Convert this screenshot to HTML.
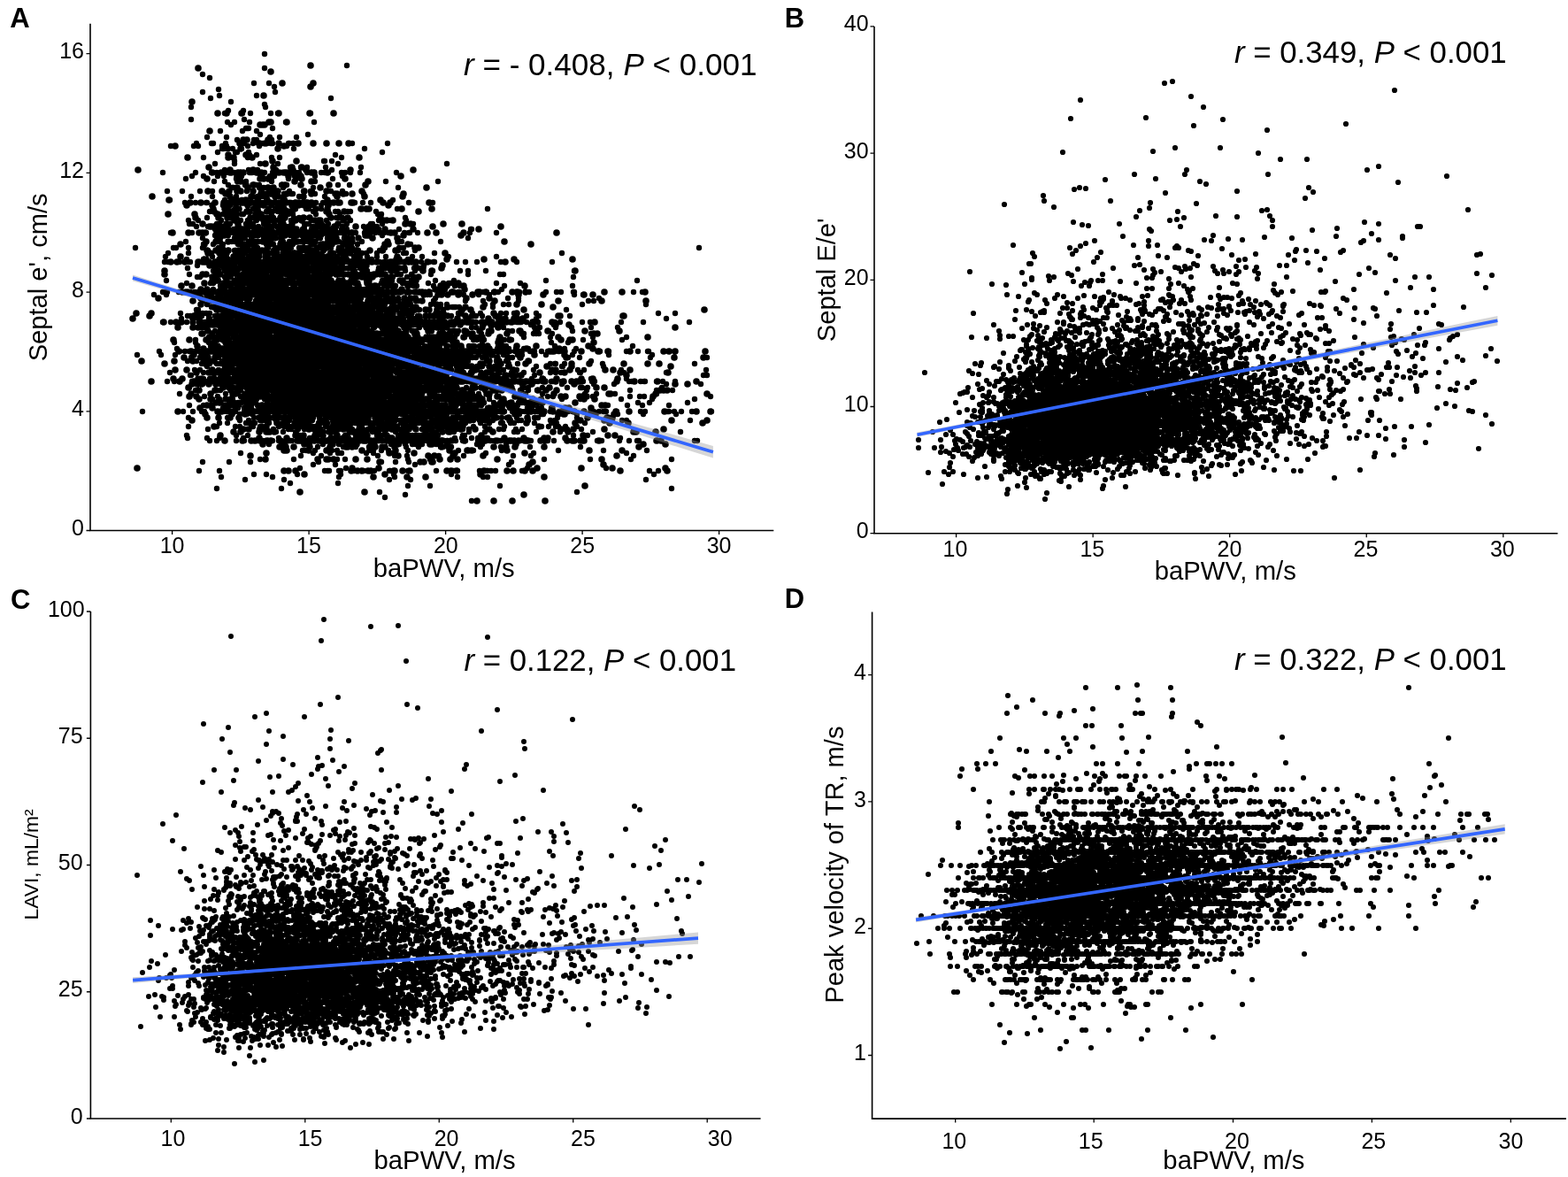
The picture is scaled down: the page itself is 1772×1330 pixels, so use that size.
<!DOCTYPE html>
<html><head><meta charset="utf-8"><title>Scatter plots: baPWV vs echocardiographic indices</title>
<style>html,body{margin:0;padding:0;background:#fff;}svg{display:block;}</style></head>
<body>
<svg width="1772" height="1330" viewBox="0 0 1772 1330" font-family="'Liberation Sans', Arial, Helvetica, sans-serif"><rect width="1772" height="1330" fill="#fff"/><path d="M229 84h0m8 4h0m50 6h0m12-33h0m0 16h0m5 17h0m6 4h0m82-24h0m-176 61h0m0-14h0m13-17h0m9 7h0m9-10h0m1 7h0m6 20h0m3 10h0m1-13h0m3-10h0m4 23h0m9-10h0m1-3h0m1 10h0m6 3h0m1-10h0m7-20h0m9 10h0m1 3h0m6 17h0m0-10h0m5-24h0m3 24h0m9 10h0m28-10h0m4 10h0m19-27h0m-181 54h0m26 0h0m3-3h0m2 3h0m6 13h0m4-23h0m5 7h0m2 0h0m5 10h0m3-24h0m2 20h0m0-3h0m1 3h0m1 0h0m2-6h0m1 3h0m0 3h0m0-13h0m2 13h0m3-27h0m2 27h0m3 4h0m1 0h0m1-14h0m0 14h0m3-10h0m2 6h0m1-20h0m0 14h0m2 0h0m2-17h0m2 0h0m0 20h0m0 13h0m1-6h0m0-27h0m1 30h0m4-13h0m1-4h0m3 0h0m0-10h0m0 27h0m2-13h0m1 0h0m0 3h0m1-13h0m0 10h0m2 0h0m2 0h0m4 0h0m3-7h0m1 7h0m1 0h0m0-4h0m0 20h0m1-16h0m0-17h0m8 33h0m0-23h0m8 10h0m2-3h0m1 0h0m4 0h0m1 0h0m0 6h0m3-13h0m1 7h0m12-10h0m31 23h0m7 3h0m12-16h0m14 6h0m20 4h0m6-10h0m-254 33h0m5 21h0m17 0h0m4-14h0m7-3h0m4-4h0m5 21h0m4-17h0m5 17h0m4-21h0m1 21h0m2-11h0m1-20h0m2 10h0m1 4h0m7 0h0m1 6h0m0-13h0m1 3h0m3 14h0m4 3h0m0-17h0m1 0h0m0 17h0m1 0h0m1-27h0m0-3h0m0 13h0m2 7h0m1 3h0m1-3h0m1-7h0m2 4h0m0-4h0m1 4h0m4 10h0m1-4h0m1 11h0m2-24h0m1 3h0m1 0h0m2 0h0m2-3h0m3 3h0m0 14h0m1-17h0m1 3h0m1 17h0m0-17h0m0 14h0m1-24h0m1 31h0m1-17h0m0 17h0m1-21h0m1 17h0m1-17h0m0-10h0m2 34h0m2-17h0m0 10h0m2-13h0m2 3h0m0 3h0m1 11h0m0-21h0m1-3h0m1 3h0m0 4h0m2-7h0m1 3h0m1-10h0m3 10h0m1 0h0m0 14h0m1-14h0m1 17h0m1 7h0m1-24h0m2 0h0m0 14h0m2-7h0m1 14h0m1-27h0m1 6h0m0 24h0m2 0h0m2-20h0m1-4h0m1 4h0m0 3h0m3-7h0m2-6h0m3 27h0m4-21h0m0-6h0m4 27h0m2 0h0m0-21h0m1 17h0m1-17h0m1 10h0m0-6h0m0 20h0m7-24h0m3-13h0m1 0h0m0 13h0m1-6h0m3 6h0m3 21h0m1-24h0m0-10h0m1 20h0m6-17h0m0 24h0m4-14h0m1 4h0m0 17h0m3-21h0m1 24h0m4-10h0m1-14h0m11 0h0m1-6h0m3 30h0m25-14h0m12-10h0m2 17h0m45-7h0m10-20h0m-313 41h0m17 3h0m4 20h0m1 4h0m2-31h0m2 31h0m3-24h0m1 27h0m2-7h0m5 4h0m4-24h0m1 17h0m0-17h0m1 27h0m2-17h0m1 17h0m2-34h0m2 34h0m1 3h0m2-6h0m2 3h0m1-3h0m2-4h0m1 10h0m1-17h0m0-10h0m1 10h0m1-16h0m1 33h0m2-6h0m0-21h0m0-3h0m0 27h0m1-3h0m0-17h0m2-4h0m0 21h0m0-24h0m4 0h0m0 30h0m0-20h0m1-10h0m2 30h0m0-30h0m0-7h0m1 4h0m1 30h0m0 3h0m1-3h0m2-7h0m1-7h0m0-16h0m0 3h0m1 13h0m0-16h0m1 16h0m1-16h0m0 3h0m1 0h0m1 24h0m1-24h0m0 27h0m1 3h0m0-10h0m1-20h0m0 24h0m1 3h0m0-7h0m1-20h0m0 27h0m2-27h0m1 7h0m0 17h0m0 3h0m0-34h0m1 24h0m0 13h0m1 0h0m1-23h0m0-4h0m0 17h0m1 0h0m0-3h0m1 0h0m0-24h0m0 4h0m1 0h0m0 30h0m0-17h0m0-17h0m1 37h0m0-27h0m1 10h0m0-20h0m0 7h0m1 17h0m1-24h0m1 7h0m0 17h0m1-14h0m0 21h0m1-24h0m0 20h0m0 4h0m0-31h0m1 7h0m1-3h0m0 13h0m0 17h0m1-10h0m0 13h0m1 0h0m0-23h0m0-7h0m1 17h0m0-7h0m0 17h0m0-20h0m1 13h0m0 7h0m1-27h0m1 30h0m0-30h0m0 13h0m0-10h0m1 14h0m0-7h0m0 10h0m0 7h0m1-10h0m1 7h0m0-4h0m1-13h0m1 0h0m1 20h0m1-17h0m1-17h0m0 14h0m1-4h0m1-3h0m0 24h0m1-11h0m0-6h0m0 23h0m1-23h0m1 13h0m1-27h0m0 24h0m0-17h0m0 17h0m1-20h0m0 3h0m2 0h0m0 27h0m1-27h0m0 10h0m1 20h0m0-17h0m0-13h0m1 0h0m1 27h0m0-27h0m1 0h0m0 20h0m2-13h0m0 6h0m1 4h0m1-17h0m0 20h0m1-20h0m0 7h0m2-7h0m2 0h0m0-7h0m0 24h0m1-14h0m2 17h0m1-27h0m0 37h0m2-13h0m0 10h0m0-3h0m0 6h0m2-23h0m0-7h0m0 24h0m1-17h0m1-7h0m0 3h0m1 21h0m0-17h0m0-7h0m3 30h0m0-10h0m1 7h0m1-24h0m0 24h0m0-17h0m1 20h0m2-17h0m0-13h0m1 27h0m1-3h0m1 0h0m3-21h0m0 4h0m2-7h0m2-7h0m1 34h0m1-7h0m1-17h0m1 7h0m0 14h0m3-24h0m5 30h0m0-20h0m1 17h0m0-10h0m2 7h0m0-7h0m0-7h0m0 7h0m1 0h0m1-4h0m2 17h0m1-3h0m0-10h0m5 13h0m0-6h0m1-14h0m3 10h0m0-10h0m2-10h0m3 0h0m9 7h0m0-7h0m1 27h0m2 3h0m1-23h0m2 23h0m3-30h0m0 24h0m2 0h0m4-14h0m1 17h0m1-14h0m1 7h0m0 10h0m3-17h0m1 11h0m9-4h0m3-23h0m5 10h0m2 23h0m7-13h0m1 7h0m0-4h0m3-20h0m5 24h0m22-24h0m43 30h0m1 0h0m18-23h0m-398 44h0m33 16h0m1-6h0m3-4h0m0 10h0m3-33h0m3 17h0m3 0h0m4 16h0m7-23h0m1 20h0m2 3h0m0-16h0m0 6h0m2 10h0m2-33h0m6 37h0m2-4h0m1 0h0m1-33h0m2 17h0m0-11h0m1 24h0m0-17h0m3-13h0m1 33h0m1-13h0m1 13h0m3-10h0m1 4h0m1-14h0m2 20h0m0-30h0m1 30h0m1-27h0m0-6h0m1 3h0m0 30h0m0-13h0m1-3h0m0 16h0m1-16h0m0 16h0m0-33h0m1 10h0m0 27h0m0-31h0m0 17h0m0-20h0m0 7h0m1 20h0m0 3h0m1-20h0m0 20h0m1-13h0m0 13h0m0-20h0m0 14h0m1 0h0m1-27h0m1 3h0m0 24h0m1-27h0m0 37h0m0-10h0m1 10h0m1-4h0m0-30h0m0 30h0m0-13h0m0-20h0m1 33h0m0-33h0m1 33h0m0-33h0m1 37h0m1-4h0m0-23h0m1 23h0m1 0h0m1-13h0m0-14h0m0 31h0m0-27h0m1 13h0m0-23h0m0 6h0m0 14h0m0 13h0m1-33h0m0 33h0m0-10h0m0-3h0m0 3h0m1 10h0m1 0h0m0-20h0m0 20h0m1-10h0m0-13h0m0 13h0m0-23h0m0 10h0m0 13h0m0-20h0m1 17h0m0-20h0m1 13h0m0 20h0m0-23h0m1 23h0m0-33h0m0 33h0m1-3h0m0-10h0m0-3h0m1-4h0m0-13h0m1 20h0m0-3h0m0-4h0m1-7h0m0 27h0m0-13h0m0-7h0m0 20h0m0-10h0m0-6h0m0 16h0m0-33h0m0 33h0m1-33h0m0 3h0m0-3h0m1 0h0m0 33h0m1 0h0m0-13h0m0-3h0m0-17h0m1 10h0m0 17h0m1 6h0m0-33h0m0 20h0m0 13h0m0-3h0m0 3h0m0-3h0m0-30h0m0 20h0m1 13h0m1-30h0m0 30h0m0-27h0m0 27h0m0-33h0m0 23h0m1 4h0m0 6h0m0-3h0m0-30h0m0 33h0m0-10h0m1-23h0m0 20h0m0 13h0m0-30h0m0 24h0m0 3h0m0 3h0m1-13h0m0 13h0m0-30h0m0 24h0m0-24h0m0-3h0m0 17h0m0-7h0m1 7h0m0 16h0m0-3h0m0-27h0m0-3h0m0 3h0m0 7h0m0 23h0m0-10h0m1-23h0m0 20h0m1 13h0m0-13h0m0 17h0m0-10h0m0 10h0m1-27h0m0 7h0m0 16h0m0-13h0m0-20h0m1 33h0m0-30h0m0 27h0m0 3h0m0-3h0m1-3h0m0 6h0m0-33h0m1 0h0m0 37h0m1 0h0m1-4h0m1 0h0m1-27h0m0 4h0m0 23h0m1-33h0m0 20h0m0 13h0m1 4h0m0-10h0m0-4h0m0-3h0m0-20h0m0 30h0m1-17h0m1-3h0m0 27h0m0-4h0m0-30h0m0 30h0m0-33h0m0 13h0m0 4h0m0 10h0m1 6h0m0-16h0m1-17h0m0 33h0m1-3h0m0 7h0m0-4h0m1 4h0m0-37h0m0 30h0m1-30h0m1 33h0m0-3h0m0 3h0m0-10h0m0-10h0m1 20h0m0-13h0m0 13h0m0-20h0m1 24h0m0-4h0m0-33h0m1 20h0m0-3h0m0 13h0m0-30h0m1 33h0m0-27h0m0 27h0m0-10h0m1 10h0m0-13h0m0 13h0m0-10h0m0 10h0m1 0h0m1-16h0m0 16h0m0-33h0m1 27h0m0 3h0m0 3h0m0-16h0m1 16h0m0-33h0m0 33h0m1-20h0m0-7h0m0 7h0m0 20h0m1-6h0m1-14h0m0-10h0m0-3h0m0 33h0m0-20h0m0 17h0m0-10h0m0-10h0m0-10h0m1 37h0m0-4h0m0-33h0m0 37h0m0-7h0m0 3h0m0-33h0m1 30h0m0-27h0m1 27h0m0-30h0m0 33h0m1-3h0m0-17h0m1 17h0m0 3h0m0-20h0m0 20h0m1-33h0m0 33h0m0 4h0m1-10h0m0-10h0m0 6h0m0 4h0m0 10h0m0-27h0m0 27h0m1-4h0m0-3h0m0 3h0m0-30h0m0-3h0m1 17h0m0-17h0m0 37h0m0-4h0m0 4h0m0-34h0m0 34h0m1-24h0m0-13h0m1 30h0m0-3h0m0-14h0m0 20h0m0-23h0m1 23h0m0-27h0m0-6h0m0 33h0m1 0h0m0 4h0m0-27h0m0-7h0m0-3h0m0 3h0m1 30h0m0-33h0m0 10h0m0 23h0m1-33h0m0 33h0m0-6h0m1-24h0m0 24h0m0-27h0m0 10h0m0-10h0m1 23h0m0 14h0m1-37h0m0 17h0m0 20h0m1-4h0m0-23h0m0 23h0m0-6h0m0 6h0m1-16h0m0 16h0m0-23h0m0 23h0m0 4h0m1-4h0m0-30h0m0 34h0m0-4h0m1-33h0m1 20h0m0-14h0m2 27h0m0-33h0m0 27h0m1 10h0m0-37h0m0 27h0m1 6h0m0-10h0m0 10h0m0 4h0m0-20h0m0-11h0m1 27h0m0-6h0m0-17h0m1 23h0m0-27h0m0 17h0m0-6h0m1 16h0m0-6h0m1-4h0m0-23h0m0 30h0m0 3h0m1-33h0m0 3h0m0 17h0m0-20h0m1 33h0m0-20h0m0-10h0m0 17h0m0 3h0m1-13h0m0 13h0m0 7h0m0-3h0m0-27h0m0 37h0m0-4h0m1-23h0m0 23h0m0-10h0m0 10h0m0-33h0m1 37h0m0-34h0m0 30h0m1-33h0m0 33h0m1-33h0m0 33h0m0-13h0m0 13h0m0-16h0m0 6h0m1 10h0m0-10h0m0 7h0m0 3h0m0-10h0m1-17h0m0-6h0m0 30h0m0-13h0m0 20h0m1-10h0m1 0h0m0 10h0m0-34h0m0 3h0m0 27h0m1-33h0m0 33h0m0-16h0m0 16h0m0-30h0m0 30h0m1-10h0m0-23h0m0 37h0m1-20h0m0 20h0m0-37h0m0 13h0m0 20h0m1-33h0m0 20h0m1-7h0m0 20h0m1-3h0m0 3h0m0-33h0m0 37h0m1-37h0m1 0h0m0 6h0m0 27h0m0-23h0m1 23h0m0-33h0m0 3h0m0 24h0m1-17h0m0-10h0m1 37h0m0-31h0m0 17h0m0-10h0m1-7h0m0 21h0m0 6h0m0-33h0m0 17h0m0 16h0m1 0h0m0-6h0m1-27h0m1 33h0m0-10h0m0-23h0m1 30h0m0-30h0m1 0h0m1 33h0m0-33h0m1 30h0m1 3h0m0-33h0m0 10h0m0 23h0m1-23h0m0 7h0m1 13h0m0-7h0m0-3h0m0-20h0m1 30h0m0 3h0m1 4h0m2-24h0m0 14h0m1 6h0m0-27h0m0 4h0m1 17h0m0-27h0m2 13h0m0-7h0m0 14h0m0 10h0m1-13h0m0-11h0m0 27h0m2 0h0m0-33h0m0 10h0m1 23h0m1-20h0m0 20h0m0-20h0m1 4h0m0-17h0m0 6h0m2 21h0m0 6h0m2-33h0m0 27h0m0 6h0m0 4h0m1-14h0m0 7h0m1 0h0m0 3h0m0-20h0m1 7h0m0 13h0m1 0h0m0 4h0m1 0h0m0-10h0m1 10h0m1-27h0m0 13h0m1 10h0m2-33h0m2 23h0m1 4h0m1 6h0m1-33h0m3 30h0m1 3h0m1 0h0m1 0h0m1-33h0m2 27h0m0-4h0m1 10h0m1 0h0m1-13h0m0-20h0m0 33h0m1-33h0m2 3h0m0 34h0m1-20h0m0 3h0m1-20h0m0 33h0m1-16h0m0 16h0m1-6h0m2-17h0m1-10h0m0 33h0m1 0h0m0-33h0m1 33h0m0-33h0m2 33h0m1 0h0m2 0h0m2 0h0m1-3h0m1-10h0m0-10h0m1 23h0m0-16h0m1 16h0m0-16h0m2 16h0m0-23h0m2 13h0m0-6h0m0 16h0m1-33h0m2 23h0m2 7h0m1 3h0m0-33h0m1 0h0m1 13h0m1 20h0m1-6h0m3-7h0m1 17h0m2-37h0m4 33h0m1-6h0m2 10h0m6-4h0m5 0h0m1 0h0m0-10h0m0 10h0m7-23h0m9 17h0m9 6h0m10 0h0m3-27h0m2-6h0m8 33h0m22-33h0m0 27h0m5 6h0m18 0h0m40 0h0m11-10h0m155-6h0m-616 53h0m10-3h0m2 0h0m2-13h0m0 16h0m1-3h0m13 0h0m9-10h0m1-17h0m2 7h0m1 20h0m3 3h0m2-3h0m3-17h0m1 17h0m2-17h0m4 17h0m3 0h0m1 0h0m1 0h0m2 3h0m1-13h0m3 0h0m0 7h0m0-21h0m1 11h0m1-7h0m0 20h0m2-13h0m0-4h0m0 4h0m1 20h0m1-7h0m0-13h0m2 6h0m0 4h0m1-4h0m1 0h0m0 4h0m1-4h0m1-20h0m0 17h0m1 7h0m0-21h0m0 7h0m1 17h0m0 3h0m1-3h0m0-7h0m0-13h0m1-4h0m0 24h0m0-17h0m1 17h0m1 0h0m0-7h0m0 7h0m1 0h0m0-20h0m1 3h0m0 17h0m0 3h0m0-3h0m1-20h0m0 20h0m1-24h0m0 31h0m0-7h0m1-10h0m1-3h0m0-14h0m1 14h0m0 3h0m1 0h0m0 10h0m1 7h0m0-24h0m0 17h0m0-7h0m1-6h0m1 13h0m0-17h0m0 17h0m1-7h0m0 7h0m0-17h0m0 17h0m1-3h0m0-10h0m1 13h0m1-20h0m0 20h0m0 7h0m1-20h0m0-7h0m0 23h0m0-3h0m0-10h0m1 0h0m0 10h0m1 7h0m0-4h0m0-3h0m0-27h0m0 30h0m1-23h0m0 3h0m0 7h0m0 10h0m0 7h0m0-27h0m0 20h0m1 0h0m0-24h0m1 27h0m0-3h0m0-3h0m0-7h0m1-17h0m0 27h0m0-3h0m1-21h0m0 14h0m1 7h0m0 3h0m0-27h0m1 30h0m0-3h0m1-13h0m0-4h0m0 14h0m0-17h0m1 13h0m0-6h0m0 13h0m1 0h0m0-27h0m1 7h0m0 20h0m1 3h0m0-20h0m0-10h0m0 27h0m1-3h0m0-14h0m0 14h0m0 3h0m1-27h0m0 24h0m0-24h0m0 27h0m1-13h0m0 6h0m0 7h0m1 0h0m0-3h0m0 3h0m1-27h0m0 27h0m0-20h0m0-4h0m1 4h0m0-4h0m0 24h0m1-24h0m0 17h0m0-10h0m0 14h0m0-21h0m1 24h0m0-17h0m0-10h0m0 7h0m0 27h0m1-7h0m0-7h0m0 7h0m0-10h0m1 7h0m0 3h0m0-20h0m0 3h0m0 10h0m0 4h0m0-14h0m1 17h0m0-3h0m0 3h0m1-3h0m0 3h0m0-20h0m0 7h0m0 6h0m1 7h0m1-10h0m0 7h0m0 10h0m0-31h0m0 24h0m0 3h0m1 4h0m0-20h0m0 6h0m0-17h0m0 31h0m0-7h0m1-3h0m0-24h0m0 14h0m1 13h0m0-13h0m0-14h0m1 30h0m0-27h0m0 11h0m0 13h0m1 3h0m0 4h0m0-27h0m0-7h0m0 10h0m0 14h0m1-14h0m0 10h0m0-6h0m0-7h0m1 20h0m0-20h0m1 20h0m1-17h0m0 17h0m0-7h0m0 4h0m0 3h0m1 0h0m1 3h0m0-6h0m0-17h0m1 20h0m0-7h0m0 7h0m1-7h0m0 7h0m0-3h0m0 3h0m0 3h0m0-3h0m0-10h0m0 10h0m1 0h0m0-24h0m0 24h0m1-20h0m0 17h0m1-24h0m0 20h0m0-20h0m0 24h0m0 3h0m0-27h0m0 20h0m1 7h0m1 0h0m0-7h0m0 14h0m0-20h0m0 10h0m1-24h0m0 27h0m0-10h0m0-14h0m0 17h0m1-3h0m0-3h0m0 10h0m0 6h0m0-23h0m1 20h0m0-24h0m1 27h0m0-13h0m0 7h0m1-7h0m0 10h0m1 0h0m0 3h0m0 4h0m0-7h0m1-13h0m0-14h0m0 7h0m0 7h0m0-14h0m1 27h0m0-10h0m0 10h0m0-3h0m0-7h0m1-7h0m0 20h0m0-13h0m1-3h0m0 3h0m0 3h0m0 7h0m1 3h0m0-3h0m0-20h0m1-4h0m0 24h0m0-3h0m1 10h0m0-17h0m0-7h0m0 20h0m0 4h0m1-31h0m0 7h0m0 17h0m0-20h0m0 27h0m0-7h0m1 0h0m0-10h0m1-7h0m0 17h0m0 7h0m0-7h0m0-20h0m1 7h0m0 20h0m0-7h0m0-27h0m0 7h0m0-4h0m0 4h0m1 10h0m0-7h0m0 17h0m0-27h0m1 27h0m0-24h0m0 27h0m0-3h0m0-7h0m1 7h0m1-3h0m0 3h0m0 7h0m0-27h0m1 13h0m0-13h0m1 20h0m0-13h0m0-14h0m0 27h0m1-7h0m0 7h0m0 7h0m0-7h0m0 3h0m0-3h0m2-3h0m0-4h0m0-17h0m0-3h0m0 27h0m1-24h0m0 31h0m0-7h0m0-7h0m0 7h0m1-24h0m0 21h0m0 3h0m0-3h0m0-24h0m0 20h0m1 10h0m0-6h0m0-14h0m0 17h0m0 3h0m0-3h0m1 0h0m0-27h0m1 24h0m0-21h0m0-3h0m1 10h0m0 17h0m1-24h0m0 24h0m0-17h0m0 17h0m2-7h0m0-20h0m0 17h0m0-7h0m0 17h0m0-27h0m1 24h0m0 3h0m0-13h0m0 13h0m1 0h0m0-13h0m0 13h0m0-7h0m0 14h0m0-31h0m1 24h0m0-7h0m0 7h0m1 0h0m0 3h0m0-16h0m0 13h0m1 3h0m0-3h0m1 0h0m0-17h0m0 4h0m0 20h0m0-7h0m1-10h0m0 17h0m1 0h0m1-34h0m0 17h0m0 10h0m0-13h0m0-4h0m0 17h0m1 3h0m0-6h0m1-7h0m0-14h0m0 4h0m0-7h0m0 24h0m1 0h0m0 3h0m0 3h0m1-3h0m1-10h0m0 3h0m0 7h0m1-10h0m0-3h0m0 16h0m0-6h0m0-21h0m0 24h0m1 0h0m0-20h0m0 20h0m1 7h0m0-7h0m1 0h0m1-7h0m0 10h0m2 0h0m0-3h0m0-3h0m0-24h0m0 27h0m1 0h0m0-7h0m0 7h0m0 3h0m0-13h0m0 13h0m1-3h0m0 7h0m0-4h0m1-6h0m0 10h0m0-17h0m0-14h0m0 24h0m1 0h0m0-7h0m0 7h0m1 0h0m0-3h0m0-17h0m0 20h0m1 0h0m0-7h0m0-13h0m1 20h0m0-24h0m0 11h0m1 13h0m0-27h0m0 20h0m0 7h0m1 0h0m0-20h0m0-4h0m1 11h0m0 16h0m0-10h0m0 10h0m0-3h0m1-27h0m0 30h0m0-10h0m0 7h0m1 0h0m1-10h0m0 13h0m0-3h0m0-7h0m1 10h0m1 0h0m0-3h0m0-27h0m0 27h0m1 0h0m1 0h0m0-27h0m0 27h0m1-10h0m0 7h0m0-4h0m1-3h0m0 10h0m0 7h0m1 0h0m0-20h0m1-14h0m0 27h0m1 3h0m0-16h0m0 20h0m0-31h0m1 24h0m0-27h0m1 17h0m0-7h0m0-7h0m0 11h0m1 3h0m0 10h0m0-10h0m0 10h0m0-17h0m1 20h0m0-23h0m1 20h0m0-7h0m0 7h0m0-17h0m0 17h0m1 0h0m0 7h0m0-7h0m2 0h0m0-27h0m0 27h0m1 0h0m0 7h0m0-27h0m1 20h0m0-20h0m1 20h0m1 0h0m0-24h0m1 21h0m0 3h0m0-17h0m2 0h0m0 17h0m0-13h0m1 16h0m0-27h0m1 24h0m0-7h0m1-13h0m0 20h0m1 3h0m0 4h0m0-10h0m0 6h0m1 0h0m0 4h0m1-7h0m1-3h0m0 3h0m0-20h0m0 17h0m1-4h0m1 14h0m0-7h0m0-7h0m1 7h0m0 7h0m0-27h0m1 27h0m0-14h0m0 14h0m1 0h0m0-7h0m1 7h0m0-14h0m1-20h0m0 24h0m0-21h0m1 24h0m0-24h0m0 31h0m1-7h0m1 0h0m0-3h0m0 3h0m0-10h0m0 7h0m1-10h0m1-14h0m0 27h0m1 0h0m0-7h0m0 10h0m0-16h0m1-14h0m1 27h0m1-10h0m0-7h0m0 20h0m1 4h0m1-7h0m0-10h0m0-17h0m0 14h0m0 20h0m2-14h0m0 7h0m1-17h0m0 17h0m0-13h0m1 0h0m0-11h0m0 7h0m1 0h0m1 14h0m0-24h0m0 27h0m2 0h0m0-7h0m2-13h0m1 27h0m0-7h0m0 7h0m1-7h0m1-27h0m0 27h0m1-20h0m1 20h0m1-10h0m2-17h0m1 3h0m0 14h0m2-7h0m0 17h0m2 0h0m0-10h0m0 10h0m1 0h0m2-20h0m0 7h0m2 6h0m1 7h0m0 7h0m0-7h0m0-27h0m1 3h0m1 31h0m1-14h0m3-20h0m6 27h0m1 0h0m2 3h0m1-13h0m0 10h0m1 0h0m1 3h0m1-23h0m2-4h0m1 17h0m2-6h0m0 20h0m8-7h0m1-10h0m2 7h0m4-7h0m2 0h0m1 10h0m3 0h0m0-13h0m1 6h0m4 7h0m1 0h0m1-7h0m0-17h0m4 27h0m5-23h0m0-4h0m5 27h0m7 0h0m0-3h0m5 0h0m3-24h0m1 24h0m3 3h0m5-3h0m3-10h0m2 10h0m2-20h0m2 17h0m2-17h0m1 13h0m4 14h0m12 0h0m1-7h0m1-10h0m6 10h0m4 0h0m19 0h0m0-13h0m12 13h0m5 0h0m13-7h0m1-10h0m0 17h0m1-24h0m0 24h0m0 3h0m10 0h0m18 4h0m39-7h0m4-13h0m6 13h0m-542 34h0m9 0h0m11-10h0m1 6h0m6 4h0m1-7h0m3 0h0m7-7h0m2 0h0m1 14h0m1 3h0m2 3h0m0-3h0m0-10h0m1 7h0m0-10h0m0-14h0m2 30h0m1-6h0m1 0h0m0 6h0m0-16h0m1 10h0m0-20h0m2 13h0m0 7h0m0-4h0m0-3h0m1 3h0m0-6h0m2-7h0m2 0h0m2 27h0m0-17h0m1 3h0m0-3h0m1 7h0m1-20h0m0-4h0m1 37h0m0-13h0m1 13h0m0-27h0m1-6h0m0 33h0m1-33h0m0 26h0m0-30h0m0 17h0m1 10h0m0-20h0m1 0h0m0 17h0m1 10h0m1-10h0m0 6h0m0-6h0m1 3h0m0-13h0m0-7h0m0-7h0m0 24h0m0 13h0m1-3h0m0-30h0m0 23h0m0-3h0m0-14h0m1 0h0m0 14h0m0 6h0m1-30h0m0 30h0m0-6h0m1 3h0m0-3h0m0-20h0m0 16h0m0-10h0m1 14h0m0-7h0m0-17h0m0 24h0m0-7h0m1-3h0m0 16h0m0-26h0m1 0h0m0 30h0m1-27h0m0 10h0m0-17h0m0 34h0m0-10h0m0 10h0m0-24h0m1 14h0m0-14h0m0-3h0m0 20h0m0-13h0m0-10h0m1 10h0m0 13h0m0-17h0m0-6h0m1 20h0m0 3h0m0-3h0m0-14h0m0 7h0m0-13h0m1 3h0m0-3h0m0 10h0m0 10h0m1-7h0m0-10h0m0 17h0m0 10h0m0-20h0m0 3h0m0 3h0m0-3h0m1 10h0m0-20h0m0-7h0m1 24h0m0-24h0m0 20h0m0 10h0m0-16h0m0 10h0m1-4h0m0-20h0m0 20h0m0 4h0m0-4h0m0 10h0m0-30h0m1 0h0m0 7h0m0 27h0m1 0h0m0 3h0m0-7h0m1-3h0m0-23h0m0 20h0m1 0h0m0-14h0m0 10h0m0-16h0m0 20h0m1 10h0m0-10h0m0 13h0m0-7h0m0-26h0m0 23h0m1-20h0m0 17h0m0-20h0m0 23h0m1 0h0m0 7h0m0-20h0m0 3h0m0 13h0m0-6h0m1-24h0m0 24h0m1 0h0m0-4h0m0-10h0m0 14h0m1 3h0m0-3h0m0-17h0m0 23h0m0-6h0m0 3h0m0 3h0m0 7h0m1-27h0m0 20h0m0-6h0m0-20h0m0 23h0m0-3h0m0-4h0m0 14h0m0-7h0m0 10h0m1-17h0m0 17h0m0-13h0m0-4h0m0 4h0m0-14h0m0 4h0m0-7h0m0 13h0m0 7h0m1-3h0m0-10h0m0-7h0m0 17h0m0-4h0m0 14h0m0-10h0m0-4h0m1 7h0m0-3h0m0 13h0m0-17h0m0 4h0m1 13h0m0-7h0m0-16h0m0 20h0m1-10h0m0-10h0m0 10h0m0-17h0m0 17h0m0-14h0m0 14h0m0-4h0m0 10h0m1-26h0m0 6h0m0 10h0m0 4h0m0-17h0m0 17h0m1 10h0m0-7h0m0 10h0m0-13h0m0-7h0m0 20h0m0-33h0m0-4h0m0 10h0m0 20h0m1 4h0m0-34h0m0 24h0m0-10h0m0 23h0m0-3h0m0-10h0m0 6h0m0-23h0m1 17h0m0 3h0m0-17h0m0 14h0m0 10h0m0-10h0m1 6h0m0-6h0m0-20h0m0 20h0m0-4h0m0 17h0m1-7h0m0-30h0m0 10h0m1 24h0m0 3h0m0-3h0m0-30h0m0 6h0m0-3h0m0 27h0m0-24h0m1-3h0m0 17h0m0 6h0m0-30h0m1 24h0m0-4h0m0-13h0m0 17h0m1-17h0m0 17h0m0-20h0m0 23h0m0-27h0m1 14h0m0 10h0m0 10h0m0-10h0m0-4h0m0-20h0m0 10h0m1 7h0m0-7h0m0 24h0m0-34h0m1 20h0m0 4h0m0-14h0m0 20h0m1-6h0m0-20h0m0 6h0m0-10h0m0 24h0m0-17h0m0 27h0m0-30h0m1 13h0m0-10h0m0 17h0m0 13h0m0-7h0m0-30h0m0 24h0m0-7h0m0 20h0m0-13h0m0-4h0m1 0h0m0 10h0m0-6h0m1-10h0m0 13h0m0-3h0m0 6h0m0 7h0m0-13h0m0 10h0m1-10h0m0 13h0m0-33h0m0 23h0m0-3h0m0-10h0m0 16h0m1-6h0m1 0h0m0-4h0m0-3h0m0 3h0m0 7h0m1-20h0m0 27h0m0-14h0m1 10h0m0-16h0m1 10h0m0-4h0m0-10h0m0 24h0m0-17h0m0-7h0m1-6h0m0 20h0m0-14h0m0 7h0m0 7h0m0-10h0m0 10h0m0-7h0m0-13h0m1 13h0m0 10h0m0-17h0m0 7h0m0 20h0m0-17h0m0-10h0m0 24h0m1-17h0m0 7h0m0-14h0m0-10h0m0 10h0m0 14h0m0-17h0m0 13h0m0-13h0m1 13h0m0 10h0m0-16h0m0 6h0m0 4h0m0-14h0m0 14h0m1-4h0m0 4h0m0-14h0m0 24h0m1-30h0m0 3h0m0-3h0m0 20h0m0-20h0m1 20h0m0-24h0m0 20h0m0 4h0m0 10h0m0-24h0m1-3h0m0 17h0m0 6h0m0-10h0m1-10h0m0 4h0m1-7h0m0 23h0m0 7h0m0-20h0m0-13h0m0 23h0m0-20h0m1 17h0m0-4h0m0 4h0m0-10h0m0 3h0m0 7h0m0-10h0m0 23h0m1-13h0m0-24h0m0 4h0m0 20h0m0 13h0m0-13h0m0-14h0m0-3h0m1 20h0m0 7h0m0-14h0m0-20h0m1 4h0m0 33h0m0-20h0m0-13h0m0 30h0m0-17h0m0-3h0m1 10h0m0-14h0m0 14h0m0-20h0m0 20h0m0 6h0m0-20h0m1 17h0m0-3h0m0 13h0m0-10h0m0 7h0m1-27h0m0-3h0m0 10h0m0-10h0m0 23h0m0-3h0m0 6h0m0-6h0m0-24h0m1 27h0m0-7h0m0 17h0m0-10h0m0 7h0m1-7h0m0-27h0m0 4h0m0 20h0m0 10h0m1-14h0m0 17h0m0-37h0m0 27h0m0-7h0m0-16h0m0 20h0m1-24h0m0 27h0m0-3h0m0-24h0m0 17h0m0 17h0m0-30h0m0 20h0m0-7h0m1 10h0m0-17h0m0 10h0m0 7h0m0-13h0m0 13h0m1-10h0m0 17h0m0-27h0m0 7h0m0 10h0m0-14h0m1 14h0m0-24h0m0 24h0m1 0h0m0 10h0m0-30h0m0 3h0m0 10h0m0 7h0m0-7h0m0-17h0m1 34h0m0-30h0m1 20h0m0-14h0m0 24h0m0-27h0m1 17h0m0-10h0m0-10h0m0 20h0m0-4h0m1 17h0m0-33h0m0 13h0m0 13h0m0-23h0m0 30h0m1-27h0m0 4h0m0 10h0m0-17h0m0 27h0m0-7h0m0-13h0m1-7h0m0 3h0m0 14h0m0-24h0m1 10h0m0 14h0m0 13h0m0-17h0m0 17h0m0-13h0m1-4h0m0 17h0m0-13h0m0 6h0m0-6h0m0-17h0m0 20h0m1-17h0m0 14h0m0 6h0m0-16h0m0 10h0m0 13h0m0-3h0m1-30h0m0 16h0m0 4h0m0-14h0m0 4h0m0 10h0m0-17h0m0 17h0m0 13h0m0-3h0m0-17h0m1 17h0m0-30h0m0 26h0m0-6h0m0 3h0m0 7h0m0-7h0m0-23h0m0 20h0m1 10h0m0-10h0m0-7h0m0-13h0m0 26h0m0-3h0m1 0h0m0-10h0m0 7h0m0-4h0m0 4h0m1-10h0m0 10h0m0 3h0m0-7h0m1 10h0m0 7h0m0-13h0m1-14h0m0 17h0m0-27h0m0 24h0m0 6h0m0-6h0m1 0h0m0 6h0m0-20h0m0 20h0m1-6h0m0 6h0m0-6h0m0-7h0m0 7h0m0 13h0m1-23h0m0-7h0m0 3h0m0 14h0m0-14h0m1 14h0m0-4h0m0 4h0m0 13h0m0-13h0m1-14h0m0 27h0m0-13h0m0-7h0m0 7h0m0 10h0m0-10h0m0-4h0m0-3h0m1 13h0m0 4h0m0-20h0m1 13h0m0-3h0m0-17h0m0 23h0m1-30h0m0 34h0m0-10h0m0 10h0m0-27h0m0-3h0m0 20h0m0-10h0m0 20h0m0-7h0m0-3h0m1 0h0m0 13h0m0-37h0m0 17h0m0 7h0m0-14h0m0 10h0m0 4h0m0 13h0m0-3h0m0-14h0m1 17h0m0-13h0m0-17h0m0 17h0m0 3h0m0-20h0m0 23h0m0-30h0m1 34h0m0-10h0m0 10h0m0-10h0m1-4h0m0-16h0m0 33h0m0-13h0m0-14h0m0 7h0m0 7h0m0-7h0m0-13h0m0 30h0m0-34h0m1 24h0m0-4h0m0-3h0m0 7h0m0 3h0m0-10h0m1 7h0m0 3h0m0-17h0m0 27h0m0-27h0m0 14h0m1-7h0m0 7h0m0 13h0m1-13h0m0-24h0m0 14h0m1 0h0m0 13h0m0-3h0m1 3h0m0-27h0m0 37h0m1-20h0m0-7h0m0 14h0m0 13h0m0-7h0m1-3h0m0-27h0m0 34h0m0-24h0m1 4h0m0 10h0m0 3h0m0-10h0m0 17h0m0 3h0m1-13h0m0 10h0m0-17h0m0-17h0m1 24h0m0-17h0m0 17h0m0 10h0m0-14h0m1 17h0m0-13h0m0-10h0m1-14h0m0 24h0m0-4h0m0-13h0m0 7h0m0-7h0m0 17h0m0-14h0m0 24h0m0-10h0m1 0h0m0-10h0m0-14h0m0 7h0m0 7h0m0 13h0m0-3h0m2 0h0m0 10h0m1-14h0m0 14h0m0-34h0m0 24h0m1-10h0m0 10h0m0 13h0m0-13h0m0-17h0m0 23h0m0-6h0m0-4h0m0-13h0m1 17h0m0 3h0m0-3h0m0-24h0m0 37h0m0-13h0m1 0h0m0-20h0m0 23h0m0-27h0m0 34h0m1-10h0m0-10h0m0 10h0m0 3h0m0 3h0m1-16h0m0 13h0m0-17h0m0-10h0m0 4h0m0 26h0m0-13h0m0-7h0m0 14h0m0-7h0m0 7h0m1-7h0m0-3h0m1 10h0m0 13h0m0-10h0m1-10h0m0 7h0m0-7h0m0 3h0m1 4h0m0 13h0m0-27h0m0 14h0m0 13h0m1-13h0m0-4h0m0-13h0m0 30h0m1-33h0m0 20h0m0-24h0m0 34h0m1-10h0m0-4h0m0-16h0m0 23h0m1 7h0m0-10h0m1-24h0m0 27h0m0-10h0m0 7h0m0-14h0m0 14h0m0 3h0m1-17h0m0 14h0m0-17h0m0 23h0m1 0h0m0-3h0m1-3h0m0 10h0m0-10h0m0-24h0m1 27h0m0 7h0m0-7h0m0 7h0m0-7h0m0-17h0m1 20h0m0-6h0m0-10h0m0 10h0m1 13h0m0-7h0m0-20h0m0 17h0m0-20h0m0 17h0m0 13h0m0-10h0m1-10h0m0-13h0m1 13h0m0-7h0m0-6h0m0 33h0m0-30h0m0 17h0m0 10h0m1-34h0m0 4h0m0-4h0m0 24h0m0-14h0m0 14h0m1-24h0m0 24h0m1 0h0m0-20h0m0 30h0m0-34h0m0 17h0m0-13h0m0 16h0m0 17h0m1-27h0m0 17h0m0-10h0m0 7h0m0-10h0m1-14h0m0 24h0m0 13h0m0-30h0m0 30h0m0-27h0m0 24h0m1-10h0m0-17h0m1 20h0m0-10h0m0-13h0m0 20h0m0-17h0m0 17h0m1 0h0m0-7h0m0 3h0m1 4h0m0-17h0m0 17h0m0 6h0m1-10h0m1 4h0m1 3h0m0 7h0m0-7h0m1 0h0m0-13h0m0 23h0m0-3h0m0-10h0m0 6h0m1-20h0m1 17h0m0-13h0m0 10h0m0-14h0m0 7h0m0 7h0m1-14h0m0 27h0m0-13h0m1 10h0m0-7h0m1 10h0m0-3h0m1-30h0m0 6h0m0-3h0m0 30h0m0-37h0m0 4h0m0 20h0m0 13h0m1-7h0m0-13h0m0-17h0m0 4h0m1 20h0m0-10h0m0 16h0m0-6h0m1 0h0m0-20h0m1 33h0m0-37h0m1 27h0m0-10h0m1 7h0m0-10h0m0 10h0m0 3h0m0-3h0m1-14h0m0 4h0m0-10h0m1 33h0m0-27h0m0 4h0m0 3h0m1 3h0m0 4h0m0-10h0m0 10h0m1 0h0m0-24h0m1 24h0m0-14h0m0 20h0m1-23h0m0 17h0m0-7h0m0 7h0m1 0h0m0 6h0m1 0h0m0-26h0m0 20h0m0 3h0m1 7h0m0-7h0m0-3h0m1-7h0m0 13h0m0-30h0m1 20h0m0 14h0m0-17h0m0 10h0m0-3h0m1-24h0m0 24h0m1 13h0m1-37h0m0 17h0m0 3h0m1-10h0m0 10h0m0 4h0m1 0h0m0 13h0m0-3h0m0-14h0m1 4h0m1-4h0m0 4h0m0-17h0m0 27h0m1-27h0m0 3h0m1 14h0m0 13h0m1-10h0m0-3h0m0-24h0m0 10h0m0 24h0m1-10h0m0-17h0m0 17h0m2 0h0m0-4h0m0-13h0m1 0h0m0 13h0m1 4h0m0 13h0m1 0h0m0-20h0m0 10h0m0-3h0m1-10h0m0 23h0m0-27h0m1 4h0m0 6h0m1-20h0m1 7h0m0 17h0m1 0h0m0-14h0m0 27h0m0-13h0m0-17h0m1 17h0m0 6h0m0-20h0m2 17h0m0-3h0m0-20h0m1 16h0m0-3h0m0 3h0m1-16h0m0 10h0m0 10h0m1 0h0m0-14h0m0 14h0m1-14h0m0 24h0m0-10h0m1-14h0m0 24h0m0-7h0m1 10h0m0-30h0m0 3h0m0 17h0m0-3h0m1 0h0m0-4h0m0-13h0m1 27h0m0-10h0m0-14h0m0-10h0m0 20h0m1 4h0m1-4h0m0 4h0m0-7h0m0 3h0m1-10h0m0-10h0m0 20h0m0-3h0m1 13h0m0-20h0m0 7h0m1 7h0m1 0h0m3 0h0m1 0h0m2 6h0m1-6h0m1 0h0m2 10h0m1-10h0m0-20h0m1 30h0m0-17h0m0 17h0m2-34h0m0 24h0m1 0h0m1 0h0m1 0h0m1 0h0m0-7h0m1 0h0m1 13h0m0-6h0m1-10h0m1-10h0m0 3h0m1 17h0m1 10h0m0-14h0m0 10h0m1-6h0m0-14h0m1 27h0m0-13h0m1 0h0m2-17h0m0-3h0m4 33h0m0-13h0m1-7h0m0 10h0m0 7h0m1-10h0m0-17h0m0 20h0m0-20h0m2 20h0m0-20h0m1 17h0m1 0h0m0-17h0m3 7h0m0 10h0m0 10h0m1-27h0m1 17h0m1-14h0m2 0h0m2 14h0m1-24h0m1 34h0m0-10h0m1-4h0m1 4h0m2 13h0m0-13h0m2-7h0m0 13h0m1-6h0m0-10h0m3 3h0m1 13h0m0-6h0m0-7h0m5-3h0m1 23h0m0-13h0m1-7h0m1 7h0m0-24h0m1 24h0m1-20h0m3 20h0m1 10h0m3-4h0m1-6h0m1-17h0m0-3h0m3 23h0m3-3h0m0-4h0m1 4h0m0-7h0m0 10h0m1-3h0m1-10h0m1 10h0m2-20h0m0 26h0m3-16h0m2 20h0m1-30h0m0 20h0m1 0h0m3 0h0m0 10h0m1-10h0m1-10h0m3 10h0m1 0h0m0-4h0m1-20h0m1 24h0m1 0h0m1 0h0m1-4h0m2 17h0m3-20h0m0 7h0m5 3h0m2-3h0m1 13h0m1-7h0m1 4h0m1-20h0m0 23h0m0-17h0m2 4h0m1 13h0m0-7h0m0-13h0m1 13h0m10 4h0m4 3h0m2-10h0m1-3h0m1 6h0m5-6h0m7-14h0m4 7h0m2 13h0m1 4h0m11-10h0m0-20h0m7-4h0m2 24h0m1 13h0m0-7h0m3-30h0m27 30h0m4-6h0m25 0h0m3-20h0m14 10h0m9 6h0m10-6h0m16 10h0m-624 37h0m25-4h0m2 4h0m15-14h0m1 14h0m2-7h0m3 3h0m6 0h0m3 11h0m2-11h0m1 0h0m1 7h0m1-7h0m3 21h0m1-34h0m0 3h0m0 10h0m1 11h0m3-11h0m1 7h0m0 14h0m2-7h0m2-3h0m2-7h0m1 7h0m1 6h0m0-17h0m1 0h0m1-16h0m0 27h0m0-21h0m1 24h0m1-30h0m0 10h0m0 6h0m1 11h0m0 10h0m0-27h0m2 6h0m1 0h0m1-3h0m0 3h0m1-16h0m1 30h0m0-17h0m1-10h0m0 17h0m0-7h0m1 7h0m0 17h0m0-14h0m2-10h0m0 17h0m1-14h0m0 14h0m1-3h0m1 0h0m0-7h0m0-7h0m1-13h0m0 37h0m0-21h0m0 4h0m0-4h0m1 4h0m0 3h0m0 10h0m1-27h0m0 10h0m0 21h0m0-17h0m2-20h0m1 23h0m1 4h0m0-24h0m0 13h0m1 14h0m0-14h0m0 17h0m0-20h0m0 24h0m1-27h0m1 6h0m0-3h0m0 24h0m0-21h0m0 14h0m0 3h0m1-17h0m0-3h0m1 3h0m0-10h0m0-6h0m0 16h0m0 11h0m1-21h0m0 31h0m0-31h0m1 17h0m0-13h0m0-10h0m0 16h0m0 4h0m1 17h0m0-24h0m0 10h0m0-13h0m0 17h0m0-4h0m1-7h0m0-13h0m0 34h0m0-21h0m0 11h0m0-11h0m0 4h0m0-7h0m0 3h0m1-3h0m0 10h0m1 4h0m0-7h0m0-4h0m0 17h0m0-17h0m1 11h0m0-27h0m0 16h0m0 14h0m1-3h0m0-7h0m0 10h0m0-24h0m0 10h0m0-13h0m1 3h0m0 31h0m0-21h0m0 21h0m0-21h0m0 14h0m0-3h0m0-11h0m1 4h0m0-7h0m0 14h0m1-27h0m0 20h0m0-4h0m0-13h0m0 3h0m0 24h0m1 3h0m0-33h0m0 20h0m0 17h0m0-21h0m1-13h0m0 13h0m0-3h0m1 0h0m0-3h0m0 6h0m0 11h0m0-7h0m0-10h0m0 6h0m1-13h0m0 13h0m0-10h0m0 4h0m0 6h0m0 14h0m1-14h0m0 17h0m0 4h0m0-4h0m0 4h0m1-14h0m0-23h0m0 6h0m0 31h0m0-37h0m0 16h0m1 11h0m0 3h0m0-24h0m1 14h0m0-4h0m0-16h0m0 16h0m0 11h0m0-21h0m0 21h0m1-7h0m0-10h0m0-7h0m0 34h0m0-4h0m1-23h0m0-7h0m0 13h0m1 0h0m0 21h0m0-34h0m1 20h0m0 10h0m0-6h0m0 3h0m0-14h0m0 11h0m0-27h0m0 6h0m1-6h0m0 6h0m0 31h0m0-21h0m0-6h0m1 6h0m0 17h0m0-27h0m0 10h0m0-13h0m0 13h0m0 17h0m0-6h0m0-11h0m1 14h0m0 3h0m0-27h0m0 14h0m0-7h0m1 14h0m0-24h0m0 24h0m0-14h0m0 7h0m0 13h0m0-20h0m0-7h0m0-6h0m0 37h0m1-7h0m0-14h0m0-16h0m1 10h0m0-4h0m0 7h0m0 20h0m0-17h0m0 11h0m1-11h0m0-16h0m0 6h0m0 10h0m0 4h0m0 3h0m0-7h0m1 7h0m0-23h0m0 33h0m0-27h0m0 21h0m0-27h0m0 16h0m0-6h0m0 10h0m0 7h0m0 3h0m0-27h0m1 0h0m0 30h0m0-6h0m0 10h0m0-21h0m1-16h0m0 16h0m0 11h0m0-7h0m1 3h0m0-7h0m0-3h0m0-13h0m0 37h0m0-21h0m0 21h0m0-14h0m0-7h0m1-3h0m0 14h0m0-27h0m1 23h0m0-20h0m0 3h0m0 10h0m0 11h0m0-21h0m0 14h0m0-4h0m1-16h0m0 6h0m0-3h0m0 34h0m1-34h0m0 7h0m0 6h0m0 11h0m0-21h0m0 4h0m0 6h0m0-16h0m0 33h0m1-17h0m0 17h0m0-27h0m0 7h0m1 17h0m0-10h0m0 10h0m0-14h0m0 17h0m0-30h0m0 30h0m1-10h0m0-7h0m0 21h0m0-10h0m0-24h0m0 17h0m0 7h0m0-4h0m0-17h0m1 7h0m0 10h0m0-10h0m0 3h0m0 17h0m0-6h0m0-17h0m0 6h0m1 21h0m0-17h0m0-14h0m0 17h0m0-7h0m0-6h0m0 23h0m1-3h0m0-24h0m0 10h0m0-16h0m0 16h0m0-10h0m0 24h0m0-14h0m0 7h0m1 0h0m0-23h0m0 3h0m0 17h0m0-7h0m0 24h0m0-4h0m0-17h0m0-10h0m0 7h0m1 14h0m0-4h0m0-10h0m0-13h0m0 16h0m0 4h0m0 10h0m1-14h0m0-10h0m0 7h0m0 20h0m0-27h0m1 10h0m0-6h0m0 6h0m0 7h0m0-7h0m0 21h0m0-27h0m0 13h0m0-3h0m1-14h0m0 14h0m0 13h0m0-33h0m0 37h0m0-7h0m0-27h0m0 17h0m1 0h0m0 13h0m0-17h0m0-10h0m0 4h0m0 13h0m0 10h0m0-23h0m0 6h0m0 17h0m0-27h0m0 21h0m1-7h0m0-4h0m0 4h0m0-4h0m0-13h0m0-3h0m0 23h0m1 4h0m0-27h0m0 23h0m0-13h0m1 17h0m0-27h0m0 16h0m0 21h0m1-17h0m0 13h0m0-13h0m0-10h0m0 20h0m0-14h0m0 21h0m0-37h0m0 13h0m1 0h0m0-7h0m0 31h0m0-14h0m0 10h0m0-17h0m1 7h0m0-20h0m1 13h0m0 21h0m0-21h0m0-10h0m0 10h0m0 21h0m0-7h0m0-30h0m0 27h0m1-11h0m0 4h0m0-4h0m0 17h0m0-17h0m0 21h0m0-31h0m0-3h0m1 0h0m0 24h0m0-4h0m0 10h0m1-30h0m0 3h0m0 31h0m0-27h0m0 13h0m0-17h0m1 27h0m0-13h0m0-7h0m0-10h0m0 13h0m0 11h0m0-17h0m1 6h0m0-6h0m0 6h0m0 11h0m1-11h0m0 7h0m0 14h0m0-37h0m0 23h0m0 7h0m0-14h0m0-10h0m0 10h0m1 17h0m0-17h0m0 17h0m0-20h0m0-13h0m0 20h0m0-7h0m0-10h0m1 20h0m0-7h0m0 14h0m0-3h0m0-11h0m1 11h0m0-11h0m0 4h0m0-14h0m0 7h0m1 7h0m0-17h0m0 13h0m0 4h0m0 10h0m0-27h0m0-3h0m1 23h0m0-7h0m0-16h0m0 3h0m0 13h0m0-6h0m0 6h0m1 17h0m0-17h0m0-16h0m0 30h0m0-14h0m1 11h0m0-14h0m0 24h0m0-34h0m0 34h0m0-24h0m1 7h0m0 13h0m0-17h0m0 21h0m1-37h0m0 33h0m0-27h0m0 7h0m0 3h0m1 4h0m0-17h0m0 13h0m0 4h0m0-4h0m1 0h0m0-16h0m0 20h0m0-4h0m0 21h0m1-7h0m0-27h0m0-3h0m0 6h0m0 10h0m0 14h0m0-27h0m0 3h0m0 24h0m0-14h0m0-6h0m0 6h0m1 0h0m0-13h0m0 27h0m0-27h0m1 3h0m0 21h0m0 3h0m0-27h0m0 13h0m0 14h0m0 7h0m0-10h0m0 3h0m0-10h0m0-10h0m1 6h0m0 21h0m0-34h0m0 13h0m0-3h0m0 3h0m0 7h0m0-13h0m0 13h0m0-13h0m0 10h0m0-4h0m1-6h0m0 3h0m0-10h0m0 34h0m0-37h0m1 6h0m0 10h0m0-10h0m0 4h0m0 27h0m0-4h0m1-20h0m0-3h0m0 6h0m0 7h0m0-20h0m0 13h0m0 7h0m0-10h0m1 10h0m0-7h0m0-6h0m0-7h0m0 10h0m0-13h0m0 6h0m1 4h0m0 27h0m0-21h0m0 14h0m0-14h0m0-10h0m0 10h0m1 0h0m0-10h0m0 10h0m0 7h0m0-17h0m1 10h0m0 21h0m0-27h0m0 27h0m0-21h0m1 4h0m0-4h0m0 14h0m0-10h0m0-14h0m0 10h0m0-6h0m0 10h0m0-14h0m0 17h0m0-23h0m0 3h0m1 20h0m0-7h0m0 14h0m0-7h0m0-13h0m0 13h0m1 10h0m0-17h0m0 7h0m0 4h0m0-17h0m0-7h0m0 20h0m0-7h0m1-16h0m0 23h0m0-3h0m0 13h0m0-17h0m0 11h0m0 6h0m0-23h0m0 27h0m0-21h0m0-10h0m1 14h0m0-10h0m0 3h0m0 10h0m0-7h0m0 21h0m0-24h0m1 3h0m0-13h0m0-3h0m0 6h0m0 14h0m0 3h0m0-7h0m0-6h0m1 17h0m0-14h0m0 3h0m0-6h0m0-4h0m0 24h0m0-17h0m0 10h0m0 4h0m0-11h0m1-3h0m0 3h0m0 7h0m0-7h0m0-3h0m0-13h0m1 30h0m0-20h0m0 23h0m0-33h0m0 27h0m1 0h0m0-27h0m0 16h0m1-16h0m0 27h0m0-24h0m0 13h0m0-13h0m0 17h0m1 13h0m0-20h0m0 3h0m0 17h0m0-23h0m0 23h0m0-3h0m1-3h0m0 6h0m0-33h0m0 30h0m0 3h0m0-13h0m1 13h0m0-17h0m0 4h0m0 10h0m0-3h0m0 3h0m1 3h0m0-27h0m0 21h0m0 3h0m0-24h0m0 7h0m0 14h0m0-17h0m0-10h0m0 10h0m0 6h0m0-10h0m0 21h0m0-11h0m1-13h0m0-3h0m0 27h0m0-11h0m0-10h0m0 10h0m1 0h0m0 11h0m0-11h0m0 11h0m0-14h0m0-3h0m0 3h0m0 7h0m0-10h0m0 10h0m0 7h0m1-11h0m0-10h0m0 10h0m0-16h0m0 23h0m0 4h0m0-14h0m0 3h0m0 14h0m0-10h0m1-10h0m0 27h0m0-21h0m1 17h0m0-13h0m0 17h0m0-21h0m0-6h0m0 6h0m0-3h0m0 17h0m0-27h0m0 34h0m0-37h0m0 13h0m1 17h0m0-14h0m0 4h0m0-4h0m0 7h0m0-17h0m0 4h0m1-4h0m0-6h0m0 13h0m0 3h0m0 17h0m0-10h0m0 10h0m0-17h0m0 14h0m0 3h0m1-23h0m0 6h0m0 11h0m0 10h0m0-21h0m1 0h0m0-13h0m0 3h0m0 10h0m1 0h0m0-6h0m0 6h0m1 11h0m0-21h0m0 31h0m0-24h0m0-13h0m0 20h0m1-17h0m0 10h0m0 3h0m0 17h0m0-27h0m0 4h0m0-7h0m1 0h0m0 30h0m0-27h0m0 27h0m0-27h0m0 10h0m0 11h0m0-11h0m1 0h0m0 4h0m0-20h0m0 20h0m0-4h0m0-10h0m0 10h0m0-6h0m0 27h0m0-21h0m0-10h0m0 21h0m1 3h0m0 7h0m0-34h0m0 17h0m0-10h0m0-10h0m0 33h0m0-13h0m0 7h0m0-11h0m0 21h0m1-21h0m0 11h0m0-17h0m0 17h0m0 6h0m0 4h0m0-21h0m1 0h0m0 17h0m0-13h0m0-4h0m1 0h0m0-16h0m0 6h0m0 10h0m0 4h0m0 3h0m0-20h0m0 13h0m1 4h0m0-4h0m0-6h0m0-7h0m0 34h0m0-4h0m1-17h0m0 21h0m0-7h0m0-7h0m0 4h0m0-27h0m1 33h0m0-23h0m0 27h0m0-27h0m0 20h0m0-14h0m0-6h0m0 27h0m0-10h0m0-11h0m1-6h0m0 23h0m0-13h0m0-4h0m0 4h0m0-4h0m0 7h0m0-20h0m0 13h0m1 17h0m0-23h0m0 23h0m0-20h0m0-13h0m0 16h0m0 14h0m0-17h0m0 10h0m1-7h0m0 21h0m0-7h0m0-30h0m0 30h0m0-14h0m1 7h0m0 4h0m0-24h0m0 27h0m1-14h0m0 11h0m0-4h0m0-7h0m0-13h0m0 13h0m1 14h0m0-14h0m0-16h0m0 6h0m0 10h0m0 17h0m1-13h0m0-14h0m0 27h0m0-20h0m0 3h0m0 4h0m0-17h0m0 3h0m0 4h0m0 17h0m0-11h0m0-16h0m0 20h0m1-4h0m0-6h0m0 10h0m0-4h0m0-16h0m0 33h0m0-17h0m0 7h0m1-20h0m0 20h0m1-23h0m0 16h0m0 14h0m0-3h0m0-11h0m0 21h0m0-27h0m0 6h0m0-6h0m0 6h0m0 4h0m0 13h0m0-23h0m0 10h0m1-14h0m0 10h0m0 4h0m0-4h0m0 14h0m0-17h0m0 3h0m0 7h0m0 7h0m1 7h0m0-21h0m0 17h0m0-30h0m0 13h0m0-16h0m0 6h0m0 24h0m0-14h0m0 4h0m0-14h0m1 10h0m0-10h0m0 14h0m0-7h0m1 3h0m0 11h0m0-7h0m0-7h0m1-10h0m0 13h0m0-16h0m0 23h0m0-7h0m0-10h0m0 17h0m0-3h0m1 3h0m0-17h0m0 14h0m1-4h0m0 21h0m0-21h0m0-6h0m0 23h0m1-17h0m0 11h0m0-11h0m0-6h0m0-7h0m1 34h0m0-21h0m0-13h0m0-3h0m0 20h0m0 3h0m0 10h0m0-20h0m0 17h0m0-14h0m1 0h0m0-13h0m0 7h0m0 17h0m0 10h0m1-34h0m0 13h0m0-10h0m0 10h0m0 21h0m0-21h0m1 0h0m0 14h0m0 3h0m1-27h0m0-6h0m0 16h0m0-13h0m0 7h0m1-10h0m0 10h0m0-4h0m0 24h0m0-14h0m0 4h0m0 17h0m0-24h0m1 3h0m0-13h0m0 24h0m1-17h0m0 27h0m0-21h0m0-16h0m0 16h0m0 4h0m0-4h0m1-3h0m0-10h0m0 20h0m0-7h0m1 11h0m0-21h0m0 17h0m1 7h0m0-14h0m0-16h0m0 33h0m1-3h0m0-14h0m0-10h0m0 17h0m0-10h0m0 14h0m0 6h0m0-13h0m1-4h0m0 11h0m0-11h0m0 4h0m0 17h0m0-37h0m0 16h0m0 14h0m1 0h0m0-14h0m0 14h0m0-10h0m0 13h0m1-17h0m0 11h0m0-11h0m0-13h0m1 20h0m0 10h0m0-27h0m0 10h0m0 21h0m0-24h0m1 3h0m0 17h0m0-17h0m0 7h0m1-17h0m0 7h0m0 3h0m0-3h0m0 3h0m0 7h0m1-20h0m0 34h0m0-14h0m0-7h0m1 0h0m0-16h0m0 16h0m0 21h0m0-37h0m0 16h0m1 17h0m0-3h0m0 7h0m0-24h0m1 24h0m0-21h0m0 17h0m0-17h0m0 4h0m0-4h0m0-10h0m1-6h0m0 23h0m0 10h0m0-33h0m0 10h0m1 6h0m0 11h0m0-24h0m0 27h0m0-3h0m0-4h0m1-13h0m0 3h0m1 3h0m0 7h0m0 14h0m0-21h0m0 11h0m1-21h0m0 10h0m0-10h0m0 31h0m0-34h0m0 17h0m0 13h0m0-23h0m1 17h0m0-11h0m0 14h0m0-17h0m0 3h0m0-3h0m0-10h0m0 13h0m1-3h0m0 17h0m1-27h0m0 7h0m0 23h0m0-13h0m0-4h0m1 0h0m1 0h0m0-6h0m0 10h0m1 17h0m0-14h0m0-7h0m0 17h0m0-17h0m0 4h0m1-20h0m0 20h0m0 13h0m1 0h0m0-17h0m0 14h0m0 7h0m0-24h0m0-7h0m0 10h0m0-10h0m0 21h0m1-14h0m0 24h0m1-14h0m0-7h0m0-3h0m0 14h0m0-4h0m0 4h0m1-24h0m0-3h0m0 3h0m0-3h0m0 16h0m1 21h0m0-17h0m0 17h0m0-14h0m0-17h0m0 27h0m0-3h0m1-10h0m0 13h0m0-23h0m0 23h0m0-3h0m1-27h0m0 27h0m1-14h0m0-3h0m0 3h0m0 21h0m0-21h0m1 0h0m0-6h0m0 3h0m0 3h0m1 14h0m0-14h0m0-10h0m0 21h0m0-7h0m0-4h0m1-16h0m0 16h0m0-10h0m0 10h0m1 21h0m0-37h0m1 3h0m0 13h0m0-3h0m0-7h0m1 31h0m0-7h0m0-24h0m0-3h0m0 30h0m0-23h0m0 13h0m1-7h0m0-3h0m0 3h0m0-10h0m1 14h0m0-4h0m1 0h0m1-16h0m0 16h0m0 11h0m0-17h0m1 23h0m1-20h0m0 3h0m0-10h0m1 21h0m0 6h0m0-27h0m0-6h0m0 16h0m0-10h0m0 27h0m1-3h0m0-24h0m0-6h0m0 13h0m1 20h0m0-17h0m0 7h0m0-7h0m1 21h0m0-24h0m0 3h0m0 4h0m0-4h0m1 11h0m0-24h0m1 30h0m0-27h0m0 4h0m0 13h0m1-10h0m0 3h0m0 17h0m0-17h0m0 7h0m0-10h0m1-7h0m0 17h0m1 7h0m0-14h0m1 0h0m0-13h0m0 20h0m0-13h0m1 20h0m0-3h0m0-7h0m0-4h0m1 17h0m0-6h0m0-11h0m0-13h0m0 34h0m0-10h0m1-7h0m0-4h0m1 21h0m0-21h0m1 7h0m0-7h0m0 21h0m0-10h0m0-11h0m1 0h0m0 7h0m0-7h0m0-6h0m1 13h0m0-3h0m0 17h0m0-21h0m1 14h0m0-10h0m1-4h0m0 21h0m0-21h0m1-10h0m0-3h0m0 10h0m1 7h0m0 7h0m1-14h0m0 3h0m0 4h0m1 13h0m0-17h0m0-6h0m1 6h0m1 0h0m0 21h0m0-34h0m1 24h0m0-11h0m1 7h0m0 10h0m0-17h0m1 4h0m0-4h0m0-6h0m1 13h0m0-17h0m1 27h0m0-17h0m1-3h0m0 20h0m0-13h0m0-4h0m1 11h0m0-11h0m0-10h0m1 21h0m1-17h0m0 3h0m0-13h0m0 6h0m1 31h0m1-7h0m0-20h0m0 6h0m0 21h0m1-21h0m0-3h0m0 24h0m0-27h0m0 27h0m1-4h0m0-13h0m0-4h0m1 0h0m0-13h0m1 7h0m0 13h0m0-3h0m0-7h0m1-10h0m0 13h0m1 11h0m0 10h0m0-17h0m1 10h0m0-7h0m1-7h0m1-10h0m0 10h0m2 4h0m0 13h0m0-3h0m0 7h0m1-21h0m0 11h0m0-11h0m0 7h0m0-20h0m2 13h0m0 4h0m0 17h0m0-4h0m1-17h0m1-13h0m0 13h0m0 17h0m0-33h0m1 37h0m1-27h0m0 13h0m0-20h0m0 17h0m1-4h0m1 0h0m1-16h0m1 20h0m0 10h0m0-14h0m1 14h0m0-20h0m0 6h0m0 14h0m0 3h0m1-3h0m1 3h0m1-17h0m1 7h0m0-7h0m1 0h0m0 17h0m1-17h0m0-3h0m0 3h0m1 0h0m0 11h0m0 6h0m2-3h0m0-30h0m0 30h0m2 3h0m0-17h0m1 4h0m1 7h0m0 6h0m1-17h0m0-6h0m1 6h0m0 4h0m1-4h0m0 17h0m1-17h0m0-16h0m0 16h0m1 7h0m0-13h0m0 6h0m1-13h0m1 7h0m1 6h0m1 7h0m0 14h0m1-34h0m0 34h0m0-37h0m0 33h0m2-17h0m0 4h0m0-4h0m1-6h0m0 6h0m3 17h0m0-27h0m0 27h0m0-10h0m1-13h0m1-7h0m1 17h0m1-4h0m1 7h0m0-7h0m0 11h0m0-7h0m3-4h0m0 17h0m1-17h0m2 21h0m1-21h0m2 17h0m0-17h0m2 11h0m1 10h0m0-24h0m0 10h0m1-13h0m0 6h0m1-6h0m0 23h0m0-17h0m0 17h0m0-3h0m1-30h0m1 6h0m0 10h0m1 0h0m2 4h0m0 17h0m0-21h0m0-6h0m1-7h0m2 7h0m0 17h0m1-11h0m0-3h0m0 3h0m1 11h0m0 6h0m1-20h0m0 17h0m1-14h0m0 17h0m0-17h0m2-13h0m1 20h0m2 14h0m1-21h0m1 0h0m0-3h0m1 3h0m0 21h0m1-7h0m0-10h0m3 3h0m0-7h0m2 4h0m0-4h0m2-3h0m0-13h0m5 13h0m1 14h0m1-11h0m2 0h0m2 21h0m0-21h0m1 0h0m2 17h0m6-17h0m5 4h0m2-4h0m0 17h0m3-3h0m0-30h0m1 6h0m2 10h0m2 14h0m0-20h0m1 20h0m3-14h0m1 0h0m3 17h0m1 0h0m2-3h0m0-17h0m4-7h0m0 17h0m5-3h0m2-4h0m2-3h0m2 24h0m2-14h0m4-20h0m1 34h0m8-10h0m2-27h0m8 16h0m3 14h0m1 3h0m6-13h0m0-4h0m14 21h0m1-34h0m5-3h0m0 16h0m7-6h0m6 6h0m11 0h0m1 0h0m2 7h0m2-3h0m20-4h0m28 14h0m13 7h0m1-14h0m-610 27h0m3-10h0m5 10h0m6 14h0m0-14h0m11 27h0m0-20h0m1-14h0m1 0h0m1 7h0m2 0h0m2 10h0m2-10h0m5 0h0m1 3h0m1-6h0m0 30h0m0-37h0m1 27h0m1-17h0m5-3h0m2 3h0m1 20h0m0-23h0m2-7h0m2 10h0m1 10h0m1 7h0m0-14h0m1 17h0m0-20h0m1-3h0m0 23h0m0 4h0m1-21h0m0-3h0m0 24h0m0-21h0m0 7h0m0-20h0m1 10h0m0-10h0m0 10h0m1 0h0m1 7h0m1-7h0m0-7h0m1 4h0m0 30h0m0-27h0m0 3h0m1 11h0m1-21h0m1 7h0m0 3h0m1 24h0m1-3h0m0-27h0m1 3h0m0-10h0m0 7h0m0 30h0m0-27h0m1 3h0m1 17h0m0-30h0m0 10h0m0-10h0m1 10h0m0 20h0m0-20h0m0 27h0m0-13h0m0-14h0m1 14h0m0-14h0m0 7h0m0-17h0m0 37h0m1-3h0m0-31h0m1 21h0m0 13h0m2-17h0m0-13h0m1 3h0m0 24h0m0-27h0m0-7h0m0 10h0m0 14h0m0-24h0m1 37h0m0-27h0m0-10h0m0 10h0m1-10h0m0 7h0m1 3h0m0 10h0m0 7h0m1-20h0m0 6h0m1 0h0m0-3h0m0 3h0m0-3h0m1 0h0m1 20h0m0-27h0m1 0h0m0 7h0m1 0h0m0 3h0m0 21h0m0-31h0m0 31h0m0-24h0m0-3h0m1 17h0m0-14h0m1-10h0m0 10h0m0 3h0m0 24h0m0-27h0m0 7h0m1 7h0m0-24h0m0 30h0m0-17h0m0-3h0m1-3h0m0 3h0m0-3h0m0 23h0m0-20h0m1 20h0m0-17h0m0-3h0m1 27h0m0-24h0m0-3h0m0 3h0m0 21h0m0-24h0m0-10h0m1 7h0m2 10h0m0-4h0m0 4h0m0-17h0m0 7h0m0 23h0m0-13h0m1-17h0m0 10h0m1 3h0m0 21h0m0-21h0m0-3h0m0 3h0m0-3h0m1-3h0m0 17h0m0-7h0m0-10h0m0 3h0m0 20h0m1-13h0m0-17h0m0 37h0m1-24h0m0 14h0m1-7h0m0-10h0m0 10h0m0-10h0m0-7h0m0 4h0m0 30h0m0-27h0m0-3h0m1 3h0m0 7h0m1 10h0m0-3h0m0-4h0m0-7h0m0-3h0m1 10h0m0 17h0m0-10h0m0-17h0m0 14h0m1 13h0m0-30h0m0 20h0m0-24h0m1 17h0m0 17h0m0-27h0m0 27h0m1-7h0m0-17h0m0 17h0m0-20h0m0 10h0m0-10h0m1 14h0m0 3h0m0-24h0m1 7h0m0 27h0m0-27h0m0 10h0m0-10h0m1-7h0m0 17h0m0 17h0m0-37h0m0 34h0m0-24h0m0-10h0m0 37h0m1-30h0m0 3h0m0 17h0m0-17h0m0-10h0m0 20h0m1-10h0m0-10h0m0 3h0m0 24h0m0-17h0m0-3h0m0 3h0m1 0h0m0 27h0m0-20h0m1 10h0m0-14h0m0-10h0m0 7h0m1 17h0m0-17h0m0 10h0m0-10h0m1 7h0m0-14h0m0 27h0m0-20h0m0 27h0m0-24h0m1-6h0m0-4h0m0 7h0m0 14h0m0-21h0m0 7h0m0 17h0m0-14h0m1 11h0m0-17h0m0 3h0m0-3h0m0 3h0m1-10h0m0 3h0m0 31h0m0-31h0m0-3h0m1 0h0m0 10h0m0 3h0m0 21h0m1-7h0m0-10h0m0-7h0m0 27h0m0-17h0m0-13h0m0 3h0m0 14h0m0-14h0m0-7h0m1-3h0m0 27h0m0-14h0m0 4h0m0-7h0m1 17h0m0-24h0m0 17h0m1-13h0m0 6h0m0 24h0m0-27h0m0 3h0m1-6h0m0 3h0m0-10h0m0 3h0m0 7h0m0-10h0m1 10h0m0 27h0m0-27h0m0-3h0m1-4h0m0 31h0m0-24h0m0 7h0m0 7h0m0 6h0m1-13h0m0 10h0m0-10h0m0 7h0m0-4h0m1-10h0m0 20h0m0-20h0m1 14h0m0-24h0m0 10h0m0-7h0m0 7h0m0-3h0m0 30h0m1-34h0m0 27h0m0-30h0m0 10h0m0 14h0m0-24h0m0 10h0m1 0h0m0-7h0m0 4h0m1 3h0m0 20h0m0-13h0m0 7h0m0 10h0m1-7h0m0-24h0m0-3h0m0 3h0m0-3h0m0 10h0m0-10h0m1 20h0m0-17h0m0 14h0m0-14h0m0 17h0m0-10h0m0 10h0m0-3h0m0-7h0m1 24h0m0-24h0m0 10h0m0-20h0m0 24h0m0-14h0m0-3h0m1 0h0m0 3h0m1 14h0m0-24h0m0 10h0m0 20h0m0-13h0m0-7h0m0 7h0m0 3h0m0-10h0m1 17h0m0-14h0m0 21h0m0-31h0m0 17h0m0-7h0m1 21h0m0-7h0m1-14h0m0-13h0m0 17h0m0-10h0m0 6h0m1 24h0m0-30h0m0 10h0m0-14h0m1 7h0m0-3h0m0 23h0m0-10h0m0 10h0m0 4h0m0-4h0m1-20h0m0-3h0m0 20h0m0-7h0m0-3h0m1 3h0m0-3h0m0 20h0m0-27h0m0 7h0m0-7h0m0 7h0m0-10h0m0 3h0m0 10h0m0-10h0m0 17h0m0-10h0m1-7h0m0-3h0m0 3h0m0 24h0m0-14h0m1-20h0m0 7h0m0 3h0m0-10h0m0 7h0m1 0h0m0 3h0m0 10h0m0-20h0m0 17h0m1-7h0m0-10h0m0 24h0m0-24h0m0 7h0m0 3h0m1-3h0m1 0h0m0 20h0m0-27h0m0 27h0m0-17h0m1 3h0m0-3h0m0-10h0m0 24h0m1-7h0m0 13h0m0 4h0m0-14h0m0 14h0m0-24h0m1 24h0m0-7h0m0-3h0m0 6h0m0-20h0m0 17h0m0-17h0m0 3h0m0-10h0m0 4h0m0 13h0m0-20h0m0 10h0m1 0h0m0-7h0m0 27h0m0-20h0m0 14h0m0 3h0m0-7h0m0 4h0m1-21h0m0-3h0m0 30h0m1 4h0m0-24h0m0 3h0m0 4h0m0-7h0m0-7h0m0 10h0m1-3h0m0 10h0m0-17h0m0 10h0m0-3h0m0 20h0m0-20h0m0 7h0m0 13h0m0-27h0m1 7h0m0 14h0m0 13h0m0-7h0m0-20h0m0 20h0m0-17h0m1-6h0m0 3h0m0-10h0m0 10h0m0 20h0m0-27h0m1 7h0m0-7h0m0 21h0m0-14h0m1-7h0m0 34h0m0-27h0m0 20h0m0-3h0m0-14h0m0-10h0m0 7h0m0-7h0m0 7h0m1 10h0m0 17h0m0-37h0m0 10h0m0-7h0m1 0h0m0 14h0m0-7h0m0 14h0m0-17h0m0 23h0m1-20h0m0 7h0m0-7h0m0 7h0m0-17h0m0 10h0m0 27h0m0-10h0m1-7h0m0 14h0m0-34h0m0 20h0m0 14h0m0-24h0m0 17h0m0-17h0m0 20h0m0-30h0m1 10h0m0 14h0m0-4h0m0-3h0m0 3h0m0-20h0m0 24h0m1-21h0m0 10h0m0-3h0m0 7h0m0-7h0m0 10h0m0-17h0m0 7h0m0 3h0m0-6h0m1 3h0m0-7h0m0-3h0m0 10h0m0-10h0m1 3h0m0 7h0m0 7h0m0 3h0m0-17h0m0-3h0m0 24h0m0-24h0m1 34h0m0-24h0m0-3h0m1 0h0m0 3h0m0-10h0m0 10h0m0 20h0m0-13h0m0-7h0m1 0h0m0 3h0m0-3h0m0 27h0m0-27h0m0 14h0m0-14h0m1 0h0m0-10h0m0 27h0m0-7h0m0-13h0m0 3h0m0 27h0m0-10h0m1-10h0m0-4h0m1 0h0m0-13h0m0 24h0m0-14h0m0-7h0m0 31h0m1 3h0m0-27h0m0 7h0m0-14h0m0 4h0m0 27h0m0-24h0m1 0h0m0 14h0m0 6h0m0-20h0m0 7h0m1 13h0m0-6h0m0-7h0m0 7h0m0-14h0m1 7h0m0-7h0m0 17h0m0-17h0m0 14h0m0-7h0m0 7h0m0-7h0m0-7h0m1 14h0m1-7h0m0-7h0m0 3h0m0 4h0m0-17h0m0 7h0m0-4h0m0 14h0m1-7h0m0 10h0m0-10h0m0 10h0m0 7h0m0 3h0m0-23h0m1 23h0m0-20h0m0 3h0m1-3h0m0 10h0m0-13h0m0 6h0m0 7h0m0-13h0m0 20h0m1-17h0m0-7h0m0 24h0m0-17h0m0 14h0m0-21h0m1 7h0m0 17h0m0-7h0m0 7h0m0-17h0m0-10h0m0 20h0m0-17h0m1 7h0m0 20h0m0-23h0m0 13h0m0 10h0m0-10h0m0 10h0m0-30h0m0 13h0m0 11h0m0-14h0m0 3h0m1 21h0m0-14h0m0-7h0m0-10h0m0 21h0m1 10h0m0-10h0m0-11h0m0 4h0m0-4h0m1 4h0m0 7h0m0 3h0m0-14h0m0-3h0m0 17h0m1 3h0m0-20h0m0 14h0m0-17h0m0 23h0m1-20h0m0 14h0m0-14h0m0 24h0m0-21h0m0-6h0m0 27h0m1-17h0m0-17h0m0 7h0m0-4h0m0 4h0m0 6h0m0 7h0m1-13h0m0 30h0m0-17h0m0-13h0m0-7h0m0 17h0m0 3h0m0-3h0m0-7h0m0 24h0m1-10h0m0-14h0m0 17h0m0-7h0m0 4h0m0-11h0m0-3h0m0 24h0m0-7h0m0-17h0m1 0h0m0 14h0m0-7h0m0 13h0m0-10h0m0 10h0m1-20h0m0 10h0m0-10h0m0 24h0m0-17h0m0 20h0m0-27h0m0 27h0m1-20h0m0 17h0m0-17h0m0 17h0m0-24h0m1 0h0m0 7h0m0 3h0m0-20h0m1 34h0m0-24h0m0 27h0m0-37h0m1 10h0m0 10h0m0-20h0m0 30h0m0-17h0m0-3h0m0 17h0m0 3h0m1-6h0m0-24h0m0 20h0m0-3h0m1-17h0m0 7h0m1 20h0m0 10h0m0-27h0m0 3h0m0-3h0m0 3h0m0-3h0m0 24h0m0-24h0m0-3h0m0 13h0m1-10h0m0 10h0m0-13h0m0 23h0m0-13h0m0-7h0m0-10h0m0 30h0m0-20h0m1-10h0m0 27h0m0 10h0m0-20h0m0-17h0m0 20h0m0 14h0m1-17h0m0 20h0m0-27h0m0-7h0m0 14h0m0 3h0m1 4h0m0 3h0m0-10h0m0-17h0m0 34h0m0-27h0m0 3h0m0 3h0m0-3h0m0-7h0m1 34h0m0-10h0m0-17h0m0-3h0m1 3h0m0 14h0m0-4h0m0-20h0m0 20h0m0 4h0m1 3h0m0 3h0m0-6h0m0-24h0m0 10h0m0 20h0m1 7h0m0-10h0m0-17h0m0 20h0m1-20h0m0 10h0m0-20h0m0 30h0m0-3h0m0-10h0m1-17h0m0 7h0m0 23h0m0-20h0m0 24h0m0-31h0m0 21h0m0-14h0m1-7h0m0 14h0m0 20h0m0-27h0m1 0h0m0-3h0m0 20h0m0-14h0m0 21h0m0-34h0m0 10h0m0 27h0m1-27h0m0-10h0m0 13h0m0-10h0m0 7h0m1 17h0m0-7h0m0-10h0m0-7h0m1 14h0m0-7h0m0 24h0m0-21h0m0 17h0m0 4h0m0-24h0m0 3h0m0-3h0m0-3h0m0 3h0m0-3h0m0 13h0m1-10h0m0 27h0m0-17h0m0-10h0m0-3h0m0-4h0m1 10h0m0 14h0m0-14h0m0-6h0m0 10h0m0 10h0m0-3h0m0-11h0m0-13h0m0 37h0m1-30h0m0-4h0m0 7h0m1 17h0m0-3h0m0-14h0m0 3h0m0-3h0m0-10h0m1 10h0m0 3h0m0-3h0m0 20h0m0-3h0m0-3h0m0 3h0m0 10h0m1-37h0m0 17h0m0-4h0m0 17h0m0-20h0m0 14h0m0-24h0m0 34h0m1-7h0m0-10h0m0 10h0m0-27h0m0 27h0m0-27h0m0 10h0m0 24h0m0 3h0m1-37h0m0 30h0m0 4h0m0-31h0m0 7h0m0 17h0m0-10h0m0-7h0m1 20h0m0-20h0m0 14h0m0-11h0m0 7h0m0 10h0m1-17h0m0-3h0m0-10h0m0 7h0m0 20h0m0-17h0m1 14h0m0 3h0m0-27h0m0 30h0m0-17h0m0 21h0m0-17h0m0-17h0m1 0h0m0 27h0m0-10h0m0 10h0m0-10h0m0 3h0m0-7h0m0-10h0m0 24h0m0-3h0m0 13h0m0-17h0m1 7h0m0 10h0m0-17h0m0 4h0m0-17h0m1 30h0m0-17h0m0-10h0m0 14h0m0-24h0m1 10h0m0 27h0m0-10h0m0-27h0m1 10h0m0 10h0m0 4h0m0-14h0m0-3h0m1 3h0m0 17h0m0-24h0m0 7h0m0-10h0m0 10h0m0 7h0m0-7h0m0-3h0m0 27h0m1-21h0m0-13h0m0 27h0m1-14h0m1 24h0m0-34h0m1 14h0m0-7h0m0 14h0m0 10h0m1-21h0m0-3h0m0 20h0m1 7h0m0-27h0m0-7h0m1 14h0m1-7h0m0-10h0m0 17h0m1-7h0m0 10h0m1-3h0m0-17h0m0 7h0m0 3h0m1 7h0m0-17h0m0 34h0m0-24h0m0 14h0m1-14h0m0-10h0m0 10h0m0 27h0m1-20h0m0-7h0m0-3h0m0 13h0m0 14h0m1-24h0m0 7h0m0 10h0m0-17h0m0-3h0m1 3h0m1 0h0m0-3h0m0 3h0m0 20h0m0-3h0m1-20h0m0 23h0m0 7h0m1-3h0m0-14h0m0 7h0m0-10h0m1 13h0m0-20h0m0-10h0m0 10h0m0 24h0m0-27h0m0 17h0m1-14h0m0 20h0m0-6h0m0-11h0m0 4h0m0-7h0m0 20h0m0 4h0m0-27h0m1 3h0m0 27h0m0-10h0m0-3h0m0-11h0m0-13h0m1 27h0m0-10h0m0 3h0m0-7h0m0 17h0m0 7h0m0-10h0m0 10h0m0-13h0m0-14h0m1 14h0m0-21h0m0 17h0m0-10h0m1 10h0m0 10h0m0-6h0m0 6h0m1 7h0m0-7h0m0-6h0m0-14h0m0-3h0m0 17h0m0-17h0m1 3h0m0 14h0m0-4h0m1-3h0m0-7h0m0 14h0m0-24h0m0 34h0m0-34h0m0 30h0m0-20h0m1-10h0m0 10h0m1 7h0m0-7h0m0 14h0m0-21h0m0 7h0m1 24h0m0-10h0m0-24h0m0 27h0m0-7h0m0-20h0m0 20h0m0-20h0m1 27h0m1-24h0m0 7h0m0 20h0m1-3h0m0 10h0m0-27h0m0 24h0m0-21h0m0 4h0m0-7h0m1 3h0m1 17h0m0-20h0m0-10h0m1 3h0m0 21h0m0-17h0m1 3h0m0 27h0m0-34h0m1 17h0m0 14h0m0-14h0m1-3h0m0 10h0m1 7h0m0-24h0m0 20h0m1-3h0m0-20h0m0 3h0m0 27h0m0-27h0m1 0h0m0 17h0m0-17h0m0 27h0m0-30h0m0 3h0m0-7h0m1 27h0m0-6h0m0 3h0m2-17h0m1 0h0m0-3h0m1 20h0m0-17h0m0 20h0m1 4h0m0-24h0m0 14h0m1 13h0m0-17h0m0-3h0m0 17h0m0-4h0m1-20h0m1-10h0m0 17h0m1-7h0m0-3h0m0 30h0m1-27h0m0-3h0m0 3h0m1 27h0m1-20h0m0-7h0m1 0h0m0 27h0m0-17h0m0 14h0m0-24h0m2-3h0m0 6h0m0 21h0m0-34h0m1 10h0m0-10h0m1 10h0m0 7h0m0 20h0m1-30h0m0 6h0m0 4h0m0-7h0m0 17h0m0-17h0m1 17h0m0 10h0m0-34h0m0 10h0m0 7h0m0-13h0m1-7h0m0 30h0m1 4h0m0-7h0m0-17h0m1 24h0m0-7h0m0-24h0m1 34h0m0-7h0m0-20h0m0 20h0m1-10h0m0-20h0m1 27h0m0-17h0m0 7h0m0-10h0m1 6h0m0 24h0m0-37h0m0 3h0m1 7h0m0 20h0m1-10h0m0 7h0m0-10h0m0 20h0m0-27h0m1 17h0m0 3h0m0 7h0m0-7h0m0-23h0m1 3h0m0-7h0m1 0h0m0 17h0m1-3h0m0 10h0m1-7h0m0-7h0m1-13h0m0 7h0m0 6h0m1-13h0m0 20h0m0-10h0m1 20h0m1-10h0m0-3h0m1 10h0m0-14h0m1-6h0m0 20h0m0-14h0m1 24h0m0-27h0m0 3h0m0 17h0m0 4h0m1 3h0m0-30h0m0 27h0m0-24h0m1 7h0m0-7h0m0-7h0m1 7h0m0 7h0m0-7h0m1 20h0m0-30h0m0 10h0m0 24h0m2-24h0m0 14h0m0-14h0m1-3h0m1 20h0m0-3h0m1-14h0m0-10h0m0 24h0m0-17h0m1 3h0m0 17h0m0 3h0m0-20h0m1 27h0m0-3h0m1-34h0m0 30h0m0-3h0m1 0h0m0-20h0m1 23h0m0-27h0m0 34h0m0-7h0m1-13h0m1-10h0m0 17h0m0-14h0m1-3h0m0 17h0m0 3h0m1-17h0m1 17h0m1-7h0m0-10h0m0 17h0m0-27h0m0 7h0m1 0h0m1 17h0m0 13h0m0-7h0m0-3h0m1 3h0m1-17h0m2 17h0m1-3h0m2-3h0m0-14h0m1 17h0m1-24h0m0 7h0m1-10h0m0 37h0m0-37h0m1 34h0m2-24h0m0 24h0m0-24h0m1 10h0m1-17h0m1 7h0m0 7h0m0-4h0m2-6h0m1 23h0m0-3h0m1-27h0m1 10h0m0 3h0m1-3h0m1-7h0m0 4h0m0 3h0m1 24h0m3-24h0m1-3h0m2 30h0m1-3h0m2-4h0m0-23h0m0 30h0m1-3h0m0 3h0m2-30h0m0 3h0m1 0h0m1 3h0m1-10h0m2 34h0m1-3h0m1-14h0m1-20h0m0 20h0m1-10h0m1 0h0m1-3h0m1 3h0m0 27h0m0-10h0m1-17h0m1-7h0m0 24h0m1 10h0m1-3h0m1-24h0m1 10h0m0 14h0m1-14h0m0-10h0m1 17h0m0 3h0m0-17h0m0-3h0m0 3h0m0 21h0m2-4h0m0-13h0m0-17h0m0 10h0m1 0h0m1 0h0m0 14h0m3-4h0m0-3h0m1 20h0m0-27h0m2 0h0m1 3h0m0-6h0m1 23h0m2-27h0m1 7h0m2 10h0m1-10h0m3 20h0m1 0h0m1-6h0m0-14h0m0 7h0m1-10h0m1 3h0m4 17h0m3-27h0m1 10h0m1 0h0m1 17h0m0-17h0m3 0h0m0-10h0m6 0h0m1 13h0m0-3h0m0 20h0m6-13h0m5-7h0m4 0h0m1 0h0m4-10h0m1 17h0m0-17h0m0 30h0m2-13h0m1-7h0m0 17h0m2-3h0m2-4h0m1-3h0m4-10h0m1 3h0m1 17h0m1-14h0m1-3h0m2 14h0m13 13h0m7-24h0m1 11h0m7 6h0m3-30h0m3 7h0m1 30h0m2-27h0m1 17h0m0-7h0m2-10h0m7 24h0m2-7h0m1-17h0m2 27h0m2-10h0m0-17h0m1 0h0m5 24h0m3-4h0m5-6h0m0-14h0m0 10h0m6-3h0m1-7h0m4 3h0m0-13h0m3 37h0m4-17h0m3-10h0m14 24h0m8-4h0m7-17h0m3-10h0m4 0h0m4 24h0m-642 17h0m46 0h0m4 27h0m1 3h0m1-13h0m0-10h0m5-7h0m10 0h0m3 0h0m3 30h0m1-10h0m2 13h0m8-16h0m0 16h0m3-20h0m0 17h0m1-30h0m1 0h0m2 0h0m0-4h0m0 4h0m1 0h0m0-4h0m0 4h0m3 0h0m1 7h0m0 6h0m0-17h0m1 4h0m3 0h0m1 0h0m1 0h0m2 0h0m1 0h0m0-4h0m0 21h0m1 16h0m0-6h0m2-31h0m2 7h0m0 14h0m0-7h0m4 20h0m1-30h0m0 33h0m0-37h0m1 4h0m1 13h0m1-10h0m1 24h0m1-17h0m1-14h0m1 4h0m1 0h0m0 13h0m0-17h0m1 7h0m1 14h0m0-17h0m1 7h0m0-7h0m1 13h0m0-13h0m1 0h0m1 33h0m0-33h0m1 33h0m1-26h0m1 0h0m0 13h0m1-10h0m0 7h0m0-17h0m1 0h0m1 17h0m1 16h0m0-13h0m1-24h0m0 4h0m1 3h0m1 7h0m0 23h0m0-33h0m1 10h0m0-10h0m1 13h0m0-6h0m1-4h0m0-3h0m0 33h0m1-26h0m0 6h0m1-17h0m1 37h0m0-33h0m0-4h0m0 4h0m1 0h0m1-4h0m0 11h0m0-11h0m0 4h0m0 33h0m1-33h0m0 20h0m0-20h0m1 7h0m0-7h0m0 7h0m2 3h0m0 13h0m0-27h0m0 4h0m1 10h0m1-10h0m0-4h0m1 21h0m0 16h0m0-3h0m1 3h0m0-26h0m0 26h0m2-33h0m1 7h0m0 6h0m0-13h0m1 0h0m0 23h0m1-6h0m0-17h0m0 17h0m0-17h0m1 0h0m0 10h0m0-10h0m1-4h0m1 37h0m0-26h0m1 0h0m0 6h0m1-13h0m0 33h0m0-13h0m1-10h0m0 7h0m1-10h0m0 26h0m0-33h0m1 20h0m0-24h0m0 24h0m1-20h0m0 33h0m1-33h0m0-4h0m0 21h0m0-17h0m1 0h0m0-4h0m1 11h0m0-11h0m0 7h0m1 20h0m0-6h0m0-4h0m0-13h0m0 10h0m1 0h0m0-7h0m0-7h0m0 11h0m0 16h0m1-20h0m0-3h0m0 13h0m0-13h0m1-4h0m0 17h0m0-13h0m0 17h0m0 3h0m1-20h0m1 0h0m0 27h0m1 6h0m0-3h0m0-13h0m0-14h0m0 4h0m0-4h0m1-3h0m1 0h0m0 10h0m1-10h0m0 33h0m0-33h0m1 0h0m0 20h0m1-24h0m0 7h0m0-3h0m1 0h0m1 33h0m0-33h0m2 0h0m0 3h0m0 30h0m1-3h0m0-10h0m0-20h0m0-4h0m0 7h0m1 0h0m0-3h0m1 33h0m0-26h0m0 23h0m0-13h0m1-7h0m0-10h0m0-4h0m1 7h0m0 4h0m0 23h0m0-10h0m0-20h0m1 0h0m1 0h0m0 33h0m1-37h0m0 37h0m0-16h0m0-17h0m1 3h0m0-7h0m0 4h0m1 0h0m0 33h0m0-37h0m0 37h0m0-30h0m0 30h0m1-33h0m0 13h0m1-13h0m0 7h0m0 6h0m0-13h0m1 3h0m0 7h0m0-10h0m0 33h0m0-33h0m1 23h0m0-10h0m1 20h0m0-23h0m1-14h0m1 7h0m0-3h0m1 33h0m1-26h0m0 10h0m0-10h0m0-11h0m1 37h0m0-33h0m1 17h0m0-17h0m0 33h0m0-20h0m0-13h0m1 0h0m0 33h0m1-33h0m1 3h0m0-7h0m0 37h0m0-33h0m1 20h0m0-13h0m1-11h0m0 4h0m0 23h0m1-23h0m0 10h0m0-10h0m0 20h0m0-24h0m1 11h0m0-7h0m1 0h0m0 10h0m0 23h0m0-10h0m1-27h0m0 21h0m0-21h0m0 11h0m0 26h0m0-33h0m0 30h0m1-30h0m0-4h0m0 11h0m1 6h0m0 14h0m0 6h0m0-33h0m0 7h0m0-7h0m0 20h0m1 0h0m0 13h0m1-16h0m0 16h0m0-16h0m0-7h0m1-10h0m0 13h0m0-6h0m1-7h0m0 3h0m0-7h0m0 4h0m1 3h0m0 30h0m0-33h0m0 3h0m0 14h0m0-4h0m1-13h0m0 3h0m0 30h0m0-16h0m0 16h0m0-30h0m1 14h0m0-17h0m1 33h0m0-33h0m1 3h0m0 24h0m0-20h0m1-4h0m0-3h0m0 10h0m0-10h0m0 7h0m1 20h0m0-17h0m0-3h0m0-7h0m1 0h0m0 13h0m0 14h0m0-27h0m0 30h0m1 0h0m0-17h0m0-6h0m0-7h0m1 33h0m1-10h0m0-20h0m0 17h0m0-24h0m1 7h0m0-3h0m0 7h0m0 26h0m0-30h0m1-3h0m0 20h0m0-24h0m0 17h0m0 7h0m2-20h0m0-4h0m0 37h0m1-37h0m0 4h0m0-4h0m0 17h0m0-13h0m1 10h0m0-10h0m0 13h0m0-13h0m0 30h0m0 3h0m0-6h0m1-27h0m0-4h0m0 11h0m1 26h0m1 0h0m0-23h0m1-7h0m0 14h0m1-17h0m0 7h0m0-4h0m0 10h0m0-6h0m1 26h0m0-3h0m0-17h0m0-13h0m0 17h0m1 10h0m0-27h0m0 23h0m0-6h0m0 16h0m0-26h0m1-7h0m0 27h0m0-7h0m1 13h0m0-23h0m0 13h0m0-10h0m0 20h0m1-26h0m0-7h0m0 33h0m0-33h0m1 10h0m0 23h0m0-23h0m0-10h0m1 3h0m0-3h0m1 0h0m0-4h0m0 4h0m0 13h0m0-17h0m1 24h0m0-20h0m0-4h0m1 24h0m0-20h0m0 3h0m1 30h0m0-30h0m1 30h0m0-33h0m0 17h0m0-4h0m0-13h0m2 0h0m0 23h0m0-3h0m0-3h0m1-17h0m1-4h0m0 7h0m0-3h0m0 33h0m1-33h0m0 20h0m1-7h0m0-6h0m1 20h0m0-14h0m1 0h0m0-13h0m0 3h0m0 30h0m1-13h0m0 10h0m0-30h0m0 20h0m0-7h0m1-13h0m0 33h0m1-33h0m0 13h0m0-3h0m0-10h0m0 20h0m1-24h0m0 37h0m0-30h0m0 17h0m0-20h0m1 27h0m0-20h0m0-7h0m0 3h0m1 30h0m0-33h0m0 13h0m0-10h0m0-3h0m0 7h0m0-4h0m1 17h0m0-20h0m0 17h0m1-17h0m0 23h0m2-20h0m0 17h0m0-7h0m1 17h0m0-30h0m0-4h0m0 17h0m0-3h0m0-14h0m1 21h0m1-4h0m1-13h0m1 3h0m0 30h0m0-37h0m0 24h0m1 13h0m0-33h0m0 33h0m0-23h0m0 10h0m1-20h0m0-4h0m0 11h0m0-7h0m1 33h0m0-30h0m0-3h0m0 10h0m0 10h0m1 13h0m1-37h0m0 11h0m0 26h0m0-33h0m0 23h0m1-6h0m0 16h0m0-33h0m1 3h0m0 14h0m0 16h0m0-30h0m1-3h0m0 27h0m1-7h0m1-20h0m0 10h0m1-10h0m0 33h0m0-20h0m0 20h0m0-33h0m0 33h0m1-37h0m0 7h0m0 27h0m0-3h0m1-14h0m0-3h0m0 23h0m1-6h0m0-17h0m0 13h0m0-23h0m0 17h0m0 16h0m0-33h0m1 0h0m1 7h0m0-7h0m0 33h0m0-10h0m1-16h0m0 13h0m0 10h0m0-17h0m1-13h0m0 17h0m1-21h0m0 37h0m0-23h0m0-3h0m0-7h0m1 33h0m0-33h0m0 27h0m0-10h0m1-10h0m2 10h0m0 16h0m0-37h0m0 21h0m1-17h0m0 27h0m0-14h0m0-6h0m0-11h0m1 37h0m0-33h0m1 30h0m0 3h0m0-16h0m0-17h0m2 27h0m0 6h0m1-33h0m0 13h0m0-13h0m1 0h0m0 10h0m0-3h0m0 3h0m0-7h0m1-3h0m0 30h0m0-23h0m0 20h0m0-27h0m0 13h0m1 17h0m0 3h0m0-33h0m1 33h0m1 0h0m0-33h0m0 27h0m0-27h0m0-4h0m1 31h0m0-7h0m1-20h0m0 20h0m0-20h0m0 13h0m0-17h0m1 4h0m0 17h0m0-21h0m1 17h0m1 4h0m0-17h0m0 7h0m0 10h0m0-4h0m0-10h0m1 30h0m0-3h0m1-13h0m0-17h0m1 33h0m0-30h0m0-3h0m1 33h0m0-33h0m1 33h0m0-33h0m0 20h0m0-24h0m1 11h0m1 23h0m0-7h0m1 4h0m0 6h0m1-33h0m1 0h0m0 13h0m0-3h0m2 13h0m0-6h0m0-17h0m1 30h0m0 3h0m1 0h0m0-20h0m0 14h0m1-20h0m0 10h0m0 16h0m0-16h0m1-14h0m1-3h0m0 33h0m1 0h0m0-30h0m1 4h0m0 26h0m1-37h0m0 17h0m0-10h0m0-3h0m0 17h0m1-17h0m0 33h0m1-33h0m1 0h0m1 0h0m0 3h0m0 30h0m0-26h0m0-7h0m0 3h0m1 10h0m0 7h0m0 13h0m1-37h0m1 0h0m0 24h0m2 3h0m0-13h0m0 7h0m1-10h0m1 26h0m0-26h0m1 6h0m0 10h0m0-23h0m1 30h0m0-30h0m1 7h0m0-7h0m0 33h0m1-13h0m1-20h0m0 3h0m1 4h0m1-7h0m1 20h0m0-13h0m1 13h0m0-7h0m0-13h0m0 7h0m1 23h0m1 0h0m0-10h0m0-24h0m0 17h0m0 14h0m0 6h0m0-33h0m2 27h0m1-27h0m0 33h0m0-20h0m0-13h0m1 10h0m2-10h0m0 7h0m1 13h0m0-10h0m0 13h0m3 7h0m0-23h0m1-11h0m0 4h0m1 0h0m0 17h0m0-7h0m0-10h0m1 7h0m0-7h0m1 7h0m3 26h0m0-33h0m0 30h0m1-23h0m1 3h0m0-10h0m1 7h0m0 6h0m0-13h0m1 3h0m2 7h0m1 0h0m0-10h0m1 0h0m0 23h0m0-23h0m0 17h0m1-7h0m0 23h0m0-26h0m0 23h0m1 0h0m0 3h0m1-3h0m0-34h0m0 11h0m0-7h0m2 13h0m0 7h0m1 13h0m1 0h0m1-33h0m1 10h0m2 23h0m0-33h0m0 3h0m3 4h0m1 26h0m1-13h0m0 13h0m1-33h0m1 0h0m0 13h0m0 20h0m1-26h0m0-7h0m1 13h0m1-13h0m0 20h0m1-20h0m0 17h0m1 16h0m2-26h0m2 0h0m0 26h0m1-37h0m0 37h0m1-23h0m0 23h0m0-20h0m2-13h0m1-4h0m1 4h0m0 13h0m0 10h0m1 10h0m0-33h0m0 3h0m1-3h0m0 20h0m1-24h0m0 11h0m1 16h0m1-13h0m1-7h0m1 30h0m0-33h0m1 0h0m0 10h0m1 10h0m3-20h0m3-4h0m1 14h0m0-10h0m2 0h0m0-4h0m1 37h0m1-33h0m0-4h0m3 4h0m0 7h0m0 6h0m1-6h0m1 16h0m0-23h0m1 0h0m1-4h0m0 4h0m0 7h0m2-7h0m1 0h0m1 17h0m0-21h0m0 7h0m2-3h0m0 3h0m5 30h0m1-16h0m2-7h0m0-10h0m1 13h0m0-17h0m3 37h0m1-23h0m1 7h0m1-4h0m1-6h0m1 10h0m1-17h0m1 0h0m0 23h0m2-23h0m2-4h0m2 24h0m0-3h0m1-17h0m1 20h0m1-20h0m5 0h0m1 27h0m4-20h0m0-4h0m0 14h0m5 3h0m3 7h0m1-14h0m3 14h0m6-4h0m1-23h0m4 33h0m2-33h0m3 33h0m2-33h0m1 0h0m1 0h0m1 0h0m7 10h0m5-10h0m1 3h0m2 30h0m1-3h0m2-20h0m5 0h0m3 23h0m9 0h0m2 0h0m2-33h0m3 3h0m2-3h0m15 33h0m10-33h0m2 0h0m6 0h0m2 3h0m5 20h0m1-23h0m10 10h0m2-10h0m3 33h0m3 0h0m16-33h0m-579 67h0m4-10h0m19 10h0m2 7h0m9-17h0m13-10h0m11 10h0m4 14h0m7-17h0m7 17h0m3-34h0m4 37h0m12-37h0m12 17h0m4 17h0m3-7h0m1-14h0m2-6h0m2-7h0m2 7h0m4-7h0m4 23h0m0-13h0m2-3h0m3-4h0m1 17h0m3-7h0m2-13h0m2 30h0m3 0h0m2 0h0m1-20h0m2-3h0m4 16h0m2-6h0m0-10h0m1 3h0m1 27h0m0-7h0m0-30h0m2 30h0m0 4h0m1-24h0m2-7h0m2 14h0m1 10h0m9 3h0m1-30h0m1 3h0m6 27h0m3 0h0m3-20h0m3-3h0m0-4h0m2-3h0m1 7h0m2 3h0m0-3h0m1 23h0m0-30h0m4 13h0m4 7h0m0-13h0m8 0h0m1 23h0m1 0h0m1-30h0m2 10h0m1 24h0m1 3h0m0-24h0m1 7h0m4-20h0m7 0h0m1 3h0m1 10h0m1 17h0m0-23h0m0 10h0m1 3h0m4-20h0m3 23h0m1-23h0m2 0h0m1 3h0m2-3h0m2 0h0m9 17h0m7 13h0m0-30h0m3 13h0m1-13h0m1 3h0m3 0h0m4-3h0m3 30h0m1-13h0m1-14h0m0 31h0m3-4h0m0-20h0m4 27h0m0-7h0m1-23h0m6 6h0m11-6h0m4-7h0m3 30h0m1-27h0m2-3h0m1 37h0m3-27h0m1 20h0m1 7h0m0-7h0m4 0h0m5 0h0m6-27h0m1 4h0m5-7h0m3 23h0m3-3h0m2-7h0m3-13h0m7 30h0m6-3h0m3-24h0m1 10h0m3-3h0m12 7h0m16-10h0m25-4h0m11 14h0m15-10h0m3 20h0m23-17h0m5 7h0m3-4h0m15-6h0m3 23h0m5 4h0m5-4h0m15-13h0m-514 33h0m32-10h0m41 10h0m3-10h0m7 4h0m54 0h0m47 10h0m6 6h0m5-20h0m18 17h0m3-10h0m3-7h0m22 7h0m47 17h0m32-17h0m87 7h0m78-14h0m29 10h0" stroke="#000" stroke-width="6.4" stroke-linecap="round" fill="none"/><path d="M224 77h0m82 4h0m13 13h0m32 4h0m0-24h0m3 20h0m-137 21h0m29 13h0m10 0h0m17 0h0m25-20h0m6 30h0m2 0h0m9-10h0m9 10h0m26-10h0m27 0h0m-179 37h0m14 13h0m25-30h0m21 27h0m0 3h0m6 0h0m7-16h0m1 6h0m3-10h0m3 17h0m1-17h0m6 20h0m8-16h0m1-21h0m3 0h0m2 0h0m1 21h0m3-4h0m3 0h0m8 10h0m1-6h0m6 3h0m16-3h0m17 0h0m15 0h0m14 0h0m11 0h0m12 16h0m-250 14h0m78 10h0m1 14h0m1-27h0m4 6h0m10 0h0m1 21h0m4 3h0m4-3h0m1-21h0m0-3h0m1 3h0m7 4h0m0 17h0m0-14h0m0 10h0m1-17h0m3 21h0m0-21h0m0 10h0m3-10h0m3 14h0m2 3h0m6 4h0m0-24h0m0 17h0m1 0h0m3-14h0m4 7h0m1-3h0m0 20h0m0-24h0m3 7h0m2-17h0m1 34h0m2-17h0m0 10h0m2 7h0m3-37h0m0 37h0m1-30h0m0 23h0m0-17h0m1 0h0m4 21h0m1-21h0m4 14h0m2-14h0m1 14h0m1-14h0m1 24h0m2-24h0m0 4h0m3-4h0m1-6h0m1 3h0m2 13h0m2-23h0m2 17h0m3 0h0m0 10h0m1-7h0m0-13h0m3 27h0m2-24h0m6 3h0m0 24h0m0-14h0m3-10h0m7 17h0m7 4h0m1-21h0m2 14h0m7 10h0m2 0h0m7 0h0m2-17h0m6-10h0m2 27h0m11-3h0m4-7h0m3-4h0m37-6h0m3 20h0m11-27h0m15 20h0m-310 10h0m18 20h0m1-16h0m20 6h0m4-3h0m5 13h0m1 4h0m6-17h0m2 24h0m8 3h0m2 0h0m1-24h0m1 4h0m1 3h0m0 17h0m1-27h0m2 30h0m0-17h0m1 0h0m1 4h0m3 10h0m3-27h0m1 7h0m1-7h0m1 24h0m1-7h0m0-4h0m1 17h0m0-17h0m1-13h0m1-7h0m0 20h0m1 4h0m1-17h0m0 10h0m2-10h0m0-3h0m0 3h0m1 0h0m0 20h0m1-20h0m0 7h0m1-10h0m0 20h0m0-4h0m0 17h0m1-30h0m1 24h0m1-17h0m3-7h0m1 30h0m0-30h0m2 0h0m0 30h0m2-33h0m1 13h0m1-7h0m2 7h0m0-10h0m1 17h0m1-17h0m0-7h0m0 24h0m1-17h0m3 0h0m1 13h0m1-6h0m1 0h0m3 10h0m1-4h0m0 17h0m3-13h0m0-14h0m0 17h0m0-17h0m1 17h0m1 0h0m2 10h0m0-20h0m0-13h0m1 3h0m0 24h0m2 6h0m0-30h0m1 17h0m4 3h0m0-20h0m1-7h0m0 7h0m2 0h0m1 7h0m0-4h0m0 24h0m0-24h0m1-3h0m1 20h0m0 10h0m1-13h0m1-17h0m1 0h0m1 27h0m0-3h0m0-11h0m0 4h0m0 10h0m0-30h0m1 10h0m1 23h0m0-13h0m1-17h0m2 10h0m3 20h0m1-20h0m1 14h0m0 3h0m0-3h0m0-21h0m3 4h0m1-7h0m0 20h0m1 10h0m2-27h0m1-3h0m3 20h0m1-20h0m1 17h0m0-24h0m1 10h0m2-3h0m1 0h0m3 3h0m0 14h0m2-17h0m1 30h0m3-10h0m1 10h0m0-23h0m3 13h0m2 0h0m1 7h0m0-3h0m4 3h0m2 3h0m0-20h0m1-3h0m0-10h0m1 6h0m1 10h0m2 4h0m0 13h0m3-30h0m1 27h0m3-34h0m1 31h0m0-24h0m2 0h0m4 20h0m1-10h0m4 7h0m4-17h0m2 0h0m3 27h0m6-20h0m4-14h0m2 14h0m3 0h0m0 20h0m5 3h0m8-33h0m0 20h0m3 3h0m0-20h0m2 30h0m2-10h0m2-17h0m2-3h0m3 20h0m10-13h0m1-14h0m3 31h0m6 0h0m3 6h0m6-20h0m12-10h0m3 7h0m1 20h0m12-3h0m21 0h0m19 6h0m25-3h0m-373 40h0m2-33h0m5 33h0m4-20h0m0 14h0m5 6h0m4-33h0m11 33h0m1-33h0m4 0h0m0 33h0m2-20h0m0 17h0m1 3h0m0-33h0m0 33h0m1-23h0m0 20h0m1-10h0m1 3h0m1 10h0m1 4h0m0-14h0m4 14h0m1 0h0m1 0h0m0-4h0m1-13h0m0-10h0m1 10h0m0-20h0m1 33h0m0-13h0m2 3h0m0 7h0m1-13h0m1 10h0m1-10h0m0-17h0m1 33h0m0-30h0m1 0h0m0 17h0m1 17h0m0-4h0m1 0h0m1-10h0m1 7h0m1 7h0m0-27h0m0 10h0m1 13h0m1 4h0m2-4h0m1 0h0m1 0h0m0-6h0m1 6h0m0-33h0m1 6h0m0 27h0m0-33h0m2 27h0m0-27h0m0 6h0m1-6h0m0 33h0m0-23h0m1 10h0m0 13h0m0-23h0m1-4h0m0 21h0m1 6h0m1 0h0m1-6h0m0-27h0m1 6h0m0 17h0m0-3h0m0-20h0m1 33h0m0-3h0m1 7h0m1-4h0m0-13h0m1 0h0m1-20h0m2 33h0m0 4h0m1 0h0m0-24h0m0 14h0m1 6h0m0-10h0m1 10h0m2-23h0m0 17h0m1 6h0m0-33h0m0 17h0m0-17h0m1 37h0m0-20h0m1 20h0m0-37h0m0 33h0m0-33h0m1 27h0m0-27h0m0 10h0m2 13h0m1-23h0m2 0h0m0 20h0m1-10h0m1-7h0m1 30h0m0 4h0m1-10h0m0 6h0m0-13h0m0 13h0m1-33h0m0 33h0m0 4h0m0-37h0m0 33h0m1-3h0m0-3h0m1 6h0m0-10h0m0 7h0m0-20h0m1-4h0m1 7h0m0-7h0m0 4h0m1 27h0m0-4h0m2 4h0m0-4h0m0-27h0m0 27h0m0-10h0m1 10h0m0-33h0m0 30h0m1-30h0m0 6h0m0-6h0m0 30h0m0 3h0m1-10h0m0 7h0m1 3h0m0-6h0m0 3h0m1-30h0m0 37h0m0-4h0m1 4h0m0-4h0m1 0h0m0-33h0m2 33h0m0-20h0m1 20h0m0-27h0m0 4h0m0-7h0m0 30h0m0-20h0m1-13h0m1 23h0m0-23h0m1 33h0m1-30h0m0 30h0m0-6h0m0-4h0m0-6h0m1 20h0m0-20h0m0 13h0m0-30h0m1 33h0m0-10h0m1-23h0m1 33h0m1-33h0m0 33h0m1 0h0m1 4h0m1-37h0m1 0h0m1 3h0m0 20h0m0 14h0m0-4h0m0-33h0m1 23h0m1 10h0m1-33h0m0 10h0m0 17h0m1-17h0m0 23h0m1 0h0m0-10h0m1 10h0m0-33h0m0 30h0m0 3h0m0-33h0m0 33h0m1-33h0m1 20h0m0 13h0m1-6h0m0-27h0m0 33h0m1 0h0m1-33h0m0 37h0m0-20h0m0-7h0m1 23h0m1 0h0m1 0h0m1-3h0m1-30h0m1 33h0m1-10h0m0-17h0m0-6h0m1 27h0m0 6h0m0-27h0m1 7h0m0 20h0m1-10h0m1-10h0m0-13h0m1 0h0m1 10h0m2 20h0m0 3h0m1-16h0m0-14h0m0 24h0m0 6h0m0-33h0m0 33h0m1-33h0m1 30h0m0-3h0m2-14h0m0 20h0m1-6h0m0-27h0m0 33h0m0 4h0m1-24h0m0-13h0m1 0h0m1 0h0m0 33h0m1 0h0m0 4h0m1-20h0m1 10h0m0-27h0m0 27h0m1 6h0m0-33h0m1 30h0m0-17h0m0 20h0m0-6h0m1 0h0m0 6h0m1 0h0m0-27h0m1 17h0m0-10h0m0 20h0m1-27h0m1-6h0m1 37h0m0-4h0m1 0h0m0-33h0m0 10h0m1-4h0m0 27h0m0-23h0m1 17h0m1 3h0m1-10h0m3 17h0m0-20h0m1 6h0m1 10h0m0-33h0m0 13h0m1-13h0m1 27h0m0-21h0m2 17h0m2-3h0m1 0h0m1 13h0m0-10h0m1-23h0m0 37h0m0-4h0m1-33h0m0 33h0m0-23h0m1 23h0m1 0h0m2 0h0m0-13h0m1 0h0m1 10h0m0-10h0m1-14h0m0 24h0m1 7h0m2-4h0m2 0h0m1 4h0m1-4h0m1-30h0m1 34h0m1-4h0m1-30h0m2 17h0m0-20h0m2 33h0m1-27h0m5 27h0m6-13h0m3-7h0m0 24h0m3-27h0m1 3h0m2 24h0m1-37h0m0 33h0m3 0h0m1-33h0m1 37h0m0-17h0m1 10h0m1-3h0m0-21h0m1 27h0m0-23h0m1 20h0m5-27h0m2 30h0m3-20h0m1 20h0m4 0h0m3-16h0m1 16h0m3-16h0m10-17h0m0 33h0m10-33h0m7 37h0m3-14h0m2 7h0m16-27h0m3-3h0m23 30h0m23-20h0m1 23h0m10-3h0m19-17h0m29-13h0m18 30h0m-468 44h0m7-27h0m0-4h0m19 17h0m1 7h0m4 0h0m2 0h0m5-7h0m7 10h0m3 4h0m0-10h0m1 3h0m1-20h0m2 10h0m2-10h0m1 23h0m0-6h0m0 3h0m0 7h0m1-7h0m3 0h0m2 7h0m0-7h0m0-17h0m0 4h0m1 20h0m1 0h0m1-31h0m0 7h0m1 4h0m0-14h0m2 14h0m0 13h0m1-24h0m0 24h0m0 3h0m1-3h0m1-20h0m0 20h0m1 7h0m1-7h0m1 0h0m1-10h0m0 10h0m1-10h0m1 3h0m1-6h0m1 20h0m1-4h0m0 4h0m1-17h0m0 3h0m1 7h0m1 0h0m0 7h0m0-4h0m0-30h0m1 24h0m1-7h0m1-17h0m1 27h0m1 3h0m0-30h0m0 17h0m1 10h0m0 3h0m0-6h0m0 6h0m1-27h0m0 24h0m0-20h0m0 20h0m1-3h0m0 3h0m0-3h0m0-14h0m1 10h0m1-20h0m0 14h0m1 3h0m0 13h0m0-16h0m0 3h0m1 13h0m0-10h0m0 7h0m1-10h0m0 3h0m0-6h0m1-14h0m0 14h0m0-4h0m1 4h0m0 10h0m1-21h0m0 7h0m0 4h0m0-11h0m0-3h0m0 27h0m1-24h0m0 11h0m1 16h0m0-27h0m0 7h0m1-10h0m0 30h0m0-3h0m0-13h0m0-7h0m0 20h0m1-17h0m0 17h0m0-3h0m0 3h0m1 0h0m0-7h0m0 7h0m0 7h0m0-7h0m1 0h0m0-24h0m0 24h0m1 0h0m0-27h0m1 20h0m0-13h0m0 7h0m1 13h0m0-27h0m0 27h0m1 0h0m0-3h0m0 3h0m1 0h0m0-13h0m0 16h0m0-10h0m1 0h0m0 7h0m1-24h0m0 21h0m0-7h0m1-3h0m0-14h0m2 20h0m0 7h0m0-20h0m0 20h0m0 7h0m1-7h0m0-7h0m0 10h0m1-30h0m0 27h0m1 0h0m0-13h0m0-11h0m0 24h0m1-17h0m0-10h0m0 30h0m1-13h0m0-17h0m0 27h0m0-27h0m1 30h0m1-27h0m0 31h0m0-24h0m0 17h0m1-17h0m0 10h0m0 10h0m0-3h0m1 7h0m0-7h0m0-13h0m0 3h0m1 10h0m0-3h0m0 10h0m1-24h0m0-10h0m0 27h0m0 7h0m0-4h0m1 4h0m0-14h0m0 14h0m0-7h0m1 3h0m0-16h0m0 3h0m1-3h0m0 13h0m1 3h0m0-16h0m1 0h0m1-11h0m0 21h0m0-17h0m0 3h0m0 17h0m1 7h0m0-7h0m0-13h0m0-4h0m1 4h0m0 13h0m1 0h0m0 3h0m0-10h0m1-17h0m0 24h0m0 7h0m1-7h0m0 7h0m0-24h0m0 20h0m0-27h0m0 24h0m0 3h0m2-3h0m0 7h0m0-17h0m0-7h0m0-7h0m0 21h0m1-10h0m1 13h0m0-27h0m0 24h0m1 10h0m0-14h0m1 7h0m0-3h0m0 3h0m0-10h0m1-17h0m0 27h0m1-24h0m0 11h0m0-11h0m0 27h0m0 4h0m1-7h0m0-3h0m1 3h0m0-10h0m0 10h0m0 7h0m1-20h0m0-7h0m0 27h0m1-7h0m1-24h0m0 11h0m0-7h0m0 27h0m0-7h0m1 0h0m0 3h0m1-30h0m0 27h0m0-17h0m2 17h0m1 0h0m1 0h0m0 7h0m0-10h0m0 3h0m0-10h0m0 10h0m1-24h0m0 4h0m0 20h0m1 0h0m0 7h0m1-4h0m0-3h0m1-3h0m1 3h0m0-3h0m0 3h0m1 0h0m0-27h0m1 27h0m0 3h0m0-16h0m1 3h0m0 3h0m0-3h0m1 7h0m0-24h0m0 20h0m0-13h0m0 20h0m1 0h0m0-27h0m0 7h0m1-4h0m0 11h0m0 20h0m0-24h0m0 17h0m1 3h0m0-16h0m0-4h0m1 17h0m0-20h0m1-4h0m1 24h0m0-13h0m1 13h0m0-24h0m0 24h0m1 0h0m0-24h0m0 11h0m0 3h0m1 0h0m0 13h0m0-3h0m0-3h0m1 3h0m0-10h0m0 10h0m0-13h0m0-14h0m0 3h0m1 24h0m1 0h0m0-7h0m0 7h0m1-20h0m0-7h0m0 3h0m0 24h0m0 7h0m0-7h0m1 0h0m0-24h0m1 24h0m0-24h0m1 17h0m0 10h0m0-20h0m1-10h0m1 3h0m0-3h0m1 27h0m0 7h0m0-7h0m0-20h0m1 23h0m0-3h0m0-7h0m0 10h0m2 0h0m1-3h0m0-3h0m0 10h0m1-7h0m0 7h0m0-10h0m0 3h0m1-3h0m0 3h0m0-17h0m0 17h0m0-13h0m0 13h0m2 3h0m0-3h0m1-24h0m1-3h0m0 24h0m1 3h0m0-3h0m0 10h0m0-27h0m1 23h0m0-16h0m0 13h0m1 0h0m1 0h0m1-24h0m0 24h0m0 7h0m1-7h0m1 3h0m0-3h0m0-27h0m1 27h0m0 7h0m0-7h0m0-20h0m1 27h0m0-14h0m0 7h0m1-3h0m1-10h0m0 16h0m0-30h0m1 3h0m0 14h0m1 3h0m0 4h0m0-21h0m1 24h0m1-13h0m0 20h0m0-10h0m1 3h0m1-3h0m0 3h0m0-20h0m0 17h0m1 3h0m0-10h0m2 0h0m0 10h0m1 0h0m0 7h0m0-10h0m1 3h0m0 3h0m0-23h0m2 23h0m1-16h0m0 13h0m0-3h0m1-14h0m1-3h0m0 7h0m0 13h0m1 7h0m1-10h0m0 3h0m1 7h0m0-27h0m1 20h0m0-10h0m0 10h0m0-10h0m0 10h0m1-10h0m0 10h0m1 7h0m0-14h0m1 10h0m1 4h0m0-7h0m0-3h0m2-24h0m0 10h0m1 0h0m0-7h0m1 4h0m0-7h0m2 30h0m0-3h0m2-10h0m0 10h0m0-10h0m0 10h0m1-17h0m1 4h0m1 13h0m1 0h0m0-7h0m0 7h0m1 0h0m1-17h0m1 17h0m1 0h0m0-20h0m1 13h0m1-13h0m1 20h0m1 0h0m1-24h0m0 27h0m2-3h0m0-20h0m1 20h0m1-27h0m0 27h0m1-20h0m2 0h0m0 13h0m1 14h0m2-14h0m0 7h0m0-7h0m2 7h0m2-24h0m0 7h0m0 17h0m0-13h0m2 20h0m0-7h0m1-7h0m1-17h0m0 24h0m1 0h0m1 0h0m0-24h0m1 24h0m3 0h0m0-13h0m2 10h0m1-10h0m2 20h0m0-34h0m0 34h0m3-7h0m1-7h0m1 7h0m2 7h0m3-24h0m2 4h0m0 13h0m1 0h0m0-13h0m1 13h0m2-17h0m1 17h0m3 0h0m1-24h0m0-3h0m1 30h0m6-3h0m3-24h0m4 21h0m3 6h0m2-3h0m1-7h0m1 10h0m0-30h0m0 24h0m6-4h0m1 10h0m5-3h0m1 0h0m6 3h0m0-13h0m6 3h0m1 4h0m2 10h0m7-4h0m6-3h0m2 0h0m7 0h0m4 7h0m6-7h0m20 0h0m5 0h0m1 0h0m1 3h0m7-10h0m1 7h0m20 3h0m36-27h0m10 27h0m10 0h0m13-3h0m20 0h0m26 0h0m-579 30h0m4-6h0m15 3h0m2-3h0m14 10h0m14 0h0m2 6h0m4-6h0m13-24h0m0 20h0m0 10h0m0-6h0m1-7h0m4-3h0m1 16h0m1-10h0m1 4h0m1-20h0m0 20h0m1 13h0m1 0h0m6-3h0m2-7h0m0-3h0m1-24h0m2 24h0m0 13h0m1-10h0m1-3h0m0-17h0m0 20h0m3-17h0m1 17h0m1-10h0m1 7h0m1 13h0m0-13h0m0 10h0m1-10h0m0 10h0m0-4h0m1 7h0m1-13h0m0-4h0m0 4h0m1 3h0m0-13h0m0-7h0m0 3h0m0-3h0m1 7h0m0 13h0m0-3h0m0-10h0m1 13h0m0-10h0m1-3h0m0-4h0m2 10h0m1 4h0m0 6h0m1 7h0m0-13h0m0-20h0m1 16h0m0 7h0m1-3h0m1 13h0m0-27h0m0 14h0m1 0h0m0 6h0m1-3h0m1 10h0m0-13h0m0 3h0m0 7h0m2 0h0m1-30h0m1 20h0m0-14h0m1 4h0m0 10h0m1 3h0m0-3h0m0-10h0m1 20h0m0-20h0m0 6h0m1 4h0m1-10h0m1 10h0m0 13h0m0-13h0m0-17h0m1 7h0m1 13h0m0-10h0m0 17h0m1-14h0m0 4h0m0-4h0m0-13h0m0 3h0m0 14h0m1 10h0m0 3h0m0-13h0m2 0h0m1 6h0m0-20h0m0 10h0m0-16h0m1 33h0m0-30h0m1 23h0m0-16h0m0 20h0m0-10h0m0 3h0m0-17h0m2 17h0m0-23h0m0 20h0m0-10h0m0 10h0m1 0h0m0-14h0m0-6h0m1 20h0m0-7h0m0 7h0m1-7h0m0 7h0m0-14h0m0 17h0m0-20h0m0 7h0m0 6h0m0-20h0m0 24h0m1-7h0m0 17h0m0-14h0m1-6h0m0 10h0m0 13h0m0-13h0m0-17h0m1 17h0m0-24h0m0 20h0m0-6h0m0 10h0m1-4h0m0 14h0m0-14h0m0-13h0m0 17h0m0 6h0m1-6h0m0-4h0m1-10h0m0 27h0m1-27h0m0 7h0m0 17h0m1-20h0m0-10h0m1 3h0m1 20h0m0-17h0m0 7h0m0-17h0m0 10h0m0 7h0m1 7h0m0-4h0m0-13h0m1 27h0m0-20h0m1 10h0m0 10h0m0-10h0m0-14h0m0 20h0m1-16h0m0 10h0m0 13h0m1-37h0m0 34h0m0-14h0m1 4h0m0 6h0m0-26h0m1 20h0m1 0h0m0-4h0m0-16h0m0 20h0m1-20h0m0 6h0m0 14h0m1 0h0m0-14h0m0 10h0m1-10h0m0 17h0m1-17h0m0 24h0m0-10h0m0-17h0m0 20h0m1-17h0m0 24h0m0-17h0m0 13h0m0-20h0m0 14h0m0-17h0m1 0h0m0 17h0m1-10h0m0-7h0m0 17h0m0 3h0m0 7h0m1-7h0m0 10h0m0-10h0m1-23h0m1-4h0m0 4h0m1 23h0m0-20h0m0 27h0m0-4h0m0-6h0m1 0h0m0 10h0m0-27h0m1 30h0m0-20h0m1 17h0m0-17h0m0-10h0m1 27h0m0-27h0m0 3h0m0 17h0m1 3h0m0-30h0m0 24h0m1-10h0m0 16h0m0-30h0m0 24h0m1-4h0m0-6h0m0 23h0m0-7h0m0-6h0m0-24h0m0 30h0m0-6h0m1 0h0m1-4h0m0 10h0m0-6h0m1 6h0m0-6h0m0 6h0m0-23h0m0-7h0m0 37h0m0-37h0m1 24h0m0-4h0m0-16h0m0 10h0m0 6h0m0 4h0m0-4h0m0 4h0m0-7h0m0-17h0m1 30h0m0-6h0m0-7h0m1 10h0m0-17h0m1-6h0m0 33h0m1-3h0m0-34h0m0 4h0m1 33h0m0-13h0m1 0h0m0 10h0m0-20h0m1 10h0m0-4h0m1-20h0m0 27h0m0 10h0m0-30h0m0-3h0m1 20h0m0 10h0m1-10h0m0-24h0m0 30h0m0-3h0m1-3h0m0 3h0m0-23h0m1 20h0m0 3h0m0-23h0m0-4h0m1 17h0m0 10h0m0-3h0m0 6h0m0-16h0m0 3h0m1-13h0m0 20h0m0-24h0m0 20h0m1 4h0m0 3h0m1-20h0m0 17h0m0-10h0m0-10h0m1 13h0m0 7h0m0-10h0m0-10h0m1 20h0m0 10h0m0-20h0m0-10h0m1 0h0m1 20h0m0-10h0m1 3h0m0 20h0m0-23h0m1 6h0m0 4h0m0-17h0m0 17h0m0-7h0m0 7h0m1 0h0m0-20h0m0 3h0m0 20h0m0-3h0m0 13h0m1-30h0m0-3h0m0 13h0m0 7h0m1 10h0m0-30h0m0 26h0m1 0h0m0-30h0m0 24h0m1 0h0m0-24h0m0 24h0m0 3h0m1 10h0m0-23h0m0 20h0m0-7h0m0-3h0m1 13h0m0-3h0m0-10h0m1-24h0m0 24h0m0 13h0m1-27h0m0 14h0m0-24h0m0 14h0m0-10h0m0 20h0m1 0h0m0-17h0m0 17h0m1-17h0m0 27h0m0-10h0m1 6h0m0-13h0m0 10h0m0-10h0m1-13h0m0 23h0m0-27h0m1 34h0m0-34h0m0 37h0m0-13h0m0-24h0m0 24h0m0 13h0m0-37h0m1 20h0m0 10h0m0-3h0m0-17h0m0-6h0m0 3h0m1 3h0m0 20h0m1 7h0m0-3h0m0-27h0m0 3h0m0 14h0m1 13h0m0-23h0m0 10h0m0-7h0m1 13h0m0-6h0m0-14h0m0-10h0m1 37h0m0-30h0m0 20h0m0-27h0m0 24h0m0-10h0m1 0h0m0 23h0m0-13h0m0 13h0m1-13h0m0 13h0m0-10h0m0 3h0m0-13h0m1 7h0m0 6h0m0-16h0m0 10h0m1 6h0m0-23h0m1 30h0m0-13h0m1 13h0m1-27h0m0 14h0m1 3h0m0-3h0m0-17h0m0 13h0m0-10h0m0-10h0m0 24h0m1 0h0m0 10h0m1-10h0m1 3h0m0-3h0m0-14h0m0-6h0m0 3h0m0 20h0m0-3h0m1-20h0m0 20h0m0-24h0m0 30h0m1-13h0m0 7h0m0 13h0m0-3h0m0-10h0m0-10h0m1 13h0m0-3h0m0-4h0m0 7h0m0 3h0m1-6h0m0 3h0m1-3h0m0-20h0m0 20h0m1 0h0m0-24h0m0 17h0m0 13h0m0-3h0m0 7h0m1-10h0m0 10h0m1-27h0m0 23h0m0 7h0m0-23h0m1 10h0m0-4h0m0-10h0m1 24h0m0-14h0m0 7h0m1-3h0m0 10h0m0-10h0m0-24h0m1 24h0m0 6h0m1-3h0m0-3h0m0-10h0m0 6h0m0 7h0m1 0h0m0-13h0m0-7h0m0 17h0m0 6h0m1-16h0m0 10h0m1 3h0m0-3h0m0 13h0m0-20h0m1 7h0m0-24h0m0 24h0m1 3h0m1-7h0m0 7h0m0 10h0m0-13h0m0-14h0m1-10h0m0 24h0m1 13h0m0-13h0m1 0h0m0-4h0m1 4h0m0-10h0m0-14h0m0 7h0m0 17h0m1 6h0m0 4h0m0-14h0m1-16h0m1 20h0m0-14h0m0-6h0m1 33h0m0-13h0m0-4h0m1 17h0m0-27h0m0 7h0m0 17h0m0-20h0m1 10h0m1 13h0m0-13h0m1 3h0m0-10h0m0-13h0m0 6h0m1 10h0m0 14h0m0 3h0m1-37h0m0 24h0m1-4h0m0 4h0m1 13h0m1-13h0m0-17h0m1 30h0m0-27h0m1 10h0m0 4h0m1-10h0m1 23h0m1-23h0m0 13h0m0-10h0m1 3h0m0 4h0m1 13h0m0-20h0m0 7h0m1 0h0m0-24h0m0 7h0m1 20h0m0-3h0m1-7h0m1 0h0m0 7h0m0 3h0m0-3h0m1 13h0m0-33h0m0 20h0m0-7h0m1-13h0m0 13h0m0 13h0m1 7h0m0-20h0m0-17h0m1 4h0m0-4h0m0 37h0m1-13h0m0 3h0m1-17h0m0 27h0m1-13h0m0-4h0m1 4h0m0-24h0m0 14h0m1-4h0m0-10h0m0 24h0m1 0h0m0-14h0m1 14h0m1 6h0m1-23h0m1 27h0m0-4h0m0-16h0m0-10h0m2 26h0m0-30h0m1 20h0m3 17h0m0-37h0m0 34h0m1-10h0m1-10h0m1-10h0m0 20h0m2 3h0m1 0h0m0-3h0m1 6h0m0-16h0m0 10h0m2 10h0m0-24h0m0-6h0m2 10h0m1 16h0m0-6h0m0 3h0m0-10h0m0 10h0m1-27h0m1 17h0m0 7h0m1-10h0m1 10h0m0-14h0m1 14h0m2-14h0m0 14h0m1-17h0m1 30h0m1-17h0m0 7h0m1-3h0m1-4h0m1 4h0m2-24h0m0 24h0m1 0h0m1 0h0m1 3h0m1-10h0m0-7h0m1 14h0m0 6h0m2 4h0m0-4h0m0-6h0m1-14h0m1 7h0m3 13h0m1-13h0m0 7h0m1 3h0m2-23h0m0 10h0m1 16h0m0-6h0m0-14h0m3 27h0m1-17h0m0 4h0m2-4h0m1 7h0m0-13h0m1 10h0m2 3h0m1 3h0m1-23h0m0 10h0m2 20h0m2-13h0m1 0h0m2 10h0m0-10h0m2 0h0m1 13h0m1-17h0m1 4h0m1 0h0m0-10h0m1 13h0m1-13h0m2 10h0m2 10h0m1-27h0m0 10h0m2 7h0m1 13h0m0-17h0m2 4h0m1-14h0m2 14h0m0 13h0m8-3h0m3-10h0m0 6h0m1-23h0m0 20h0m4-3h0m1 0h0m1 13h0m0-17h0m3 14h0m0-7h0m1-3h0m2-10h0m1-14h0m1 17h0m3 13h0m2-10h0m0 4h0m1 0h0m1 0h0m4-4h0m1 4h0m1 13h0m5-13h0m3-4h0m3-6h0m0-10h0m3 30h0m1 0h0m2 3h0m1-17h0m1-10h0m10 14h0m1 0h0m4 10h0m5-30h0m7 30h0m5-10h0m1-17h0m3 20h0m3-10h0m0-17h0m2 17h0m10 10h0m18 7h0m10 3h0m1-13h0m3 13h0m5-37h0m20 34h0m4-17h0m1 0h0m25-17h0m33 30h0m33-20h0m-636 58h0m26 3h0m10-27h0m1 24h0m1 10h0m4-21h0m6 7h0m3 14h0m3-34h0m2 13h0m2 11h0m1-7h0m4-10h0m5 6h0m0 4h0m0 3h0m2-10h0m1 7h0m1 10h0m1-27h0m2 20h0m0-7h0m0-13h0m1 13h0m2 0h0m2 0h0m0 21h0m2-31h0m0 21h0m1-11h0m0-13h0m0 20h0m1-13h0m0 3h0m1 3h0m0 4h0m1-10h0m1 6h0m2-16h0m1 0h0m0 13h0m2 0h0m0-10h0m1 13h0m0 14h0m2-27h0m0 13h0m0-10h0m1 17h0m0 4h0m0-24h0m0 20h0m0-10h0m1-13h0m0 16h0m0-13h0m2 10h0m0-7h0m1 27h0m0-17h0m1 0h0m0 4h0m0 13h0m1 4h0m1-21h0m0-3h0m0 3h0m0 11h0m2-11h0m0 14h0m1-7h0m0-17h0m0 7h0m0 10h0m0-7h0m1-6h0m0 6h0m1 0h0m0-16h0m0 16h0m1 21h0m0-21h0m0-16h0m1 37h0m1-21h0m2 21h0m0-17h0m0-4h0m0-6h0m0 20h0m0-30h0m0 27h0m1-4h0m1 0h0m0 4h0m0 3h0m0-17h0m1 17h0m0-17h0m0-10h0m1 34h0m0-31h0m0-6h0m0 33h0m0-23h0m1 10h0m0-4h0m0-6h0m0-10h0m0 23h0m0-7h0m0 7h0m1-13h0m0 27h0m0-24h0m0 7h0m0-7h0m1 17h0m0-14h0m1-6h0m0 17h0m0 10h0m0-34h0m0 27h0m0-27h0m0 10h0m1-10h0m1 34h0m0-21h0m0-3h0m0 3h0m0 14h0m1-14h0m0-16h0m0 16h0m2 7h0m1-7h0m0 4h0m0-4h0m1 4h0m0-4h0m0-16h0m0 33h0m0-17h0m0 17h0m1 4h0m0-7h0m0-7h0m0-17h0m0 24h0m1-30h0m0 6h0m0 17h0m0-7h0m0 7h0m0-17h0m1 7h0m0 3h0m0-16h0m0 10h0m1 20h0m0-17h0m0 20h0m1-27h0m0 17h0m0 10h0m1-3h0m0-27h0m0 13h0m1 0h0m0-3h0m0-13h0m0 16h0m1 0h0m0 4h0m0 10h0m0-30h0m1 20h0m0-7h0m1-13h0m0 16h0m0 7h0m0-7h0m0-13h0m1 3h0m0 17h0m0 7h0m0-20h0m0 6h0m0-10h0m0 4h0m1-4h0m0 17h0m0 7h0m0-27h0m0 13h0m0-10h0m1-3h0m1 10h0m0 3h0m0-3h0m0 14h0m0-11h0m0 14h0m1-14h0m0 21h0m0-37h0m0 10h0m1-10h0m0 6h0m1 21h0m0-4h0m0 14h0m0-27h0m0 27h0m1-21h0m1-10h0m0 4h0m0 10h0m0 3h0m0-7h0m1-3h0m0-7h0m0 24h0m1-14h0m1 11h0m0-11h0m0 11h0m0-11h0m1 4h0m0-17h0m1 3h0m0 10h0m0-6h0m0 6h0m0-6h0m0 3h0m0 3h0m1-10h0m0 7h0m0 17h0m0-14h0m0 4h0m1 17h0m0-37h0m0 13h0m0 3h0m0-3h0m0 20h0m0-30h0m0 17h0m0 13h0m0-23h0m1 17h0m0 6h0m0-30h0m0 10h0m0 17h0m0-14h0m0 21h0m0-21h0m1-6h0m0-7h0m0 20h0m0-3h0m0-10h0m1 0h0m0-7h0m0 27h0m0-14h0m0-16h0m0 23h0m0 7h0m0 3h0m0-17h0m0 21h0m1-21h0m0 4h0m0-20h0m0 33h0m1-23h0m0 6h0m1-6h0m0 6h0m0 17h0m0-17h0m0 11h0m1-21h0m0 10h0m1-16h0m0 16h0m0 11h0m0-24h0m0 13h0m0-6h0m0 6h0m0 17h0m1-6h0m0 10h0m0-34h0m0 3h0m0 24h0m0-10h0m0-10h0m1 6h0m0 14h0m0-14h0m0 21h0m0-27h0m1 3h0m0 3h0m0-3h0m0 17h0m1-17h0m0 17h0m1-24h0m0 27h0m0 4h0m0-7h0m0-3h0m0 6h0m0-17h0m1-16h0m0 27h0m0-17h0m0 6h0m0-6h0m0 17h0m0-11h0m0 7h0m0-10h0m1 7h0m0-10h0m0 6h0m0 11h0m1-11h0m0 17h0m0-17h0m1-16h0m0 3h0m0 13h0m0 7h0m1 7h0m0-24h0m0 10h0m0 21h0m0-21h0m1 11h0m0-11h0m0 14h0m0-14h0m0 4h0m0 10h0m1-24h0m0 31h0m0-37h0m0 37h0m1-17h0m1-14h0m0 21h0m0-11h0m0-16h0m0 16h0m0-6h0m1 6h0m0 11h0m0-4h0m1-13h0m0 6h0m0 7h0m0-7h0m0 21h0m0-17h0m0-10h0m0 13h0m0 14h0m1 0h0m0-37h0m0 16h0m0 14h0m0-17h0m1-10h0m0 30h0m0-17h0m1 11h0m0 6h0m0-3h0m0-14h0m0 11h0m1-4h0m0 10h0m0-30h0m0 13h0m0-6h0m0 10h0m0 10h0m0-14h0m1 17h0m0-6h0m0-24h0m0 34h0m0-27h0m0 20h0m0 7h0m1-17h0m0-17h0m0 13h0m0 4h0m0-4h0m0-10h0m1-6h0m0 6h0m0 31h0m0-21h0m0-6h0m0 23h0m1-17h0m0 11h0m0-11h0m0 17h0m0-23h0m1-10h0m0 6h0m0-6h0m0 37h0m1-14h0m0-20h0m1-3h0m0 33h0m0-30h0m0 17h0m1 10h0m0-30h0m0 10h0m0 13h0m1-13h0m0 27h0m0-7h0m0-14h0m0 14h0m0-10h0m0-7h0m1 20h0m0-20h0m0 3h0m0-3h0m0 3h0m0-10h0m0 31h0m0-4h0m0-20h0m0 10h0m1-23h0m0 27h0m0-11h0m0-6h0m0 17h0m0 10h0m1-21h0m0-3h0m0 3h0m0 17h0m0-17h0m0 11h0m1-11h0m0 17h0m0-17h0m0-6h0m0-7h0m1 13h0m0-16h0m0 16h0m0-10h0m0-6h0m1 27h0m0-27h0m0 37h0m1-27h0m0 10h0m0 17h0m0-34h0m0 34h0m0-21h0m1 0h0m0 17h0m0-10h0m1-7h0m0 7h0m0-7h0m0-10h0m0 21h0m0-17h0m1 20h0m0-27h0m0-3h0m0 16h0m0-16h0m1 0h0m0 30h0m0-14h0m1-13h0m0 27h0m0-27h0m0 3h0m0 17h0m1 4h0m0-4h0m0-7h0m0 17h0m0-17h0m0-6h0m0-4h0m0 27h0m1-3h0m0-14h0m0-13h0m0 7h0m0 6h0m0 7h0m0 7h0m0-24h0m1-6h0m0 20h0m0 17h0m0-14h0m0 14h0m0-21h0m1-13h0m0-3h0m0 16h0m1 11h0m0-4h0m0 14h0m0-7h0m0-10h0m1-17h0m0 17h0m0-20h0m0 30h0m0-27h0m0 7h0m1-10h0m0 16h0m1 21h0m0-17h0m0-4h0m0-3h0m0-10h0m1 3h0m0 21h0m0-27h0m0 16h0m0-16h0m0 33h0m0-17h0m1 7h0m0 10h0m0-27h0m0 10h0m0-6h0m0 6h0m0 4h0m1 3h0m0-23h0m0 6h0m0 14h0m0 17h0m1-21h0m0-6h0m1-4h0m0 24h0m0-3h0m1-4h0m0 4h0m0-11h0m0-6h0m1 27h0m0-4h0m0-3h0m0-14h0m0-10h0m1 24h0m0-10h0m0 17h0m1-27h0m0 13h0m0-20h0m0 17h0m1-4h0m0-6h0m0 10h0m0-14h0m0 10h0m0 17h0m0-23h0m0 13h0m1 4h0m0-4h0m0-7h0m1 21h0m0-24h0m0 3h0m0-3h0m0 7h0m0-4h0m1 21h0m0-37h0m0 27h0m0-11h0m0-3h0m0 20h0m0-30h0m1 20h0m0-7h0m0-16h0m0 10h0m0 17h0m1 10h0m0-37h0m0 16h0m0 17h0m1-17h0m0-16h0m0 16h0m1 0h0m0-13h0m0 13h0m0 7h0m0 14h0m0-34h0m0 7h0m1 3h0m0-7h0m0 10h0m0 17h0m0-33h0m1 33h0m0-17h0m0 21h0m0-7h0m0 7h0m0-34h0m0 27h0m1-7h0m0 7h0m0-24h0m0 24h0m1-10h0m0 7h0m0-21h0m0 10h0m0-13h0m0 13h0m1 14h0m0-10h0m0 3h0m0-7h0m1 21h0m0-7h0m0-27h0m0 17h0m1 17h0m0-37h0m0 13h0m0-10h0m1 13h0m0-10h0m0 7h0m1 0h0m0-7h0m0 27h0m0-10h0m0-7h0m1-13h0m0 24h0m0 6h0m1 0h0m0-27h0m0 27h0m0-27h0m0-6h0m1 3h0m0 3h0m0 4h0m0 17h0m1 10h0m0-10h0m0-11h0m1 21h0m0-4h0m0-17h0m0-10h0m0 14h0m1 10h0m0-14h0m0-3h0m1 0h0m0 3h0m0 17h0m0-27h0m1 4h0m0 27h0m1-31h0m0 7h0m0-7h0m0 31h0m0-34h0m0 13h0m1-13h0m0 13h0m0 14h0m1-20h0m0 13h0m0 4h0m1-17h0m0 6h0m0 11h0m1 10h0m0-21h0m1 0h0m1 7h0m0 7h0m0-7h0m1 14h0m0-21h0m1 0h0m1 0h0m0 7h0m1-7h0m1-16h0m0 27h0m0-17h0m0 17h0m1-27h0m0 20h0m0 10h0m1 3h0m1-10h0m0-7h0m1 0h0m0 7h0m0-7h0m0 21h0m0-7h0m1-20h0m0 17h0m0-11h0m1-10h0m0 10h0m2 0h0m0-10h0m0 10h0m1-13h0m0 27h0m0-14h0m0 11h0m1-14h0m0 3h0m0 7h0m0-13h0m1 13h0m0 4h0m0-14h0m1 3h0m0 14h0m0-10h0m0-4h0m0-13h0m1 30h0m0-20h0m0 10h0m1 7h0m0-14h0m1 0h0m0 21h0m0-21h0m1 17h0m0-23h0m0 3h0m0-3h0m1 20h0m0 3h0m0-17h0m0-10h0m1 4h0m0 6h0m0-10h0m0 24h0m0-14h0m1-3h0m0 7h0m0-10h0m0 17h0m0 3h0m1-20h0m0-7h0m0 13h0m1 0h0m0-6h0m0 10h0m0 7h0m0-7h0m0 10h0m1-27h0m0 20h0m2-3h0m0-14h0m0 14h0m0 3h0m1-7h0m0-6h0m0-4h0m0-3h0m1 13h0m0 21h0m1-31h0m0 21h0m0-11h0m0 21h0m1-37h0m0 13h0m0 10h0m0-3h0m0-17h0m1 17h0m1-10h0m0 6h0m1 21h0m0-21h0m0 4h0m0-4h0m0-16h0m0 30h0m1-3h0m0-4h0m0-3h0m0-4h0m1 4h0m0-10h0m1 6h0m1 0h0m0 17h0m0-27h0m0 21h0m1-27h0m0 33h0m1-17h0m0-13h0m1 7h0m0-7h0m1-3h0m1 6h0m0 14h0m1-4h0m1 7h0m0-7h0m1 0h0m0-10h0m0 14h0m0-7h0m1 10h0m0-23h0m0 33h0m2-3h0m0-14h0m1 17h0m0-23h0m2 27h0m1-10h0m0-24h0m1 30h0m0-6h0m1-11h0m0-3h0m0 17h0m0 7h0m1-21h0m0-16h0m0 3h0m0 3h0m1 7h0m0 3h0m0 21h0m0-34h0m0 7h0m1 6h0m0-13h0m0 10h0m0-13h0m0 20h0m0 7h0m1-21h0m0 14h0m0 7h0m0 3h0m0-14h0m1-10h0m0 10h0m1 14h0m0-14h0m0 11h0m2-24h0m2 20h0m0-10h0m1 17h0m0-14h0m1 11h0m0-11h0m1-16h0m1 33h0m0 4h0m0-17h0m0-4h0m1 21h0m0-7h0m0-14h0m1 11h0m1-4h0m0-3h0m0-4h0m0-6h0m0 17h0m0 3h0m1-20h0m0 27h0m0-37h0m1 16h0m0 21h0m1-37h0m1 37h0m0-31h0m0 17h0m1-13h0m0-4h0m1 21h0m0-11h0m0-10h0m0 10h0m0-13h0m1 10h0m0 3h0m1 0h0m0 7h0m0-23h0m3 37h0m0-7h0m1 0h0m0-14h0m1 0h0m0-10h0m0 10h0m1-10h0m1-6h0m0 16h0m1 21h0m0-10h0m1-27h0m2 10h0m0 10h0m1-4h0m1 7h0m1-23h0m0 16h0m1 14h0m0 7h0m3-31h0m0 21h0m3-17h0m0 6h0m0 14h0m1-24h0m1 31h0m0-14h0m1-3h0m0 7h0m1 0h0m2 10h0m0-7h0m0-20h0m1 6h0m1 17h0m1-17h0m0-16h0m0 23h0m1 4h0m2-11h0m3 0h0m0 7h0m1-3h0m2 13h0m0-17h0m1 21h0m1-21h0m2 21h0m1-21h0m1 0h0m3 17h0m1-3h0m0 3h0m0-17h0m1 0h0m1 0h0m0-13h0m0-3h0m1 30h0m0-14h0m1 0h0m4-6h0m1 6h0m1-3h0m0 20h0m0-17h0m0 11h0m3-7h0m6 3h0m0-7h0m1-10h0m1 27h0m0-30h0m0 24h0m1-21h0m0-6h0m0 16h0m1 14h0m0-14h0m1-3h0m1-3h0m0 6h0m5 0h0m1 7h0m0-7h0m1 17h0m1-30h0m4 34h0m4-27h0m4 13h0m6 7h0m1-17h0m2 14h0m6-11h0m1 4h0m2-10h0m12 23h0m3-17h0m3 21h0m0-21h0m2 0h0m2 21h0m1-24h0m2-13h0m1 13h0m2-10h0m3 13h0m1 0h0m0 4h0m2 3h0m4 14h0m0-34h0m2 30h0m0-3h0m1-27h0m10 13h0m8-6h0m1 20h0m4-17h0m1-7h0m5 10h0m1 0h0m7 21h0m3-21h0m6 21h0m12-7h0m7 7h0m0-21h0m20 14h0m0-30h0m13 30h0m5-14h0m6 0h0m2 17h0m4-10h0m1-7h0m32 7h0m2-7h0m-626 34h0m25-3h0m7 3h0m3-3h0m7 10h0m1 10h0m2-3h0m1-11h0m2-3h0m3-10h0m0 27h0m1-14h0m1-6h0m1 13h0m0 10h0m1-20h0m2-3h0m0 6h0m3-3h0m3 27h0m2-37h0m0 13h0m1-13h0m1 10h0m0 14h0m0 6h0m1 7h0m1-37h0m2 7h0m1 3h0m0 10h0m1-7h0m0-13h0m0 34h0m1-24h0m3 24h0m1-24h0m0 24h0m1-31h0m2 14h0m3 13h0m1-30h0m1 3h0m1-3h0m1 17h0m1-7h0m1 0h0m0 20h0m0-10h0m1 14h0m1-10h0m1-14h0m1-3h0m0 3h0m1-7h0m0 21h0m0-14h0m1-10h0m0 7h0m0-4h0m1-3h0m0 10h0m1 7h0m1-17h0m1 10h0m1 24h0m0-24h0m0-7h0m0-3h0m0 17h0m1-7h0m0-3h0m0 6h0m0-3h0m1 17h0m0-24h0m1 7h0m1-7h0m1 7h0m0 14h0m2 10h0m0-24h0m0 7h0m0 20h0m1-27h0m0 24h0m0-21h0m0-10h0m0 7h0m0 14h0m0-11h0m1-3h0m0 17h0m0-17h0m0 3h0m1 11h0m0 10h0m0-34h0m0 3h0m0 7h0m0 7h0m0 10h0m1 3h0m0-6h0m0-7h0m1-4h0m0 7h0m0-10h0m1 0h0m0-7h0m0 21h0m1-14h0m0 24h0m0-4h0m0-20h0m0-10h0m1 10h0m0 17h0m0-14h0m0-3h0m0 14h0m1-11h0m0 7h0m0-10h0m0-10h0m1 10h0m1 0h0m0 10h0m0-20h0m1 0h0m0 27h0m0-24h0m1 14h0m0-7h0m0-10h0m1 20h0m0-17h0m1 10h0m0 4h0m0 10h0m1-14h0m0-3h0m0 7h0m0 3h0m1 17h0m0-30h0m0 3h0m0-10h0m0 10h0m0 3h0m1 7h0m1-10h0m1 7h0m0-17h0m0 17h0m0-7h0m1 3h0m0-10h0m0 10h0m0-3h0m1 20h0m0-6h0m0-4h0m0-7h0m1 0h0m1-3h0m0-3h0m0 3h0m1 0h0m0-10h0m0 13h0m0-3h0m1 17h0m0-17h0m1 27h0m0-34h0m0 4h0m0 23h0m0-20h0m0-10h0m0 7h0m0 3h0m1 0h0m1 20h0m0 7h0m0-27h0m0 3h0m0 7h0m1-10h0m0-3h0m0 13h0m0-10h0m0 3h0m0 21h0m1-14h0m0-3h0m1-10h0m0 23h0m1 7h0m0-27h0m1 0h0m0 27h0m0-34h0m0 7h0m0-7h0m0-3h0m0 3h0m0 7h0m1 10h0m0 17h0m0-20h0m0-10h0m0 30h0m1-27h0m0 3h0m0-6h0m1 3h0m0 7h0m0-7h0m0 20h0m0-20h0m0-7h0m1 21h0m0-11h0m0 4h0m0-17h0m1 3h0m0 7h0m0 24h0m1-24h0m0 10h0m0-3h0m0-10h0m0 3h0m0 20h0m0-20h0m1-10h0m0 7h0m0 27h0m0-34h0m1 10h0m0-10h0m0 17h0m1-17h0m0 37h0m0-30h0m0 3h0m1 20h0m0-6h0m0 10h0m0-4h0m0-27h0m0 14h0m1 7h0m0 6h0m0-23h0m0-7h0m0 17h0m0-4h0m1-3h0m0 17h0m0-14h0m0 14h0m0 3h0m0-6h0m1 10h0m0-24h0m0-3h0m0-7h0m1 10h0m0 24h0m0-21h0m0-3h0m1 0h0m0-10h0m0 20h0m0 14h0m0-10h0m0 6h0m0-10h0m0-10h0m0-10h0m0 3h0m1 17h0m0-10h0m0 24h0m0-10h0m1 3h0m0-7h0m0 10h0m1-6h0m1-14h0m1 3h0m0-3h0m1 17h0m0-3h0m0-14h0m0 7h0m0-7h0m0 14h0m0-14h0m0-7h0m1 17h0m0-10h0m1 7h0m1 20h0m0-3h0m0-4h0m0-23h0m1 3h0m0-10h0m0 37h0m0-13h0m0-21h0m0 31h0m0-24h0m0 7h0m1 7h0m0-4h0m0-10h0m0 14h0m0-11h0m0-3h0m1-3h0m0 30h0m0-10h0m0-17h0m0-3h0m0 13h0m1-10h0m0 14h0m0 3h0m0-17h0m0-3h0m1 0h0m0 3h0m1 0h0m0 20h0m0-20h0m1 0h0m0 27h0m0-10h0m0-14h0m0 21h0m0-7h0m0-20h0m0 30h0m0-7h0m0 7h0m1-34h0m1 7h0m0 17h0m0-7h0m0-10h0m1 0h0m0 17h0m0 7h0m0-10h0m0-14h0m1 3h0m0-6h0m0 10h0m0-17h0m1 30h0m0-20h0m0 27h0m0-30h0m0 27h0m0-4h0m1-20h0m0 17h0m0-24h0m0 10h0m0 7h0m0 10h0m0-23h0m1 3h0m0 14h0m1 13h0m0-13h0m0-14h0m1 14h0m0-14h0m0 27h0m0-20h0m1-10h0m0-4h0m0 17h0m0 4h0m0-14h0m1-10h0m0 10h0m0 14h0m1-14h0m0-3h0m0 30h0m0-24h0m1-3h0m0 3h0m0 21h0m0-27h0m0 17h0m0 6h0m0-23h0m0 6h0m1 14h0m0-10h0m0 10h0m0-17h0m0-7h0m1 10h0m0 14h0m0-17h0m1 27h0m0-27h0m0 7h0m0 13h0m0-17h0m1 24h0m0-34h0m0 7h0m0 7h0m1 13h0m0-13h0m0 7h0m0-14h0m0 17h0m1-20h0m0 6h0m0 7h0m0-7h0m0 7h0m1 10h0m0-20h0m0 10h0m0 17h0m1-37h0m0 7h0m1 3h0m1-10h0m0 24h0m0-24h0m0 13h0m1 17h0m0 7h0m0-37h0m0 3h0m0 7h0m1 20h0m0-3h0m0 7h0m0-4h0m0-20h0m1 20h0m0-6h0m0-24h0m0 30h0m0-17h0m0 7h0m0 17h0m0-27h0m1 24h0m0-24h0m0 17h0m0-17h0m0 17h0m1-17h0m0 17h0m0-17h0m0 20h0m0-23h0m0 13h0m0-17h0m1 7h0m0 17h0m1 10h0m0-13h0m0 13h0m0-34h0m0 17h0m1 4h0m0-14h0m0 24h0m0-10h0m0 3h0m0 3h0m1-30h0m0 10h0m0 3h0m0-3h0m1-7h0m0 27h0m0-13h0m0-7h0m0 7h0m0 17h0m0-34h0m0 10h0m1 0h0m0 10h0m0-10h0m0-7h0m0 7h0m0 3h0m0-3h0m0 24h0m1-24h0m0 7h0m0-10h0m0 17h0m0-21h0m0 27h0m0-6h0m1 10h0m0-27h0m0-4h0m0 4h0m0 27h0m0-31h0m1 7h0m0 3h0m0-3h0m0 17h0m1-10h0m0-7h0m0 7h0m0 3h0m0-3h0m1-7h0m0 10h0m1-10h0m0 17h0m0-17h0m1 0h0m1 0h0m1 0h0m0 17h0m0-17h0m0 17h0m0-17h0m1-10h0m0 10h0m0-10h0m0 27h0m1 7h0m0-17h0m0 7h0m1-14h0m0 24h0m0-24h0m0 7h0m0-17h0m1 13h0m0-3h0m0-7h0m0 7h0m0-3h0m1 23h0m0-20h0m0 17h0m0-3h0m0-4h0m1 7h0m0-24h0m0 7h0m0 10h0m1 7h0m0-17h0m0 24h0m0-34h0m0 10h0m0 27h0m0-37h0m1 10h0m0 14h0m0-4h0m0-7h0m0-10h0m1 31h0m0-10h0m0-14h0m0-3h0m0-4h0m0 17h0m1 10h0m0-13h0m0 10h0m0 3h0m0-6h0m0 13h0m0-27h0m1 14h0m0 10h0m0-14h0m0-17h0m0 7h0m0 3h0m0 4h0m1 3h0m1-3h0m1 3h0m0-20h0m1 17h0m0-10h0m0 27h0m0-17h0m1 10h0m0-7h0m0-20h0m0 10h0m1 0h0m0 24h0m1-24h0m0 27h0m0-10h0m1-14h0m0-13h0m0 13h0m0-3h0m1 27h0m0-30h0m1 27h0m0-24h0m0 24h0m1-24h0m1 0h0m0-10h0m0 7h0m0 13h0m0-10h0m1-7h0m0 17h0m0 17h0m0-27h0m1 20h0m0-23h0m0 6h0m0 11h0m0-24h0m0 10h0m0 7h0m0 3h0m0-13h0m0 3h0m1 14h0m0 6h0m1-20h0m1 0h0m0-7h0m0 10h0m0-10h0m0 7h0m1 0h0m0 10h0m1-20h0m0 24h0m0 13h0m0-27h0m1 17h0m0-17h0m1 17h0m0-17h0m0 7h0m0-7h0m0 20h0m1-30h0m0 17h0m1 20h0m1 0h0m0-27h0m0-7h0m0 14h0m0 13h0m0-17h0m0 7h0m0-10h0m0 20h0m1 4h0m0-34h0m0 10h0m0 7h0m0 7h0m0 10h0m0-14h0m0-10h0m1-10h0m0 24h0m1-14h0m0 27h0m1-7h0m0 7h0m0-27h0m0 10h0m0-3h0m0-7h0m0 14h0m0 10h0m0-21h0m1 21h0m0-34h0m0 10h0m0-7h0m0 10h0m1-3h0m0 14h0m0-7h0m0-10h0m1 10h0m1 7h0m0-21h0m0 7h0m1 20h0m0-3h0m0-17h0m0 24h0m1 3h0m0-27h0m0 7h0m0 3h0m1-7h0m0 11h0m0-4h0m1-10h0m0 27h0m0-30h0m0 6h0m1-3h0m0 17h0m0 7h0m0-27h0m0 13h0m1 0h0m0-10h0m0-7h0m0 34h0m1-34h0m0 7h0m1-7h0m0 7h0m1 3h0m0 4h0m0 17h0m0-7h0m1-27h0m1 0h0m0 3h0m0 7h0m1 0h0m0 20h0m1-20h0m0 10h0m1 17h0m0-20h0m1 17h0m0-21h0m0-3h0m1 3h0m0-3h0m0 17h0m0-17h0m0 7h0m0-10h0m1 13h0m0-10h0m0-3h0m1 13h0m0 14h0m0-10h0m0-14h0m1-3h0m0 6h0m0 11h0m0 3h0m0-7h0m1 0h0m1 10h0m0-23h0m0 27h0m0-4h0m0-17h0m0 21h0m0-24h0m0 24h0m0-10h0m0 13h0m1-27h0m0-7h0m0 7h0m0 14h0m1-14h0m0-3h0m1 3h0m1 20h0m1-17h0m0-13h0m0 24h0m0-24h0m1 3h0m0 4h0m0-7h0m1 10h0m0 27h0m0-27h0m1 3h0m0 17h0m0-10h0m0-3h0m0-7h0m0 24h0m1-27h0m0 13h0m1 7h0m1-17h0m0 10h0m1-17h0m2 7h0m1 17h0m0-10h0m0-4h0m0 17h0m1-20h0m0 7h0m0-7h0m0-7h0m1 7h0m0 17h0m0 7h0m0 3h0m0-27h0m0 17h0m1-7h0m0-7h0m0 7h0m1 0h0m0-10h0m1 27h0m0-20h0m0-10h0m0 20h0m0-3h0m1-14h0m0 3h0m0 17h0m0-17h0m1-10h0m0 21h0m0-24h0m1 20h0m1 4h0m0-14h0m0 7h0m0 20h0m1-13h0m0-21h0m1 7h0m1-10h0m0 37h0m0-3h0m1-24h0m1 10h0m0 10h0m0-20h0m1-7h0m0 14h0m1 0h0m0 13h0m0-20h0m1 0h0m1-10h0m0 7h0m1 30h0m0-7h0m0-30h0m0 10h0m1 14h0m0-11h0m0-3h0m0 3h0m0 21h0m0-17h0m1-7h0m0 14h0m1-4h0m1-10h0m0-7h0m0-3h0m1 3h0m0 7h0m1 0h0m0 7h0m1 3h0m1-10h0m0 7h0m0 10h0m0-24h0m1 7h0m1 17h0m1-17h0m0-10h0m1 10h0m2 0h0m0 20h0m1-23h0m1 13h0m0-17h0m1 21h0m0-14h0m0-3h0m0 3h0m1 0h0m0 20h0m0 7h0m1-34h0m1 27h0m0-20h0m1 0h0m0 17h0m0-17h0m1 14h0m0-14h0m1 0h0m0 3h0m0-3h0m0 7h0m2 3h0m0 14h0m1-10h0m1-11h0m0 7h0m1-10h0m1 0h0m0 10h0m1-10h0m0 27h0m0-13h0m1-7h0m0-14h0m1 31h0m1-24h0m1 0h0m1 24h0m0-24h0m2 0h0m0 10h0m0-10h0m1 10h0m0-10h0m0-3h0m1 0h0m1 0h0m0-4h0m2 21h0m3 10h0m1-31h0m1 7h0m0 20h0m1-3h0m0-27h0m0 20h0m1-3h0m1-7h0m1 27h0m0-30h0m1 10h0m1-7h0m1 27h0m0-30h0m1 3h0m1 20h0m1 4h0m2-4h0m0-13h0m1 13h0m0-20h0m1-3h0m0 27h0m2-17h0m0-7h0m1-3h0m1 0h0m0-7h0m0 24h0m1-14h0m1 14h0m0-17h0m0 6h0m1-3h0m0 14h0m1-14h0m1 3h0m1 4h0m1-14h0m1 17h0m0-17h0m1 7h0m1-3h0m0 30h0m1-17h0m0 17h0m1-34h0m0 24h0m1-20h0m0 20h0m1-27h0m1 10h0m2 27h0m0-17h0m0 17h0m0-24h0m2 17h0m1 4h0m0-17h0m1-14h0m1 4h0m0 3h0m1 0h0m0 7h0m1-7h0m1 3h0m0 24h0m2-20h0m1-7h0m0 27h0m0-20h0m0 17h0m1-14h0m0-17h0m1 0h0m0 7h0m1 0h0m1 17h0m4-17h0m1 0h0m1 20h0m1-27h0m2 14h0m0-4h0m3 21h0m1-24h0m4 27h0m0-3h0m0-24h0m2 3h0m1 17h0m0 7h0m2-3h0m3 0h0m1-14h0m2-20h0m3 7h0m0 27h0m2-24h0m1 0h0m1 10h0m4-3h0m5 7h0m2-14h0m1-3h0m0 13h0m5 7h0m3-17h0m1-10h0m1 27h0m7-17h0m3 3h0m1 21h0m2-24h0m3 0h0m0 17h0m2-17h0m0-3h0m1 20h0m2 3h0m3-3h0m7-20h0m2 23h0m2-13h0m6 20h0m3-20h0m1 20h0m4-13h0m2 0h0m7-14h0m1-3h0m3-7h0m7 3h0m9 7h0m21 17h0m3-3h0m2-14h0m3 10h0m4 0h0m4 0h0m1-20h0m8 13h0m14 0h0m10-3h0m12 14h0m-598 20h0m16 10h0m9-14h0m6 7h0m2 4h0m6-11h0m2 21h0m4-17h0m1 7h0m2 20h0m1-27h0m4 33h0m3-37h0m3 11h0m0-7h0m2 3h0m2 20h0m0-23h0m3-4h0m3 11h0m2 16h0m2 10h0m1-13h0m2-17h0m0-3h0m4 20h0m2-7h0m0-13h0m1 33h0m2-33h0m0 13h0m1-13h0m1 33h0m5-37h0m0 34h0m0-7h0m0-23h0m1 33h0m2-23h0m0-7h0m1-3h0m1 0h0m0 7h0m1-11h0m1 4h0m1 20h0m0-17h0m0 14h0m0 6h0m1 10h0m1-37h0m0 27h0m0-13h0m1-10h0m0-4h0m1 27h0m1 10h0m3-33h0m1 23h0m0-23h0m0 7h0m1-11h0m1 7h0m1 10h0m1-17h0m0 7h0m0-3h0m1 0h0m1 0h0m1 0h0m0 33h0m1-33h0m3 0h0m1 7h0m0-7h0m0-4h0m0 17h0m2 17h0m0-30h0m0 33h0m1-37h0m0 21h0m0-17h0m2 0h0m0-4h0m0 11h0m1-7h0m2 0h0m1 3h0m0-3h0m1 0h0m1 13h0m0-13h0m1 27h0m0-27h0m1 0h0m0-4h0m0 17h0m1 20h0m1-33h0m1 3h0m0-3h0m0 33h0m0-37h0m2 17h0m0 20h0m2-37h0m0 7h0m0-7h0m1 31h0m1-10h0m0-17h0m1 0h0m0 13h0m0-13h0m0 7h0m1 26h0m0-33h0m1 0h0m1-4h0m0 17h0m1 7h0m0-10h0m0-10h0m1 0h0m0 33h0m0-37h0m0 37h0m1-33h0m1 17h0m0-17h0m1 0h0m2 3h0m0 30h0m1-6h0m1-27h0m0 30h0m0-7h0m1-6h0m0 10h0m1-31h0m1 0h0m0 7h0m0 14h0m0 16h0m0-33h0m1 0h0m1 0h0m0 33h0m0-33h0m0 10h0m0 10h0m2 13h0m1-6h0m0-4h0m1-23h0m1 0h0m0 33h0m0-33h0m1 10h0m0 3h0m0-3h0m0-3h0m1 0h0m0-7h0m1 0h0m0-4h0m0 37h0m0-33h0m2-4h0m0 27h0m0-20h0m1-3h0m0 33h0m0-33h0m0 23h0m1-3h0m0 10h0m0-27h0m0-3h0m1 23h0m0-23h0m0 7h0m1 0h0m0 10h0m1-4h0m1-10h0m0-3h0m0-4h0m0 4h0m1 0h0m0 7h0m1 6h0m0-10h0m0 7h0m0-10h0m1 0h0m0 27h0m1-20h0m0-7h0m0 20h0m1 13h0m0-33h0m0 7h0m1-7h0m0-4h0m0 4h0m0 10h0m1 7h0m0-17h0m0 10h0m1-10h0m0 33h0m0-30h0m1 30h0m1-33h0m0 20h0m0-20h0m0 7h0m0 23h0m1-30h0m0-4h0m1 37h0m0-33h0m0 33h0m1-20h0m1 0h0m0 14h0m0-10h0m0-17h0m0 33h0m0-33h0m1 3h0m0 10h0m0-13h0m1 20h0m0-20h0m0 33h0m1-16h0m1-17h0m0-4h0m0 37h0m1-30h0m0-3h0m0 3h0m1-3h0m0 23h0m0 10h0m0-33h0m0 33h0m0-33h0m1 0h0m1 0h0m0 33h0m1-10h0m0-13h0m0-7h0m1 7h0m0-10h0m1 0h0m0 23h0m1-23h0m1 0h0m1 20h0m0-17h0m0-3h0m0 33h0m0-23h0m1 13h0m0-23h0m0 27h0m1 3h0m0-30h0m0 20h0m0-20h0m1 20h0m0-20h0m0 10h0m1-10h0m0 13h0m0-17h0m1 34h0m0 3h0m1-26h0m0 16h0m1 7h0m0-7h0m1-27h0m0 27h0m0-20h0m0 30h0m1-30h0m0-3h0m0 10h0m0 17h0m1-27h0m0 7h0m1-7h0m1 0h0m0 13h0m0-13h0m0 3h0m0-3h0m1 33h0m2-33h0m1 0h0m1 0h0m0 3h0m0 10h0m0-13h0m0 33h0m1-33h0m0-4h0m0 11h0m1 0h0m0 3h0m0 23h0m0-33h0m1-4h0m0 17h0m0-6h0m1 16h0m0-23h0m1-4h0m0 4h0m1 13h0m0-13h0m0 20h0m0-3h0m0-17h0m1 13h0m0-6h0m0-7h0m1 0h0m1 7h0m0-7h0m1 0h0m0 17h0m0-17h0m3 20h0m1-24h0m0 4h0m0 27h0m1 6h0m0-26h0m0 26h0m0-20h0m0-10h0m0-3h0m1 3h0m0-3h0m1 0h0m1 30h0m0-23h0m0-7h0m0 13h0m1-13h0m1 20h0m0-24h0m0 34h0m0-20h0m1 10h0m1 13h0m0-13h0m1-10h0m0-10h0m0 17h0m1-14h0m0-3h0m1 20h0m0-3h0m0-14h0m0 30h0m1 0h0m1-37h0m1 4h0m0 30h0m0-30h0m1 0h0m1 0h0m1 0h0m0 23h0m1-20h0m0-3h0m0 3h0m1 30h0m0-33h0m1 17h0m2-10h0m0-7h0m0 20h0m0 13h0m0-10h0m1-6h0m0-17h0m0 27h0m1-27h0m1 20h0m1-3h0m0 13h0m0-30h0m1 10h0m1 0h0m0 20h0m0-34h0m0 4h0m1 30h0m0-13h0m0-14h0m1-3h0m0 3h0m0 7h0m1-14h0m0 4h0m1 33h0m0-33h0m1 20h0m1 13h0m0-33h0m0-4h0m0 4h0m2 33h0m1 0h0m0-33h0m0 33h0m1-30h0m0 7h0m0-10h0m1 3h0m1 30h0m0-3h0m1-17h0m1-10h0m0-7h0m0 24h0m0 10h0m1-23h0m0-7h0m0 30h0m1-7h0m1-10h0m1 7h0m1 7h0m1 6h0m1-33h0m0 33h0m0-20h0m2 7h0m1-17h0m1 0h0m0 30h0m0-20h0m0-17h0m1 31h0m0-31h0m0 4h0m2 33h0m1-26h0m1-7h0m0-4h0m0 11h0m1 26h0m0-33h0m1 20h0m0-10h0m1-10h0m0 3h0m1 30h0m1-33h0m0 10h0m0 23h0m0-10h0m3-23h0m2 10h0m0-10h0m1 17h0m1 6h0m1 0h0m2-23h0m0 10h0m0 23h0m0-23h0m1-10h0m0 17h0m1-17h0m1 0h0m0-4h0m1 4h0m1 13h0m2 4h0m1-17h0m2 0h0m1 20h0m2-7h0m0-3h0m0 7h0m0-7h0m1 3h0m1 20h0m0-33h0m0 7h0m1-7h0m1-4h0m0 14h0m1-7h0m3-7h0m0 14h0m0-14h0m1 11h0m1-4h0m4-3h0m0 20h0m2-13h0m0-4h0m2-3h0m1 33h0m2-6h0m0 6h0m1-33h0m0 3h0m3 30h0m0-33h0m1 10h0m1-3h0m1 3h0m2-14h0m0 7h0m0 17h0m1-20h0m2 0h0m0-4h0m1 27h0m1-23h0m0 7h0m2 0h0m1 26h0m0-33h0m6-4h0m0 4h0m2 0h0m1 30h0m2 3h0m3-26h0m1 26h0m0-23h0m2 23h0m3 0h0m1-30h0m1-3h0m1 0h0m1 0h0m1 33h0m0-33h0m1 0h0m5 30h0m1 3h0m2-20h0m1 20h0m0-26h0m1-7h0m0 33h0m3-33h0m9 17h0m2 16h0m1-33h0m3 30h0m0-30h0m1 33h0m3-3h0m5-34h0m1 4h0m0 23h0m6-20h0m3 17h0m1-20h0m2 3h0m1 0h0m1 27h0m0-34h0m2 37h0m1-10h0m1-27h0m4 37h0m1-13h0m1 13h0m0-33h0m1 13h0m6-3h0m0 23h0m1 0h0m1 0h0m1-6h0m1-27h0m0 33h0m4-26h0m3-4h0m1-7h0m0 4h0m5 3h0m4 30h0m6-13h0m0-10h0m3-3h0m1 20h0m0-20h0m2 6h0m3-6h0m2-4h0m1 24h0m1-27h0m14 13h0m1-13h0m5 23h0m3 0h0m22 0h0m1 10h0m5 0h0m3-13h0m1-20h0m8 10h0m28-10h0m7 13h0m5-3h0m4-10h0m-648 64h0m128-14h0m14-13h0m3 17h0m1-7h0m15-7h0m5 4h0m0 23h0m2-27h0m1 4h0m2 23h0m6-27h0m2 27h0m10-30h0m0 34h0m5-27h0m1-4h0m9 14h0m10-10h0m0 10h0m2 0h0m2-14h0m3-3h0m1 17h0m14-14h0m2 0h0m2-3h0m2 30h0m1-27h0m0 24h0m4-10h0m1-17h0m1 30h0m5 0h0m0-23h0m6 10h0m1 13h0m3 0h0m3 7h0m0-34h0m1 0h0m1 0h0m4 24h0m1-7h0m3-17h0m3 31h0m0-31h0m5 7h0m5 20h0m1-27h0m0 27h0m1-23h0m2-7h0m1 13h0m5 17h0m5 7h0m3-7h0m5-20h0m7 10h0m4 0h0m2 17h0m3-24h0m2-13h0m2 20h0m0-20h0m1 20h0m2-7h0m6 4h0m0-17h0m2 3h0m6 27h0m2-27h0m1 4h0m1 10h0m1 13h0m2-17h0m2-3h0m2 20h0m1-13h0m11-10h0m1 0h0m4 0h0m10 27h0m3-21h0m1 17h0m11-27h0m4 14h0m10-14h0m1 27h0m0-23h0m7 23h0m2-27h0m1-3h0m10 10h0m0 20h0m5-7h0m4 7h0m0-10h0m5 7h0m8 10h0m0-34h0m42 24h0m9-20h0m14 10h0m2 6h0m10 4h0m5-14h0m4 17h0m2-23h0m19-4h0m5-3h0m25 27h0m0-27h0m2 30h0m-415 24h0m73 0h0m127 10h0m19 0h0m21 0h0m13-7h0m24 7h0m45-17h0" stroke="#000" stroke-width="7.6" stroke-linecap="round" fill="none"/><polygon points="150.0,310.6 172.6,317.7 195.2,324.8 217.9,331.9 240.5,339.0 263.1,346.1 285.7,353.1 308.3,360.1 330.9,367.1 353.6,373.9 376.2,380.7 398.8,387.4 421.4,394.0 444.0,400.6 466.6,407.1 489.3,413.6 511.9,420.1 534.5,426.6 557.1,433.0 579.7,439.5 602.3,445.9 625.0,452.4 647.6,458.9 670.2,465.3 692.8,471.8 715.4,478.2 738.0,484.6 760.7,491.1 783.3,497.5 805.9,504.0 805.9,517.6 783.3,510.5 760.7,503.4 738.0,496.3 715.4,489.1 692.8,482.0 670.2,474.9 647.6,467.8 625.0,460.7 602.3,453.6 579.7,446.5 557.1,439.4 534.5,432.3 511.9,425.2 489.3,418.1 466.6,411.0 444.0,404.0 421.4,397.0 398.8,390.0 376.2,383.1 353.6,376.4 330.9,369.7 308.3,363.1 285.7,356.5 263.1,350.0 240.5,343.5 217.9,337.0 195.2,330.5 172.6,324.0 150.0,317.6" fill="#999" fill-opacity="0.4"/><line x1="150" y1="314.1" x2="805.9" y2="510.8" stroke="#3366FF" stroke-width="3.7"/><path d="M102 26.7V599.5H874.3" fill="none" stroke="#000" stroke-width="1.6"/><path d="M194.6 599.5v4.5M349.1 599.5v4.5M503.6 599.5v4.5M658.1 599.5v4.5M812.6 599.5v4.5M102 599.5h-4.5M102 464.78h-4.5M102 330.06h-4.5M102 195.34000000000003h-4.5M102 60.620000000000005h-4.5" stroke="#000" stroke-width="1.3"/><text x="194.6" y="625.2" font-size="25" text-anchor="middle" font-weight="normal" >10</text><text x="349" y="625.2" font-size="25" text-anchor="middle" font-weight="normal" >15</text><text x="503.8" y="625.2" font-size="25" text-anchor="middle" font-weight="normal" >20</text><text x="658.2" y="625.2" font-size="25" text-anchor="middle" font-weight="normal" >25</text><text x="812.6" y="625.2" font-size="25" text-anchor="middle" font-weight="normal" >30</text><text x="95.0" y="605.0" font-size="25" text-anchor="end" font-weight="normal" >0</text><text x="95.0" y="470.3" font-size="25" text-anchor="end" font-weight="normal" >4</text><text x="95.0" y="335.6" font-size="25" text-anchor="end" font-weight="normal" >8</text><text x="95.0" y="200.8" font-size="25" text-anchor="end" font-weight="normal" >12</text><text x="95.0" y="66.1" font-size="25" text-anchor="end" font-weight="normal" >16</text><text x="11.2" y="31" font-size="31" text-anchor="start" font-weight="bold" >A</text><text x="501.7" y="652" font-size="29.3" text-anchor="middle" font-weight="normal" >baPWV, m/s</text><text transform="translate(53.3 313.4) rotate(-90)" font-size="29.1" text-anchor="middle">Septal e', cm/s</text><text x="524" y="85.2" font-size="35.1"><tspan font-style="italic">r</tspan> = - 0.408, <tspan font-style="italic">P</tspan> &lt; 0.001</text><path d="M1316 94h0m9-2h0m-115 42h0m11-21h0m74 20h0m51-24h0m14 12h0m22 14h0m139 5h0m55-38h0m-375 70h0m102-1h0m25-4h0m21-25h0m30 25h0m43 6h0m10-26h0m15 33h0m30 0h0m-263 34h0m6-2h0m7 1h0m22-10h0m33-6h0m24 5h0m11 16h0m22-21h0m2-5h0m15 13h0m7 3h0m35 8h0m35-19h0m46 15h0m5 5h0m61-25h0m13-4h0m22 18h0m55-7h0m-500 32h0m44-10h0m1 6h0m11 7h0m22 17h0m10 3h0m7 1h0m25-28h0m10 26h0m19-8h0m4-7h0m11 21h0m0-24h0m1-6h0m22 20h0m8-1h0m1-9h0m3 17h0m4-10h0m14-16h0m22 14h0m24 1h0m28-7h0m6-1h0m3 7h0m3 12h0m0-7h0m37-25h0m36 34h0m31-7h0m16 2h0m44 3h0m3 0h0m54-19h0m-514 40h0m18 21h0m2 0h0m2-12h0m2 4h0m40-10h0m3 7h0m4-4h0m5-5h0m6-3h0m9 21h0m1-24h0m3 19h0m4-6h0m25-18h0m12 10h0m1 23h0m4-9h0m2 8h0m10-27h0m0 6h0m3-17h0m7 16h0m1 12h0m10 2h0m9-11h0m2-2h0m2 2h0m11 3h0m3 1h0m3 14h0m5-9h0m7-18h0m8 1h0m2-6h0m10 15h0m7-11h0m4 18h0m8 6h0m4-23h0m3 22h0m12-6h0m10-19h0m27 20h0m4-19h0m3 25h0m1-10h0m1-2h0m11 1h0m2 14h0m5-37h0m5 24h0m9 8h0m13-25h0m5 18h0m3-2h0m20-9h0m3-2h0m9-8h0m8 7h0m13 17h0m6 4h0m8-25h0m0 2h0m84 19h0m4-1h0m-577 20h0m25 14h0m16 1h0m1 11h0m13 2h0m4-27h0m3 13h0m5 18h0m3-25h0m0 2h0m3 15h0m3 2h0m9 6h0m4-27h0m1 5h0m5-4h0m1 24h0m3-4h0m7 2h0m5-26h0m4 2h0m2 7h0m5-14h0m0 33h0m4-14h0m3 11h0m1-15h0m5 4h0m1-4h0m1-2h0m4 18h0m4-18h0m3 20h0m2-27h0m0 7h0m1 19h0m0 2h0m6-8h0m5-27h0m1 30h0m7 2h0m0-17h0m1 19h0m5 0h0m5 2h0m7-19h0m7 15h0m2-30h0m3 21h0m0-12h0m1 20h0m5-8h0m0-12h0m1-10h0m0 7h0m2-3h0m7 31h0m0-32h0m2 31h0m0 1h0m7-24h0m0 11h0m0 7h0m1 1h0m1-13h0m2 14h0m1 4h0m2-37h0m4 1h0m0 17h0m3-13h0m0 32h0m3-16h0m1-22h0m1 3h0m2 23h0m1 3h0m1-1h0m1-26h0m0 32h0m1-22h0m0 26h0m2-13h0m5-26h0m15 36h0m3-35h0m2 5h0m3 3h0m1 25h0m1-9h0m1 13h0m3-33h0m1 31h0m0-27h0m4 27h0m2-29h0m3 30h0m1-17h0m4-19h0m0 9h0m1 11h0m2-14h0m0 27h0m2-3h0m2 9h0m4-38h0m3 36h0m7-32h0m2-4h0m1 13h0m1-6h0m17 19h0m1-7h0m1 10h0m3 2h0m2-33h0m2 30h0m6-30h0m0 13h0m7 16h0m31-24h0m1 25h0m4 0h0m1-1h0m11-11h0m9 19h0m4 2h0m8-12h0m6-17h0m11-7h0m7 5h0m13 23h0m10-14h0m17 8h0m5-12h0m16 0h0m5 14h0m49-18h0m10 16h0m7-14h0m-586 43h0m23 13h0m6 7h0m1 5h0m10 1h0m5 0h0m2-19h0m1-10h0m7 20h0m5-21h0m1 17h0m1-26h0m4 37h0m0-26h0m2 14h0m0 5h0m2-14h0m2 16h0m1 6h0m2-11h0m1-15h0m2-1h0m2 23h0m0-24h0m0 2h0m3 17h0m0-27h0m10 36h0m0-2h0m2-13h0m2 13h0m1-23h0m0 18h0m2 3h0m1-27h0m1 18h0m0-2h0m2 13h0m2-3h0m0-32h0m0 6h0m2 7h0m1 13h0m0-10h0m1 1h0m1 2h0m0 15h0m1-25h0m0 10h0m0-18h0m2 26h0m1 5h0m1-3h0m4 0h0m0 5h0m0-4h0m1-17h0m0 4h0m1-6h0m2 14h0m0-20h0m1 3h0m0 7h0m3 9h0m0 10h0m2-17h0m1 8h0m3-1h0m0 12h0m1-30h0m0 14h0m1 4h0m3-4h0m0-12h0m1 20h0m0-6h0m1 14h0m1-2h0m0-3h0m1-28h0m0-4h0m0 22h0m2-22h0m2 18h0m0 7h0m2 6h0m1-24h0m1 1h0m0 3h0m0 7h0m1-6h0m2-8h0m3-4h0m0-1h0m0 31h0m1-26h0m2 30h0m2-30h0m1 34h0m0-12h0m1-11h0m1 17h0m1 6h0m1 1h0m1-18h0m2 6h0m0-4h0m2 7h0m1-1h0m0-12h0m1-6h0m1 10h0m1 0h0m1 11h0m0-13h0m1 2h0m5 12h0m1-30h0m2 26h0m0-8h0m0 12h0m0-14h0m1-17h0m2 36h0m0-29h0m1 2h0m1 3h0m0 13h0m0 2h0m1 7h0m1-28h0m0 14h0m0-22h0m0 4h0m1 6h0m0 1h0m0-1h0m0 28h0m4-8h0m1-16h0m3 1h0m0 11h0m1 13h0m3-28h0m0 15h0m1 2h0m0 5h0m2 4h0m0-29h0m3 0h0m3 14h0m0-12h0m2-9h0m0 16h0m1 0h0m1 19h0m0-22h0m1 23h0m0-37h0m1 21h0m0 17h0m1-32h0m0-6h0m1 1h0m3 33h0m3-22h0m3 13h0m1-23h0m1 23h0m1-10h0m1 10h0m1 7h0m0-7h0m1 8h0m0-6h0m0 8h0m0-1h0m1-32h0m3 9h0m1 26h0m0-10h0m1-6h0m0 9h0m0-15h0m1 22h0m0-4h0m2-1h0m1-19h0m1 2h0m1 11h0m4-6h0m0 11h0m0-9h0m0 11h0m1-26h0m1 29h0m1-11h0m0-10h0m1-6h0m0 7h0m1 22h0m2-14h0m3-10h0m0 20h0m1-28h0m1 23h0m3-22h0m3 16h0m3 9h0m1-23h0m0 7h0m0 13h0m1-26h0m1 34h0m1-29h0m1 30h0m3-25h0m0-5h0m3 22h0m1-15h0m1 17h0m1-26h0m0-1h0m1 25h0m1-20h0m0 27h0m5-2h0m2-2h0m0-6h0m0-1h0m1-14h0m1-9h0m5-1h0m1 10h0m1 2h0m1-3h0m2 28h0m2-29h0m0 13h0m1-20h0m4 23h0m0-20h0m1 6h0m1-13h0m2 18h0m2-6h0m1 3h0m1-11h0m0 33h0m3-17h0m3-18h0m1 1h0m2 26h0m0-14h0m1-10h0m2 8h0m0 23h0m1-10h0m0-15h0m5 6h0m2 13h0m2-11h0m1 12h0m2-26h0m0 7h0m0 27h0m0-33h0m1-2h0m2 32h0m4-10h0m11-10h0m1 21h0m1 2h0m1-25h0m3 13h0m3 9h0m2 2h0m1-35h0m1 35h0m4-33h0m4 14h0m3-14h0m0 27h0m1-26h0m1 13h0m4 9h0m0 3h0m4 3h0m8-25h0m4 5h0m16 7h0m1-13h0m10 17h0m11-17h0m2 1h0m2 8h0m15 15h0m1-6h0m9-15h0m17 27h0m3-25h0m3 18h0m8-18h0m8-8h0m6 21h0m3 1h0m13 13h0m5-2h0m7-31h0m-559 72h0m3-38h0m4 30h0m6 2h0m1-3h0m6-28h0m8 33h0m1-1h0m5 3h0m1-34h0m0 26h0m4-10h0m6 14h0m0 2h0m0 1h0m2 3h0m5-11h0m2-5h0m3 12h0m1-19h0m1-1h0m1 0h0m2 11h0m0-22h0m2 20h0m0 3h0m0 2h0m0-11h0m1-7h0m0-2h0m0 16h0m0-16h0m1 31h0m0-18h0m1-6h0m0 22h0m0-24h0m0-10h0m2 34h0m0-18h0m0-20h0m1 36h0m1-7h0m1-16h0m0 26h0m1-5h0m0 2h0m2 3h0m2 0h0m0-34h0m0 32h0m1-10h0m0-13h0m1 22h0m0-30h0m0 6h0m0-9h0m0 19h0m1-7h0m0-1h0m0 2h0m0 17h0m0-10h0m0-3h0m1 10h0m0-23h0m1 25h0m0-14h0m1-16h0m0 8h0m4 28h0m0-19h0m0 3h0m0-14h0m1 3h0m0 25h0m1-22h0m2 21h0m0-5h0m0-9h0m0 4h0m1 14h0m0-31h0m1 11h0m0-3h0m0 16h0m0-28h0m1 3h0m0 30h0m0-13h0m0 10h0m1 4h0m0-10h0m1 1h0m0 6h0m0-2h0m0-8h0m1-7h0m0 11h0m0-5h0m0 3h0m0-26h0m0 13h0m1 21h0m0-4h0m0-8h0m1 13h0m0-3h0m0-30h0m0 23h0m1 0h0m1-21h0m0 7h0m0 15h0m1 3h0m0 9h0m1-29h0m0 13h0m1-21h0m3 30h0m1-30h0m0 22h0m0 15h0m1-4h0m1-6h0m0-24h0m1 30h0m0-2h0m0-21h0m1 0h0m0 13h0m1 2h0m0-11h0m0-2h0m0-9h0m1 16h0m0 5h0m0 2h0m0-19h0m0 20h0m1-22h0m1 29h0m0-28h0m0 25h0m0-3h0m1-3h0m0-5h0m1-2h0m0 7h0m0-14h0m0 17h0m0 4h0m0-9h0m1 7h0m0-15h0m0 11h0m0-11h0m1 20h0m0-13h0m0 3h0m0-26h0m1 36h0m0-3h0m1-4h0m0-21h0m0 27h0m1 0h0m0-2h0m0 1h0m1-1h0m0-16h0m0 1h0m0 16h0m0-9h0m1-9h0m0 1h0m0-2h0m1 4h0m0 1h0m1 18h0m0-3h0m0-27h0m1 23h0m0-7h0m0-18h0m0 21h0m1-17h0m0-1h0m0 15h0m0-4h0m1 16h0m0-2h0m0 4h0m1 0h0m0-33h0m1 31h0m1-14h0m0-3h0m1 15h0m1-12h0m0-18h0m0 25h0m1-5h0m0-10h0m0 24h0m1-6h0m0-31h0m0 29h0m1-30h0m0 35h0m1-26h0m0 29h0m0-16h0m0 3h0m0-19h0m0 20h0m0 5h0m0-18h0m1 22h0m0-1h0m0 5h0m0-15h0m0 9h0m1-14h0m1 0h0m0 8h0m1-7h0m0 19h0m0-28h0m1 19h0m0-21h0m1 15h0m0-6h0m0 4h0m0-3h0m1 11h0m0 9h0m0-23h0m0-7h0m1-5h0m0 30h0m0-14h0m0 15h0m0-5h0m1-13h0m0 11h0m0-25h0m0 17h0m1 3h0m0 8h0m0-15h0m0 20h0m0-3h0m1 2h0m1-14h0m0 13h0m0-19h0m1 23h0m2-22h0m0 3h0m0-3h0m2 21h0m1-35h0m0 28h0m0-3h0m1 10h0m0 1h0m0-34h0m0 5h0m1 3h0m0 26h0m0-5h0m0-8h0m1-19h0m1 10h0m0 7h0m0 1h0m0 3h0m1 12h0m1-6h0m0-28h0m0 17h0m1 5h0m0-16h0m1 21h0m0-21h0m0-1h0m0 22h0m1-28h0m0 35h0m0-23h0m0 21h0m1-13h0m1-6h0m0 15h0m0-27h0m1 19h0m0 13h0m1-1h0m0-26h0m0 12h0m0 3h0m1-13h0m0 5h0m1-15h0m1-1h0m0 9h0m0 14h0m0 3h0m1 4h0m0 2h0m1-9h0m0 5h0m1 7h0m0 2h0m1-6h0m0-25h0m0 25h0m1-1h0m0-9h0m0-15h0m0 19h0m0 11h0m1-19h0m0 11h0m0-21h0m0 16h0m2 2h0m0 4h0m1-19h0m0 4h0m0 1h0m1-1h0m0 19h0m1-6h0m0-23h0m0 17h0m1-19h0m0 16h0m1 9h0m1 6h0m0 2h0m0-11h0m0-8h0m0 11h0m0-15h0m1 24h0m0-6h0m1-15h0m0-2h0m0 18h0m0-6h0m0-2h0m0 4h0m1-26h0m0 19h0m0-14h0m0 24h0m1 1h0m0-10h0m1 3h0m0-13h0m0-2h0m1 23h0m0-18h0m1 5h0m0-2h0m1-10h0m0 8h0m0 16h0m0-3h0m0-24h0m1 32h0m0-19h0m1-6h0m0 14h0m1 9h0m2-4h0m0-2h0m0-12h0m0 17h0m0-8h0m1-23h0m0 29h0m0-10h0m0-7h0m0-5h0m2 26h0m0-33h0m0-1h0m0 18h0m1-11h0m0 2h0m0 19h0m0-8h0m0 4h0m1-7h0m0-3h0m1 18h0m0-12h0m1 6h0m1-27h0m0 31h0m0-1h0m0-29h0m1 10h0m0-6h0m2 20h0m0 12h0m1-16h0m0-20h0m0 33h0m0-28h0m0 20h0m0-28h0m1 28h0m0-9h0m0 2h0m0-13h0m1 9h0m0 11h0m1-24h0m0 15h0m0-14h0m0 22h0m2-16h0m1 8h0m0 14h0m0-11h0m0-13h0m0 27h0m0-4h0m1-7h0m1-1h0m0 8h0m2 0h0m0-3h0m1 2h0m0-3h0m0 6h0m0-14h0m1-13h0m0 31h0m0-12h0m2-24h0m0 11h0m0 10h0m0-21h0m0 14h0m1 7h0m1 13h0m1-15h0m1 12h0m0-3h0m0-17h0m1 22h0m1 4h0m0-30h0m0 20h0m1 2h0m2-11h0m0-7h0m0-10h0m0 25h0m1-20h0m0-2h0m0 30h0m0-20h0m1-10h0m2 18h0m0-13h0m1 16h0m0-5h0m0-18h0m2 30h0m0 3h0m0-2h0m0-8h0m1 3h0m0-22h0m0 12h0m0 1h0m1 17h0m1-1h0m1-26h0m1-3h0m0 23h0m0-2h0m2-1h0m1-28h0m0 6h0m0 5h0m0 12h0m1-2h0m0-6h0m1-7h0m1 25h0m0-14h0m0 1h0m0-20h0m0 36h0m1-15h0m0-10h0m0 17h0m1 5h0m0-6h0m2-10h0m0 18h0m1-11h0m0-7h0m0-3h0m2 8h0m0 1h0m0 6h0m0-17h0m1 20h0m0-22h0m0 11h0m0-17h0m1-2h0m0 18h0m0 11h0m1 6h0m0-6h0m1-1h0m0-23h0m1 19h0m1-3h0m0 14h0m0-20h0m0 6h0m1-3h0m0 9h0m1 8h0m0-5h0m1-23h0m0 1h0m1-2h0m1 25h0m0 2h0m0 2h0m0-12h0m1 10h0m3-16h0m1-12h0m0 16h0m1 5h0m1-3h0m0-12h0m0 6h0m1-3h0m0 11h0m1 8h0m1-9h0m1-11h0m1-10h0m2 9h0m0 2h0m1 9h0m1-1h0m0 6h0m1-29h0m0 26h0m0 7h0m1-2h0m0-4h0m1-27h0m0 34h0m0-21h0m0 23h0m0-21h0m0 8h0m0 8h0m1-30h0m1 36h0m0 1h0m1-21h0m1-5h0m1 8h0m1 1h0m1 16h0m0-39h0m0 17h0m1 4h0m1 17h0m1-25h0m1-3h0m1 23h0m0-22h0m0 19h0m0 1h0m1-28h0m1 34h0m1-35h0m1 7h0m0 24h0m0-2h0m0-26h0m1 13h0m0 18h0m0-32h0m0 20h0m1 10h0m0-19h0m2 16h0m1-17h0m0 18h0m1-17h0m1 10h0m1 11h0m0-5h0m3-18h0m0 2h0m2-7h0m2 2h0m0 27h0m3-31h0m0 4h0m1 4h0m0-4h0m1-5h0m1 32h0m0-14h0m2 12h0m1 1h0m1-11h0m1 5h0m1-17h0m2-4h0m2-4h0m1 31h0m2-4h0m2-7h0m1 13h0m1-15h0m4 11h0m0-28h0m4-5h0m1 7h0m1-1h0m0 26h0m1 0h0m0-6h0m1 9h0m5-5h0m2 1h0m0-16h0m3-13h0m2 35h0m1-3h0m1 4h0m0-10h0m1-19h0m0-6h0m1 14h0m1 7h0m1-12h0m1 19h0m0 7h0m4-9h0m1-20h0m1 24h0m1 3h0m4-22h0m1 2h0m0 2h0m3-1h0m0 3h0m2-19h0m1 35h0m0-34h0m10 20h0m0 1h0m0-16h0m2 31h0m0-4h0m0-15h0m1-3h0m1-9h0m1 9h0m0 11h0m4-23h0m1 34h0m3-11h0m9 8h0m7-4h0m0 1h0m3 2h0m1-34h0m1 26h0m5 4h0m2-12h0m2-10h0m4 29h0m2 0h0m4-1h0m1-24h0m15 22h0m2-5h0m1 5h0m2-34h0m1 9h0m2-10h0m2 7h0m1 10h0m1 18h0m1-15h0m4-17h0m3 1h0m3 12h0m3 23h0m3-16h0m3 11h0m1-15h0m2-9h0m6 15h0m2-15h0m1-3h0m15 7h0m8 15h0m4-25h0m1-2h0m8 21h0m6 4h0m26-5h0m6-8h0m7 14h0m-647 13h0m35 34h0m5-10h0m3-1h0m2-1h0m3 0h0m1-5h0m5 11h0m0-27h0m6 12h0m1-11h0m1 17h0m0 17h0m3-18h0m1 16h0m0-8h0m4-17h0m0 19h0m2-2h0m0 8h0m1-12h0m0 11h0m0-20h0m5 20h0m0-5h0m1-13h0m1 20h0m1-25h0m1 25h0m2 3h0m0-28h0m1 29h0m1-3h0m0-16h0m1-1h0m0-12h0m1 27h0m1-32h0m1 31h0m0-15h0m1-1h0m1 18h0m0-7h0m0-3h0m0-17h0m1 12h0m1-9h0m1 3h0m0 5h0m0 14h0m0-9h0m1 14h0m1-11h0m0 9h0m0-17h0m0 14h0m0-14h0m1-10h0m0-1h0m1 9h0m0 4h0m1 15h0m0 2h0m0-4h0m0-23h0m1-5h0m0 30h0m0-17h0m1-9h0m0 26h0m0-18h0m0 14h0m1 2h0m0-16h0m0 15h0m1 4h0m0 1h0m0-3h0m1-15h0m0 2h0m0-6h0m1 12h0m0-18h0m1-2h0m0 30h0m0-19h0m0 15h0m0-7h0m1 3h0m0-24h0m0 27h0m0-32h0m1 1h0m0 10h0m0-7h0m1 7h0m0-4h0m1 23h0m0-7h0m0-17h0m0 27h0m1-9h0m0-19h0m0 28h0m0-21h0m0 20h0m0-1h0m0-17h0m1 22h0m0-13h0m0 12h0m0-25h0m0 11h0m1 17h0m0-5h0m0-33h0m1 5h0m0 30h0m0-19h0m0 5h0m0 2h0m0 1h0m1-14h0m0 3h0m0 23h0m0-34h0m0 34h0m0-3h0m0-9h0m1-8h0m0-15h0m1 36h0m0-38h0m0 13h0m0 14h0m0-19h0m0 11h0m0 13h0m0-14h0m1-5h0m0 11h0m0 4h0m1-12h0m0 4h0m0-3h0m0 15h0m0-4h0m0-3h0m0-23h0m1 17h0m0 13h0m0-8h0m0 10h0m1-8h0m0-23h0m0 17h0m0 6h0m0-21h0m1 29h0m0 4h0m0-35h0m1 23h0m0 5h0m0-6h0m0-16h0m0 24h0m0-6h0m0 9h0m0-3h0m0-4h0m1-13h0m0 15h0m1-22h0m0 28h0m0-26h0m1 20h0m0 1h0m0-4h0m0 10h0m1-8h0m0 2h0m0-15h0m0 13h0m0 2h0m0-25h0m0 28h0m1-8h0m0 12h0m0-28h0m0 3h0m0 17h0m0-6h0m0 4h0m0-11h0m0 10h0m1-19h0m0-1h0m0 29h0m0-8h0m1-23h0m0-3h0m0 23h0m0-23h0m0 26h0m1 3h0m0 1h0m0 5h0m0-22h0m0-15h0m0 31h0m1-18h0m0 23h0m1-24h0m0-4h0m0 12h0m1 4h0m0 11h0m0-36h0m0 33h0m0-13h0m1-6h0m0-2h0m0 13h0m0 5h0m0-8h0m0-14h0m0-5h0m0 27h0m0 8h0m0-16h0m1 13h0m0-35h0m0 25h0m0-5h0m1-15h0m0 30h0m0-27h0m1-7h0m0 17h0m0 16h0m0-6h0m0 5h0m1-1h0m0-10h0m0 15h0m0-32h0m0 22h0m0-12h0m1-5h0m0 6h0m0 14h0m0-24h0m0 33h0m0-24h0m0-9h0m0 29h0m1-14h0m0-12h0m0 20h0m0 3h0m0-32h0m1 0h0m0 25h0m0-9h0m0 1h0m0 19h0m0-27h0m1-8h0m0 18h0m0 2h0m0-3h0m0-4h0m0-5h0m0-4h0m1 10h0m0 1h0m0 14h0m0-31h0m0 37h0m0-13h0m1 9h0m0-1h0m0-24h0m0 20h0m0 4h0m0-1h0m0 6h0m0-6h0m1-30h0m0 11h0m0 24h0m1-2h0m0-14h0m0 12h0m0-12h0m0-3h0m1 4h0m0 8h0m0-7h0m0 15h0m0-27h0m0 14h0m0-8h0m1 9h0m0-14h0m0 27h0m0-34h0m0 1h0m0 27h0m0 3h0m0 1h0m0-4h0m1 3h0m0-7h0m0-9h0m0 16h0m0 4h0m0-13h0m0 7h0m1-4h0m0-24h0m0 27h0m0-25h0m0 29h0m0-19h0m0 6h0m1 8h0m0 7h0m0-22h0m0-15h0m0 5h0m1 22h0m0-6h0m0 6h0m0 5h0m0 3h0m0-16h0m0-18h0m0 28h0m0-3h0m0-17h0m0 17h0m0-7h0m1-17h0m0 29h0m0-4h0m0 12h0m0-1h0m0-9h0m0 7h0m0-30h0m0-4h0m1 22h0m0-22h0m0 25h0m0-2h0m0-22h0m0 34h0m0-8h0m0-3h0m1 0h0m0 4h0m0-13h0m0 22h0m0-11h0m1 10h0m0-15h0m0-24h0m0 20h0m1-6h0m0 12h0m0-22h0m0-1h0m0 27h0m0 1h0m0-12h0m0 1h0m0-11h0m1 26h0m0-10h0m0 9h0m0-31h0m0 14h0m0 21h0m0-26h0m0 2h0m0 2h0m0 10h0m0-25h0m1 28h0m0 1h0m0 10h0m0-38h0m0 38h0m0-11h0m0 10h0m1-3h0m0-26h0m0-6h0m0 1h0m0 7h0m1 16h0m0-14h0m0 3h0m0 20h0m0-37h0m0 37h0m0-2h0m1-10h0m0-2h0m0 10h0m0 5h0m0-8h0m0 9h0m0-9h0m0-7h0m0 15h0m1-19h0m0 2h0m0-8h0m0 8h0m0 18h0m0-5h0m0-24h0m0 10h0m0 17h0m0-3h0m1-3h0m0-1h0m0 2h0m0 7h0m0-18h0m0 11h0m1-19h0m0 16h0m1-29h0m0 25h0m0 7h0m0-23h0m0 25h0m0-20h0m0 7h0m0-4h0m1 16h0m0-2h0m0-14h0m0 10h0m0-17h0m0 22h0m1-25h0m0 27h0m0-5h0m0-12h0m0 5h0m0 2h0m0 11h0m1-2h0m0 5h0m0-30h0m0 27h0m1-23h0m0 13h0m0 4h0m0-7h0m0 11h0m1-1h0m0 6h0m0-27h0m0 19h0m0-1h0m0-19h0m1-5h0m0 16h0m0-3h0m0 8h0m1-15h0m0 7h0m0-15h0m0 34h0m0-3h0m0 2h0m0-35h0m0 21h0m0 16h0m1-37h0m0 29h0m0 4h0m0 6h0m0-5h0m1-12h0m0-2h0m0 8h0m0 3h0m0-1h0m0-19h0m0 23h0m1-9h0m0 9h0m0-7h0m0 11h0m0-3h0m1-36h0m0 23h0m0-21h0m0 5h0m0 29h0m0-2h0m0-18h0m0 23h0m1-19h0m0 10h0m0-14h0m0 1h0m0 21h0m0-25h0m0-2h0m0 8h0m0 2h0m0 9h0m1-15h0m0-12h0m0 2h0m0 13h0m0 4h0m1 4h0m0 1h0m0 9h0m0-31h0m0 12h0m0-15h0m1 27h0m0 3h0m0-3h0m0 2h0m0 5h0m0-14h0m0 5h0m0 10h0m1-23h0m0 22h0m0-34h0m0 20h0m0 12h0m0-2h0m1-28h0m0 16h0m0 15h0m0-8h0m0-2h0m0-2h0m1-12h0m0-10h0m0 30h0m0-15h0m1-1h0m0 22h0m0-19h0m0-11h0m0 11h0m0-1h0m0 11h0m1 10h0m0-3h0m0-4h0m0-12h0m0 9h0m0-7h0m0-4h0m0-5h0m0-12h0m0 24h0m0-10h0m1-6h0m0 32h0m0-20h0m0-14h0m0 7h0m0 6h0m0 13h0m0 7h0m1-33h0m0 10h0m0 6h0m0-6h0m0-13h0m0 34h0m0-6h0m1 5h0m0-25h0m0 11h0m0-7h0m0 23h0m0-8h0m0-27h0m1 35h0m0-12h0m0-19h0m0 21h0m0-7h0m0 19h0m0-6h0m0-22h0m0 22h0m0 4h0m1-18h0m0-4h0m0-14h0m0 13h0m0 23h0m0-9h0m0 8h0m1 1h0m0-17h0m0-17h0m0 34h0m0-1h0m0-29h0m1 4h0m0 18h0m0-25h0m0 5h0m0 19h0m0-26h0m0 21h0m0 14h0m0-4h0m0 3h0m0 1h0m0-1h0m1-20h0m0 18h0m0-33h0m1 18h0m0-14h0m1-3h0m0 29h0m0-13h0m0 3h0m0 12h0m0-5h0m1 7h0m0 2h0m0-19h0m0-9h0m0 28h0m1-15h0m0-7h0m0-5h0m0 15h0m0 9h0m0-32h0m0 9h0m1 27h0m0-31h0m0 14h0m0-19h0m0-3h0m0 23h0m0-12h0m0 17h0m0-16h0m0-1h0m0 18h0m1 3h0m0-4h0m0-12h0m0 7h0m0-8h0m0 6h0m0-9h0m0 21h0m1-5h0m0-20h0m0 28h0m0-21h0m0-1h0m1 17h0m0-4h0m0 3h0m0-3h0m0-3h0m0 3h0m0-3h0m0-9h0m0 20h0m0-19h0m1 20h0m0-27h0m0-4h0m0 24h0m0 9h0m1-27h0m0 21h0m0-6h0m0-15h0m0-10h0m0 7h0m0 15h0m0-1h0m1 16h0m0-20h0m0 14h0m0 1h0m0-24h0m0 4h0m0 9h0m0 15h0m0-22h0m0 23h0m1-11h0m0 9h0m0-24h0m0-11h0m0 31h0m0-13h0m0-18h0m0 5h0m1 16h0m0 9h0m0-23h0m1 23h0m0 5h0m0 2h0m0 1h0m0-7h0m0-9h0m0-2h0m0-6h0m1 14h0m0 1h0m0-27h0m0 34h0m0-4h0m0-31h0m0 10h0m0 6h0m0 17h0m1-16h0m0 14h0m0 6h0m0-37h0m1 16h0m0 3h0m0 5h0m0-4h0m0 15h0m1-16h0m0 11h0m0-13h0m0-5h0m0 1h0m0 12h0m0-2h0m0-16h0m0 21h0m0 2h0m0-12h0m0-18h0m1 13h0m0-1h0m0 6h0m0 12h0m0-3h0m0-23h0m0 26h0m0-23h0m1 12h0m0 18h0m0-23h0m0-13h0m1 19h0m0 16h0m0-25h0m0-7h0m1 8h0m0 4h0m0 16h0m0-4h0m0-9h0m0-16h0m0 16h0m0-18h0m0 30h0m0 2h0m1-15h0m0 17h0m0-8h0m0 5h0m0-6h0m0-21h0m0 29h0m1-19h0m0 6h0m0-23h0m0 29h0m0 6h0m0-22h0m1 9h0m0-5h0m0 11h0m0 4h0m0-13h0m1 15h0m0-24h0m0 11h0m0-18h0m0 23h0m0-12h0m0 24h0m1-5h0m0-17h0m0 21h0m0-1h0m0-31h0m0 26h0m0 1h0m0 4h0m0-22h0m0 17h0m1 3h0m0-4h0m0-8h0m0-19h0m0 18h0m0-6h0m0 19h0m0-10h0m0-15h0m0 16h0m1-2h0m0-22h0m0 1h0m0 34h0m0-21h0m1-3h0m0 6h0m0 4h0m0-19h0m0 21h0m0-18h0m0 33h0m0-12h0m0-12h0m1 6h0m0-11h0m0 3h0m0-9h0m0 5h0m1 16h0m0 1h0m0-17h0m0 6h0m1 16h0m0-2h0m0 2h0m0-14h0m0-5h0m0-8h0m0 18h0m0 2h0m1 10h0m0-2h0m0-8h0m0 10h0m0 3h0m0-16h0m0 2h0m0 17h0m0-25h0m1-12h0m0 30h0m0-29h0m0 31h0m0-33h0m0 25h0m0 4h0m0-28h0m0 26h0m0-25h0m0 32h0m1-2h0m0-18h0m0 21h0m0-5h0m0 6h0m0-18h0m1 1h0m0-11h0m0-4h0m0 30h0m0-32h0m1 29h0m0-10h0m0 4h0m1 4h0m0-26h0m0 32h0m0-2h0m0-7h0m0-5h0m0-14h0m0 22h0m0 1h0m1-14h0m0 17h0m0-11h0m0-3h0m0 9h0m0-5h0m0-14h0m1 20h0m0-23h0m0-4h0m0 8h0m0 13h0m0 9h0m0-11h0m0-22h0m1 29h0m0 10h0m0-16h0m0-14h0m1 18h0m0-11h0m0 22h0m0-15h0m0-10h0m1 9h0m0-1h0m0-8h0m0 18h0m0-6h0m0-19h0m0 16h0m1 13h0m0-25h0m0 22h0m0-27h0m0 12h0m0 19h0m1-16h0m0 5h0m0 9h0m0-13h0m0-11h0m0 7h0m0 22h0m1-22h0m0 3h0m0-6h0m0-14h0m0 36h0m0 1h0m0-5h0m0-16h0m0-2h0m0 23h0m0-17h0m1 10h0m0-4h0m0-5h0m0-4h0m0 21h0m0 1h0m0-26h0m0 2h0m0-10h0m0 26h0m1 3h0m0-31h0m0 32h0m0-22h0m1-5h0m0 23h0m0-21h0m0 20h0m0-3h0m0-18h0m0 24h0m1 0h0m0-9h0m0 4h0m0-21h0m0 4h0m0 26h0m1-24h0m0-2h0m0 15h0m0-11h0m0 24h0m0-2h0m1-36h0m0 19h0m0 15h0m0 2h0m1-36h0m0-1h0m0 32h0m0-12h0m1 11h0m0-27h0m0 33h0m0-28h0m0 9h0m0-18h0m0 38h0m1-23h0m0 18h0m0-30h0m0 26h0m0-21h0m0 28h0m1-17h0m0 19h0m0-17h0m1 18h0m0-16h0m0-14h0m0 4h0m0 6h0m1-7h0m0 18h0m0-10h0m0 13h0m0-18h0m0-2h0m1 21h0m0-34h0m0 4h0m0 29h0m0-18h0m0 18h0m0-14h0m0 9h0m1-1h0m0 10h0m0-32h0m0 19h0m0 10h0m0-4h0m0-15h0m1-7h0m0 23h0m0 6h0m0-33h0m0 35h0m1-14h0m0 1h0m0-26h0m0 34h0m1-34h0m0-1h0m0 8h0m0 25h0m0-4h0m0-21h0m0 20h0m0-17h0m0 17h0m0 1h0m1-24h0m0 11h0m0 8h0m0-17h0m0 28h0m1-34h0m0 37h0m0-21h0m1 1h0m0-18h0m0 32h0m0-12h0m0 19h0m1-4h0m0-8h0m0 3h0m0-9h0m0-18h0m1 32h0m0-32h0m0 18h0m0-9h0m1 27h0m0-8h0m0-6h0m0-24h0m0 20h0m0-11h0m0-8h0m0 29h0m1-6h0m0-8h0m0 19h0m0-3h0m1-17h0m0 18h0m0-7h0m0-21h0m0 17h0m0-9h0m0-2h0m0 27h0m0-36h0m1 34h0m0-16h0m0-9h0m0-4h0m0 18h0m0-11h0m1 9h0m0-12h0m0-7h0m0 27h0m0 1h0m0 3h0m0-11h0m0 8h0m1-26h0m0 29h0m0-4h0m0 2h0m0-29h0m0-1h0m1 30h0m0-11h0m0-10h0m0 15h0m0 11h0m1-25h0m0 2h0m0 23h0m1-8h0m0-14h0m0-7h0m0-9h0m0 39h0m1-7h0m0 2h0m0-7h0m0-6h0m0 1h0m1-18h0m0 4h0m0 25h0m0-27h0m0 27h0m1-5h0m0 5h0m0-10h0m0-4h0m0-7h0m1 5h0m0-13h0m1 26h0m1 3h0m0-14h0m0-17h0m0 16h0m0 11h0m1 2h0m0-2h0m0-20h0m1 22h0m0-25h0m0 2h0m1 24h0m0-2h0m0-13h0m0 17h0m0-26h0m0 23h0m1-23h0m0 27h0m0-14h0m1-3h0m0-1h0m0-5h0m0 4h0m0 11h0m0 8h0m0-29h0m0-2h0m0 9h0m0 17h0m1-27h0m0-4h0m1 22h0m0 17h0m0-13h0m0-22h0m0 18h0m0-17h0m0 15h0m1-7h0m0 4h0m0 9h0m0-24h0m0 4h0m1 11h0m1 10h0m1-15h0m0 11h0m0 9h0m0-7h0m0-10h0m0 21h0m0-6h0m1 3h0m0-10h0m0 12h0m0-12h0m0-4h0m0 19h0m0-7h0m0-9h0m1-19h0m0 36h0m0-35h0m0 1h0m0 10h0m1-8h0m0-4h0m0 29h0m0-31h0m1 37h0m0-10h0m0-14h0m1 9h0m0-8h0m1 2h0m0-16h0m0 22h0m1-6h0m0-10h0m0 19h0m0 8h0m0 6h0m1-22h0m1-5h0m0 26h0m0-10h0m0-14h0m0 3h0m2 4h0m0 15h0m1-19h0m0 12h0m0-8h0m1 13h0m0-20h0m0-1h0m0-7h0m0 29h0m0-13h0m0 15h0m1-28h0m0 23h0m0 3h0m0-3h0m1-14h0m0-8h0m0 22h0m0-4h0m0 4h0m0-20h0m0-6h0m0 32h0m0-35h0m2 35h0m0-1h0m0-10h0m0-2h0m1-10h0m0 24h0m0-27h0m0 10h0m0 13h0m0-5h0m1-25h0m0-1h0m1 33h0m0-19h0m0 16h0m1-26h0m0 22h0m0-31h0m1 38h0m0-16h0m1 8h0m0-23h0m0 19h0m0-10h0m0 5h0m0 5h0m1-14h0m0-1h0m0 25h0m1-15h0m0 4h0m0-12h0m1-1h0m0-1h0m0 16h0m0-24h0m0 3h0m0 13h0m1 8h0m0 6h0m0-6h0m0 7h0m0 5h0m1-6h0m1 6h0m0-20h0m0-18h0m0 4h0m1 10h0m0-5h0m0 23h0m0 6h0m1-1h0m1-4h0m0-26h0m0 20h0m0-27h0m0 32h0m0-30h0m0 32h0m1-27h0m0 23h0m0-9h0m1 12h0m0-8h0m1 5h0m0-15h0m1 6h0m0 12h0m0-33h0m0 12h0m0 14h0m0 10h0m1-14h0m0 13h0m0-21h0m0-1h0m1 7h0m0 7h0m0-10h0m1-1h0m0-8h0m0 28h0m0-3h0m0 4h0m0-17h0m0 18h0m1-5h0m0 5h0m0-34h0m0 19h0m0-12h0m1 7h0m0 2h0m0 6h0m0 7h0m1-32h0m0 37h0m0-5h0m1-16h0m0-15h0m1-2h0m0 26h0m1-24h0m0 28h0m1-28h0m0 7h0m1 9h0m0 13h0m1-11h0m0 3h0m0 9h0m1-1h0m1-3h0m0-25h0m0 30h0m0-24h0m0 26h0m0-22h0m1 13h0m0 8h0m0-12h0m0-15h0m0 26h0m1-31h0m1 7h0m0 27h0m0-32h0m1 25h0m1-29h0m0 14h0m1 23h0m0-31h0m0 4h0m0 21h0m1-7h0m1-16h0m0 12h0m1-10h0m0 25h0m1-19h0m0 16h0m0-23h0m0-8h0m1 34h0m0-3h0m0-21h0m1 4h0m1 6h0m1 2h0m0 10h0m1 3h0m0-25h0m0-1h0m1 17h0m0-9h0m0-11h0m0 12h0m0-15h0m0 25h0m1-14h0m1-14h0m0 33h0m1-6h0m0-18h0m0 10h0m0 3h0m1 15h0m0-20h0m0 1h0m0-4h0m1 22h0m1-20h0m1 4h0m0-1h0m0 18h0m0-38h0m1 34h0m0-23h0m0 16h0m0 7h0m1 0h0m1-21h0m0-7h0m1 22h0m1-6h0m0 9h0m0-17h0m0 3h0m2 14h0m0-26h0m1 19h0m0 8h0m0 3h0m1-32h0m0 5h0m0 3h0m1-1h0m2 15h0m0-4h0m1-10h0m1 24h0m0-27h0m0 23h0m2-2h0m1-24h0m0 24h0m1 4h0m1-31h0m0 30h0m0-21h0m1 5h0m0 18h0m0-16h0m1 6h0m2 7h0m2-8h0m0-8h0m2-13h0m0 8h0m1 24h0m0-1h0m1 1h0m0-12h0m1-11h0m0 11h0m1-5h0m0 17h0m1-9h0m0-24h0m0 26h0m0 8h0m0-36h0m1 35h0m0-9h0m1-16h0m0 9h0m1 7h0m0 7h0m0-12h0m0 10h0m0-1h0m1-9h0m0 3h0m1-3h0m0 7h0m0-7h0m1 12h0m1-18h0m4 12h0m0-21h0m1 18h0m2 2h0m0-3h0m0 12h0m0-2h0m1-23h0m1 26h0m1-19h0m1 14h0m1-20h0m0 27h0m0-26h0m1 6h0m0 9h0m2-18h0m1 22h0m1 9h0m1-18h0m2 10h0m0-31h0m0 39h0m1-6h0m0-17h0m2-16h0m0 13h0m0 15h0m5 8h0m0-7h0m2 5h0m2-3h0m0-31h0m1 35h0m0 2h0m1-18h0m0-8h0m1 10h0m4-10h0m2 9h0m0-13h0m2 21h0m3-24h0m1 1h0m3 28h0m4 4h0m0-9h0m0-14h0m1 5h0m0-6h0m0-5h0m1 3h0m0-1h0m1 15h0m1 10h0m1-12h0m3-3h0m4-19h0m1 20h0m2 15h0m1-17h0m0-13h0m1 27h0m3-22h0m1-1h0m7-8h0m2 1h0m5-3h0m1 30h0m3-24h0m14 22h0m1-22h0m0 24h0m2-9h0m0-13h0m1 13h0m2-19h0m4 22h0m5-5h0m1 5h0m2-14h0m5-7h0m5 27h0m3-25h0m8 1h0m5-6h0m1 15h0m1 6h0m0-3h0m5-15h0m5-3h0m14 16h0m1-16h0m8 35h0m5-16h0m5 19h0m1-18h0m2-8h0m11 5h0m6-6h0m2-1h0m-628 66h0m16-9h0m8-11h0m1 20h0m6-6h0m1-17h0m4 12h0m3 5h0m2 7h0m2-2h0m3-30h0m1 31h0m3 2h0m3-11h0m2-11h0m0 13h0m0-27h0m0 18h0m2 12h0m1-10h0m1 15h0m0-20h0m2-8h0m1 15h0m1-21h0m1 7h0m2 28h0m1-22h0m1 15h0m0-3h0m2-24h0m0 6h0m0 21h0m0-16h0m2 2h0m0-12h0m0 11h0m0-16h0m0 3h0m0 28h0m0-13h0m1 4h0m1 5h0m0-12h0m1 19h0m1-7h0m0-13h0m0 14h0m1 7h0m1-26h0m1 13h0m1-16h0m0 12h0m0-15h0m0 29h0m0-23h0m1 10h0m0-9h0m1 28h0m0-19h0m0 16h0m0-17h0m1-11h0m0 25h0m1-24h0m1 16h0m1 14h0m0-19h0m0-7h0m1-1h0m0 9h0m0 11h0m0 8h0m1-10h0m1-21h0m0 27h0m0-25h0m1 9h0m0 10h0m1 6h0m0-32h0m0 25h0m1-26h0m0 35h0m0-23h0m0 25h0m0-19h0m1 18h0m0-24h0m1 12h0m0 8h0m0-13h0m1 2h0m0 3h0m0-7h0m0 17h0m1-18h0m0 8h0m0-23h0m0-3h0m0 17h0m0 18h0m0-22h0m0-10h0m0 15h0m1-15h0m0 12h0m0-10h0m1 16h0m0-18h0m0 15h0m0-10h0m0-2h0m1 31h0m0-29h0m0 12h0m0-15h0m0 8h0m0-7h0m0-1h0m1 11h0m1-7h0m0 26h0m0 1h0m0-14h0m1-9h0m0 19h0m0-18h0m0 6h0m0-9h0m1-5h0m0 28h0m1-3h0m0-22h0m0 28h0m0-14h0m0 8h0m1 2h0m0-26h0m0 16h0m0-19h0m1 31h0m0 1h0m0-19h0m0 10h0m0 8h0m0-8h0m0 6h0m0-18h0m0-12h0m0 13h0m0-10h0m0 13h0m1 3h0m0 9h0m0 6h0m0-13h0m0 2h0m0-19h0m1 9h0m0 7h0m1-19h0m0 26h0m0 9h0m0-36h0m0 14h0m0 15h0m0-28h0m0 28h0m0-23h0m1-9h0m0 12h0m0-8h0m0-2h0m0 29h0m0-6h0m1 11h0m0-32h0m0 28h0m0 2h0m0-13h0m0-17h0m0 17h0m0-8h0m0-5h0m1 27h0m0-13h0m0 8h0m0-5h0m0 13h0m0-17h0m0-2h0m0 17h0m0-18h0m1 14h0m0-8h0m0-4h0m0-6h0m0-10h0m0 22h0m0 2h0m0-22h0m0 6h0m1-5h0m0-3h0m0 34h0m0-13h0m0-14h0m0 18h0m0-8h0m0-17h0m0 15h0m0 17h0m0-1h0m0-29h0m1 25h0m0 3h0m0-14h0m0 5h0m0 7h0m0-6h0m0 5h0m0-8h0m0-8h0m0 17h0m0 1h0m0-15h0m0-2h0m1 22h0m0-27h0m0-4h0m0 29h0m0 2h0m0-23h0m1 21h0m0-10h0m0-16h0m0 17h0m0-13h0m0 20h0m0-8h0m0-16h0m0 13h0m0-17h0m0-4h0m1 32h0m0-10h0m0-24h0m0 16h0m0 10h0m0 7h0m0-5h0m0-8h0m0 2h0m1 14h0m0-24h0m0 10h0m0-5h0m0-11h0m0 23h0m0 10h0m0-22h0m1 22h0m0-20h0m0 16h0m0 3h0m0-12h0m0-27h0m0 11h0m0-9h0m1 17h0m0 11h0m0 9h0m0-25h0m0 16h0m0 4h0m0-3h0m0-27h0m0 13h0m0 22h0m1-6h0m0-7h0m0 10h0m0-17h0m0-3h0m0-11h0m0-2h0m0 26h0m0-17h0m1 0h0m0 19h0m0-11h0m0-12h0m0 5h0m0-8h0m0 6h0m0 2h0m1 0h0m0 24h0m0-8h0m0-19h0m0-8h0m0 29h0m0-2h0m0-13h0m1-7h0m0 29h0m0-19h0m0-8h0m0-9h0m0 2h0m0 5h0m0 9h0m0-12h0m0-3h0m0 16h0m0 15h0m0-9h0m0-6h0m0 15h0m1-6h0m0-13h0m0-11h0m0 8h0m0 3h0m0 14h0m1-20h0m0-3h0m0-1h0m0 31h0m0-34h0m0 23h0m0-8h0m0-16h0m0 1h0m0 2h0m0 16h0m1 11h0m0 7h0m0-13h0m0-9h0m0-4h0m0 7h0m0-8h0m0 6h0m0-4h0m0 11h0m1-18h0m0 24h0m0-12h0m0-14h0m0 14h0m0 12h0m0-5h0m0-4h0m0 10h0m0-27h0m0 2h0m1 4h0m0 17h0m0-5h0m0-14h0m0 22h0m0-3h0m0-14h0m0 11h0m0-7h0m0 11h0m1-21h0m0 15h0m0 14h0m0-22h0m0-13h0m0 38h0m0-4h0m0-2h0m0-29h0m0 36h0m0-3h0m0-11h0m0 6h0m0-15h0m0-8h0m0 13h0m0 10h0m0-25h0m1 25h0m0-20h0m0 27h0m0-16h0m0-11h0m0 1h0m0 7h0m0-6h0m0 14h0m0-9h0m0 15h0m0-30h0m0 18h0m0 10h0m0-29h0m0 4h0m0 17h0m0 1h0m1 10h0m0-31h0m0 9h0m0 22h0m0-21h0m0-3h0m0 9h0m0-1h0m0 20h0m0-26h0m0 27h0m0-9h0m0-18h0m1 10h0m0 9h0m0 4h0m0-7h0m0-8h0m0 11h0m0-10h0m0 16h0m0-11h0m1-2h0m0-17h0m0 23h0m0 4h0m0-7h0m0-11h0m0 18h0m0-13h0m0 11h0m0 3h0m0-8h0m0 7h0m1-28h0m0 17h0m0 7h0m0 9h0m0-7h0m0-27h0m0 22h0m0-26h0m0 28h0m0-2h0m0-26h0m0 13h0m0-5h0m0 7h0m0 11h0m1-17h0m0 12h0m0-6h0m0 14h0m0-5h0m0-23h0m0 30h0m0-5h0m0-3h0m1-5h0m0 3h0m0-17h0m0 9h0m0-2h0m0 8h0m0 11h0m0 2h0m0-33h0m0 15h0m0 14h0m0 3h0m0-12h0m0 7h0m1-5h0m0 5h0m0 3h0m0-12h0m0 12h0m0-10h0m0-10h0m1-6h0m0 28h0m0-20h0m0 16h0m0-8h0m0 13h0m0-3h0m0-3h0m0-21h0m0 24h0m0-10h0m0 11h0m0-7h0m0-9h0m1 22h0m0-31h0m0 8h0m0 10h0m0-3h0m0 1h0m0-7h0m0 6h0m0-1h0m0 7h0m0-11h0m0 18h0m0-30h0m0 11h0m0-1h0m1 1h0m0 17h0m0-13h0m0-2h0m0 3h0m0-17h0m1 25h0m0 6h0m0-13h0m0-6h0m0-13h0m0 35h0m0-30h0m0 29h0m0-15h0m0 8h0m0-12h0m0 18h0m0-9h0m0-5h0m0-22h0m1 32h0m0-31h0m0 11h0m0 12h0m0-2h0m0-1h0m0 7h0m0-25h0m0 27h0m0 2h0m0-29h0m1 17h0m0 8h0m0-4h0m0 5h0m0-8h0m0-16h0m0-4h0m0 37h0m0-25h0m0-5h0m0 12h0m0-3h0m0 19h0m0-16h0m1 3h0m0 10h0m0-6h0m0 2h0m0-28h0m0 34h0m0-9h0m0 10h0m0-6h0m0-26h0m0 34h0m0-9h0m1 6h0m0-9h0m0-11h0m0 10h0m0-12h0m0 4h0m0-13h0m0 11h0m0 4h0m0 7h0m0-10h0m0 3h0m0 19h0m0-11h0m0-23h0m0-2h0m0 35h0m0-10h0m0-22h0m1 5h0m0 4h0m0 2h0m0 2h0m0 9h0m0-25h0m0 21h0m0-9h0m0 2h0m0 11h0m0-7h0m0-17h0m1 37h0m0-30h0m0 6h0m0 22h0m0-31h0m0 22h0m0-10h0m0 10h0m0-17h0m0 20h0m0 2h0m1-7h0m0-9h0m0 12h0m0 1h0m0-18h0m0-1h0m0 3h0m0 4h0m0-15h0m0 21h0m0-9h0m0-13h0m0 5h0m0 21h0m1-4h0m0 4h0m0-18h0m0 6h0m0 2h0m0 12h0m0 3h0m0-11h0m0-17h0m0-3h0m0 22h0m0 8h0m1 5h0m0-15h0m0-9h0m0-10h0m0 15h0m0 3h0m0 8h0m1 9h0m0-8h0m0-2h0m0 4h0m0-29h0m0 24h0m0-18h0m0 26h0m0 1h0m0-32h0m0 31h0m0-1h0m0-24h0m0-7h0m1 7h0m0 6h0m0 10h0m0 2h0m0-20h0m0 17h0m0-17h0m0 30h0m0-2h0m0-17h0m0-11h0m0-3h0m0 22h0m1-2h0m0 12h0m0-32h0m0 13h0m0 1h0m0 4h0m0 8h0m0-5h0m0 1h0m0-23h0m0 18h0m0-2h0m1 11h0m0-8h0m0 8h0m0-23h0m0 17h0m0-1h0m0 6h0m0-24h0m0 9h0m0 12h0m0-16h0m0 19h0m1 5h0m0-2h0m0-28h0m0 26h0m0-17h0m0 16h0m0 7h0m0-36h0m0-1h0m0 25h0m0-10h0m0-4h0m0 22h0m0 3h0m0-16h0m0 10h0m1-1h0m0 1h0m0 1h0m0-6h0m0-6h0m0 10h0m0-19h0m0 7h0m0 22h0m0-12h0m1-1h0m0-2h0m0 8h0m0-4h0m0 8h0m0-21h0m0 21h0m0-37h0m0 36h0m1 2h0m0-13h0m0 4h0m0 8h0m0-34h0m0 16h0m0-9h0m0-1h0m0 9h0m0 2h0m0-10h0m0 7h0m0 2h0m0-8h0m1-8h0m0-1h0m0 31h0m0-10h0m0 4h0m0-23h0m0 3h0m0 18h0m0-9h0m0 16h0m0 6h0m0-7h0m1-23h0m0 24h0m0-18h0m0 9h0m0 1h0m0 6h0m0-25h0m0 26h0m0-9h0m0 8h0m1-8h0m0-10h0m0-4h0m0 22h0m0 7h0m0-7h0m0 7h0m0-11h0m0-2h0m0-8h0m0 2h0m1-8h0m0 28h0m0-18h0m0 1h0m0-10h0m0 8h0m0 8h0m1 6h0m0-3h0m0-9h0m0-15h0m0 16h0m0-18h0m0 2h0m0 12h0m0-15h0m1 36h0m0-24h0m0 21h0m0-21h0m0-9h0m0 33h0m0-18h0m0 4h0m0 12h0m0-37h0m0 13h0m0 4h0m0 9h0m1-9h0m0-2h0m0 13h0m0-12h0m0-2h0m0 21h0m0-10h0m0-12h0m0 18h0m0-14h0m1-2h0m0-14h0m0 10h0m0 20h0m0 6h0m0 3h0m0-26h0m0 15h0m0-8h0m0 9h0m0-24h0m0 12h0m0 3h0m0 9h0m0 5h0m1-18h0m0 1h0m0-15h0m0 36h0m0-28h0m0 20h0m0-30h0m0 33h0m0-16h0m1 3h0m0 13h0m0-13h0m0-9h0m0 14h0m0 9h0m0-10h0m0 11h0m0-8h0m0-26h0m0 22h0m0-10h0m0-10h0m1 30h0m0-18h0m0 17h0m0-12h0m0-6h0m0-12h0m0 7h0m0 7h0m0-13h0m0 33h0m0-30h0m0 28h0m0-4h0m0-11h0m0-17h0m0 9h0m0-1h0m1 3h0m0 23h0m0-7h0m0 1h0m0-23h0m0 28h0m0-12h0m0 2h0m0 6h0m0-12h0m0-18h0m0 14h0m1 10h0m0-9h0m0 20h0m0-4h0m0 1h0m0-18h0m0 12h0m0-12h0m0 11h0m0-4h0m0 1h0m0 9h0m0-14h0m0-19h0m1 11h0m0 25h0m0-5h0m0-20h0m0-11h0m0 11h0m0 27h0m0-27h0m1 15h0m0-8h0m0 15h0m0-25h0m0 2h0m0 12h0m0-3h0m0-1h0m0 17h0m1-26h0m0 19h0m0-2h0m0-18h0m0 15h0m0-19h0m0 22h0m0 14h0m0-5h0m1-9h0m0-10h0m0 11h0m0-8h0m0 15h0m0 4h0m0-7h0m0 7h0m0-8h0m0-17h0m0 12h0m0 1h0m0-6h0m1-15h0m0 16h0m0 7h0m0-15h0m0 11h0m0 13h0m0-6h0m0-1h0m0 5h0m0-5h0m0 3h0m0 6h0m0-27h0m0 8h0m1-6h0m0 21h0m0-19h0m0 2h0m0 12h0m0 4h0m0 4h0m0-37h0m0 21h0m0 4h0m0-23h0m0 10h0m0 9h0m1 5h0m0 11h0m0-12h0m0-18h0m0 29h0m0 1h0m0-23h0m0-5h0m0-1h0m0 21h0m0-5h0m0-5h0m0 16h0m0-14h0m0-13h0m0-5h0m1 21h0m0-6h0m0 17h0m0-17h0m0-10h0m0 2h0m0 26h0m0-9h0m0-19h0m0 6h0m0 23h0m0-1h0m1-28h0m0 11h0m0 11h0m0-6h0m0 15h0m0-19h0m0 11h0m0-1h0m0-15h0m0-5h0m0 16h0m0-21h0m0 13h0m1-6h0m0-7h0m0 14h0m0-2h0m0-10h0m0 20h0m0-16h0m0 26h0m0-18h0m0 12h0m1-28h0m0 20h0m0 3h0m0-14h0m0 5h0m0-12h0m0 21h0m0-10h0m0 11h0m0-18h0m0 21h0m0 4h0m0-31h0m0 19h0m0 17h0m0-30h0m0 28h0m1-24h0m0-4h0m0 17h0m0-17h0m0 13h0m0 9h0m0-22h0m0-3h0m0-3h0m0 3h0m0 26h0m0-10h0m0 7h0m0-26h0m0 31h0m0-14h0m1 1h0m0-13h0m0 25h0m0-9h0m0-25h0m0 10h0m0 8h0m0 2h0m0 3h0m0 9h0m1-26h0m0 17h0m0-7h0m0-11h0m0 27h0m0-24h0m0 5h0m0 23h0m0-9h0m0-12h0m0-11h0m0 20h0m0-4h0m1 9h0m0 10h0m0-30h0m0 25h0m0-15h0m0-16h0m0 7h0m0 25h0m0-29h0m0 34h0m0-37h0m1 16h0m0-6h0m0-1h0m0-7h0m0 24h0m0-29h0m0 36h0m0-20h0m0-9h0m1 10h0m0 15h0m0-10h0m0-11h0m0-5h0m0 14h0m0-19h0m0 28h0m1-14h0m0-3h0m0-9h0m0 2h0m0 4h0m0 28h0m0 2h0m0-36h0m0 15h0m0 7h0m0-19h0m0 2h0m0-4h0m0 26h0m1-4h0m0 6h0m0-27h0m0 34h0m0-16h0m0-21h0m0 33h0m0-7h0m0 2h0m0 8h0m0-10h0m1-8h0m0 18h0m0-23h0m0 8h0m0-6h0m0-15h0m0 8h0m0-7h0m0 16h0m0 4h0m0 2h0m1-16h0m0 11h0m0-2h0m0 20h0m0-21h0m0 16h0m0-6h0m0-15h0m0-10h0m0 22h0m0 3h0m0-22h0m0 27h0m0 5h0m0-26h0m0 20h0m1-31h0m0 1h0m0 12h0m0 18h0m0-16h0m0 5h0m0-12h0m0 17h0m0-21h0m1 27h0m0-4h0m0-26h0m0 4h0m0 3h0m0 28h0m0-36h0m0 37h0m0-3h0m0-15h0m1 2h0m0-7h0m0-5h0m0 13h0m0-7h0m0-12h0m0 17h0m0-9h0m0 19h0m0-17h0m0-12h0m0 17h0m0-8h0m0-3h0m0 16h0m0 1h0m0-7h0m1-15h0m0 17h0m0-15h0m0 30h0m0 3h0m0-17h0m0 17h0m0-26h0m0-4h0m1 32h0m0-25h0m0 8h0m0-18h0m0 5h0m0 18h0m0-27h0m0 18h0m0-9h0m0 11h0m0-9h0m0 2h0m0 24h0m0-17h0m0-1h0m0-8h0m1 17h0m0-22h0m0 30h0m0-6h0m0-9h0m0 18h0m0-22h0m0-11h0m0-2h0m0 9h0m0 4h0m0 16h0m0-5h0m0-1h0m0-26h0m0 23h0m1-4h0m0 9h0m0-28h0m0 15h0m0 23h0m0-6h0m0-28h0m0 17h0m0 16h0m0-7h0m0 1h0m0-11h0m0-10h0m0-2h0m0 29h0m0-19h0m1 17h0m0-9h0m0-24h0m0 30h0m0-27h0m0 5h0m0 18h0m0-20h0m0 14h0m1 12h0m0-4h0m0-4h0m0-27h0m0 16h0m0-15h0m0 16h0m0 15h0m0-30h0m0 35h0m1-8h0m0-8h0m0-10h0m0-5h0m0 33h0m0-20h0m0 6h0m0-24h0m0 4h0m0 20h0m0 10h0m0-27h0m0 3h0m0 7h0m1-13h0m0 23h0m0-21h0m0-5h0m0 4h0m0 14h0m0 8h0m0-9h0m0 12h0m0 9h0m0-37h0m0 35h0m0-15h0m0 14h0m1-12h0m0-4h0m0-4h0m0 12h0m0-9h0m0-3h0m0 4h0m0 15h0m0-25h0m0 2h0m0 23h0m1-9h0m0-3h0m0 13h0m0-4h0m0-25h0m0 15h0m0 13h0m0-18h0m0-5h0m0 17h0m0 10h0m1-14h0m0-13h0m0-11h0m0 28h0m0-2h0m0 3h0m0-18h0m0 26h0m0-15h0m0-4h0m0 3h0m0-16h0m0 21h0m1 3h0m0-19h0m0 3h0m0 10h0m0 4h0m0-17h0m0-10h0m0 38h0m0-26h0m0-8h0m1 2h0m0 29h0m0-30h0m0 29h0m0-32h0m0 20h0m0-20h0m0 10h0m0 5h0m0-11h0m0 19h0m0-6h0m0 3h0m1 8h0m0-28h0m0 13h0m0 15h0m0-23h0m0 23h0m0 7h0m0-17h0m0-10h0m0 17h0m1-18h0m0 1h0m0 10h0m0 14h0m0-29h0m0 12h0m0-3h0m0 3h0m0 7h0m0 7h0m1-13h0m0 4h0m0-2h0m0 16h0m0-30h0m0 9h0m0 20h0m0-9h0m0-1h0m0-2h0m0-18h0m1 16h0m0 4h0m0-26h0m0 36h0m0-32h0m0 13h0m0 20h0m0-2h0m0-2h0m0-30h0m0 17h0m0 8h0m0 3h0m0-12h0m0 20h0m0-23h0m1-12h0m0 34h0m0-19h0m0 7h0m0-2h0m0 5h0m0-28h0m0 5h0m0 28h0m1-20h0m0 15h0m0-4h0m0 8h0m0-20h0m0 10h0m0 7h0m0-6h0m0-2h0m0-11h0m1 9h0m0 2h0m0 2h0m0 2h0m0-13h0m0 21h0m0-2h0m0-11h0m0 13h0m1-4h0m0-10h0m0-18h0m0 10h0m0 8h0m0-17h0m0 33h0m0-6h0m0 8h0m1-28h0m0 15h0m0 8h0m0-9h0m0-18h0m0 20h0m0-8h0m0 15h0m0-21h0m0 25h0m0-6h0m0-18h0m0-6h0m0 1h0m0 29h0m0-10h0m0-11h0m0 20h0m0 1h0m0-23h0m0-2h0m0-9h0m1 3h0m0 17h0m0-4h0m0-12h0m0 22h0m0 9h0m0-28h0m0-7h0m0 33h0m0-12h0m0-5h0m0-19h0m0 36h0m0-35h0m0 37h0m0-5h0m0-32h0m0 12h0m0-5h0m1 25h0m0-2h0m0-18h0m0-10h0m0 16h0m1 3h0m0 4h0m0-19h0m0 13h0m0-3h0m0 14h0m0-20h0m0 16h0m0-4h0m0-3h0m0-10h0m0 26h0m1-18h0m0 3h0m0-2h0m0-18h0m0 24h0m0 13h0m1-38h0m0 23h0m0 10h0m0-1h0m0-29h0m0 11h0m0-9h0m1 13h0m0-16h0m0 3h0m0 7h0m0 20h0m0-4h0m0-10h0m0 14h0m1 2h0m0-25h0m0 22h0m0 5h0m0-29h0m0 27h0m0-21h0m0-9h0m0 21h0m0-1h0m0 9h0m0-11h0m0-15h0m0-5h0m0 18h0m1-15h0m0 31h0m0-13h0m0-10h0m0 17h0m0-8h0m0 10h0m1-12h0m0-3h0m0-10h0m0 20h0m0-25h0m0 10h0m0 1h0m0-12h0m0 29h0m0-11h0m1 1h0m0-16h0m0 8h0m0 12h0m0-9h0m0 12h0m0 9h0m0 3h0m0-36h0m0 14h0m0-17h0m0 29h0m0 7h0m0 1h0m1-10h0m0-8h0m0-5h0m0 3h0m0 2h0m0-6h0m0 11h0m0 13h0m0-7h0m0-16h0m0-3h0m0 12h0m0 6h0m1-24h0m0 7h0m0-2h0m0 4h0m0 4h0m0-1h0m0 14h0m0-18h0m0 4h0m1-9h0m0 2h0m0 10h0m0-3h0m0 1h0m0 19h0m0-21h0m0 6h0m1-6h0m0 14h0m0 5h0m0-5h0m0-23h0m0 25h0m0-29h0m0 30h0m1-21h0m0 26h0m0-22h0m0-12h0m0 34h0m0-28h0m0-9h0m1 4h0m0 21h0m0-9h0m0 14h0m0 8h0m0-28h0m0-5h0m0 1h0m1 30h0m0-37h0m0 1h0m0 3h0m0 11h0m0 14h0m0 4h0m0-21h0m0-6h0m0 11h0m0 1h0m0 5h0m0-18h0m1 34h0m0-25h0m0 25h0m0-25h0m0 4h0m0-9h0m0 17h0m1-15h0m0 8h0m0-5h0m0 21h0m0-20h0m0 19h0m0-2h0m0 1h0m1-32h0m0 22h0m0-17h0m0 3h0m0 3h0m0 6h0m0-8h0m0 18h0m0 7h0m0-19h0m0-16h0m0 18h0m0 5h0m1-2h0m0-7h0m0-14h0m0 14h0m0 3h0m0 17h0m0-18h0m0 22h0m0-22h0m0-9h0m0 4h0m0 9h0m1-18h0m0 13h0m0 22h0m0-7h0m0-12h0m0-14h0m0 1h0m0 29h0m0-32h0m0 17h0m1-1h0m0 1h0m0-16h0m0 18h0m0-11h0m0 18h0m0-10h0m0 9h0m0 1h0m1-3h0m0-16h0m0 14h0m0 2h0m0 10h0m0-9h0m0 4h0m0-26h0m0 4h0m1 6h0m0 24h0m0-23h0m0 2h0m0 15h0m0-14h0m0-15h0m0 6h0m1 10h0m0-12h0m0 14h0m0-16h0m0 16h0m0 16h0m0-19h0m1 4h0m0-19h0m0 7h0m0 4h0m0 6h0m0-1h0m0-5h0m0 8h0m0-19h0m0 24h0m0 7h0m0-30h0m0 2h0m0 5h0m0 16h0m0-26h0m1 29h0m0 1h0m0-12h0m0-11h0m0 15h0m0-5h0m0 4h0m1 7h0m0 3h0m0 5h0m0-9h0m0-14h0m0 21h0m0-35h0m0 18h0m1 5h0m0-13h0m0-2h0m0 21h0m0-10h0m0-15h0m0 15h0m0-8h0m0 21h0m0-31h0m0 12h0m0 2h0m0-3h0m1 25h0m0-32h0m0 9h0m0 17h0m0-24h0m0 3h0m0 17h0m0-9h0m0 3h0m0-1h0m1 5h0m0-25h0m0 24h0m0 6h0m0-3h0m0-25h0m0 11h0m0 17h0m1 3h0m0-6h0m0 8h0m0-24h0m0 23h0m0-28h0m0 2h0m1 14h0m0 11h0m0 2h0m0-21h0m0 5h0m0 20h0m0-28h0m0 28h0m1-15h0m0-3h0m0 14h0m0-4h0m0-4h0m0-4h0m0-21h0m0 6h0m0-5h0m0 17h0m1-15h0m0 2h0m0 19h0m0 6h0m0-25h0m0-7h0m0 25h0m0 7h0m1-3h0m0-3h0m0 5h0m0 3h0m0-5h0m0 4h0m0-25h0m0 21h0m0-29h0m0 24h0m1-9h0m0-9h0m0 31h0m0-21h0m0-16h0m0 19h0m0-5h0m0 6h0m0 4h0m0-16h0m1 17h0m0 3h0m0-13h0m0-15h0m0 1h0m0 15h0m0 6h0m0-14h0m0 28h0m0-24h0m1-2h0m0 5h0m1 11h0m0-25h0m0 19h0m0 4h0m0 11h0m0-22h0m0-10h0m0 14h0m0 20h0m0-10h0m0-24h0m0 19h0m0 4h0m1-16h0m0 25h0m0-14h0m0 12h0m0-33h0m0 32h0m0-29h0m1 25h0m0-29h0m0 37h0m0-31h0m0 24h0m0-15h0m0 19h0m0 6h0m0-16h0m1 10h0m0 3h0m0-29h0m0 13h0m0-8h0m0 22h0m0-29h0m0 4h0m0 1h0m1 15h0m0 10h0m0-30h0m0 6h0m0 19h0m0-10h0m0 5h0m1-3h0m0 3h0m0 12h0m0-1h0m0-15h0m0-1h0m0-7h0m1 22h0m0-9h0m0-16h0m0 23h0m0-30h0m0 2h0m0 34h0m0-33h0m0 21h0m0-11h0m0 21h0m0-1h0m0-35h0m0 4h0m0 2h0m0 9h0m0-16h0m0 23h0m0-15h0m0 25h0m1-32h0m0 20h0m0 7h0m0-6h0m0-21h0m0 12h0m0 5h0m0 1h0m0-5h0m0-2h0m0 19h0m0-18h0m0-11h0m1 19h0m0-5h0m0 16h0m0-19h0m1-4h0m0 18h0m0-24h0m0 26h0m0-7h0m0-19h0m0 19h0m0-9h0m0 6h0m1 8h0m0 2h0m0-26h0m0 1h0m0 34h0m0-5h0m0-19h0m0-10h0m0 17h0m0 5h0m0-7h0m0 14h0m1-32h0m0 4h0m0 23h0m0-18h0m0-9h0m1 7h0m0-1h0m0 7h0m0 14h0m1-8h0m0-1h0m0 8h0m0-9h0m0 19h0m0-22h0m0-14h0m0 3h0m0 12h0m1 11h0m0-22h0m0-1h0m0-2h0m1 6h0m0 11h0m1-1h0m0 1h0m0 8h0m0 7h0m1-34h0m0 9h0m0 28h0m0-37h0m0 16h0m0 16h0m1-25h0m0 16h0m0-1h0m0 10h0m0-31h0m0 10h0m1-11h0m0 24h0m0-25h0m0 15h0m0 23h0m0-18h0m0-9h0m0 9h0m1-8h0m0 6h0m0-12h0m0 20h0m0-26h0m0 24h0m0-3h0m0 2h0m0-6h0m0-15h0m0 16h0m0-12h0m1 2h0m0 9h0m0-4h0m0-2h0m1 23h0m0-18h0m0 4h0m0-12h0m0 22h0m0-9h0m0-1h0m1-14h0m0 33h0m0-21h0m0-6h0m0 14h0m0-11h0m0-6h0m1 26h0m0-1h0m0-6h0m0-21h0m1 10h0m0-16h0m0 19h0m0-19h0m0 10h0m0 2h0m0-11h0m0-2h0m0 27h0m0-19h0m1 27h0m0-32h0m0 37h0m0-18h0m1-22h0m0 21h0m0-12h0m0 3h0m0 18h0m0-14h0m1 13h0m0-29h0m0 30h0m0-26h0m0 1h0m1 14h0m0 4h0m0 14h0m0-33h0m0 17h0m1-17h0m0 14h0m0-8h0m0 1h0m0 16h0m0 10h0m0-24h0m0 4h0m0-3h0m1 24h0m0-17h0m0 5h0m0 3h0m0-21h0m0 4h0m0-3h0m0-1h0m0 6h0m0-9h0m1 26h0m0-29h0m0 20h0m0 9h0m0-30h0m0 18h0m0-13h0m1 5h0m0 5h0m0 15h0m0-26h0m0 29h0m0-21h0m1-12h0m0 12h0m0 18h0m0-11h0m0 4h0m0-21h0m0 11h0m0-10h0m0 23h0m0-9h0m0-10h0m1-6h0m0 35h0m0-16h0m0-18h0m0 36h0m0-2h0m1-31h0m0-3h0m0 8h0m0 7h0m0-1h0m0-3h0m0-6h0m1 17h0m0-13h0m1 12h0m0-14h0m0 2h0m1-9h0m0 33h0m0-12h0m0-20h0m0 2h0m0 15h0m1-16h0m0 20h0m0-5h0m0 18h0m0-28h0m1 20h0m0-15h0m0 12h0m0-11h0m0 2h0m0 19h0m0-1h0m0-4h0m0 5h0m1-14h0m0 11h0m0-32h0m0 16h0m0 20h0m0-32h0m0 25h0m1-11h0m0 9h0m0-23h0m1 16h0m0 1h0m1-15h0m0-5h0m0 19h0m0-9h0m0-9h0m0-3h0m0 39h0m1-28h0m0 21h0m1-25h0m0 13h0m0-15h0m0 12h0m0 3h0m0-15h0m0-6h0m0 23h0m0 13h0m0-15h0m1 13h0m0-9h0m0-8h0m1 19h0m0-20h0m0 12h0m0-10h0m0 20h0m0-32h0m1 8h0m0 18h0m0-2h0m0-4h0m0-1h0m0-20h0m0 8h0m0 21h0m0-28h0m1 15h0m0 4h0m0-6h0m1-11h0m0 30h0m0-38h0m0 26h0m1 9h0m0-29h0m0 25h0m0-25h0m0 29h0m1-18h0m0-1h0m0-13h0m1 3h0m0 15h0m0-21h0m0 22h0m0-4h0m0-7h0m1 18h0m0-21h0m0 13h0m0-3h0m0 5h0m1-2h0m0-7h0m0 7h0m0-4h0m1-4h0m0 27h0m0-10h0m0-6h0m0-19h0m1 8h0m1 24h0m1 2h0m0-12h0m0 4h0m0-27h0m0 12h0m1 17h0m0-4h0m1 9h0m0-20h0m0 16h0m1-7h0m0-15h0m0-5h0m0 25h0m1-21h0m0 2h0m0 12h0m0-12h0m1-8h0m1 29h0m0-31h0m0 5h0m0 13h0m0-5h0m1 13h0m0 4h0m0-21h0m1 9h0m0-13h0m0 4h0m0 6h0m0 3h0m1 7h0m0-10h0m0-1h0m0-16h0m0 20h0m1-2h0m0 6h0m0 8h0m1-23h0m0 27h0m0-2h0m1-13h0m0-14h0m0 2h0m0-8h0m0 33h0m0-3h0m1-24h0m0 21h0m0-26h0m0 4h0m1 14h0m1 10h0m0-29h0m0 20h0m0 1h0m1-11h0m0-9h0m0 14h0m0 16h0m0-19h0m0 4h0m0 4h0m1-18h0m0-3h0m1 18h0m0-12h0m0 2h0m0 15h0m0 3h0m1-7h0m0-14h0m0-3h0m0 16h0m1 16h0m0 1h0m0-33h0m1 13h0m0 8h0m0 14h0m0-23h0m0-3h0m0 16h0m1 5h0m0 1h0m0-20h0m0 13h0m1-23h0m1 23h0m0 10h0m0-11h0m0-9h0m0-3h0m2 0h0m0-1h0m0-11h0m0 30h0m0-2h0m0-29h0m2 12h0m0 16h0m0-11h0m1 0h0m0-10h0m1 0h0m0 5h0m0 9h0m0-22h0m0 10h0m1 11h0m0 16h0m0-11h0m0 13h0m1-22h0m1 6h0m0-1h0m1-6h0m0 20h0m0-26h0m0-8h0m0 21h0m1-5h0m1 1h0m0-7h0m0 24h0m0-20h0m1 17h0m0-5h0m2 9h0m0-13h0m1 5h0m0 9h0m0-20h0m1 8h0m0-9h0m1 11h0m0-7h0m0 11h0m1-2h0m0 1h0m1-8h0m1 14h0m0-9h0m0 7h0m1-31h0m1 8h0m0-8h0m0 8h0m0 7h0m1 3h0m1-15h0m0 19h0m0 3h0m0-20h0m1 21h0m0-26h0m1 31h0m0-33h0m0 20h0m1-21h0m0 17h0m0 11h0m1-23h0m0 7h0m1 0h0m0 8h0m1-11h0m1 9h0m2 15h0m0-21h0m1 18h0m0-27h0m1 18h0m0-8h0m0-2h0m0 25h0m0-35h0m1 17h0m0-5h0m0 21h0m1-11h0m1 13h0m1-23h0m0 7h0m1 3h0m0-24h0m2 11h0m2 0h0m0-9h0m0-1h0m1 1h0m0-1h0m0 29h0m0-17h0m1 2h0m0 16h0m2-20h0m1 2h0m1 2h0m1-12h0m1 4h0m2-1h0m0-2h0m2 23h0m0-10h0m0 1h0m1-14h0m0 30h0m0-23h0m1 20h0m0-15h0m0 22h0m1-8h0m0-17h0m2-1h0m0 11h0m0-6h0m2 10h0m0-18h0m1 10h0m0-5h0m0-2h0m0 8h0m2 7h0m1-4h0m0-23h0m1 22h0m0-20h0m1-1h0m1 13h0m0 5h0m1-14h0m1 5h0m1 14h0m1 4h0m3-17h0m4 18h0m0 7h0m1-15h0m1-20h0m2 29h0m2-16h0m0 14h0m1-21h0m0 2h0m1 6h0m1 18h0m0-26h0m0-2h0m0 6h0m2-5h0m1-4h0m0-2h0m3 9h0m3 26h0m5 3h0m2-36h0m4 9h0m1 2h0m0-6h0m0 31h0m1-25h0m3 15h0m0 5h0m4-17h0m4-7h0m7-6h0m2 2h0m2 6h0m2 10h0m3-13h0m2 27h0m8 0h0m3-7h0m9 4h0m1-17h0m3-8h0m0-1h0m1 3h0m0-3h0m8 26h0m1-17h0m7 21h0m0-12h0m10-2h0m11 15h0m8-15h0m16 18h0m4-20h0m9-19h0m36 3h0m4 1h0m15 4h0m7 10h0m-648 27h0m11 28h0m7-28h0m7 5h0m1-6h0m3 28h0m2-23h0m3 26h0m1-8h0m0-16h0m1 11h0m3-7h0m0 17h0m1-25h0m2-6h0m2 4h0m1 3h0m5 4h0m1-7h0m0 30h0m2-31h0m1 8h0m1-10h0m2 13h0m1-11h0m3 16h0m2-4h0m1-15h0m1 9h0m2 29h0m0-25h0m0-6h0m0-3h0m2 5h0m0-9h0m1 3h0m0-4h0m1 12h0m2-4h0m0-5h0m1-3h0m0 6h0m1 20h0m1-23h0m1 0h0m0 35h0m3-28h0m0-5h0m1 5h0m0-3h0m0-4h0m1 5h0m0 4h0m1-1h0m0-1h0m0-7h0m2 15h0m0 1h0m0 1h0m0-6h0m1-8h0m2 5h0m0-9h0m3 10h0m0 2h0m0-1h0m2-13h0m0 37h0m0-33h0m0-1h0m1-3h0m1 11h0m1-12h0m1 7h0m1-1h0m0 27h0m0-8h0m1-16h0m0 8h0m2-5h0m1-4h0m0 8h0m0 5h0m0-19h0m0 25h0m1-4h0m0-11h0m0 21h0m0-32h0m1 9h0m0 1h0m0 4h0m0 16h0m0-15h0m0-2h0m0-3h0m1 4h0m0-3h0m0-6h0m1 13h0m0 10h0m0-25h0m0 6h0m0 7h0m0-10h0m1 4h0m0 17h0m0-26h0m0 4h0m0 10h0m1-7h0m0 18h0m0-4h0m0-14h0m0 8h0m0-9h0m0-1h0m0 12h0m1-13h0m0 25h0m0-17h0m0-3h0m0 15h0m0-25h0m1 19h0m0-11h0m0 3h0m0 4h0m1-7h0m0-6h0m1 17h0m0 14h0m0-14h0m0-15h0m0 3h0m1 27h0m0-28h0m1-6h0m0 10h0m0-7h0m0 11h0m0-8h0m1-5h0m0 21h0m1 6h0m0-10h0m1 1h0m0-5h0m0-11h0m0 12h0m0 2h0m1-5h0m1-11h0m0 13h0m0-10h0m0 20h0m1 5h0m0-22h0m0-8h0m0 25h0m0-15h0m1 5h0m0 15h0m0-27h0m0 5h0m1 0h0m0 13h0m0 1h0m0-14h0m0 5h0m0-3h0m1-8h0m0 5h0m0-6h0m0 27h0m0-23h0m1 2h0m0 16h0m0 3h0m0-21h0m0 1h0m1-4h0m0 24h0m0-9h0m0-7h0m1 6h0m0-7h0m0-1h0m0 2h0m1-5h0m0 10h0m0-4h0m0 16h0m0 9h0m1-32h0m0 7h0m0 18h0m0-26h0m0 1h0m0 13h0m0-11h0m0 1h0m1 13h0m0-2h0m0-11h0m0-3h0m1 0h0m0 3h0m0 11h0m0-7h0m0 16h0m0-22h0m1 0h0m0 21h0m0-22h0m0 29h0m0-26h0m0 16h0m0-17h0m0 1h0m0-6h0m0 3h0m1 12h0m0 22h0m0-27h0m0 1h0m0 10h0m0-15h0m0 11h0m0-9h0m1-7h0m0 2h0m0 11h0m1 2h0m0 7h0m0-21h0m0 1h0m0 33h0m0-28h0m0-8h0m0 23h0m1-17h0m0-1h0m0 2h0m0-1h0m0-6h0m1-1h0m0 3h0m1 10h0m0-7h0m0-4h0m0 18h0m0-12h0m1-5h0m0-2h0m0 29h0m0-23h0m0 6h0m0-8h0m1 27h0m0-29h0m0 30h0m0-26h0m0-6h0m0 10h0m1 12h0m0-5h0m0-14h0m1 0h0m0 5h0m0-7h0m0 17h0m1-8h0m0 9h0m0 11h0m0-29h0m0 34h0m0-29h0m0-1h0m0-3h0m0 18h0m1-1h0m0-14h0m0 12h0m0-6h0m0-7h0m0 6h0m0 6h0m0-16h0m0 17h0m1-5h0m0 5h0m0 17h0m1-25h0m0-3h0m0 28h0m0-22h0m0 6h0m1-6h0m0-8h0m1 28h0m0-30h0m0 18h0m0-18h0m0 10h0m0-6h0m0 1h0m0 15h0m1 1h0m0-19h0m0 9h0m0-3h0m0 7h0m0-17h0m0 12h0m1 3h0m0-9h0m0 6h0m0-12h0m0 5h0m0 9h0m0 2h0m0-9h0m1 13h0m0-18h0m0-2h0m0 19h0m0 13h0m0-20h0m0-12h0m0 4h0m0 2h0m1 0h0m0 16h0m0-22h0m0 17h0m0-10h0m1 1h0m0-1h0m0-3h0m0 4h0m0 10h0m0-3h0m0-13h0m0 4h0m0-1h0m0 11h0m0 10h0m0-1h0m0-20h0m1 15h0m0 2h0m0-7h0m0-13h0m0 8h0m0 12h0m0-13h0m0 2h0m1-5h0m0-6h0m0 8h0m0 8h0m0 5h0m1-17h0m0 14h0m0-9h0m0 4h0m1-6h0m0 5h0m0-2h0m0-2h0m0 19h0m0-24h0m0-3h0m0 4h0m0-2h0m1 9h0m0-10h0m0 26h0m0-14h0m0-9h0m0 12h0m1-1h0m0-2h0m0-8h0m1 22h0m0-21h0m0-2h0m0 1h0m0-1h0m1 10h0m0 2h0m0 18h0m0-5h0m0-27h0m1 18h0m0-7h0m0-2h0m0-9h0m1 8h0m0-4h0m0-1h0m0-1h0m0 34h0m0-11h0m0-21h0m0 22h0m0-14h0m0 22h0m1-35h0m0 6h0m0 14h0m1 5h0m0-21h0m0-2h0m0 2h0m0 8h0m0 4h0m0-3h0m1-1h0m0 24h0m0-12h0m0-12h0m0 4h0m0 2h0m1-20h0m0 11h0m0 17h0m0-15h0m0 6h0m0-16h0m0 19h0m1-19h0m0 3h0m0 2h0m0 22h0m0-11h0m1 1h0m0-19h0m0 19h0m0 15h0m0-14h0m0-1h0m0-20h0m1 5h0m0 10h0m0-7h0m0-5h0m0 21h0m0-19h0m0 8h0m0 10h0m1-12h0m0 23h0m1-24h0m0 6h0m0-9h0m0 2h0m0-4h0m0 12h0m1-6h0m0-9h0m0 1h0m1 0h0m0 8h0m0 3h0m0-3h0m0 3h0m1-9h0m0 11h0m0-2h0m0-8h0m1 18h0m0-2h0m0 9h0m0-31h0m0 26h0m1-19h0m0 30h0m1-26h0m0 2h0m0-9h0m1 3h0m0 13h0m0 13h0m0-28h0m0 16h0m0 2h0m1-6h0m0 5h0m0-9h0m0-2h0m0-7h0m1 16h0m0 14h0m0-30h0m0 1h0m0 10h0m0-9h0m0 18h0m1-23h0m0 4h0m0 7h0m0-9h0m0-1h0m0 22h0m0-13h0m0-9h0m1 4h0m0 24h0m0-22h0m0 28h0m1-22h0m0-13h0m0 8h0m0 11h0m0-19h0m0 15h0m0-2h0m0 23h0m0-29h0m1 5h0m0-10h0m0 6h0m0-5h0m0 3h0m1 10h0m0-2h0m0 1h0m0-11h0m1-2h0m0 1h0m0 7h0m0-8h0m0-2h0m0 7h0m0 16h0m0-8h0m0 3h0m0-11h0m0 4h0m1-8h0m0 26h0m0-24h0m1 3h0m0-3h0m0 3h0m0 13h0m0-20h0m0 6h0m1-7h0m0 3h0m1 12h0m0-10h0m0 8h0m0-4h0m0-6h0m0-1h0m0 7h0m1 16h0m0 1h0m0-2h0m0-19h0m0 20h0m0-24h0m0 3h0m1-4h0m0 13h0m0-9h0m0 26h0m0-30h0m0 10h0m1-9h0m0 29h0m0-24h0m0 7h0m0 8h0m0-18h0m1 0h0m0 2h0m1-2h0m0 9h0m1-3h0m0-9h0m0 7h0m0-2h0m0 2h0m0-3h0m1-1h0m0 5h0m0 3h0m0 15h0m1-22h0m0 2h0m0 19h0m0-23h0m1 17h0m0-18h0m0 17h0m1-17h0m0 25h0m0-16h0m0 5h0m0 1h0m0-7h0m0 14h0m1-13h0m0 15h0m0-22h0m0 15h0m0-10h0m0 25h0m0-21h0m0 4h0m0-11h0m0 8h0m0-12h0m0 12h0m1-5h0m0-4h0m0 15h0m1 5h0m0-1h0m0-6h0m0-14h0m0 9h0m0-3h0m1 0h0m0-3h0m0 6h0m0 2h0m0-14h0m1 2h0m0-2h0m0 5h0m0 4h0m1-2h0m1 1h0m0 1h0m0-1h0m1-4h0m0 8h0m0-2h0m1-8h0m0 2h0m0 22h0m0-17h0m0-10h0m1 5h0m0 5h0m0-5h0m1 17h0m0-8h0m1-4h0m0-5h0m0 15h0m1-9h0m1-6h0m0 26h0m0-29h0m1 16h0m0-15h0m1 7h0m0-4h0m0 11h0m0-6h0m0 10h0m1-17h0m0 5h0m0 4h0m1-8h0m0-3h0m0 5h0m0 2h0m1 0h0m0 2h0m0 5h0m0-10h0m0 6h0m0 6h0m0-7h0m0-10h0m1 15h0m0 18h0m1-29h0m0 12h0m0 5h0m0-2h0m1-14h0m0 6h0m0-4h0m0-7h0m1 0h0m0 3h0m0 4h0m1-8h0m0 5h0m0-3h0m1 11h0m0 17h0m1-11h0m1-17h0m0 25h0m0-24h0m1 18h0m0-16h0m0-5h0m0 9h0m1-7h0m0 35h0m0-29h0m0 2h0m0-5h0m0 6h0m0-2h0m1 14h0m1-12h0m0-8h0m0 7h0m0 14h0m1-7h0m0-12h0m0 6h0m0 26h0m1-37h0m0 7h0m1 10h0m0-8h0m0 3h0m0-8h0m0 19h0m1 10h0m0-21h0m0-6h0m1-1h0m1-4h0m0 15h0m0-6h0m0-7h0m1 19h0m0-4h0m0 11h0m0-28h0m1 25h0m0-12h0m0 21h0m0-17h0m1-17h0m0 8h0m0 9h0m1-5h0m0-12h0m1 9h0m0-3h0m0 15h0m0-16h0m1 0h0m0 1h0m0-2h0m0-5h0m1 8h0m1 0h0m0 7h0m0 18h0m1-29h0m0 10h0m0-4h0m0-9h0m1 19h0m0-11h0m0 9h0m0-1h0m0-13h0m1 10h0m0 6h0m1 0h0m0-2h0m0-3h0m1-15h0m0 19h0m0-6h0m0 3h0m1 3h0m0-18h0m0 4h0m1-2h0m0 17h0m1-12h0m0-2h0m0-1h0m0 18h0m0-18h0m1 0h0m0-1h0m0 12h0m1 8h0m0-21h0m0 12h0m1 14h0m0-18h0m1-7h0m0 4h0m0-6h0m0 16h0m1 1h0m1-19h0m1 12h0m0-4h0m0-2h0m1 19h0m0-23h0m1 25h0m0-24h0m0 28h0m0-31h0m0 16h0m1-2h0m0-13h0m0 27h0m0-7h0m0 5h0m0-18h0m0 3h0m0-3h0m1-7h0m0 4h0m0 11h0m0 10h0m0-25h0m1 3h0m0 18h0m1-17h0m0 5h0m1-9h0m0 22h0m0-21h0m1-2h0m0 18h0m0-9h0m1 18h0m0-26h0m1 9h0m1-6h0m2 9h0m1-12h0m1 30h0m0-17h0m1 20h0m1-14h0m0-12h0m0-6h0m0 33h0m1-6h0m1 0h0m0-9h0m0-19h0m0 17h0m0-9h0m1-5h0m1 31h0m1-35h0m2 21h0m1-21h0m0 21h0m1-17h0m3 16h0m1-5h0m0-14h0m1 2h0m1 12h0m0-9h0m1 31h0m0-30h0m1-6h0m0 1h0m1 8h0m1-8h0m1-2h0m1 5h0m0-2h0m1 2h0m0 2h0m0-2h0m0 4h0m1 11h0m1-19h0m0 3h0m3 16h0m0-14h0m2 9h0m0-5h0m2 11h0m1-14h0m1 12h0m0-19h0m0 12h0m1 7h0m0-13h0m0 1h0m1 28h0m0-1h0m1-26h0m0 2h0m0 5h0m2-5h0m3 5h0m0-7h0m2 20h0m1 5h0m1-12h0m1-18h0m3 27h0m0-23h0m1-2h0m1-3h0m0 7h0m0 29h0m3-12h0m0-18h0m1 16h0m5-21h0m0 13h0m2-13h0m0 5h0m1-4h0m0 21h0m0-21h0m2 22h0m0-12h0m2-3h0m1 0h0m1-10h0m3 24h0m1-12h0m0 5h0m0-16h0m1 14h0m4-12h0m0 13h0m1-3h0m1 0h0m1 22h0m5-33h0m1 6h0m0 15h0m1 8h0m0-31h0m1 21h0m1-18h0m0-2h0m1 4h0m5 1h0m2 13h0m1 1h0m1 2h0m4-12h0m2-7h0m1 10h0m3-13h0m3 27h0m3-8h0m2-15h0m2-3h0m4 7h0m1 22h0m3-16h0m11 4h0m4-18h0m4 31h0m6-30h0m2 30h0m4-28h0m4 15h0m1-17h0m7 10h0m9-7h0m1-1h0m2 0h0m39 27h0m16-15h0m1-4h0m21 2h0m12-9h0m84 2h0m-606 40h0m67-6h0m6 17h0m1-5h0m11-4h0m8-4h0m1-5h0m1 11h0m15-11h0m0 1h0m1 0h0m5 23h0m2-7h0m14-14h0m2 1h0m9 6h0m13-8h0m25 10h0m1-3h0m2-7h0m8-2h0m15 10h0m79-9h0m157-1h0" stroke="#000" stroke-width="6.2" stroke-linecap="round" fill="none"/><polygon points="1036.5,488.4 1059.1,484.2 1081.7,480.0 1104.4,475.8 1127.0,471.6 1149.6,467.4 1172.2,463.2 1194.8,458.9 1217.4,454.6 1240.1,450.2 1262.7,445.7 1285.3,441.2 1307.9,436.6 1330.5,432.0 1353.1,427.4 1375.8,422.7 1398.4,418.0 1421.0,413.3 1443.6,408.7 1466.2,404.0 1488.8,399.3 1511.5,394.5 1534.1,389.8 1556.7,385.1 1579.3,380.4 1601.9,375.7 1624.5,371.0 1647.2,366.3 1669.8,361.6 1692.4,356.9 1692.4,367.7 1669.8,371.9 1647.2,376.1 1624.5,380.3 1601.9,384.4 1579.3,388.6 1556.7,392.8 1534.1,397.0 1511.5,401.2 1488.8,405.4 1466.2,409.5 1443.6,413.7 1421.0,417.9 1398.4,422.1 1375.8,426.3 1353.1,430.6 1330.5,434.8 1307.9,439.1 1285.3,443.4 1262.7,447.8 1240.1,452.2 1217.4,456.7 1194.8,461.3 1172.2,465.9 1149.6,470.6 1127.0,475.2 1104.4,479.9 1081.7,484.6 1059.1,489.3 1036.5,494.0" fill="#999" fill-opacity="0.4"/><line x1="1036.5" y1="491.2" x2="1692.4" y2="362.3" stroke="#3366FF" stroke-width="3.7"/><path d="M988 29.9V602.7H1760.4" fill="none" stroke="#000" stroke-width="1.6"/><path d="M1080.6 602.7v4.5M1235.1499999999999 602.7v4.5M1389.6999999999998 602.7v4.5M1544.25 602.7v4.5M1698.8 602.7v4.5M988 602.7h-4.5M988 459.50000000000006h-4.5M988 316.30000000000007h-4.5M988 173.10000000000008h-4.5M988 29.90000000000009h-4.5" stroke="#000" stroke-width="1.3"/><text x="1079.5" y="629" font-size="25" text-anchor="middle" font-weight="normal" >10</text><text x="1234.3" y="629" font-size="25" text-anchor="middle" font-weight="normal" >15</text><text x="1389.5" y="629" font-size="25" text-anchor="middle" font-weight="normal" >20</text><text x="1543.4" y="629" font-size="25" text-anchor="middle" font-weight="normal" >25</text><text x="1697.8" y="629" font-size="25" text-anchor="middle" font-weight="normal" >30</text><text x="981.6" y="608.2" font-size="25" text-anchor="end" font-weight="normal" >0</text><text x="981.6" y="465.0" font-size="25" text-anchor="end" font-weight="normal" >10</text><text x="981.6" y="321.8" font-size="25" text-anchor="end" font-weight="normal" >20</text><text x="981.6" y="178.6" font-size="25" text-anchor="end" font-weight="normal" >30</text><text x="981.6" y="35.4" font-size="25" text-anchor="end" font-weight="normal" >40</text><text x="886.8" y="31" font-size="31" text-anchor="start" font-weight="bold" >B</text><text x="1384.8" y="654.8" font-size="29.3" text-anchor="middle" font-weight="normal" >baPWV, m/s</text><text transform="translate(943.7 316.3) rotate(-90)" font-size="29.1" text-anchor="middle">Septal E/e'</text><text x="1395" y="70.5" font-size="34.8"><tspan font-style="italic">r</tspan> = 0.349, <tspan font-style="italic">P</tspan> &lt; 0.001</text><path d="M366 700h0m-105 19h0m102 5h0m56-16h0m31-1h0m101 13h0m-92 27h0m-229 71h0m58-8h0m13-4h0m43 4h0m18-14h0m20-8h0m78 8h0m12 4h0m90 2h0m85 11h0m-396 22h0m7-13h0m2 28h0m32 10h0m9-19h0m3-15h0m16 32h0m0-26h0m39 24h0m14-10h0m0-11h0m1-10h0m2 34h0m18-22h0m33 14h0m3-3h0m1-1h0m113-21h0m48 12h0m1 8h0m-364 38h0m13-14h0m8 25h0m14-13h0m3-12h0m38 8h0m3 17h0m7-18h0m11 18h0m4-2h0m1-29h0m3 25h0m3-4h0m10 14h0m5-24h0m7-6h0m1-3h0m4-1h0m4 15h0m3 8h0m12-16h0m6-6h0m9 25h0m3-6h0m20 13h0m10-28h0m9 23h0m10-5h0m34-8h0m26 14h0m15-25h0m2-5h0m38 19h0m17-7h0m32 17h0m-430 38h0m15-10h0m55 14h0m10-25h0m1-3h0m1 31h0m7-4h0m4-21h0m6 2h0m8 17h0m1-28h0m5 8h0m4 15h0m5-5h0m2-3h0m0-2h0m4 0h0m3 2h0m2 11h0m1-5h0m1 8h0m2 6h0m5-1h0m8-10h0m0-1h0m1-4h0m1-3h0m0 8h0m1-23h0m6 10h0m1 22h0m2-17h0m4-14h0m3 7h0m3 12h0m7 3h0m1 4h0m4-21h0m9 27h0m2-1h0m5-8h0m3-16h0m2-7h0m2 22h0m1-12h0m1 24h0m7-4h0m0-26h0m14 4h0m4 7h0m1 13h0m1-17h0m3 18h0m1-19h0m2 21h0m4-32h0m3 1h0m0 12h0m4 11h0m6 6h0m5-17h0m0-6h0m6-9h0m12 1h0m4-2h0m15 9h0m2-8h0m2 16h0m5 1h0m5-4h0m0 13h0m19 8h0m5-7h0m10-10h0m50 8h0m8-3h0m32 15h0m13-9h0m71 6h0m10-26h0m6 4h0m-528 35h0m13 9h0m19 20h0m19-18h0m4 2h0m10-22h0m6 14h0m0 16h0m3-30h0m1 4h0m1 6h0m0 7h0m1 4h0m4 10h0m0-15h0m2 0h0m1 23h0m1-12h0m5-6h0m1-21h0m0 9h0m1 10h0m2 6h0m1 5h0m2 1h0m1 0h0m1 5h0m3-11h0m1 7h0m1-3h0m3 4h0m0-2h0m1 5h0m0-33h0m1 35h0m0-8h0m2-28h0m1 23h0m1 8h0m1-25h0m1 9h0m3 19h0m4-27h0m1 28h0m2-6h0m0-11h0m3-17h0m1 28h0m2-14h0m3 21h0m1 0h0m4-7h0m0-25h0m2 32h0m2-12h0m4 5h0m0-30h0m5 10h0m1-5h0m1 5h0m0 21h0m2 3h0m0-31h0m1 9h0m1 26h0m3-19h0m0-1h0m1-5h0m0 4h0m1-2h0m2-4h0m1 15h0m1-18h0m2-7h0m1 29h0m1 4h0m1-9h0m6-23h0m4 26h0m1 8h0m1-36h0m3 21h0m1-13h0m1-5h0m1 21h0m2 3h0m1-4h0m1 7h0m0 8h0m1-31h0m1-5h0m2-3h0m1 19h0m0 10h0m0-7h0m1-22h0m2 22h0m1-9h0m1 7h0m0 18h0m1-6h0m1-29h0m0 9h0m2 21h0m2 3h0m3-14h0m0 9h0m6-3h0m0 3h0m2-20h0m1 12h0m1 0h0m0-15h0m1 1h0m0 12h0m3 12h0m0 4h0m1-25h0m0 15h0m1 4h0m1 5h0m0-10h0m1-8h0m2-1h0m1 15h0m2-2h0m4-18h0m0 7h0m1-14h0m3 25h0m0-19h0m2 11h0m0 16h0m0-14h0m1-20h0m0 31h0m2-2h0m2-5h0m0-7h0m1 8h0m1-24h0m1 13h0m6 5h0m2 1h0m2 13h0m1-11h0m1 9h0m2-17h0m1-11h0m4 0h0m0 29h0m1-28h0m4-2h0m1 20h0m0-14h0m1 12h0m0-13h0m2 18h0m2-22h0m10 24h0m1 7h0m1-35h0m1 16h0m5-3h0m1-2h0m3-15h0m9 30h0m2 0h0m0-7h0m8-5h0m2 14h0m8 6h0m2-25h0m5 6h0m10 3h0m3-15h0m2-1h0m10 32h0m0-25h0m3 0h0m2 14h0m0 12h0m0-10h0m5 7h0m7 1h0m6-13h0m3-17h0m20-7h0m13 22h0m4 5h0m1-16h0m0-6h0m14-4h0m2 11h0m12 18h0m2-6h0m35 3h0m25 11h0m24-22h0m5 21h0m2-16h0m5-12h0m41 27h0m-638 13h0m49-4h0m7 8h0m3 2h0m3 10h0m13-16h0m1 13h0m0 16h0m7-2h0m3-4h0m1-29h0m0 22h0m2-13h0m2 20h0m0 5h0m1-8h0m0-1h0m6-3h0m0 1h0m1-21h0m1 18h0m1-11h0m0 5h0m0 3h0m0-4h0m1-14h0m1 36h0m0-35h0m1 3h0m0 27h0m1-15h0m0 3h0m1 9h0m0 4h0m0-31h0m0 31h0m1-3h0m4-11h0m1-9h0m0 11h0m1 17h0m1-6h0m1-9h0m2-5h0m0-2h0m0 20h0m1-3h0m0-16h0m3 15h0m0-24h0m2 8h0m4 5h0m1-19h0m0 31h0m1-19h0m2 17h0m0-23h0m1 20h0m0-8h0m0 9h0m2 2h0m1-5h0m2 7h0m0-33h0m1 36h0m0 2h0m1-3h0m1-5h0m1 1h0m0-18h0m2 13h0m1 0h0m0-19h0m0 19h0m1-22h0m1 8h0m2 18h0m2-1h0m2 4h0m0-30h0m0 25h0m1 9h0m0-24h0m1-3h0m0 7h0m0 1h0m1-6h0m0 9h0m2-11h0m3 16h0m1-17h0m0 14h0m0 7h0m0-2h0m1 2h0m0-7h0m1 14h0m0-18h0m0 3h0m0 5h0m0-20h0m1 11h0m0 2h0m1 14h0m0-17h0m0 16h0m0-2h0m1-30h0m1 33h0m0-6h0m1 0h0m0-3h0m0-1h0m1 6h0m0-20h0m0 22h0m1-11h0m0 17h0m1-13h0m2 12h0m1-2h0m0-14h0m1-19h0m0-2h0m1 19h0m0-18h0m1 23h0m2-15h0m0 11h0m1 7h0m2-14h0m0-8h0m0 5h0m0 23h0m0-9h0m1 4h0m0-27h0m1 5h0m0-3h0m0 36h0m0-2h0m1-3h0m0-26h0m1 26h0m1-31h0m2-3h0m1 6h0m1 0h0m0 2h0m1 23h0m0-3h0m2-15h0m1 22h0m1-3h0m0 1h0m0-22h0m1 17h0m0-26h0m1 15h0m1 9h0m0 2h0m1 5h0m0-9h0m1-17h0m2 3h0m1-8h0m1 9h0m1 18h0m0-18h0m0-5h0m2 18h0m0-21h0m0 29h0m1-27h0m0-2h0m1 20h0m2 8h0m1-5h0m0 9h0m2-1h0m0 2h0m0-35h0m1 26h0m0-18h0m0 11h0m0 12h0m1-13h0m0-11h0m0 8h0m1-17h0m0 1h0m2 32h0m0-5h0m0-25h0m2-3h0m1 10h0m1 22h0m0 4h0m2-33h0m1 17h0m0-10h0m0 17h0m0-17h0m1 6h0m0 15h0m1-9h0m1 15h0m0-18h0m2-3h0m0 11h0m0 6h0m1-29h0m0 23h0m0 6h0m1-19h0m0 4h0m1 13h0m1 8h0m0-21h0m0-17h0m3 29h0m0 10h0m2-20h0m1-19h0m0 1h0m2 21h0m0 15h0m0-28h0m0-1h0m1 6h0m0 2h0m1 8h0m0 7h0m0-19h0m1-6h0m2 21h0m0-4h0m1 3h0m1 7h0m0-6h0m1 7h0m0-6h0m0-11h0m1 19h0m0-10h0m1 10h0m0-6h0m0-9h0m1 6h0m1-9h0m0 6h0m1 7h0m0-14h0m0 20h0m1-30h0m2 6h0m0 12h0m1-26h0m0 37h0m2-36h0m1 33h0m0-20h0m0 19h0m0-12h0m1 10h0m0 9h0m1-16h0m0 15h0m4-17h0m1 5h0m0-2h0m1-16h0m1-4h0m1 10h0m0-8h0m1 4h0m0 18h0m1 7h0m2-5h0m1-15h0m0 20h0m1-16h0m0-6h0m1 2h0m0 24h0m0-15h0m1 14h0m0-26h0m0-1h0m4-12h0m2 1h0m7 1h0m2 12h0m1 17h0m0 1h0m2-14h0m0 17h0m1 0h0m2-11h0m2 11h0m3 4h0m1-3h0m1 2h0m1-11h0m1-17h0m1-4h0m2 17h0m0-17h0m3 10h0m2-12h0m2 27h0m0-23h0m2 20h0m1-1h0m1 0h0m1-23h0m0 13h0m2 1h0m3-2h0m0 24h0m0-4h0m5-4h0m1-20h0m0 9h0m3-13h0m1 30h0m1-22h0m0 21h0m3-23h0m0 8h0m0-1h0m1 8h0m1-26h0m0 1h0m2 10h0m0-8h0m1 22h0m4 0h0m15-13h0m0 4h0m3 2h0m4-2h0m7-9h0m7 30h0m0-25h0m7 20h0m0-35h0m3 18h0m2 7h0m0 10h0m4-28h0m1-1h0m7 5h0m2 15h0m11-12h0m7 7h0m0 19h0m2-25h0m4-2h0m1 23h0m5-8h0m2 1h0m3-4h0m1-1h0m2-19h0m8 13h0m6-8h0m2 11h0m12 17h0m8-23h0m3 12h0m3-5h0m0-8h0m5-13h0m48 34h0m29-34h0m20 26h0m5 10h0m7-23h0m10 0h0m2 19h0m12-16h0m-620 43h0m0 17h0m9-11h0m16 4h0m10 1h0m2-1h0m0-10h0m4 3h0m2-5h0m2 11h0m1-7h0m7-17h0m2 22h0m0 11h0m1-6h0m3 3h0m0-18h0m1 1h0m0 13h0m1-24h0m1 12h0m1 7h0m3 2h0m1-21h0m0 29h0m0 3h0m0-1h0m0-13h0m2 8h0m0-11h0m1 0h0m0-4h0m1 14h0m1-23h0m0 11h0m1-1h0m0 19h0m1-22h0m1 13h0m1 7h0m2 1h0m0-5h0m0 4h0m1-11h0m0 5h0m0 4h0m0-5h0m1 6h0m0 1h0m1-18h0m1-2h0m1 6h0m0-1h0m0 4h0m1 4h0m0 8h0m0-5h0m0-14h0m1-12h0m0 11h0m0 14h0m0 7h0m1-16h0m0 3h0m0 7h0m0-13h0m0-7h0m1 15h0m0 8h0m1 4h0m0-18h0m0 16h0m1-21h0m0-14h0m1 37h0m1 0h0m1-3h0m0-8h0m0 6h0m0-2h0m0 7h0m1-16h0m1 9h0m0-17h0m1 14h0m1-1h0m0 11h0m1-10h0m0-2h0m1-5h0m0-14h0m0 24h0m2-27h0m0-4h0m1 38h0m1-19h0m2 19h0m0-32h0m1-2h0m0 26h0m0 1h0m0-4h0m1-25h0m0 22h0m0-6h0m0 4h0m0 11h0m1-10h0m0 12h0m0 4h0m0-20h0m2 19h0m0-11h0m0-16h0m0 19h0m0 9h0m1-13h0m2-5h0m0-2h0m0-16h0m1-4h0m0 23h0m0-10h0m1-5h0m0 1h0m0-6h0m0 11h0m0-7h0m0 23h0m1 5h0m1-19h0m0 15h0m1-11h0m0 6h0m0-11h0m0-13h0m1 14h0m0 10h0m1-12h0m0 20h0m0-18h0m0 20h0m0 2h0m1 0h0m1-18h0m1 13h0m0-8h0m0-5h0m0-16h0m0 5h0m1 27h0m0-25h0m0 1h0m0 4h0m1 17h0m0 6h0m0-16h0m0-22h0m0 25h0m1-13h0m0-12h0m0 32h0m0-29h0m0 34h0m0-9h0m1-21h0m0 24h0m0 2h0m0 4h0m0-16h0m1 10h0m0-28h0m0 13h0m0 7h0m0 15h0m0-4h0m1-3h0m0 5h0m1-6h0m0-11h0m0 1h0m0-16h0m0 2h0m1 1h0m0 28h0m0-13h0m0 15h0m1-23h0m0 11h0m0 9h0m0-10h0m0-16h0m0 25h0m0 1h0m2-10h0m0-18h0m0 2h0m0-5h0m1 21h0m0 9h0m0-13h0m0 5h0m0-12h0m1 23h0m0-6h0m0-4h0m0-22h0m0 18h0m0-9h0m1-13h0m0 33h0m0-28h0m1 18h0m0-18h0m0 2h0m0 18h0m0-25h0m1 15h0m0 11h0m0-20h0m0 11h0m1 9h0m0-7h0m1-16h0m1 29h0m0-19h0m0 16h0m0-25h0m1 32h0m0-16h0m1-12h0m0 25h0m0-15h0m0 8h0m1-13h0m0-11h0m0 27h0m1-24h0m0 28h0m0-13h0m1-3h0m0 16h0m0-7h0m1 13h0m0-15h0m0 12h0m0-1h0m0-4h0m0 5h0m1 0h0m0-22h0m0 3h0m0 12h0m1-24h0m0 24h0m1-14h0m0-3h0m0 24h0m1-13h0m0-3h0m1-19h0m0 27h0m0-9h0m0 8h0m1-26h0m0 1h0m0 8h0m1 19h0m0-2h0m0-19h0m0 2h0m0 22h0m0-28h0m1 29h0m0 3h0m0-18h0m0 9h0m1 0h0m0 11h0m0-18h0m1 13h0m0-3h0m1-21h0m0 23h0m0-31h0m2 18h0m0 12h0m0-24h0m1 20h0m1-13h0m0-2h0m0 18h0m0 3h0m1-14h0m0 10h0m0 10h0m1-15h0m0-9h0m1 14h0m0-26h0m0 4h0m0-1h0m1 26h0m0 5h0m0-12h0m0-22h0m0 1h0m0 12h0m0-12h0m0 21h0m1 9h0m0-24h0m0-1h0m0 12h0m0-19h0m0 19h0m0 16h0m1-8h0m0-1h0m0-18h0m0 12h0m0-14h0m0-9h0m0 21h0m0-7h0m1 13h0m0-21h0m0 14h0m0 9h0m1-25h0m0 33h0m0-7h0m0-9h0m1-21h0m0 28h0m0-9h0m0 7h0m0-11h0m0-7h0m1 14h0m0 9h0m0-5h0m1-18h0m0 23h0m0 4h0m1 3h0m0-6h0m0-3h0m0 2h0m0 5h0m0-11h0m1 10h0m1-28h0m0 11h0m0-5h0m0 9h0m0-10h0m1 21h0m0-26h0m0 21h0m0-7h0m0-12h0m0 5h0m1 21h0m0-31h0m0 27h0m0-20h0m0 18h0m0 6h0m1 1h0m0-31h0m1 35h0m0-7h0m0-12h0m0-4h0m0 12h0m0-12h0m0 10h0m1-20h0m0 18h0m0 10h0m0-1h0m0-28h0m0 27h0m1-11h0m0 1h0m0-21h0m0 4h0m1 32h0m0-37h0m0 22h0m0 13h0m0-9h0m0 10h0m0-32h0m0 29h0m0-3h0m1-2h0m0-22h0m0 23h0m0-19h0m1 21h0m0 1h0m0 6h0m1 0h0m0-35h0m1 33h0m0-12h0m0 14h0m1-30h0m1-7h0m1 31h0m0 4h0m1-14h0m0-19h0m0 36h0m1-14h0m0 11h0m1-27h0m0-3h0m0 16h0m1-15h0m0 23h0m1 2h0m0-28h0m0 29h0m0-29h0m0 21h0m1 11h0m0-21h0m0 21h0m2-11h0m0 5h0m0 8h0m0-16h0m1 9h0m0-2h0m1 4h0m0-4h0m0-20h0m0 27h0m1-35h0m0 15h0m0-14h0m0 9h0m0-9h0m0 12h0m2 15h0m0 8h0m0-9h0m0-15h0m0 24h0m1-11h0m0 7h0m0-29h0m0 23h0m1-3h0m1-1h0m0 9h0m0-2h0m1 0h0m0-20h0m1-10h0m1 23h0m0 16h0m0-37h0m1 23h0m0-17h0m0 1h0m0 19h0m1-5h0m1-6h0m0 5h0m0-23h0m0 33h0m0-16h0m1 6h0m1 15h0m1-18h0m0-18h0m0 34h0m1-4h0m0 5h0m0-29h0m0 15h0m0-3h0m0-4h0m1-9h0m0 1h0m0-2h0m1 1h0m0 31h0m1-23h0m0 17h0m0-20h0m0 28h0m0-37h0m1 0h0m0 10h0m0 4h0m0-8h0m0 12h0m1-13h0m0 26h0m0-30h0m1 25h0m0-7h0m0-8h0m1 10h0m0-19h0m0 15h0m0-8h0m0-8h0m1 32h0m0-5h0m0 7h0m0-35h0m1 11h0m0-13h0m1 13h0m0-5h0m1 21h0m0 6h0m1-3h0m0-4h0m0-9h0m1-16h0m0 32h0m0-21h0m0-2h0m1-9h0m1 14h0m0 11h0m0 8h0m0-2h0m0 2h0m1-16h0m1 18h0m0-18h0m0 11h0m0-8h0m0 3h0m1-13h0m0 14h0m0-3h0m0 4h0m1 4h0m0-32h0m0 35h0m0-8h0m0-27h0m2 36h0m0-6h0m0-6h0m0-7h0m1-7h0m0 17h0m0-1h0m1-9h0m0-14h0m0 3h0m1 23h0m0-28h0m0 18h0m1 10h0m2 1h0m0-21h0m1-8h0m0 37h0m0-3h0m0-29h0m0 20h0m1-3h0m1 1h0m0-6h0m0 14h0m1-7h0m1-6h0m0-4h0m0-2h0m1 22h0m0-29h0m0 33h0m0-8h0m1-1h0m1-27h0m0 34h0m0-19h0m0 11h0m0-28h0m0 13h0m1 11h0m0-8h0m1-12h0m0 15h0m1 19h0m1-39h0m0 5h0m1 28h0m0 3h0m0-7h0m0-18h0m1 10h0m0-5h0m1-12h0m0 8h0m0 19h0m0-7h0m3-7h0m1-14h0m0 1h0m0 14h0m0 21h0m0-11h0m1-7h0m1 14h0m0-23h0m0-6h0m1 19h0m2-2h0m0-7h0m2 17h0m0-5h0m0 6h0m0-19h0m0 23h0m0-2h0m1-13h0m0 5h0m1 8h0m0-27h0m1 22h0m1-2h0m1 5h0m1-8h0m1 0h0m0 6h0m0-23h0m0 21h0m0 4h0m1-11h0m0 6h0m0 7h0m0-17h0m1 12h0m0-15h0m0 2h0m1 15h0m0-6h0m2-26h0m1 28h0m0-22h0m0 9h0m0-4h0m1 15h0m0-15h0m1 17h0m0 7h0m0-18h0m1 19h0m0-8h0m0-25h0m0 5h0m1 23h0m0-4h0m0-20h0m1 20h0m0 10h0m1-32h0m0 16h0m0-18h0m1 11h0m0 14h0m0-24h0m0 8h0m1 7h0m0 18h0m0-3h0m1-28h0m0 28h0m1-10h0m0 5h0m1 0h0m0-18h0m2 16h0m0-4h0m0-13h0m2-9h0m0 15h0m0 14h0m0-6h0m3 14h0m0-8h0m1-17h0m0 22h0m0-29h0m0 3h0m1 15h0m0-5h0m1-5h0m1 0h0m1 2h0m0 13h0m0-13h0m0 15h0m1-17h0m0 23h0m0-30h0m0 13h0m1 11h0m0-3h0m1-10h0m2 4h0m0-4h0m0-3h0m0 17h0m1-16h0m1 19h0m0-7h0m0-13h0m0 14h0m1 7h0m1-29h0m1 18h0m1 9h0m1-27h0m0-4h0m1 5h0m0 19h0m0-27h0m1-2h0m0 29h0m0-3h0m2 11h0m0-12h0m2 10h0m1-15h0m0-13h0m0 7h0m0 1h0m0 7h0m1 1h0m0 15h0m1-12h0m0 9h0m2-22h0m1 20h0m2-3h0m1 7h0m3-18h0m0 13h0m0-20h0m0-4h0m1 31h0m1-2h0m0-7h0m1-15h0m0 19h0m0-21h0m0 8h0m2-11h0m0 28h0m1 2h0m3-31h0m1 3h0m0-3h0m0 4h0m1 24h0m1-29h0m0 14h0m1-12h0m0 17h0m1 12h0m0-30h0m1 14h0m0 5h0m1 10h0m0-27h0m1 28h0m0-15h0m4-21h0m0 33h0m1 3h0m1-14h0m1-17h0m1-7h0m0 35h0m1-14h0m1-9h0m0 2h0m0-10h0m1-3h0m1 28h0m0-26h0m1 12h0m2-2h0m0 14h0m6-18h0m1 11h0m0 15h0m2-32h0m1 25h0m2 0h0m0 4h0m0-22h0m0 27h0m1 0h0m1 0h0m1-8h0m3-14h0m3 16h0m1 0h0m1-27h0m0 30h0m3 0h0m1-6h0m1-20h0m0 19h0m2-21h0m3 26h0m5-33h0m2 38h0m3 2h0m1-21h0m0 6h0m1 3h0m3-8h0m1 5h0m3-15h0m1 1h0m2 23h0m4-26h0m1 2h0m3-2h0m13 28h0m1-20h0m2-8h0m5 15h0m0-17h0m3 29h0m1-28h0m1 27h0m2-31h0m1 6h0m1 6h0m1 20h0m1 5h0m2-7h0m1-11h0m1-17h0m3 31h0m7-17h0m2 7h0m1-9h0m1 8h0m1 7h0m4 6h0m5-28h0m2 20h0m5-26h0m2 22h0m2 6h0m4-29h0m8 0h0m1 30h0m12-16h0m7 17h0m6-18h0m6-11h0m2 20h0m2 6h0m23-29h0m23 16h0m5 14h0m1 3h0m-610 44h0m8-6h0m2-7h0m7 3h0m9-10h0m10 17h0m8-21h0m4-7h0m0-4h0m2 7h0m5 11h0m1 2h0m0-8h0m1 17h0m0-8h0m1-5h0m2-20h0m1 19h0m0 20h0m1-34h0m1 32h0m0-26h0m0 15h0m1-9h0m1-4h0m1 4h0m0-7h0m0 7h0m1-2h0m1 0h0m1-11h0m1 33h0m0-4h0m1-29h0m1 3h0m2 19h0m1-23h0m0 30h0m0 6h0m1-14h0m0-11h0m1 23h0m0 2h0m1-21h0m0 2h0m1-4h0m1-14h0m1 38h0m0-7h0m0 4h0m0-11h0m1-1h0m0-6h0m0 20h0m0-36h0m1 16h0m2 3h0m1 9h0m0-6h0m1-1h0m0 16h0m1-5h0m0-10h0m0-4h0m0-19h0m1 10h0m0 25h0m1 0h0m0-34h0m0 15h0m0 1h0m0-6h0m1-6h0m0 20h0m0-22h0m1 19h0m0 10h0m1-2h0m0 5h0m0-15h0m0-12h0m0 29h0m1-34h0m0 6h0m0 1h0m0 17h0m0 7h0m0-2h0m1-2h0m0 7h0m0-15h0m1-24h0m0 7h0m0 22h0m0-6h0m1 1h0m0-24h0m0 14h0m0-11h0m0 31h0m1-31h0m0 26h0m0-17h0m1-1h0m0 23h0m0-33h0m0 29h0m1-5h0m0-11h0m1 18h0m0 3h0m0 2h0m0-33h0m0 17h0m0-1h0m1 7h0m0-18h0m0 5h0m0-12h0m0 31h0m0 5h0m1-9h0m0-17h0m0 7h0m0-2h0m0 12h0m1-18h0m0 7h0m0 22h0m1 0h0m0-23h0m1 0h0m0-2h0m0-10h0m1 25h0m0-9h0m0 16h0m0-26h0m1 25h0m0-11h0m0-21h0m0 16h0m0-7h0m0 26h0m1-13h0m0-23h0m0 6h0m0 3h0m1 7h0m0-7h0m0 19h0m0-6h0m0 6h0m0-21h0m0-8h0m0 2h0m1 9h0m0 9h0m0-16h0m0 19h0m1 0h0m0-1h0m0 8h0m0-24h0m1 22h0m0-22h0m0 16h0m0-4h0m0-12h0m0 2h0m0 25h0m1-33h0m0 37h0m1-29h0m0 23h0m0-13h0m1-4h0m0 4h0m0 2h0m0-15h0m0 4h0m0 18h0m0-8h0m0 11h0m0-24h0m0-8h0m0 30h0m0-14h0m1-3h0m0 17h0m1 10h0m0-27h0m0 6h0m1-19h0m0 4h0m0 11h0m0-10h0m0 14h0m0-8h0m0-5h0m0 28h0m0-27h0m0 26h0m1-23h0m0 18h0m0-14h0m0 6h0m0-19h0m1 33h0m0-2h0m0-6h0m0-4h0m0-4h0m0 17h0m1-23h0m0 6h0m0 1h0m0 8h0m0-3h0m0 5h0m1 6h0m0-29h0m0-2h0m0 15h0m0 19h0m0-9h0m0 5h0m0-23h0m1 8h0m0 18h0m0-29h0m1 8h0m0 17h0m1-28h0m0 1h0m0 16h0m0-2h0m1-2h0m0 5h0m0 9h0m0-23h0m1 31h0m1-19h0m0 2h0m0-15h0m0 19h0m0 8h0m0-7h0m1-13h0m0-8h0m0 3h0m0 15h0m0-22h0m0 20h0m0 17h0m0-1h0m1-2h0m0-14h0m1 3h0m0 5h0m1-29h0m0-2h0m0 37h0m0-7h0m0-15h0m1 5h0m0-6h0m1 20h0m0-5h0m0-18h0m0 23h0m0-14h0m0-3h0m1 7h0m0-13h0m0-10h0m0 21h0m0-5h0m0-15h0m1-2h0m0 7h0m0 10h0m0-2h0m0 6h0m0-13h0m0 8h0m1 18h0m0 6h0m0-15h0m0-20h0m0 14h0m0 11h0m0-16h0m0 23h0m0-7h0m1-30h0m0 22h0m0 6h0m0-28h0m0 18h0m0 20h0m1-7h0m0-11h0m0 6h0m0-20h0m0 32h0m0-29h0m0 20h0m0-5h0m0-3h0m0 12h0m1-5h0m0 3h0m0 6h0m0-37h0m0 31h0m0-1h0m0 8h0m0-27h0m1 10h0m0 13h0m0-4h0m0-16h0m0-13h0m0 8h0m1 27h0m0-9h0m0-10h0m0 21h0m0-24h0m0-10h0m0 29h0m0-7h0m0 7h0m1-5h0m0-3h0m0-2h0m0 10h0m0-13h0m0-12h0m1 23h0m0-24h0m0 22h0m0-12h0m0 13h0m0-22h0m0-2h0m0 2h0m0 22h0m1-18h0m0-8h0m0 21h0m0-22h0m0 30h0m0-14h0m0-18h0m0 23h0m0 2h0m0 14h0m0-27h0m1 1h0m0 13h0m0-12h0m1-12h0m0 9h0m0 17h0m0-26h0m0 11h0m0 20h0m1-6h0m0-14h0m0-2h0m0 25h0m0-4h0m1 4h0m0-16h0m0-2h0m0-8h0m0 27h0m0 2h0m0-2h0m0-21h0m0 18h0m0-5h0m0-20h0m0 14h0m0-16h0m0 5h0m0 25h0m1-7h0m0 8h0m0-39h0m0 36h0m0-33h0m0 7h0m0 27h0m0-30h0m1 26h0m0-27h0m0 13h0m0 16h0m0-20h0m0-9h0m1 3h0m0 21h0m0-17h0m0 16h0m0-18h0m0 13h0m1 0h0m0-20h0m0 23h0m0-24h0m0 28h0m0-12h0m0-3h0m1-11h0m0 3h0m0-7h0m0 33h0m0-29h0m0 34h0m1-6h0m0 5h0m0-12h0m0 4h0m0-10h0m0 8h0m0-22h0m0 31h0m0-14h0m0-10h0m1 20h0m0-11h0m0-8h0m0 3h0m0 20h0m0-11h0m0 1h0m0-4h0m0 12h0m0-18h0m0-16h0m0 29h0m0-5h0m0-2h0m1-14h0m0 2h0m0 21h0m0-20h0m0 21h0m1-27h0m0 12h0m0 3h0m0 12h0m0-14h0m0-13h0m0 1h0m0 24h0m0-21h0m1 28h0m0-12h0m0 1h0m0 4h0m0-14h0m1 11h0m0-16h0m0-6h0m0-1h0m0 7h0m0-8h0m0 7h0m0-3h0m1 1h0m0 26h0m0-16h0m0-5h0m0 21h0m0-27h0m0-1h0m0 28h0m0-8h0m0-7h0m0 14h0m0-7h0m1-11h0m0-4h0m0 17h0m0-6h0m0-13h0m1 17h0m0-26h0m0 1h0m0 26h0m0-25h0m0 37h0m0-6h0m1-18h0m0-6h0m0 12h0m0-11h0m0 15h0m0 2h0m0-10h0m0-15h0m1 34h0m0-35h0m0 26h0m0 8h0m0-36h0m0 34h0m0-9h0m0 11h0m0 4h0m0-16h0m1-24h0m0 4h0m0 10h0m0-4h0m0 9h0m0-10h0m0 17h0m1 11h0m0 2h0m0-15h0m0 8h0m0-1h0m0 3h0m0-31h0m0 22h0m1 15h0m0-35h0m0 31h0m0-8h0m0 10h0m1 2h0m0-9h0m0-13h0m0 13h0m0-25h0m0 26h0m0-16h0m0 24h0m0-34h0m1-4h0m0 24h0m0-17h0m0 8h0m0 17h0m0-7h0m0 1h0m0-16h0m0-1h0m0 17h0m0-24h0m0 7h0m0-1h0m0-8h0m1 18h0m0 3h0m0-9h0m1 14h0m0-27h0m0 3h0m0 31h0m0 1h0m0-25h0m0 14h0m0-11h0m0-9h0m0-1h0m1 20h0m0-17h0m0 31h0m0-14h0m0-18h0m0 6h0m0 10h0m0 14h0m0-25h0m0-11h0m0 3h0m0 18h0m1-2h0m0-17h0m0 6h0m0 27h0m1-4h0m0 8h0m0-26h0m0 13h0m0 2h0m0 12h0m0-18h0m1-6h0m0 23h0m0-20h0m0 11h0m1 1h0m0-13h0m0 14h0m0 6h0m0-25h0m0 1h0m0 11h0m1 1h0m0-12h0m0 1h0m0 5h0m0-10h0m0-1h0m0 13h0m1 5h0m0 2h0m0 9h0m0-7h0m0 2h0m0-28h0m1 20h0m0 3h0m0 8h0m0-16h0m0 13h0m0-30h0m0 16h0m0 7h0m1-14h0m0 4h0m0 10h0m1 3h0m0 5h0m0-12h0m0 4h0m0 5h0m0-21h0m0-3h0m0 21h0m0 1h0m0 2h0m1 1h0m0-23h0m0 27h0m0 3h0m0-17h0m1-1h0m0 16h0m0-16h0m0 6h0m0 4h0m0-16h0m0-12h0m0 28h0m0-23h0m0-1h0m0 23h0m1-14h0m0-7h0m0 8h0m0 4h0m0-11h0m0 19h0m0-15h0m1 9h0m0-5h0m0-10h0m0 28h0m0-6h0m1-17h0m0 15h0m0-5h0m0 6h0m0-14h0m1 8h0m0 9h0m0 7h0m0-10h0m0-1h0m0-7h0m1 9h0m0-15h0m0 10h0m0 12h0m0-12h0m0-23h0m0 37h0m0-26h0m0 4h0m1-6h0m0 23h0m0-4h0m0 3h0m0 4h0m0-17h0m1 6h0m0 7h0m0-28h0m0 16h0m0 5h0m0-19h0m0 6h0m0 13h0m0 8h0m0-21h0m0 6h0m1 2h0m0-5h0m0 22h0m0-13h0m0-21h0m1 28h0m0-10h0m0 3h0m0-24h0m0 35h0m0-3h0m0 1h0m1-33h0m0 13h0m0 15h0m0-18h0m0 7h0m0 3h0m1-16h0m0 25h0m0-30h0m0 17h0m0 14h0m0-18h0m0 17h0m1 6h0m0-32h0m0 7h0m0 6h0m0 4h0m0-4h0m0 13h0m0-6h0m0-14h0m1 4h0m0 13h0m0-3h0m0-3h0m0-7h0m1 23h0m0-19h0m0 11h0m0-12h0m0 18h0m0-16h0m0-12h0m1 14h0m0-5h0m0 3h0m0-10h0m0-9h0m0 20h0m0-6h0m0 12h0m0 2h0m1 7h0m0-15h0m0-6h0m0 10h0m1-13h0m0-10h0m0 23h0m0 15h0m0-32h0m0 30h0m1 1h0m0 1h0m0-26h0m0-3h0m0-3h0m0 9h0m1 1h0m0 17h0m0 1h0m1-33h0m0-2h0m0 18h0m0 21h0m0-8h0m0-4h0m1-6h0m0 4h0m0-12h0m0 6h0m0 19h0m0-18h0m0 18h0m0-18h0m0-19h0m0 1h0m1 25h0m0 10h0m0-36h0m0 33h0m0-17h0m0 16h0m0-30h0m1 22h0m0 7h0m0-3h0m0-19h0m0-1h0m0 7h0m0 9h0m0 13h0m0-31h0m0 22h0m0-1h0m1-5h0m0 14h0m0-20h0m0 7h0m0-13h0m0 20h0m0-14h0m0-7h0m0 16h0m1-9h0m0-1h0m0 24h0m0-4h0m0-9h0m0-13h0m0 1h0m0-1h0m0 16h0m1-11h0m0-4h0m0-1h0m0 25h0m0-3h0m0-6h0m1-13h0m0-10h0m0 6h0m0 16h0m0 10h0m0-8h0m0-6h0m0 8h0m0-17h0m0-2h0m1 4h0m0 17h0m0-15h0m0-7h0m1 0h0m0 21h0m0-26h0m0 4h0m0 2h0m0 22h0m1-28h0m0 13h0m0 12h0m0-16h0m0 15h0m1 6h0m0-4h0m0-30h0m0 19h0m0 17h0m0-30h0m0 18h0m1 6h0m0-12h0m0-6h0m0 5h0m0 15h0m0-8h0m0 8h0m0-20h0m1 15h0m0-1h0m0-28h0m0 12h0m0 1h0m0-8h0m0 8h0m0-3h0m1 18h0m0-25h0m0 18h0m0-19h0m0 28h0m0-7h0m0 5h0m0-8h0m1 6h0m0-22h0m0 31h0m0-9h0m1-7h0m0-5h0m1 13h0m0 2h0m0-9h0m0-22h0m0 40h0m0-39h0m1 17h0m0 21h0m0-35h0m0 10h0m0 15h0m0 11h0m0-22h0m0 13h0m1-5h0m0 12h0m0-19h0m0-9h0m0 26h0m0-13h0m1 6h0m0-26h0m0 33h0m0-26h0m0 2h0m0 28h0m0-5h0m0-6h0m1-20h0m0 8h0m0-1h0m0-8h0m0 18h0m0-5h0m0 19h0m0-15h0m1-7h0m0 20h0m0-20h0m0-4h0m0 10h0m1 1h0m0 6h0m1 1h0m0-24h0m0 2h0m0 1h0m0-3h0m0 19h0m0-22h0m1 23h0m0-6h0m0 10h0m0-17h0m0-5h0m0 12h0m0-7h0m0-5h0m0 4h0m1 3h0m0 20h0m0-35h0m0 23h0m1 8h0m0-8h0m0-3h0m0 4h0m0-18h0m0 21h0m1-13h0m0 11h0m0-13h0m0-13h0m0 35h0m1-8h0m0-18h0m0 27h0m0-23h0m0 9h0m1-3h0m0-19h0m0 6h0m0 31h0m0-30h0m0-1h0m0 19h0m0 11h0m0 1h0m0-18h0m1-4h0m0-9h0m0 27h0m0-20h0m1-4h0m0 28h0m0-5h0m0-11h0m0-12h0m0 17h0m0-5h0m1-19h0m0 35h0m0-2h0m0-3h0m0 6h0m0-6h0m0-28h0m1 32h0m0-11h0m0 10h0m0-30h0m0 9h0m0 20h0m0 3h0m1-24h0m0-11h0m0 2h0m0 16h0m1 13h0m0-32h0m0 11h0m1-7h0m0 1h0m0 32h0m0-8h0m0-25h0m0-1h0m0 18h0m0 9h0m1-29h0m0 15h0m0 11h0m0-10h0m0-2h0m0 9h0m0 9h0m0-16h0m0 6h0m1 2h0m0 12h0m0-38h0m0 11h0m0-6h0m0 21h0m0-15h0m0 17h0m0-3h0m0 10h0m1-26h0m0 25h0m0-18h0m0 5h0m0 12h0m0-10h0m0 14h0m1 1h0m0-30h0m1 27h0m0-25h0m0 22h0m1-19h0m0 19h0m0 3h0m0 3h0m0-28h0m0 26h0m0-18h0m1-12h0m0 23h0m1 0h0m0-23h0m0 8h0m0-13h0m0 27h0m1-27h0m0 19h0m0 14h0m0-2h0m0-30h0m0 23h0m0-25h0m1 32h0m0-17h0m0 7h0m0-5h0m0-15h0m0 28h0m0-8h0m1-21h0m0 28h0m0-1h0m0-5h0m0 2h0m0-2h0m0-11h0m0 19h0m0-8h0m1 9h0m0-1h0m0-21h0m0 1h0m0-11h0m1 29h0m0 8h0m0-16h0m1 8h0m0-1h0m0-19h0m0 10h0m1 0h0m0 2h0m0 12h0m1 2h0m0-35h0m0 26h0m0 6h0m0-18h0m1 3h0m1 20h0m0-1h0m0-28h0m0-8h0m0 20h0m0 8h0m1-18h0m0 1h0m0-5h0m0 28h0m0-25h0m1 9h0m0 13h0m0-3h0m0-17h0m1 27h0m0-26h0m0 10h0m0 12h0m0-9h0m0-15h0m1-10h0m0 39h0m0-9h0m0 3h0m0-22h0m0-4h0m0 24h0m1-7h0m0 8h0m0-22h0m0 2h0m0 12h0m0-12h0m0-12h0m0 12h0m1 14h0m0-19h0m0 17h0m0-12h0m0 5h0m0-2h0m0 12h0m1-20h0m0 17h0m0 3h0m0-15h0m1 6h0m0 14h0m0-3h0m0-17h0m0 18h0m1-2h0m0-20h0m0 14h0m1-15h0m0 1h0m0-1h0m0 27h0m1-18h0m0-14h0m0 16h0m0 11h0m0-4h0m1-4h0m0 3h0m0-13h0m1 8h0m0 4h0m0 7h0m0-28h0m1 4h0m0 15h0m0-8h0m1 10h0m1-7h0m1 21h0m1-36h0m0 27h0m0-28h0m1 39h0m0-8h0m1-8h0m0-6h0m0 9h0m0-16h0m1-10h0m1 4h0m0 21h0m0-5h0m0-8h0m0-12h0m1 2h0m0 26h0m0-18h0m1-3h0m0-5h0m0 12h0m0 22h0m0-33h0m0 15h0m0 2h0m1-1h0m0-19h0m0 9h0m0 9h0m0-14h0m1 33h0m0-20h0m0-15h0m0 30h0m0-21h0m0 24h0m0-23h0m1 24h0m0-6h0m0 2h0m0-12h0m0 17h0m1 1h0m0-26h0m1 25h0m0-19h0m1 20h0m0-17h0m0-9h0m0 19h0m1-22h0m0-7h0m1-2h0m0 20h0m0 10h0m0-21h0m1 23h0m1-2h0m0-15h0m0 18h0m0 5h0m2-10h0m0-14h0m0 17h0m0-30h0m1 24h0m0-4h0m0-13h0m0 25h0m0-5h0m1-11h0m0 3h0m0 15h0m1 1h0m0 1h0m0-15h0m0-1h0m1 5h0m0 3h0m0-10h0m1-2h0m0 13h0m0 8h0m1-7h0m0-30h0m1 4h0m0 29h0m1-3h0m0-19h0m0 23h0m0-1h0m0-5h0m1-14h0m0 20h0m0-20h0m0-9h0m1 25h0m0 6h0m1-2h0m0-19h0m0 1h0m1 20h0m0-23h0m0 1h0m0 24h0m1-9h0m0-16h0m0-12h0m0 28h0m1-4h0m1-1h0m0-2h0m0-5h0m0 10h0m1 10h0m0-17h0m0-19h0m1 9h0m0 18h0m0-16h0m1 19h0m0-6h0m1 3h0m0 6h0m0-18h0m1 18h0m0-34h0m0 6h0m0 7h0m1 19h0m0-18h0m0 7h0m1 6h0m0-18h0m0 6h0m0 11h0m1-17h0m1 25h0m0-26h0m0 23h0m1-18h0m1 8h0m0 13h0m0-16h0m0 19h0m0-33h0m1 20h0m0 13h0m0-35h0m0 20h0m0 7h0m1-1h0m0-8h0m0-1h0m1 5h0m0 7h0m0 3h0m0-25h0m1 28h0m0-10h0m0-1h0m1 5h0m0-20h0m1 15h0m0-7h0m0-8h0m1 23h0m0-6h0m0-22h0m1 16h0m0-17h0m0 17h0m0-23h0m1 26h0m1-8h0m0-4h0m0-2h0m0 10h0m0-4h0m1-4h0m0 7h0m1-13h0m0-3h0m0 15h0m1 14h0m0-23h0m2 15h0m0-6h0m1 13h0m1-11h0m0-6h0m0-2h0m0 9h0m0-7h0m1 14h0m1-14h0m1 16h0m0-28h0m0-3h0m1 30h0m0-10h0m1-2h0m1 3h0m0 2h0m2 11h0m0-3h0m0 2h0m0-26h0m0-2h0m1 27h0m1-14h0m0-17h0m1 22h0m0-1h0m0 12h0m2-29h0m0 6h0m1 17h0m0 4h0m1 2h0m0-30h0m0 27h0m1-1h0m0-32h0m2 25h0m0-13h0m0 13h0m0 5h0m0 3h0m1-7h0m0 12h0m1-18h0m1 13h0m0-29h0m0 26h0m0-6h0m1-13h0m1 20h0m1-5h0m1-18h0m1 4h0m2 14h0m0-4h0m1-6h0m0-15h0m0 39h0m1-17h0m3-18h0m0 28h0m0-17h0m0-5h0m1 27h0m1-22h0m1 13h0m0-5h0m3 3h0m1 10h0m1-17h0m1-11h0m0 11h0m0-17h0m0-1h0m1 20h0m1-7h0m2 5h0m3 3h0m0-22h0m2 30h0m0-25h0m1 22h0m0-3h0m0-5h0m1-1h0m0-1h0m1-2h0m1 6h0m0 12h0m2-15h0m0 14h0m1-9h0m0 6h0m0 7h0m0-31h0m1 20h0m1 13h0m0-23h0m2 20h0m0-7h0m1-14h0m1 22h0m1-3h0m0-14h0m1-19h0m0 9h0m1 27h0m0-34h0m1-3h0m0 20h0m1 10h0m1-26h0m1 26h0m3-20h0m1 15h0m1 5h0m1 3h0m0-18h0m1-1h0m1 3h0m0 2h0m1-4h0m1-5h0m1 6h0m0 8h0m2-17h0m0 26h0m0-17h0m0 10h0m1-11h0m5-5h0m0 30h0m1-21h0m0 14h0m1 0h0m2 7h0m2-32h0m1 19h0m1-21h0m0 12h0m0-9h0m0 21h0m1-25h0m0 11h0m3 18h0m2-25h0m0 6h0m0-2h0m1-6h0m4 21h0m5-21h0m2 26h0m1-19h0m3-6h0m1 8h0m2 18h0m3-4h0m0-4h0m3-24h0m0 18h0m0-3h0m11-7h0m2 8h0m2-5h0m1 10h0m0-15h0m1 32h0m0-10h0m2-15h0m1 16h0m5-22h0m0 7h0m3 5h0m1-14h0m1 17h0m2 10h0m4-32h0m0 13h0m1-10h0m0 33h0m4-19h0m0-18h0m0 32h0m2-13h0m6-15h0m8-4h0m2 35h0m11-21h0m14 19h0m0-2h0m1-18h0m1-1h0m1-11h0m5 19h0m4-14h0m17 20h0m10 0h0m5 1h0m10-7h0m13 0h0m-612 45h0m7-2h0m1 14h0m3-30h0m1-3h0m3 21h0m2 1h0m0 3h0m3-25h0m4-3h0m0 15h0m1-16h0m1 4h0m1 9h0m0 3h0m2 14h0m1 6h0m1-2h0m2-10h0m5 8h0m1-4h0m2-3h0m4-16h0m0 14h0m0-10h0m0 22h0m1-3h0m2-28h0m0 24h0m3 0h0m0 9h0m0-3h0m1-1h0m0-32h0m0 6h0m1-7h0m3 10h0m1 3h0m2 25h0m3-11h0m0-24h0m0 23h0m1-26h0m1 12h0m0 16h0m1-10h0m0 20h0m0-15h0m1 9h0m0-12h0m1-18h0m0 7h0m0 16h0m0 5h0m1-1h0m0-24h0m1 13h0m1-4h0m0 3h0m0 7h0m1-13h0m0-10h0m1 14h0m1 13h0m0-8h0m0-8h0m0-1h0m1-7h0m0 30h0m0-5h0m0-16h0m1-13h0m0 26h0m1-5h0m0 6h0m0-6h0m0 10h0m0-26h0m0-5h0m0 7h0m1 5h0m0 12h0m0 5h0m0-17h0m0-3h0m0-1h0m0 28h0m0-30h0m1 13h0m0-5h0m0-8h0m1 1h0m0 12h0m0 10h0m1-12h0m0 13h0m0-1h0m0-19h0m0-4h0m0 7h0m0 20h0m1-17h0m0-9h0m0 12h0m1 6h0m0-14h0m1 4h0m0 5h0m0 14h0m0-13h0m1-15h0m0 19h0m0 5h0m0-27h0m1 10h0m0 11h0m0-20h0m0 26h0m1-11h0m0 19h0m0-20h0m0 6h0m1-6h0m0 14h0m0-11h0m0 15h0m0-28h0m0 29h0m0-34h0m1 3h0m0 12h0m0-2h0m0-15h0m0 30h0m0-25h0m1 26h0m0-2h0m0-16h0m0 19h0m0-20h0m0-12h0m1 20h0m0 3h0m0-19h0m1 15h0m0 19h0m0-17h0m0-10h0m0 23h0m2 1h0m0 1h0m0-38h0m0 23h0m1 15h0m0-18h0m0 12h0m0-13h0m0-15h0m1 11h0m0-9h0m0 6h0m0-11h0m0 33h0m0-5h0m0-7h0m0 1h0m0 6h0m0-21h0m1 11h0m0 5h0m0 14h0m0-1h0m1-28h0m0 7h0m0-4h0m0 5h0m0 13h0m0 9h0m0-5h0m1-33h0m0 32h0m0-9h0m0-3h0m0-16h0m1 32h0m0-34h0m0 7h0m0 4h0m0-11h0m1 19h0m0 4h0m0-3h0m0-18h0m0 12h0m0-7h0m1 29h0m0-6h0m0-17h0m0 14h0m0 7h0m0-29h0m0 6h0m0 10h0m0-14h0m1 26h0m0-36h0m0 8h0m0 7h0m1 10h0m0 1h0m0 6h0m0-25h0m1-2h0m0 23h0m0 3h0m0-24h0m0 28h0m1-23h0m0 7h0m0-14h0m0 16h0m0 8h0m1-27h0m0 34h0m0-12h0m0 2h0m1-17h0m0 15h0m0-4h0m0 19h0m0-12h0m0-14h0m1 7h0m0-20h0m0 18h0m0-7h0m0 24h0m0-23h0m0 2h0m0 7h0m0-15h0m1 25h0m0-18h0m0-4h0m0 22h0m1-4h0m0-2h0m0-20h0m0 21h0m0 12h0m0-4h0m0-30h0m0 3h0m0 22h0m1-10h0m0 12h0m0 9h0m0-27h0m0-13h0m0 2h0m1 11h0m0 1h0m0-3h0m0-5h0m0 31h0m0-22h0m0 12h0m0 6h0m0-8h0m1-12h0m0 14h0m0 2h0m0 4h0m0-19h0m0 4h0m0-16h0m0 16h0m1-13h0m0 3h0m0 20h0m0-24h0m0 3h0m0 4h0m0 7h0m0-2h0m0 18h0m0-2h0m0-24h0m0 7h0m0 1h0m0 20h0m0-20h0m1-11h0m0 7h0m0-12h0m1 32h0m0-24h0m0 21h0m0 10h0m0-20h0m0-17h0m1 30h0m0-28h0m0 14h0m0-12h0m1 13h0m0 8h0m0-18h0m0-3h0m1-2h0m0 14h0m0-2h0m0-9h0m0 29h0m0-10h0m0 13h0m0-17h0m0 17h0m0-35h0m0 32h0m0 1h0m1-5h0m0-23h0m0 7h0m0 4h0m0-13h0m0 26h0m0 3h0m0-14h0m0-17h0m1 4h0m0 14h0m0-8h0m0-4h0m0-9h0m0 28h0m1-1h0m0 1h0m0-6h0m0-22h0m0 2h0m0 2h0m0-4h0m0 31h0m0-1h0m1-14h0m0-1h0m0 6h0m0-20h0m0 4h0m1 29h0m0-14h0m0-4h0m0-18h0m0 2h0m0 22h0m0 5h0m0 6h0m0-28h0m0 4h0m1-9h0m0 12h0m0 15h0m0-23h0m0 23h0m0-22h0m0 12h0m0 3h0m0 7h0m0-7h0m1 1h0m0-17h0m0-5h0m0 35h0m0-3h0m0-33h0m0 39h0m0-18h0m0-6h0m0 3h0m0 21h0m1-4h0m0-33h0m0 26h0m0-21h0m0 22h0m0-22h0m0 1h0m1 11h0m0 4h0m0-14h0m0-6h0m0 27h0m0-11h0m1-5h0m0-9h0m0 25h0m0 8h0m0-6h0m0-12h0m1-3h0m0-16h0m0 6h0m0 8h0m0-3h0m0 10h0m0-14h0m0 16h0m1-1h0m0-21h0m0 24h0m0-4h0m1 17h0m0-12h0m0-14h0m0 7h0m0-4h0m0-14h0m0 19h0m0-6h0m0 21h0m0-25h0m0 15h0m0-20h0m1 10h0m0-12h0m0 19h0m0 12h0m0-8h0m0 8h0m0-25h0m0 13h0m0 13h0m0-4h0m0-23h0m1 5h0m0 25h0m0-10h0m0 8h0m0-5h0m0 4h0m0-33h0m0 25h0m0 9h0m1-4h0m0-24h0m0 24h0m0-29h0m0-2h0m1 0h0m0-1h0m0 24h0m0-17h0m1 8h0m0 20h0m0-33h0m0 11h0m0 4h0m0-16h0m0 29h0m0-16h0m0-9h0m0 32h0m0-5h0m0-17h0m1 7h0m0 15h0m0-8h0m0-10h0m0-7h0m1 23h0m0-21h0m0-7h0m0 19h0m0-2h0m0 5h0m1-14h0m0 14h0m0 2h0m0-2h0m0-5h0m0-12h0m0 14h0m0-19h0m1 17h0m0-4h0m0-9h0m0 8h0m0-3h0m0 1h0m0-9h0m0 5h0m0 24h0m1-17h0m0-19h0m0 20h0m0 7h0m0 10h0m1-32h0m0 17h0m0 11h0m0-6h0m0-7h0m0 2h0m0-10h0m0-6h0m0 15h0m0 8h0m0 2h0m1-33h0m0 11h0m0 8h0m0 3h0m0 6h0m1-19h0m0 4h0m0 14h0m0-8h0m0 16h0m0-23h0m0 17h0m0 8h0m0-29h0m0 16h0m0-19h0m0 15h0m0-14h0m0 12h0m1 11h0m0-19h0m0-5h0m0 29h0m0-16h0m0-13h0m0-2h0m0 22h0m0 14h0m0-23h0m0 1h0m0 13h0m0 5h0m0-6h0m1 0h0m0-22h0m0 21h0m0 2h0m0-4h0m0 3h0m0-25h0m0 30h0m0-25h0m1-3h0m0 9h0m0-2h0m0 4h0m0-11h0m0 29h0m0-28h0m0 31h0m0-12h0m1-4h0m0-16h0m0 24h0m0-4h0m0 5h0m0-24h0m0 17h0m1-15h0m0 16h0m0-8h0m0 22h0m0-13h0m0 3h0m1-2h0m0 4h0m0 3h0m0-1h0m0-7h0m0-14h0m0 8h0m0-17h0m1 21h0m0 12h0m0-4h0m0-32h0m0 33h0m0-18h0m0 20h0m0-29h0m0 18h0m0 3h0m1-9h0m0 8h0m0-5h0m0 17h0m0-31h0m1-1h0m0 3h0m0 4h0m0 4h0m0 15h0m0-22h0m1 25h0m0-14h0m0-8h0m0 24h0m0-16h0m0-5h0m0-9h0m0 17h0m1 11h0m0-27h0m0 3h0m0 22h0m0-1h0m0-24h0m1 12h0m0-15h0m0 23h0m0-11h0m0 5h0m0 5h0m0 5h0m1-4h0m0-12h0m0 18h0m0-32h0m0 9h0m0 3h0m0 15h0m0-25h0m0 19h0m1-19h0m0 18h0m0 12h0m0 2h0m0-26h0m0 9h0m0-7h0m1 0h0m0 14h0m0-20h0m0 25h0m0-7h0m0 8h0m0-2h0m0-7h0m1-22h0m0 34h0m0-31h0m0 29h0m0-6h0m0-26h0m0 12h0m0-3h0m0 5h0m1 5h0m0-13h0m0 7h0m0 13h0m0-17h0m0-1h0m0 1h0m0-7h0m0 23h0m0-14h0m1-9h0m0 4h0m0 14h0m0 1h0m0-15h0m0 10h0m0 12h0m0-14h0m0 16h0m1-17h0m0 18h0m0 5h0m0-19h0m0 13h0m0-20h0m0-4h0m1 0h0m0 11h0m0-11h0m0 1h0m0 30h0m0-13h0m0-4h0m0 9h0m1-11h0m0 3h0m0 11h0m0-14h0m0 14h0m0-32h0m0 36h0m0-19h0m1-4h0m0-9h0m0 30h0m0-16h0m0 11h0m0-10h0m0-2h0m0-5h0m1 13h0m0-19h0m0 2h0m0 6h0m0 18h0m0-15h0m1-17h0m0 6h0m0 27h0m0-7h0m0-18h0m0 22h0m0-5h0m0-13h0m1 3h0m0-6h0m0 29h0m0 1h0m0-23h0m0-10h0m0 30h0m0-19h0m0-15h0m0 37h0m0-24h0m1-8h0m0 3h0m0 17h0m0-22h0m1 22h0m0-5h0m0 3h0m0 6h0m0-1h0m0-7h0m0-5h0m0-9h0m0 14h0m1-10h0m0-10h0m0 3h0m0 15h0m1-14h0m0 19h0m0-18h0m0 21h0m1-23h0m0 14h0m0 2h0m0-20h0m0 30h0m0-12h0m0 9h0m0-7h0m0-9h0m0 25h0m1-21h0m0-18h0m0 26h0m0-22h0m0 23h0m0 9h0m0-32h0m0 11h0m0-15h0m1 32h0m0-26h0m0-1h0m0 12h0m0-15h0m0 33h0m0-2h0m1-32h0m0 22h0m0 14h0m0-16h0m0-4h0m0 17h0m0-23h0m1 13h0m0 11h0m0-22h0m0 1h0m0-8h0m0 15h0m1 18h0m0-4h0m0-22h0m0-1h0m0-9h0m0 35h0m0-23h0m1-10h0m0 20h0m0-22h0m0 33h0m1-12h0m0-18h0m0 28h0m0-31h0m0 2h0m0 22h0m0 2h0m0-3h0m1-26h0m0 30h0m0-13h0m0 12h0m0-18h0m0-4h0m0-4h0m0 23h0m0 12h0m0-37h0m1 20h0m0-6h0m0 4h0m0-17h0m0 11h0m0 16h0m1-6h0m0 10h0m0-22h0m0 14h0m0-21h0m0-2h0m0 1h0m0 26h0m0-25h0m0-1h0m0 23h0m0-11h0m1 24h0m0-10h0m0-25h0m0 20h0m0-6h0m0-13h0m0 13h0m0-2h0m0 1h0m0 18h0m1-19h0m0-1h0m0 5h0m0-7h0m0 24h0m1-29h0m0 1h0m0-3h0m0 8h0m0 3h0m0-2h0m0 23h0m1-14h0m0-14h0m0-6h0m0 10h0m0-8h0m0 12h0m0 5h0m0 6h0m1-28h0m0 34h0m0-21h0m0 15h0m0 11h0m0-5h0m0-3h0m0-10h0m0 8h0m0-8h0m0-21h0m1 8h0m0 25h0m0-20h0m0-14h0m0 3h0m0 26h0m0-27h0m0 9h0m0 27h0m0-21h0m0-12h0m0-4h0m0 6h0m1 4h0m0 17h0m0-14h0m0-12h0m0 4h0m0 5h0m0 21h0m0-10h0m0 11h0m1-26h0m0 17h0m0 14h0m0-16h0m0 14h0m0-27h0m0 30h0m1-20h0m0-13h0m0 19h0m0-6h0m0-4h0m0 17h0m0 5h0m0-30h0m0 10h0m1 5h0m0-7h0m0 9h0m0-22h0m0 7h0m1-8h0m0 11h0m0 2h0m0-1h0m0 4h0m0 1h0m1 2h0m0 20h0m0-26h0m0 7h0m0-12h0m0 9h0m0 15h0m0-29h0m1 23h0m0 4h0m0-27h0m0-3h0m1 3h0m0 9h0m0 8h0m0 7h0m0-15h0m0 6h0m0-7h0m1-6h0m0 1h0m1 16h0m0 1h0m0-5h0m0-9h0m0 21h0m1-11h0m0 15h0m0-21h0m0-7h0m0 11h0m0-1h0m0 11h0m0-27h0m1 2h0m0 31h0m0-8h0m0-20h0m0 30h0m0-12h0m0-2h0m0 2h0m0-8h0m1 9h0m0-3h0m0-17h0m0-5h0m0 24h0m1-17h0m0 31h0m0-35h0m0 11h0m0-4h0m0-3h0m0 14h0m0 16h0m0-4h0m0-9h0m0 9h0m1-32h0m0 36h0m0-36h0m0 19h0m0-15h0m0 15h0m0 7h0m0-25h0m0 6h0m0 28h0m0 2h0m1-13h0m0 12h0m0-33h0m0 31h0m0-24h0m0 23h0m1-27h0m0 12h0m0 20h0m0-3h0m0-35h0m0 27h0m1 10h0m0-21h0m0 14h0m0-13h0m0-3h0m0-3h0m0-6h0m0-1h0m0-2h0m0 27h0m1 1h0m0 8h0m0-37h0m0 19h0m0-21h0m0 10h0m0 15h0m0 10h0m0-21h0m0 25h0m1-21h0m0-6h0m0 14h0m0-20h0m0 10h0m0-10h0m0 21h0m0 3h0m0-12h0m0 2h0m0-14h0m0 23h0m0-23h0m0 26h0m1 6h0m0-33h0m0 6h0m0 14h0m0 1h0m0-13h0m1 19h0m0-17h0m0 2h0m0 22h0m0-21h0m0-4h0m0 16h0m0-20h0m0 16h0m0-13h0m1-9h0m0 7h0m0 4h0m0 24h0m0-10h0m0-16h0m1 23h0m0-30h0m0 1h0m0 4h0m0 21h0m0-29h0m0 33h0m0-28h0m0-2h0m0 6h0m0 3h0m1 11h0m0-14h0m0-6h0m0 33h0m0-19h0m0 3h0m0 16h0m0-26h0m0-11h0m0 9h0m1 17h0m0-3h0m0-19h0m0 31h0m0-34h0m0 24h0m0-2h0m1 8h0m0 1h0m0-6h0m0-5h0m0-13h0m0 26h0m0-8h0m1-5h0m0-10h0m0 3h0m0-14h0m0 36h0m1-8h0m0 6h0m0-16h0m0 11h0m0-20h0m0 4h0m0 16h0m0 7h0m1-38h0m0 9h0m0 4h0m0 3h0m0-9h0m0-4h0m0 34h0m0-21h0m0-9h0m0-1h0m0 27h0m1-28h0m0-5h0m1 16h0m0 12h0m0-12h0m0 16h0m0-13h0m0-10h0m0 22h0m1-22h0m0 15h0m0-21h0m0 11h0m0 17h0m0-22h0m0 18h0m0-7h0m1-7h0m0 2h0m0-2h0m0-13h0m0 16h0m0-3h0m0 24h0m0-35h0m0 23h0m1-8h0m0 22h0m0-24h0m0 15h0m0 5h0m1-23h0m0-6h0m0-2h0m0 12h0m0 24h0m1-29h0m0 3h0m0-1h0m0 22h0m0-19h0m1 0h0m0 3h0m0 1h0m0 15h0m1-1h0m0-14h0m0-7h0m0 14h0m0-20h0m0 26h0m0-18h0m1 4h0m0 4h0m0-10h0m0 26h0m1-33h0m0 15h0m0 11h0m0-14h0m1 3h0m0-14h0m0 9h0m0-14h0m0 35h0m0-11h0m0-16h0m0 29h0m0-37h0m1 1h0m0 5h0m0 24h0m0 7h0m0-34h0m0-2h0m0 4h0m0-7h0m0 38h0m1-36h0m0 16h0m0-18h0m1 26h0m0-4h0m0 6h0m0 7h0m0-5h0m1-22h0m0 15h0m0-7h0m0 9h0m0-8h0m0 10h0m0-5h0m1 16h0m0-20h0m0-9h0m0-4h0m0 28h0m0-24h0m1-9h0m0 21h0m0-3h0m0 11h0m0 9h0m0-5h0m1-24h0m0-6h0m0 15h0m0-14h0m0 23h0m0-5h0m0 13h0m0-22h0m1 11h0m0-18h0m0 13h0m0-13h0m1 14h0m0 13h0m1-10h0m0-3h0m0-9h0m0 15h0m0-19h0m0 19h0m0-21h0m0-3h0m0 25h0m1-18h0m0 14h0m0-6h0m0-3h0m0 16h0m0-21h0m1-9h0m0 19h0m0 4h0m0-3h0m0 9h0m0-4h0m0 4h0m0-29h0m1 30h0m0-14h0m0-3h0m0-12h0m0 8h0m0 24h0m0-18h0m0 5h0m1 5h0m0 8h0m0 3h0m0-30h0m1-3h0m0 31h0m0-17h0m0-12h0m0 25h0m0-2h0m0-18h0m0 16h0m1 13h0m0-23h0m0 15h0m0-17h0m0 4h0m0-14h0m1 26h0m0-8h0m0 8h0m0-22h0m0 27h0m0-29h0m0 11h0m1-15h0m0 26h0m0-17h0m0-5h0m0 19h0m0-1h0m1-23h0m0 26h0m0 3h0m0 9h0m0-28h0m0 12h0m0-6h0m1-1h0m0-7h0m0 17h0m0-18h0m0 30h0m0-8h0m0-8h0m0-17h0m0-4h0m1 0h0m0 10h0m0 8h0m0-14h0m0 1h0m0 7h0m0-4h0m0 14h0m1-20h0m0 24h0m0-17h0m0 23h0m0-1h0m0-8h0m1-12h0m0 27h0m0-34h0m0 4h0m1 2h0m0 7h0m0 17h0m0-17h0m0 3h0m0 13h0m1-9h0m0 5h0m0-5h0m0-4h0m0 6h0m1-15h0m0-4h0m0 21h0m0-17h0m0 28h0m0-30h0m2 29h0m0-13h0m0-6h0m0-9h0m0 18h0m0 3h0m0-21h0m0 1h0m1-10h0m0 8h0m0 14h0m1-16h0m0 25h0m1-11h0m0-1h0m0-15h0m1-5h0m0 19h0m0-1h0m0 2h0m0-17h0m0 32h0m0-12h0m1 4h0m0 4h0m0-10h0m0 1h0m0-16h0m1 31h0m0-35h0m0 23h0m1-18h0m0-3h0m0 7h0m0-7h0m1 3h0m0-3h0m0 18h0m0-5h0m0 4h0m0-7h0m0 6h0m0-10h0m1 8h0m0 15h0m0-11h0m0-6h0m0-8h0m0 20h0m1-17h0m0 24h0m0-14h0m1-10h0m0 22h0m1-17h0m0-1h0m0-5h0m0-6h0m0 33h0m1 1h0m0-32h0m1 15h0m0-21h0m0 35h0m0-23h0m0 3h0m0 5h0m0 10h0m1-20h0m0 16h0m0 4h0m0-6h0m0-11h0m0-10h0m1 18h0m0-20h0m0 13h0m0-6h0m0 23h0m0-28h0m0 13h0m1 13h0m0 9h0m1-31h0m0 20h0m1 12h0m0-13h0m1 1h0m0 5h0m0-32h0m0-1h0m0 38h0m0-8h0m0-13h0m0 1h0m2-1h0m0 15h0m1-12h0m0 11h0m0-6h0m0-3h0m1-18h0m1 29h0m0-17h0m0 18h0m1-29h0m0 1h0m0 5h0m0 12h0m0-9h0m0 3h0m1-5h0m0 25h0m1-29h0m0-7h0m0 30h0m0-2h0m1-1h0m0 6h0m0-28h0m1 25h0m0-4h0m1-11h0m0 17h0m0-4h0m1 1h0m0-25h0m1 19h0m0 2h0m0 9h0m0-20h0m1 11h0m0-1h0m0 9h0m1-28h0m0 33h0m0-34h0m0 30h0m1-20h0m0-9h0m0 26h0m0-29h0m0 23h0m1 9h0m0-31h0m0 15h0m0 15h0m0-16h0m0 12h0m1-12h0m0-8h0m0 26h0m0-29h0m1 32h0m0-24h0m0-14h0m0 10h0m0 8h0m1-13h0m0 13h0m1 10h0m0-10h0m1 17h0m0-30h0m0 25h0m0-7h0m0-13h0m1 24h0m1-35h0m0 23h0m0-5h0m1 6h0m1 8h0m0-31h0m0 4h0m1 5h0m0 26h0m1-18h0m1-7h0m0-2h0m1-6h0m0 11h0m1 13h0m1-12h0m0-8h0m0 24h0m1-28h0m0 33h0m1-3h0m0-18h0m0-5h0m0-1h0m0 8h0m1-8h0m1 14h0m0 15h0m0-24h0m1 14h0m0-9h0m1-6h0m0 15h0m0-22h0m1 11h0m2 13h0m1-6h0m0 13h0m1-34h0m0 3h0m0 17h0m1 1h0m0-12h0m1 12h0m0-12h0m0 4h0m1 4h0m0-5h0m0 9h0m1 0h0m1-1h0m1 1h0m1 13h0m0-3h0m1-3h0m1-30h0m0 26h0m2 8h0m1-21h0m0 21h0m2-10h0m0-22h0m2 25h0m0 1h0m1-28h0m0 7h0m0 13h0m0-3h0m1 14h0m0 8h0m1-14h0m2-11h0m0 8h0m1 6h0m1-11h0m1-8h0m0 3h0m2 15h0m0-14h0m1 9h0m2 4h0m1-26h0m0 21h0m0 3h0m1-21h0m0-2h0m0-1h0m0 5h0m1 21h0m1-10h0m0-14h0m1 18h0m0 7h0m0-21h0m0-2h0m1 1h0m0-6h0m3 9h0m0 13h0m1-11h0m0-3h0m1 5h0m0 13h0m0-9h0m1 1h0m1 11h0m0-27h0m0 21h0m1-22h0m1 14h0m1 17h0m0-13h0m2-14h0m0 5h0m2 10h0m2-15h0m1 11h0m2-2h0m3 17h0m0-13h0m5-9h0m1 21h0m0-2h0m0-27h0m1 31h0m1 7h0m0-25h0m3 13h0m0 1h0m0-16h0m2-3h0m1-1h0m0 29h0m1 0h0m1-29h0m0 13h0m1 3h0m3 5h0m0 10h0m0-29h0m1 4h0m0 5h0m1 3h0m2-11h0m2 3h0m0-13h0m4 11h0m1-5h0m4 9h0m1 5h0m2 2h0m0-4h0m0-13h0m1 5h0m0 26h0m1 1h0m3-27h0m0-5h0m0 23h0m1-15h0m1 23h0m2-8h0m1-6h0m1-5h0m2-11h0m0 2h0m3 26h0m6-24h0m0-1h0m1 13h0m7-9h0m2-2h0m0 1h0m1 14h0m1 9h0m1-7h0m1-23h0m0 21h0m1-7h0m10 2h0m3-19h0m2 28h0m0-29h0m5 3h0m5-2h0m4 6h0m3-8h0m19 2h0m7 31h0m0-32h0m1 20h0m0-14h0m8-8h0m9 31h0m3-30h0m3 10h0m1 16h0m14 12h0m1-6h0m3-32h0m6 37h0m5-31h0m6 12h0m14 7h0m-597 34h0m22-11h0m16 0h0m6 9h0m1 5h0m7-21h0m1 1h0m4 15h0m0-1h0m1-4h0m2 2h0m1-10h0m1 4h0m2-5h0m4 11h0m1-14h0m1 10h0m0 7h0m2 0h0m1-18h0m0 36h0m1-14h0m0-7h0m2 8h0m0-3h0m2 15h0m0-12h0m1-13h0m0-1h0m3 24h0m0-28h0m1 7h0m0-9h0m2 24h0m0-17h0m0 8h0m2-7h0m0-8h0m0 10h0m0-8h0m0 5h0m1-6h0m0-3h0m0 33h0m1-26h0m1 11h0m1-13h0m0 21h0m3-26h0m0 10h0m2-4h0m0-5h0m1-1h0m0 10h0m0 24h0m0-35h0m2 12h0m1 10h0m0-15h0m1 6h0m0 5h0m0 4h0m0-16h0m0 8h0m0-5h0m0 2h0m1-3h0m0 1h0m0-8h0m1 12h0m0-5h0m0 4h0m0-2h0m1 0h0m0-10h0m0 18h0m1-16h0m1 18h0m1 12h0m0-26h0m0 5h0m0-3h0m1 10h0m0-5h0m1 17h0m0-23h0m1 8h0m0 21h0m0-18h0m0-1h0m0-9h0m0-7h0m1 1h0m0 31h0m0-21h0m0 24h0m0-19h0m1-12h0m1 14h0m0 10h0m0-28h0m0 16h0m1-6h0m2-3h0m0-6h0m0 35h0m1-16h0m0 7h0m1 5h0m0-29h0m0 11h0m0 3h0m1-5h0m0 8h0m0-4h0m0-14h0m1 9h0m0 15h0m0-20h0m0-4h0m1 9h0m1 3h0m0-2h0m1-1h0m0 4h0m0-14h0m0 12h0m0-4h0m1-6h0m0-4h0m0 3h0m1 0h0m0 28h0m0-29h0m1 0h0m0 34h0m0-36h0m1 19h0m1 13h0m1-14h0m0-1h0m0 6h0m1-15h0m0 26h0m1-29h0m0 10h0m0-13h0m0 16h0m0 6h0m1-3h0m0 1h0m0-5h0m0 1h0m0 5h0m0-20h0m1 5h0m0-1h0m0 23h0m0-17h0m0 21h0m1-5h0m0-26h0m0-1h0m0 7h0m1 6h0m0-9h0m1 14h0m0-18h0m0 4h0m0 8h0m1-11h0m0-1h0m0 26h0m1-27h0m0 24h0m1-11h0m0 13h0m0 4h0m1-30h0m0 23h0m1-12h0m0 2h0m1-3h0m1-1h0m0 9h0m1-17h0m0 1h0m1 8h0m0-8h0m0 29h0m1-21h0m2-5h0m0 11h0m0-10h0m0 22h0m1-1h0m0-11h0m0 4h0m0-12h0m0-7h0m0 16h0m1 20h0m1-37h0m0 7h0m1 2h0m1 17h0m2-18h0m0 9h0m0-15h0m0 8h0m0-3h0m0-6h0m0 24h0m1-18h0m0-5h0m1 32h0m1-25h0m0 12h0m0-16h0m0 8h0m1 15h0m0-14h0m0 3h0m0 3h0m0 7h0m0-13h0m0 1h0m0 5h0m1 0h0m2-18h0m0-2h0m1 5h0m0-4h0m1 7h0m0 5h0m0 3h0m1-17h0m1 15h0m0 2h0m0 8h0m0-16h0m1 0h0m0 7h0m1-2h0m0 1h0m1-4h0m1-8h0m0 22h0m0-3h0m1-9h0m1-13h0m0 29h0m1-14h0m0-15h0m0 20h0m0 2h0m0-3h0m1 16h0m0-33h0m0 7h0m1 10h0m0-15h0m0 10h0m0-3h0m1 4h0m1-7h0m0-2h0m1-4h0m0-1h0m2 15h0m0 7h0m0 6h0m0-17h0m1 7h0m1-7h0m0-6h0m0-5h0m1 11h0m0-8h0m0 11h0m1-5h0m0-7h0m0 31h0m0-12h0m0 13h0m2-20h0m0-13h0m0 10h0m1 10h0m0-8h0m0 14h0m1-25h0m0 7h0m0-3h0m1 7h0m1-1h0m1-2h0m0 5h0m0 17h0m0-27h0m1 31h0m0-17h0m1-13h0m0 8h0m0-8h0m0-1h0m0 12h0m1-5h0m0 5h0m0-6h0m0-10h0m0 4h0m1-1h0m0 2h0m0 12h0m0 7h0m1-24h0m0 11h0m1 9h0m0-14h0m0 13h0m0-16h0m0 13h0m1 4h0m0-3h0m0-14h0m2 12h0m0-8h0m0 7h0m2 10h0m0-13h0m0-9h0m1-3h0m0 1h0m1-2h0m0 1h0m0 30h0m0-26h0m1 10h0m0-3h0m1 6h0m0-11h0m0-5h0m1 30h0m0-27h0m0 19h0m0-15h0m1 30h0m0-37h0m0 5h0m1-6h0m0-1h0m0 29h0m1-13h0m0-14h0m0 1h0m0-1h0m0 20h0m1 4h0m0-17h0m1-5h0m0 2h0m0-2h0m0-1h0m0 26h0m0-16h0m0-4h0m0 5h0m1-6h0m1 7h0m2-10h0m0 2h0m0 2h0m2-7h0m0 1h0m1-2h0m1 10h0m0 7h0m0-8h0m0 23h0m0-26h0m0-3h0m1 17h0m0-1h0m0 15h0m1-32h0m2 8h0m1 4h0m1-12h0m1 9h0m0 3h0m0-14h0m1 2h0m0 14h0m0-1h0m0 22h0m1-26h0m0-6h0m1 5h0m0 7h0m0-12h0m1 30h0m0-25h0m0 5h0m0-12h0m1-1h0m0 14h0m1-10h0m0 11h0m2-4h0m1-2h0m0-3h0m1-6h0m2 3h0m1 15h0m0-14h0m1-6h0m0 14h0m0-9h0m1 6h0m1-10h0m0 8h0m0 3h0m0 27h0m0-34h0m0 2h0m2 15h0m0-17h0m1 18h0m0-20h0m1 22h0m0-9h0m0-13h0m1 13h0m0-1h0m3-12h0m0 34h0m1-31h0m0 10h0m1-2h0m3-11h0m1-1h0m0 24h0m0-26h0m1 13h0m0-3h0m0 6h0m1-1h0m0 9h0m0-21h0m1 11h0m0-5h0m1-6h0m0 25h0m1-24h0m0 6h0m1-5h0m0-2h0m1 8h0m0-10h0m1 13h0m0-10h0m1 8h0m1-12h0m0 3h0m1 18h0m1 4h0m0-9h0m0 3h0m3 6h0m0-18h0m2 18h0m0 8h0m1-33h0m1 0h0m2 28h0m1-14h0m0-13h0m1 20h0m0-15h0m0-5h0m1 19h0m0-13h0m1-5h0m2 7h0m0 3h0m0-9h0m2 30h0m0-31h0m1 6h0m0 14h0m0-20h0m1 7h0m0 12h0m0-10h0m1 5h0m0-14h0m1 8h0m1-5h0m1 10h0m0-10h0m1-1h0m2 0h0m0-2h0m1 4h0m1-5h0m0 10h0m0-9h0m2 0h0m0 12h0m1-9h0m1 5h0m0-7h0m0 23h0m1-10h0m0-11h0m1 30h0m5-29h0m0-7h0m1 1h0m0 7h0m2-2h0m4 21h0m4-14h0m4-12h0m1 30h0m0-24h0m1 8h0m0-2h0m1-9h0m0 4h0m2-3h0m4-3h0m0 9h0m1-8h0m5 18h0m2 6h0m1-19h0m0 3h0m0 21h0m2-24h0m1-6h0m0 4h0m2-5h0m1 18h0m5-5h0m10 2h0m1-4h0m3 14h0m2-20h0m3-6h0m5 8h0m8 14h0m5-18h0m1 9h0m9 10h0m0-9h0m4-7h0m6 3h0m4-6h0m6 5h0m15-3h0m22-4h0m4-1h0m29-1h0m14 0h0m3 18h0m65-13h0m-484 42h0m1-6h0m6 8h0m0-6h0m12 19h0m5-18h0m12 9h0m1-9h0m5 16h0m6-19h0m4 17h0m5-17h0m9 2h0m7-1h0m77 2h0m21-4h0" stroke="#000" stroke-width="6" stroke-linecap="round" fill="none"/><polygon points="150.1,1104.2 172.1,1102.9 194.2,1101.5 216.2,1100.2 238.2,1098.8 260.3,1097.5 282.3,1096.1 304.3,1094.7 326.3,1093.2 348.4,1091.6 370.4,1090.0 392.4,1088.3 414.5,1086.5 436.5,1084.6 458.5,1082.7 480.6,1080.8 502.6,1078.9 524.6,1077.0 546.7,1075.0 568.7,1073.1 590.7,1071.1 612.8,1069.2 634.8,1067.2 656.8,1065.3 678.8,1063.3 700.9,1061.3 722.9,1059.4 744.9,1057.4 767.0,1055.4 789.0,1053.5 789.0,1066.7 767.0,1068.0 744.9,1069.4 722.9,1070.7 700.9,1072.0 678.8,1073.3 656.8,1074.6 634.8,1075.9 612.8,1077.2 590.7,1078.5 568.7,1079.9 546.7,1081.2 524.6,1082.5 502.6,1083.9 480.6,1085.2 458.5,1086.6 436.5,1088.0 414.5,1089.4 392.4,1090.9 370.4,1092.4 348.4,1094.1 326.3,1095.8 304.3,1097.6 282.3,1099.5 260.3,1101.3 238.2,1103.3 216.2,1105.2 194.2,1107.1 172.1,1109.1 150.1,1111.0" fill="#999" fill-opacity="0.4"/><line x1="150.1" y1="1107.6" x2="789" y2="1060.1" stroke="#3366FF" stroke-width="3.7"/><path d="M102.4 691V1264H859.6" fill="none" stroke="#000" stroke-width="1.6"/><path d="M193.3 1264v4.5M344.78 1264v4.5M496.26 1264v4.5M647.74 1264v4.5M799.22 1264v4.5M102.4 1264.0h-4.5M102.4 1120.75h-4.5M102.4 977.5h-4.5M102.4 834.25h-4.5M102.4 691.0h-4.5" stroke="#000" stroke-width="1.3"/><text x="195.5" y="1294.9" font-size="25" text-anchor="middle" font-weight="normal" >10</text><text x="350.6" y="1294.9" font-size="25" text-anchor="middle" font-weight="normal" >15</text><text x="504.6" y="1294.9" font-size="25" text-anchor="middle" font-weight="normal" >20</text><text x="659" y="1294.9" font-size="25" text-anchor="middle" font-weight="normal" >25</text><text x="813.7" y="1294.9" font-size="25" text-anchor="middle" font-weight="normal" >30</text><text x="93.6" y="1269.5" font-size="25" text-anchor="end" font-weight="normal" >0</text><text x="93.6" y="1126.2" font-size="25" text-anchor="end" font-weight="normal" >25</text><text x="93.6" y="983.0" font-size="25" text-anchor="end" font-weight="normal" >50</text><text x="93.6" y="839.8" font-size="25" text-anchor="end" font-weight="normal" >75</text><text x="95.6" y="696.5" font-size="25" text-anchor="end" font-weight="normal" >100</text><text x="11.9" y="687.7" font-size="31" text-anchor="start" font-weight="bold" >C</text><text x="502.6" y="1321" font-size="29.3" text-anchor="middle" font-weight="normal" >baPWV, m/s</text><text transform="translate(43.4 976.9) rotate(-90)" font-size="22.8" text-anchor="middle">LAVI, mL/m²</text><text x="524.4" y="757.6" font-size="34.8"><tspan font-style="italic">r</tspan> = 0.122, <tspan font-style="italic">P</tspan> &lt; 0.001</text><path d="M1227 777h0m36 0h0m22-3h0m38 3h0m269 0h0m-454 29h0m1-20h0m10 13h0m18-8h0m14 15h0m16 3h0m1-3h0m16-3h0m13 17h0m7 0h0m1-19h0m32 19h0m16-14h0m3-15h0m3 15h0m2 0h0m33 4h0m1-4h0m0-15h0m28 25h0m4 4h0m-237 29h0m10-15h0m22 13h0m8 2h0m23 0h0m13 7h0m6-22h0m4 7h0m3 8h0m7-15h0m19 10h0m33-10h0m5 16h0m18-1h0m7-16h0m44 16h0m33-5h0m74-11h0m188 1h0m-552 43h0m2-8h0m13 23h0m4-29h0m1 6h0m9-6h0m11 0h0m19 33h0m3-19h0m4 2h0m7-9h0m5 27h0m0-5h0m1-15h0m5 15h0m0-15h0m10 15h0m1-15h0m0 15h0m5 5h0m2-5h0m2-15h0m4 22h0m0-7h0m1-6h0m3 6h0m4-9h0m0 10h0m1-17h0m7 16h0m7-12h0m2 12h0m2 0h0m1 0h0m7-18h0m5 18h0m3-5h0m1-10h0m2-14h0m3 20h0m1-3h0m0 12h0m3-29h0m0 11h0m3 3h0m1 15h0m1 4h0m5-4h0m1 0h0m4 0h0m2-29h0m2 14h0m6 0h0m2 0h0m3 15h0m1-5h0m0 5h0m2 0h0m1 0h0m3-10h0m1-5h0m3-14h0m3 34h0m4-20h0m5 12h0m6 3h0m3 7h0m4-22h0m5 16h0m6-1h0m3 5h0m0-25h0m17 27h0m1-30h0m0-3h0m4 26h0m4-29h0m11 14h0m1-14h0m0 19h0m3-19h0m6 31h0m1-31h0m1 29h0m3-15h0m3-14h0m3 17h0m2 12h0m0 1h0m6-1h0m0-29h0m5 29h0m3 0h0m5 1h0m8-1h0m1-2h0m4-14h0m2 16h0m23 0h0m7 0h0m3-30h0m7 30h0m13-13h0m23 13h0m15 0h0m23 7h0m39-2h0m1-17h0m36 19h0m5-36h0m1 27h0m5-13h0m1-1h0m7 11h0m-546 43h0m0 5h0m34-13h0m1-16h0m1 33h0m10-4h0m13-15h0m0 15h0m1-16h0m1 18h0m0-8h0m2-7h0m3 1h0m0-3h0m2 0h0m0 15h0m2 0h0m2-15h0m3 0h0m0 10h0m1-10h0m1 15h0m2 2h0m2-2h0m3 0h0m0 4h0m1-4h0m5-23h0m0 4h0m4-10h0m1 14h0m1 15h0m1-29h0m0 29h0m1-33h0m0 24h0m2 0h0m2-6h0m1 2h0m3 7h0m0 6h0m1 0h0m2-18h0m1-17h0m1 19h0m2 1h0m1-14h0m1 26h0m1-7h0m0-3h0m1 13h0m2-15h0m1-14h0m0 29h0m1-29h0m1 0h0m1 14h0m0 17h0m0-4h0m1 2h0m1 0h0m1 0h0m2 4h0m0-10h0m1 1h0m2-10h0m0-7h0m0-1h0m0-6h0m1 33h0m0-20h0m1 13h0m0 3h0m1-29h0m1 14h0m1 0h0m3 0h0m1-14h0m1 0h0m0 29h0m2-15h0m0-14h0m0 29h0m1 1h0m0-1h0m2 0h0m1-5h0m0 9h0m1-4h0m1 0h0m1-29h0m1 14h0m1 0h0m1 15h0m0-2h0m2-1h0m2-12h0m1 0h0m0 15h0m1 0h0m1-29h0m0 29h0m0-29h0m2 14h0m1 15h0m0 2h0m0-17h0m1-14h0m1 29h0m1-10h0m0 10h0m0-15h0m0 15h0m0 1h0m2 3h0m0-17h0m2-2h0m0 12h0m1-19h0m0-7h0m0 21h0m1-7h0m1-11h0m0 24h0m0 2h0m1 0h0m0-23h0m1 8h0m0 15h0m0 4h0m0-33h0m2 11h0m0 3h0m2-3h0m0-10h0m0 22h0m1-6h0m0-21h0m0 33h0m1-29h0m1-3h0m0 32h0m0-29h0m1 0h0m0 29h0m2 4h0m1-4h0m0-15h0m0 15h0m2-15h0m1-4h0m0 1h0m1 18h0m0-29h0m1 29h0m2 1h0m0-3h0m1-8h0m0-5h0m1-3h0m1 5h0m1 13h0m0-25h0m1 25h0m0-13h0m1 11h0m0-11h0m3 13h0m0-29h0m0 31h0m1-2h0m1 2h0m0-4h0m0-6h0m1 8h0m0-35h0m1 35h0m1-8h0m0-10h0m0 3h0m0 15h0m1 2h0m0-2h0m1-32h0m0 26h0m0-9h0m0-10h0m3 7h0m1 8h0m0-5h0m1 6h0m0 9h0m0-15h0m0-14h0m1 33h0m0-36h0m0 33h0m1-19h0m0 18h0m1-29h0m1 14h0m0 10h0m0 5h0m1-5h0m0 5h0m1-20h0m0 20h0m0-29h0m2-3h0m0 17h0m0 19h0m0-2h0m0-17h0m1 0h0m1 15h0m1-15h0m3 15h0m2-29h0m0 17h0m1-17h0m0 14h0m1-8h0m0 23h0m0-15h0m1 15h0m1 1h0m0-1h0m0-15h0m1 15h0m1-15h0m2-14h0m0 29h0m0-8h0m1-20h0m0 13h0m1 0h0m0 15h0m0-3h0m0-26h0m1 14h0m0 15h0m0-29h0m1 23h0m0-9h0m0 17h0m2-22h0m1 20h0m1-5h0m0-10h0m0-3h0m1-17h0m1 23h0m0-13h0m2 25h0m1-15h0m0-14h0m2 21h0m0 8h0m0-29h0m1 21h0m0-21h0m0 31h0m1-32h0m0 2h0m0 23h0m1-25h0m2 30h0m1 0h0m2 0h0m1-29h0m1 29h0m0-13h0m2-15h0m0-1h0m0 29h0m1-15h0m1-3h0m2 3h0m1-8h0m0 11h0m0-3h0m0 19h0m1-4h0m1 0h0m1-15h0m0 9h0m1 6h0m0-15h0m1-14h0m1 13h0m0 11h0m0-3h0m2 8h0m1 0h0m1 0h0m0-15h0m1-14h0m1 29h0m0-15h0m1 15h0m1 0h0m2-6h0m1 6h0m1-15h0m1 6h0m1 9h0m0-15h0m1-20h0m1 6h0m0 29h0m2 1h0m0-4h0m1-22h0m0 26h0m1-16h0m1 0h0m2 9h0m1 6h0m0-29h0m2 0h0m3 29h0m2-6h0m1 7h0m0-1h0m1-29h0m1 29h0m3-30h0m1 30h0m2-15h0m1 10h0m1-8h0m1 13h0m2-15h0m1 15h0m1 0h0m1 4h0m2-4h0m2 0h0m0-15h0m1-13h0m1-2h0m1 15h0m2 15h0m2-15h0m0-14h0m1 29h0m1 0h0m1 0h0m1 1h0m1-17h0m1-13h0m0 29h0m2-15h0m0-3h0m2 3h0m0 15h0m3 2h0m0-2h0m2-12h0m1 12h0m2-29h0m1 14h0m1-11h0m1 23h0m1 1h0m1-27h0m0 29h0m0-12h0m2-6h0m1 18h0m1-15h0m1-14h0m1 23h0m3-12h0m0-7h0m1-1h0m6 8h0m0 15h0m2-12h0m3 15h0m1-20h0m1 20h0m1-20h0m1 17h0m0 4h0m1-16h0m1 15h0m1 0h0m1-15h0m0 12h0m4-26h0m2 14h0m5 0h0m3 5h0m0-22h0m6 17h0m0-14h0m3 29h0m0-12h0m4 12h0m2-15h0m1 0h0m7-4h0m5 4h0m5-14h0m1 29h0m2 0h0m3-18h0m7 8h0m1 10h0m2 0h0m2-5h0m5-28h0m7 33h0m3 0h0m3 0h0m3-29h0m0 29h0m1 0h0m6 0h0m5 0h0m7-32h0m4 12h0m3 20h0m0-15h0m16 15h0m2-12h0m8-6h0m0 18h0m12 0h0m5-15h0m9-14h0m16 21h0m1-7h0m2 15h0m5-15h0m2 0h0m10 15h0m8-15h0m3 0h0m1 6h0m-619 52h0m2-6h0m10 6h0m10 0h0m10 1h0m3-1h0m5 0h0m5-15h0m4 15h0m2 0h0m2-2h0m2-17h0m0 19h0m3 0h0m0-5h0m0-10h0m1 15h0m0-29h0m2 20h0m0 9h0m3 0h0m1 0h0m3-29h0m0 29h0m1-8h0m0-7h0m1-10h0m0-4h0m1 29h0m0-12h0m1-17h0m1 27h0m2 2h0m0-15h0m0 15h0m1-15h0m0 15h0m1-15h0m1-10h0m0-4h0m1 14h0m0 15h0m0-3h0m2 3h0m0-12h0m0 12h0m1-18h0m0 18h0m1-29h0m0 9h0m0 20h0m0-3h0m1 3h0m0-3h0m0-32h0m1 20h0m0-13h0m0 13h0m0 15h0m1-6h0m0 6h0m0-10h0m0-5h0m0 12h0m1 3h0m0-28h0m0 13h0m1 13h0m0 2h0m0-18h0m0 3h0m0 15h0m0-29h0m1 29h0m0-3h0m1-12h0m1 15h0m1-3h0m0 3h0m1 0h0m0-30h0m0 1h0m0 10h0m1 19h0m1-15h0m0 5h0m1 7h0m0-12h0m1-14h0m0 3h0m1 26h0m0-29h0m1 0h0m0 24h0m0-24h0m0-1h0m0 30h0m0-15h0m0-14h0m0 13h0m1 1h0m0 15h0m0-15h0m0 7h0m0 8h0m1-15h0m0-14h0m0 14h0m0 15h0m0-5h0m1 5h0m0-10h0m0 10h0m1-12h0m1 2h0m0-19h0m0 29h0m1 0h0m0-15h0m0 2h0m1 7h0m0-23h0m0 29h0m0-2h0m0-13h0m0-5h0m1-13h0m0 34h0m1-27h0m0-6h0m0 32h0m0-19h0m0 7h0m0 12h0m0-18h0m0 18h0m1-5h0m0 5h0m0-22h0m1 12h0m0 10h0m0-22h0m1 7h0m0 12h0m1-12h0m0 6h0m0 9h0m1 0h0m0-15h0m0 15h0m0-16h0m0-19h0m1 35h0m1 0h0m0-6h0m0-13h0m1 7h0m0 12h0m0-13h0m0 7h0m0-14h0m1 20h0m0-30h0m0 30h0m0-9h0m0 10h0m1-7h0m0 3h0m0 3h0m0-15h0m1 15h0m0-15h0m0 5h0m1 4h0m0-23h0m1 30h0m0-11h0m0-12h0m0 20h0m0-18h0m0 20h0m1-15h0m0-14h0m1 29h0m0-18h0m0 12h0m0-16h0m0 17h0m0-18h0m0 14h0m0 9h0m1 0h0m0-15h0m0 7h0m0 2h0m0 1h0m1 5h0m0-26h0m0 26h0m0-15h0m1 13h0m0 2h0m0-38h0m0 15h0m1 5h0m0 18h0m0-18h0m0 3h0m1 0h0m0 15h0m0-19h0m0-1h0m0 5h0m0-8h0m1-6h0m0 4h0m0 10h0m0 2h0m0-2h0m1 15h0m0-15h0m1 0h0m0 3h0m0-24h0m0 7h0m0 14h0m0 6h0m0-20h0m1 14h0m0 15h0m1-15h0m0 15h0m1-10h0m0 10h0m0-15h0m0 15h0m0-6h0m1 6h0m0-25h0m0 7h0m0 18h0m0-15h0m0 15h0m1-13h0m0-16h0m0 29h0m1-35h0m0 20h0m0 15h0m0-18h0m0 3h0m1 5h0m0-10h0m0 5h0m0 15h0m0-29h0m1 19h0m0-5h0m0 15h0m0-15h0m0 15h0m0-9h0m0 9h0m0-29h0m1 0h0m0 14h0m0-18h0m0 18h0m0 13h0m0 3h0m0-16h0m0 5h0m1-5h0m0 15h0m1-15h0m0-14h0m0 29h0m1 0h0m0-15h0m0-15h0m0 30h0m0-20h0m0 20h0m1-6h0m0-9h0m0 15h0m1-5h0m0-30h0m0 30h0m0-24h0m0 16h0m0-23h0m1-2h0m0 38h0m0-15h0m1-14h0m0 14h0m0 15h0m0-22h0m0 7h0m1-14h0m0-1h0m0-2h0m0 32h0m0-15h0m0 15h0m0 1h0m0-39h0m0 38h0m0-3h0m0-26h0m0 24h0m1 5h0m0-33h0m0 33h0m0-6h0m0 7h0m0-16h0m1 0h0m0-14h0m0 29h0m0-23h0m0-10h0m1 18h0m0-10h0m0 10h0m0 3h0m0-6h0m0 3h0m1 0h0m0 16h0m0-1h0m0-29h0m0 29h0m0-6h0m0-22h0m0 28h0m0-15h0m1 0h0m1-13h0m0 22h0m0-10h0m1 16h0m0-6h0m0-20h0m1 26h0m0-16h0m0 16h0m0-15h0m0 7h0m0-21h0m0-7h0m0 28h0m1 8h0m0-33h0m0 30h0m0-13h0m0 16h0m1-9h0m0 1h0m0 8h0m0-5h0m1-14h0m0 19h0m0-29h0m0 24h0m0 5h0m0-19h0m0 19h0m0-19h0m0 19h0m0-29h0m0-1h0m0 30h0m0-3h0m0 3h0m0-5h0m1 5h0m0-15h0m0 5h0m0-5h0m0-7h0m0 22h0m1 0h0m0-15h0m0 15h0m0 1h0m0-1h0m0-12h0m0-6h0m0 18h0m1-3h0m0-12h0m0 16h0m0-16h0m0-14h0m0 24h0m1 5h0m0-29h0m0 14h0m0-14h0m0 20h0m0-16h0m0-11h0m0 34h0m0-28h0m1 1h0m0 20h0m0-7h0m0 16h0m1-33h0m0 18h0m0-14h0m0 27h0m0 2h0m1-33h0m0 7h0m0 10h0m0 16h0m0-15h0m0 2h0m0 13h0m0-3h0m1-2h0m0-24h0m0 29h0m0-6h0m0 6h0m0-25h0m0-4h0m1 14h0m0-21h0m0 36h0m0-29h0m1 26h0m0-6h0m0 9h0m0-15h0m1-1h0m0-2h0m0 3h0m0-8h0m0 3h0m0 1h0m0 11h0m0-21h0m0 29h0m0-29h0m0 24h0m1 5h0m0-5h0m0 5h0m0 1h0m0-16h0m0 9h0m0-4h0m0 11h0m1-16h0m0 15h0m0-15h0m0 15h0m1-15h0m0 15h0m0-15h0m0-14h0m0 14h0m0-10h0m0 10h0m0 15h0m1-16h0m0 1h0m0-7h0m0-7h0m0 30h0m0-30h0m1 24h0m0-11h0m0 14h0m0-4h0m0-23h0m0 19h0m1 10h0m0 1h0m0-16h0m0 15h0m0 1h0m0-30h0m1 6h0m0 8h0m0-18h0m0 20h0m0-2h0m0 15h0m1-30h0m0 15h0m0-8h0m0 24h0m0-1h0m0-38h0m0 20h0m0 2h0m1 16h0m0-10h0m0 1h0m0-9h0m0 18h0m0-28h0m0 28h0m0-15h0m0-14h0m0 29h0m0-29h0m0 24h0m1 5h0m0-16h0m0 16h0m0-10h0m0 1h0m0-6h0m0 15h0m0-20h0m0 5h0m0 9h0m1-23h0m0 29h0m0-2h0m1-20h0m0 3h0m0 17h0m0 2h0m0-15h0m1 15h0m0-12h0m0 12h0m0-15h0m1 15h0m0-15h0m0-14h0m0 29h0m0-8h0m0-7h0m0-14h0m1 0h0m0 26h0m0-12h0m0-14h0m0 29h0m0-29h0m0 29h0m0-6h0m1 7h0m0-7h0m0 6h0m0-32h0m1 32h0m0-15h0m0 15h0m0-10h0m0 10h0m0-13h0m0 5h0m1-5h0m0-17h0m0 31h0m0-30h0m0 16h0m0-16h0m0 29h0m1 0h0m0-29h0m0 29h0m0-16h0m0 1h0m0 15h0m1-2h0m0 2h0m0-8h0m0 8h0m0-15h0m0-1h0m0-13h0m0 14h0m0 15h0m0-29h0m1 14h0m0-14h0m0 29h0m0-25h0m0 25h0m0-26h0m1-3h0m0 14h0m0 15h0m0-15h0m0-14h0m0 11h0m0 18h0m0-29h0m1 0h0m0 27h0m0 2h0m0-29h0m0 14h0m0 9h0m0 6h0m0-15h0m0-23h0m1 33h0m0 6h0m0-16h0m0-14h0m0 24h0m0-10h0m1-5h0m0 5h0m0-23h0m0 38h0m0-3h0m0-3h0m0 6h0m0-29h0m1-7h0m0 36h0m0-15h0m0-7h0m0 22h0m1 0h0m0-28h0m0 9h0m0 19h0m0-29h0m0 20h0m0 9h0m0-16h0m0-13h0m0 10h0m0-7h0m0 11h0m0 15h0m1-6h0m0-17h0m0 8h0m0 7h0m0-8h0m0-13h0m1 29h0m1-29h0m0 29h0m0-25h0m0-4h0m0 30h0m0-1h0m0-15h0m1 0h0m0-14h0m0 29h0m0-15h0m0-4h0m0-10h0m0 14h0m0 15h0m0-29h0m0 29h0m0-8h0m1-7h0m0-8h0m0 8h0m0 15h0m0-12h0m0 10h0m1-13h0m0 6h0m0-21h0m0 30h0m0-30h0m0 15h0m0 12h0m0-5h0m0-21h0m0 29h0m1-29h0m0 30h0m0-23h0m0 7h0m0 15h0m0-26h0m0 11h0m1-14h0m0 14h0m0-3h0m0 18h0m0-15h0m0 15h0m0-5h0m1 5h0m0-29h0m0 29h0m0-25h0m0 16h0m1 9h0m0-26h0m0 11h0m0-18h0m0 18h0m1 2h0m0 1h0m0 3h0m0 9h0m0-15h0m0-14h0m0 29h0m1 0h0m0 1h0m0-13h0m0 3h0m0 9h0m0-5h0m0 5h0m1-18h0m0 16h0m0-24h0m0 26h0m0-15h0m0-7h0m0-7h0m0 6h0m0 4h0m1-1h0m0 17h0m0-12h0m0 15h0m0-15h0m1 7h0m0-7h0m0 15h0m0-29h0m0 29h0m0-29h0m0 24h0m0 5h0m0-15h0m1 3h0m0-3h0m0-17h0m0 17h0m0 15h0m0-13h0m0 13h0m1-29h0m0 29h0m0-19h0m0 19h0m0-12h0m0 12h0m1-15h0m0 10h0m0 5h0m0 1h0m0-7h0m0 6h0m0-15h0m1-14h0m0 14h0m0 15h0m0-8h0m0-7h0m0 15h0m1-29h0m1-9h0m0 23h0m0 15h0m0-12h0m0-26h0m0 9h0m1 29h0m0-29h0m0 29h0m0-26h0m0 26h0m1-15h0m0 15h0m0-12h0m0 12h0m0-26h0m1 21h0m0-15h0m0-13h0m0 10h0m0-6h0m0 7h0m0 10h0m0-7h0m0 4h0m1 0h0m0 15h0m0-15h0m0 6h0m0 9h0m1-32h0m0 17h0m0 2h0m0 13h0m1 0h0m0-29h0m0 29h0m0-9h0m0-29h0m0 22h0m0-13h0m1-6h0m0 20h0m0-10h0m0 10h0m0-21h0m0 21h0m0 3h0m0-17h0m0 14h0m0-14h0m0 3h0m0 23h0m0-5h0m1 8h0m0-15h0m0 15h0m0-15h0m0 12h0m0-26h0m1 14h0m0-18h0m0 30h0m0-12h0m0-18h0m0 4h0m1 0h0m0 9h0m0 7h0m0-2h0m1 2h0m0 13h0m0-13h0m0 13h0m0-29h0m0 6h0m1 23h0m0-29h0m0 16h0m0-16h0m0 29h0m0-9h0m1 9h0m0-29h0m0 7h0m0 22h0m1-29h0m0 29h0m0-29h0m0 29h0m0-12h0m1-26h0m0 9h0m0-7h0m0 13h0m0 8h0m0 15h0m0-29h0m0 14h0m1 0h0m0 15h0m0-15h0m0-14h0m0-6h0m1 35h0m0-15h0m0 10h0m0-24h0m1 14h0m0-14h0m0 14h0m0-11h0m0 26h0m0-15h0m1-14h0m0 9h0m0 11h0m0-6h0m1 0h0m0 15h0m0-15h0m0 15h0m0-5h0m0 5h0m0-15h0m0 5h0m1-3h0m0-2h0m0-14h0m0 3h0m0-3h0m0 4h0m0 10h0m1 0h0m0-17h0m0 32h0m0-15h0m0-1h0m0 11h0m0-24h0m1 14h0m0 15h0m0-15h0m0-15h0m0-6h0m1 36h0m0-28h0m0 20h0m1 8h0m0-26h0m0 26h0m0-28h0m0 22h0m0-9h0m0 15h0m1 0h0m0-19h0m0-10h0m0 13h0m0 1h0m0 15h0m0-15h0m1 15h0m0-29h0m0 21h0m0-21h0m0 14h0m0-14h0m0 6h0m0-6h0m0 29h0m1-29h0m0 14h0m0-13h0m0 3h0m0 25h0m0-13h0m0-13h0m0 26h0m1-15h0m0-14h0m1 29h0m0-29h0m0 14h0m0 16h0m0-16h0m0-15h0m0 15h0m0-14h0m0 17h0m0 6h0m0 6h0m0 1h0m0-17h0m1 1h0m0 7h0m0 6h0m0-27h0m0 29h0m1-20h0m0-9h0m0 29h0m0-29h0m1 29h0m0-15h0m0 15h0m0-29h0m0 29h0m1-15h0m0-4h0m0-10h0m1 14h0m0-14h0m0 29h0m1-15h0m0 16h0m0-26h0m0-4h0m0 9h0m0 8h0m0-17h0m0 27h0m0-13h0m0 15h0m0-15h0m0 15h0m0-9h0m0 9h0m0-15h0m0 15h0m1-3h0m0-20h0m0 23h0m0-15h0m0-14h0m0 14h0m0 15h0m0-33h0m0 33h0m0-29h0m0 29h0m0-15h0m0-14h0m0 29h0m1-15h0m0 6h0m0-17h0m0-3h0m1 0h0m0 27h0m0-16h0m1 3h0m0-14h0m0 19h0m0 7h0m0 1h0m1-13h0m0-14h0m0 14h0m0 13h0m0-36h0m0 9h0m1 14h0m0-7h0m0 7h0m0 15h0m0-6h0m0-16h0m0-14h0m1 27h0m0 6h0m0-26h0m0 21h0m0 8h0m0-5h0m1-8h0m0-17h0m0 1h0m0 23h0m0 6h0m1 0h0m0-29h0m0 27h0m0-6h0m0-7h0m0 10h0m0-24h0m0 29h0m0-29h0m0-4h0m1 4h0m0 9h0m0 17h0m0-6h0m0-7h0m0 1h0m0-14h0m0 14h0m1-1h0m0 1h0m0-13h0m0 26h0m0-13h0m0 15h0m1 0h0m0-15h0m0 10h0m0 5h0m0-26h0m0 26h0m0-36h0m0 14h0m1 3h0m0 4h0m0 3h0m0-3h0m1 0h0m0-14h0m0 29h0m1-12h0m0 13h0m0-30h0m0 14h0m0-14h0m0 23h0m0 6h0m0-15h0m1 12h0m0-16h0m0 19h0m0-15h0m0-14h0m0 17h0m0 12h0m0-15h0m0 16h0m0-1h0m1 0h0m0-15h0m0-13h0m0-1h0m0-4h0m1 34h0m1-1h0m0-32h0m0 3h0m0 20h0m0-14h0m0 18h0m0-24h0m0 29h0m0-29h0m0 14h0m1-4h0m0 4h0m0-14h0m0 16h0m0 13h0m0 1h0m0-16h0m0 15h0m1-20h0m0 14h0m0 6h0m0-2h0m1-7h0m0 9h0m0-29h0m1 27h0m0-6h0m1 8h0m0-25h0m0-4h0m0 14h0m0-3h0m0 18h0m1 0h0m0-15h0m0 15h0m0-29h0m0 24h0m0-10h0m0 16h0m1-16h0m0 13h0m0-13h0m0-15h0m0 15h0m1 0h0m0-10h0m0-10h0m0 20h0m0-23h0m0 33h0m0 3h0m1-27h0m0 29h0m0-13h0m0-16h0m0 17h0m1-17h0m0 29h0m0-8h0m0 8h0m0-15h0m0-10h0m0 23h0m1-33h0m0 20h0m0 15h0m0-9h0m0-19h0m0 13h0m0 9h0m0-2h0m1 5h0m1-12h0m0 3h0m0 7h0m0 5h0m0-15h0m1 16h0m0-16h0m0 15h0m0-22h0m1-7h0m0 27h0m0-33h0m0 35h0m0-10h0m1-2h0m1 12h0m0-6h0m0-23h0m0 29h0m0-3h0m0-2h0m0 5h0m0-15h0m0 2h0m0 14h0m1-1h0m1 0h0m0-2h0m1-13h0m0 15h0m0-6h0m0-19h0m0 25h0m0-15h0m1-14h0m0 14h0m0 10h0m1 5h0m0-15h0m0 15h0m1 0h0m0-29h0m0 14h0m1-8h0m0 8h0m0 15h0m0-15h0m0-7h0m0 22h0m0-13h0m0 7h0m1 6h0m0-13h0m0 13h0m1-9h0m0-27h0m0 36h0m0-19h0m0 1h0m1-11h0m1 20h0m0-29h0m0 23h0m0 15h0m1 0h0m0-26h0m0 11h0m0 15h0m1-28h0m0 28h0m1-15h0m0 10h0m0-23h0m1 28h0m0 1h0m0-16h0m1-7h0m0-7h0m0 19h0m0-19h0m0 23h0m0-23h0m0 29h0m1-12h0m0 7h0m1 5h0m0-32h0m0 29h0m1 3h0m0-15h0m0-11h0m0-3h0m1-1h0m0 30h0m0-13h0m0-13h0m0 1h0m1 10h0m0-7h0m0 7h0m1-1h0m0 16h0m0-15h0m0 15h0m0-29h0m1 14h0m0-23h0m0 9h0m0 30h0m0-1h0m0-29h0m1 29h0m0 1h0m0-3h0m1 2h0m0-15h0m1-1h0m0-13h0m0 4h0m0-1h0m0 6h0m0 5h0m1-23h0m1 38h0m0-15h0m0 15h0m0-2h0m0-27h0m0 23h0m1-27h0m0 28h0m0-24h0m1 14h0m0 10h0m0 5h0m1-28h0m0-1h0m0 30h0m0-16h0m1 15h0m0-29h0m0 29h0m0-30h0m1 1h0m1 6h0m0 23h0m1 0h0m0-15h0m1 0h0m0-17h0m0 32h0m1-15h0m0-5h0m0 5h0m0-8h0m1 8h0m1-17h0m0 17h0m0-14h0m0 19h0m1-19h0m0 14h0m0 15h0m0-29h0m1 14h0m1 10h0m0-5h0m1 10h0m0-33h0m0 4h0m1 27h0m1-13h0m0 10h0m1 5h0m0-8h0m0-15h0m1 23h0m0-18h0m0 6h0m2-3h0m1-11h0m0 26h0m0-8h0m0-21h0m0 20h0m1-4h0m0-16h0m1 29h0m0-5h0m0 5h0m1-29h0m0 19h0m0-19h0m0 27h0m0-17h0m1 17h0m0-27h0m1 7h0m0-7h0m1 0h0m0 11h0m1-11h0m0 29h0m0-29h0m1 26h0m0-26h0m0 24h0m0-14h0m1-17h0m0 36h0m1-15h0m1 0h0m1 15h0m0-12h0m1-3h0m0-14h0m0 14h0m1 0h0m0-10h0m1 10h0m0 15h0m1-29h0m0 13h0m0 1h0m1 0h0m1 0h0m0-8h0m0 8h0m1-14h0m0 24h0m1 5h0m0-29h0m0 29h0m0-29h0m1 14h0m0 7h0m0-21h0m0 26h0m0 3h0m1-22h0m1-7h0m0 14h0m0 15h0m1-29h0m1-6h0m0 13h0m0-7h0m1-1h0m1 30h0m1 0h0m1-15h0m1-13h0m1 13h0m0 6h0m0-6h0m1 0h0m0-14h0m0 26h0m0-26h0m1 23h0m0-7h0m0 8h0m2-10h0m0 15h0m0-29h0m1-9h0m0 23h0m0 3h0m1 12h0m1-2h0m0-6h0m1 8h0m0-3h0m2-12h0m0 3h0m0-17h0m1 14h0m0-14h0m1 14h0m1 7h0m0 8h0m0-15h0m0 6h0m1 9h0m0-29h0m0 10h0m1-10h0m0 13h0m0 16h0m1-20h0m2 11h0m0-23h0m0 20h0m0 3h0m3-20h0m1-1h0m0 15h0m1-10h0m1 20h0m0 5h0m0-9h0m1-20h0m0 4h0m1-4h0m0 4h0m1-7h0m2 23h0m0-20h0m0 4h0m0 25h0m1-29h0m1 30h0m0-30h0m1 29h0m0-29h0m1 0h0m1 14h0m0-14h0m0 14h0m1 15h0m0-15h0m1 9h0m1-23h0m1 0h0m1 29h0m1-29h0m1 0h0m1 6h0m0 8h0m0-14h0m0 29h0m1-13h0m1 13h0m1-18h0m1 10h0m0-21h0m0 13h0m0-13h0m2 21h0m0 8h0m0-30h0m0 28h0m1-13h0m1 7h0m0 8h0m0-15h0m0-1h0m1 16h0m2 0h0m0-29h0m1 0h0m1 0h0m0 19h0m0 10h0m4-35h0m1 27h0m1-7h0m0-14h0m0 29h0m0-10h0m1 10h0m0-29h0m1 14h0m1-14h0m1 29h0m1 0h0m1 0h0m1-15h0m2 15h0m5-10h0m0-19h0m2-9h0m0 23h0m0 12h0m2-26h0m1 3h0m0-12h0m2 26h0m0 12h0m5-15h0m1 13h0m2-4h0m4-23h0m2 4h0m2 10h0m1-1h0m1-13h0m0 20h0m0-20h0m2-9h0m4 9h0m2-1h0m4 12h0m1-20h0m2 38h0m1-10h0m4 8h0m3 2h0m1-15h0m1 15h0m4-29h0m2 0h0m1 16h0m2-16h0m2 0h0m7 17h0m0-17h0m13-6h0m5 35h0m5-15h0m7-4h0m2 4h0m4 9h0m0 6h0m0-30h0m0-3h0m1 5h0m6 28h0m1-30h0m6 15h0m6 0h0m4 16h0m2-1h0m2 0h0m3-35h0m5 6h0m4 14h0m8 5h0m5-19h0m13 0h0m10 0h0m-640 39h0m20 31h0m1-13h0m6 5h0m0-5h0m3 5h0m3-5h0m1-14h0m4 27h0m3-13h0m2-8h0m1-12h0m0 20h0m2-4h0m1 3h0m1-6h0m1 0h0m2-7h0m0-7h0m0 21h0m1 0h0m1 0h0m1-8h0m1 20h0m0-12h0m2-14h0m0 16h0m1-16h0m1 14h0m1 0h0m1 0h0m1 5h0m0-5h0m0-14h0m0 13h0m0 1h0m4-5h0m0 5h0m1 0h0m1 3h0m0-20h0m1-6h0m1 9h0m0 14h0m0-21h0m1 21h0m2-14h0m1 14h0m0-14h0m1 0h0m0 14h0m0-14h0m1 19h0m0-19h0m0 14h0m3-11h0m0 8h0m1-14h0m0 17h0m1-23h0m0 36h0m0-16h0m1-15h0m0-3h0m0 21h0m0 7h0m0-31h0m1 10h0m0 14h0m0-14h0m1 14h0m0-20h0m0 20h0m1-16h0m0 16h0m1 0h0m0-14h0m1 9h0m0 5h0m0-14h0m0 21h0m0-21h0m1 14h0m0-1h0m0 1h0m0-1h0m0 10h0m0-30h0m0 7h0m1 14h0m0-26h0m1 39h0m1-11h0m0-2h0m0-14h0m0 14h0m1-10h0m1-3h0m0-1h0m0 13h0m1 1h0m0 10h0m0-8h0m0 1h0m1-3h0m0-10h0m0 5h0m0 11h0m0 7h0m0-13h0m1 0h0m0 5h0m0-31h0m0 12h0m0 9h0m0 5h0m0-21h0m2 16h0m0-9h0m0 27h0m0-13h0m1 3h0m0-20h0m0 17h0m0-18h0m0 18h0m0-18h0m0 4h0m1 16h0m0-2h0m0 7h0m0-7h0m0 3h0m0-3h0m0-14h0m1 0h0m0 14h0m0-10h0m0-8h0m0-3h0m0 34h0m0-13h0m0 6h0m0-20h0m1 3h0m0 11h0m0-14h0m1 0h0m0 14h0m0-5h0m0 5h0m0 10h0m0-24h0m0-7h0m1 21h0m0-14h0m0-4h0m0 13h0m0 5h0m0 12h0m1-7h0m0 4h0m0-9h0m0-14h0m0 1h0m0 13h0m0-14h0m1 13h0m0-3h0m0 4h0m0-20h0m0 3h0m0 1h0m0 12h0m0-10h0m1 13h0m0 1h0m0 13h0m0-3h0m0-3h0m0 5h0m1-12h0m0-14h0m0 24h0m0-10h0m0 2h0m1-2h0m0-8h0m0 1h0m0 7h0m1 3h0m0-17h0m0 20h0m0-16h0m0-3h0m0 13h0m0-14h0m1 17h0m0-3h0m0 5h0m0-19h0m1 0h0m0 14h0m0-8h0m0-6h0m1 14h0m0-7h0m0 10h0m0-7h0m0 6h0m1-20h0m0 15h0m0-4h0m0 7h0m0 12h0m0-10h0m0-16h0m0-3h0m1 26h0m0-23h0m0 23h0m0-23h0m1-12h0m0 26h0m0-13h0m0-1h0m0 19h0m0-15h0m0 10h0m0-14h0m0 23h0m1-23h0m0 26h0m0-12h0m0-14h0m0 14h0m0-5h0m0 5h0m0-21h0m0 17h0m0-16h0m0 6h0m1 3h0m0-3h0m0 7h0m0 2h0m0 5h0m0-14h0m0 14h0m1 10h0m0-24h0m0 14h0m0-26h0m0 32h0m0-7h0m0 1h0m0-3h0m1-11h0m0 10h0m0 16h0m0-29h0m0 17h0m0-14h0m1-10h0m0 24h0m0-16h0m0 16h0m0 3h0m0-17h0m0 14h0m0-14h0m0 14h0m0 7h0m0-7h0m1-4h0m0-10h0m0-6h0m0 20h0m1 0h0m0 3h0m0-13h0m0 23h0m0-11h0m0-16h0m0 14h0m0-14h0m0 27h0m0-31h0m0 23h0m0 1h0m1-6h0m0-14h0m0 14h0m0-14h0m0 14h0m0-5h0m0-12h0m0 30h0m0-13h0m0 6h0m0-24h0m1 4h0m0 14h0m0-13h0m1 13h0m0-18h0m0 2h0m0 16h0m0-14h0m0 14h0m0-14h0m0 16h0m0-12h0m0-4h0m1-4h0m0 28h0m0-10h0m0-14h0m0-10h0m0 23h0m0-25h0m0 12h0m1 17h0m0-1h0m0-2h0m0 5h0m0-19h0m0 17h0m0-19h0m1 28h0m0-17h0m0-3h0m0 8h0m0 6h0m0-4h0m0 4h0m1-13h0m0-7h0m0 3h0m0 23h0m0-19h0m0 14h0m0-21h0m0 4h0m0 9h0m1 1h0m0-14h0m0 9h0m0 5h0m0-14h0m0-4h0m0 4h0m0-12h0m0 23h0m0-11h0m0 14h0m0-14h0m0 10h0m1 6h0m0 4h0m0-16h0m0-4h0m0 9h0m0 8h0m0-8h0m0 5h0m0-14h0m0 13h0m1-16h0m0 17h0m0-7h0m0 7h0m0-14h0m0 14h0m0-14h0m0 16h0m0-16h0m0 26h0m0-26h0m1 26h0m0-5h0m0-4h0m0-10h0m0 4h0m0 3h0m0-14h0m0 13h0m0-13h0m1-3h0m0 24h0m0-14h0m0 7h0m0-7h0m0 7h0m1 0h0m0 6h0m0-20h0m0 10h0m0-10h0m0 13h0m0-6h0m1 6h0m0 1h0m0-5h0m0 15h0m0-5h0m0-19h0m0 14h0m0 13h0m0-33h0m0 20h0m1-13h0m0 15h0m0 10h0m0-26h0m0-6h0m0 20h0m0 12h0m0-12h0m1-5h0m0 18h0m0-27h0m0-7h0m0 4h0m0 17h0m0-21h0m1 31h0m0-18h0m0 8h0m0-14h0m0 10h0m0-17h0m0 10h0m0-3h0m0 14h0m1 0h0m0-1h0m0 1h0m0-4h0m0 11h0m1-7h0m0-16h0m0 16h0m0 9h0m0-23h0m0 14h0m1 6h0m0-3h0m0 10h0m0-21h0m0-3h0m0 11h0m0-14h0m0 20h0m0-20h0m1 1h0m0-1h0m0 14h0m0 7h0m0-21h0m0-9h0m0 30h0m0-27h0m0 26h0m0-22h0m1 16h0m0-14h0m0 17h0m0-17h0m0-6h0m0 20h0m0-10h0m0 7h0m0-17h0m1 10h0m0 10h0m0-21h0m0 20h0m0-13h0m0 24h0m0-4h0m0-4h0m0-2h0m1-14h0m0-10h0m0 24h0m0-14h0m0-12h0m0 28h0m0-16h0m0 14h0m0-23h0m1 19h0m0 14h0m0-24h0m0 10h0m0 4h0m0 7h0m0-27h0m1 25h0m0-19h0m0 9h0m0 7h0m0-16h0m0 21h0m0-7h0m0 3h0m0-3h0m0 13h0m0-23h0m0 12h0m0-12h0m0 10h0m0 12h0m0-30h0m1 4h0m0 14h0m0-14h0m0 14h0m0-14h0m0 14h0m0-14h0m0 17h0m0-3h0m0-14h0m0 23h0m1-32h0m0 23h0m0-20h0m0 26h0m0-30h0m0 24h0m0-14h0m0-2h0m0 22h0m0-20h0m0 14h0m1 0h0m0-14h0m0 14h0m0 10h0m0-10h0m0-26h0m0 31h0m0-5h0m0 13h0m0-13h0m1-14h0m0-6h0m0 20h0m0 3h0m0 9h0m0-9h0m0-11h0m1-6h0m0 7h0m0-4h0m0-3h0m0 24h0m0-10h0m0-14h0m0 11h0m0 3h0m0 5h0m0-22h0m0 22h0m0 5h0m1-14h0m0 1h0m0 10h0m0-21h0m0-2h0m0-5h0m0 7h0m0-10h0m1 0h0m0 29h0m0-6h0m0-20h0m0 21h0m0-14h0m0 14h0m0-17h0m0 4h0m0 13h0m0 13h0m1-27h0m0 14h0m0 2h0m0-19h0m0 17h0m0 12h0m0-26h0m0 13h0m0 10h0m0-9h0m1 13h0m0-34h0m0 13h0m0-3h0m0 11h0m0 7h0m0-10h0m1-11h0m0 14h0m0-14h0m0 17h0m0-17h0m0 14h0m0-14h0m0 1h0m1-10h0m0 2h0m0 34h0m0-7h0m0-6h0m0 9h0m0-22h0m1-1h0m0 14h0m0-14h0m0 14h0m0-14h0m0 7h0m0 4h0m0-21h0m0 10h0m0 14h0m0 7h0m0-4h0m0-3h0m0 7h0m0-7h0m1-8h0m0-6h0m0-7h0m0 8h0m0-5h0m0 4h0m0-9h0m0 18h0m0 5h0m1 7h0m0 2h0m0-23h0m0-4h0m0 18h0m0-14h0m0-9h0m0 23h0m1 6h0m0-6h0m0-14h0m0 17h0m0-3h0m0 12h0m0-22h0m0 10h0m0 12h0m0-26h0m0 19h0m0-5h0m0-14h0m0 13h0m1 1h0m0-14h0m0 16h0m0-16h0m0 14h0m0-10h0m1 23h0m0-4h0m0 3h0m0-12h0m0-14h0m0 13h0m0-13h0m0 14h0m0-3h0m0 10h0m0 2h0m0-7h0m0-2h0m0 3h0m0-4h0m0 1h0m0 3h0m1 10h0m0-27h0m0 16h0m0-18h0m0 19h0m0-27h0m0 37h0m0-27h0m0 6h0m0 15h0m0-31h0m0 24h0m0 9h0m1-30h0m0 21h0m0-14h0m0 16h0m0-16h0m0 17h0m0-16h0m0 13h0m0-14h0m0 3h0m0 8h0m0-14h0m0-9h0m0 33h0m0 6h0m0-18h0m0-9h0m1 0h0m0-10h0m0 1h0m0 33h0m0-20h0m0 12h0m0-2h0m0 7h0m0-21h0m0-4h0m0 4h0m0 14h0m1-14h0m0-6h0m0 20h0m0 12h0m0-12h0m0-14h0m0 13h0m0 7h0m0-14h0m0-6h0m0 9h0m0 8h0m0 2h0m0-5h0m1-4h0m0-10h0m0-6h0m0 20h0m0-17h0m0 3h0m0 23h0m0-23h0m0 6h0m0 20h0m0-33h0m1 21h0m0 13h0m0-3h0m0-24h0m0 14h0m0-4h0m0 4h0m0-7h0m0 17h0m0-17h0m1 6h0m0-13h0m0 7h0m0-7h0m0 17h0m0-19h0m0 2h0m0 9h0m0-9h0m0-9h0m0 10h0m0 5h0m1 14h0m0-24h0m0 17h0m0 14h0m0-27h0m0 14h0m0-14h0m0 4h0m1 9h0m0-10h0m0-10h0m0 8h0m0 13h0m0-14h0m0 23h0m0-9h0m0-1h0m0 1h0m0-26h0m0 26h0m0-8h0m0 20h0m0-26h0m1 14h0m0-14h0m0 20h0m0-6h0m0 6h0m0-6h0m0-5h0m0-9h0m0 14h0m0 3h0m0 9h0m0-28h0m1 3h0m0 5h0m0 3h0m0 15h0m0-31h0m0 8h0m0-1h0m0 1h0m0 13h0m0 6h0m0-6h0m0-24h0m1 10h0m0 13h0m0 1h0m0-14h0m0 3h0m0 11h0m0 6h0m0-20h0m0 14h0m1-14h0m0 21h0m0-7h0m0-14h0m0 14h0m0-14h0m0-4h0m0-6h0m0 10h0m0 16h0m0-16h0m1-10h0m0 29h0m0-21h0m0-8h0m0 24h0m0 12h0m0-29h0m0 3h0m0 27h0m1-26h0m0 10h0m0-2h0m0-9h0m0 14h0m0-20h0m0 6h0m1 26h0m0-12h0m0-21h0m0 21h0m0 6h0m0-26h0m0 20h0m0-18h0m0 10h0m0-10h0m0 4h0m0-2h0m1 8h0m0 8h0m0 2h0m0-16h0m0-10h0m0 33h0m0-9h0m0-26h0m0 32h0m1 0h0m0 3h0m0-3h0m0-23h0m0 17h0m0 5h0m0-5h0m0 3h0m0-19h0m0 12h0m0-10h0m1 0h0m0 14h0m0-11h0m0 6h0m0 18h0m0-27h0m0 14h0m0-1h0m0-13h0m1 14h0m0 5h0m0-5h0m0-3h0m0 3h0m0-7h0m0-9h0m0 16h0m0-21h0m0 21h0m1 0h0m0-14h0m0 27h0m0-31h0m0 18h0m0 9h0m0-9h0m0-13h0m0-13h0m0 9h0m0 13h0m0-1h0m0-12h0m0-3h0m1 7h0m0 13h0m0 10h0m0-14h0m0-9h0m0-1h0m0-3h0m0-1h0m0 21h0m0-3h0m0-8h0m0 8h0m0-11h0m1-3h0m0 17h0m0-6h0m0-1h0m0-10h0m0 14h0m1 10h0m0-20h0m0 9h0m0-13h0m0 14h0m0-13h0m0 25h0m0-3h0m0-9h0m1 10h0m0-10h0m0-1h0m0-12h0m0-1h0m0 21h0m0 6h0m0-13h0m0 2h0m0-16h0m0 24h0m0-36h0m0 38h0m1-12h0m0 6h0m0-6h0m0-17h0m0 29h0m0-6h0m0-20h0m0 14h0m1-10h0m0-4h0m0 16h0m0 3h0m0-5h0m0-14h0m0 23h0m0-23h0m1 1h0m0 22h0m0-13h0m0-10h0m0-9h0m0 6h0m0-4h0m0 7h0m0 1h0m0 13h0m1-24h0m0 24h0m0-14h0m0 20h0m0-1h0m0-8h0m0-8h0m0-5h0m0 2h0m0 14h0m0-14h0m1 0h0m0 6h0m0-2h0m0-4h0m0 20h0m0-17h0m0 7h0m0-12h0m0 16h0m0-3h0m0-15h0m0 25h0m0-7h0m0 2h0m0-20h0m0 18h0m0-26h0m0 26h0m0-14h0m0 14h0m1-10h0m0-4h0m0 10h0m0-10h0m0-3h0m0 17h0m0 7h0m0-28h0m0 7h0m0 7h0m0 9h0m0-16h0m0 20h0m0-20h0m0-4h0m0 4h0m1-9h0m0 9h0m0-10h0m0 8h0m0 2h0m0-3h0m0 22h0m0-5h0m0-3h0m0-11h0m0-6h0m0 20h0m1-14h0m0 14h0m0 9h0m0-29h0m0 29h0m0-23h0m0 14h0m0-14h0m0 14h0m0-1h0m0 1h0m1-14h0m0-9h0m0 25h0m0-12h0m0 10h0m0-21h0m0 7h0m0 21h0m0-30h0m0 13h0m0 10h0m0-3h0m0 10h0m1-5h0m0-16h0m0 14h0m0 2h0m0-2h0m0-20h0m0 4h0m0 16h0m1 0h0m0 9h0m0-9h0m0-3h0m0-11h0m0 17h0m0-7h0m0 4h0m0-14h0m0 14h0m0-1h0m0-25h0m0 2h0m0 3h0m0 21h0m0-14h0m1 3h0m0-3h0m0 9h0m0 5h0m0-14h0m0 14h0m0-3h0m0-11h0m0 13h0m0-13h0m0 11h0m1-8h0m0 16h0m0-5h0m0-14h0m0 27h0m0-21h0m0-5h0m0 12h0m0 8h0m0-21h0m0-4h0m0 4h0m1 3h0m0-3h0m0 14h0m0-14h0m0 3h0m0 11h0m1 3h0m0-19h0m0 6h0m0 6h0m0-17h0m0 7h0m0 14h0m0-21h0m0 7h0m0 14h0m1 7h0m0-7h0m0-14h0m0 14h0m0-20h0m0 20h0m0-14h0m0 9h0m0-9h0m0 17h0m1-17h0m0 9h0m0 5h0m0-3h0m0-14h0m0 30h0m0-8h0m0-28h0m0 23h0m0-14h0m0 1h0m0-1h0m0 3h0m0 11h0m1-14h0m0 1h0m0 2h0m0-3h0m0 11h0m0 3h0m0-14h0m1 0h0m0-4h0m0 18h0m0 5h0m0-5h0m1-14h0m0 14h0m0-11h0m0 11h0m0-14h0m0-12h0m1 22h0m0-22h0m0 12h0m0 6h0m0 14h0m0 6h0m0-17h0m0 8h0m0-21h0m0 4h0m0-6h0m1 32h0m0-12h0m0-14h0m0 14h0m0-14h0m0 13h0m0-13h0m0 21h0m0 6h0m0-27h0m0 14h0m0-16h0m0 2h0m0 19h0m0 5h0m1-8h0m0 1h0m0-19h0m0 2h0m0 14h0m0-11h0m0-3h0m0-4h0m0-5h0m0 23h0m1 13h0m0-21h0m0 8h0m0-1h0m1 1h0m0-14h0m0 14h0m0 12h0m0-26h0m0 17h0m0-10h0m0 10h0m0 7h0m0-10h0m0-14h0m0-6h0m1 20h0m0-3h0m0 10h0m0-7h0m0 2h0m0 1h0m0 2h0m0-19h0m0 3h0m1 11h0m0-14h0m0 14h0m0 10h0m0-24h0m0 14h0m0-11h0m0 11h0m1-23h0m0 7h0m0-2h0m0 4h0m0 4h0m0 10h0m0-14h0m0 11h0m0 10h0m1-21h0m0-4h0m0 4h0m0 24h0m0-10h0m0 7h0m0-18h0m0-3h0m0 14h0m1-20h0m0 6h0m0 14h0m0-14h0m0 14h0m0 5h0m0-19h0m0 9h0m0-9h0m0 1h0m0 13h0m0-10h0m0-8h0m1 11h0m0-9h0m0 2h0m0-10h0m0 29h0m0-19h0m0 14h0m0-20h0m0 20h0m0-8h0m0-6h0m0-4h0m1 0h0m0 4h0m0 14h0m0 10h0m0-10h0m0 2h0m0-6h0m0 4h0m0-18h0m0 18h0m0-11h0m0 7h0m0 4h0m0-14h0m1-4h0m0 4h0m0 14h0m0 12h0m0-19h0m0 7h0m0-18h0m0 4h0m0 14h0m0-24h0m1 24h0m0-14h0m0-3h0m0 3h0m0 23h0m0-23h0m0 14h0m0-14h0m0 27h0m0-13h0m0-16h0m0 2h0m0 16h0m0-10h0m0-10h0m0 25h0m1 6h0m0-34h0m0 23h0m0 3h0m0-5h0m0 3h0m0-3h0m0-16h0m0 25h0m0-10h0m0 10h0m1-23h0m0-2h0m0 2h0m0 17h0m0-3h0m0-4h0m0 3h0m0 6h0m1-19h0m0-9h0m0 9h0m0-12h0m0 3h0m0 5h0m0 18h0m0-11h0m0 1h0m0-4h0m1 0h0m0 14h0m0-14h0m0 14h0m0-11h0m0 11h0m0-1h0m0-17h0m0 13h0m0-5h0m0-6h0m0 16h0m0-24h0m0 17h0m0-7h0m0 14h0m0 12h0m0-26h0m0 10h0m0 17h0m1-23h0m0 10h0m0-14h0m0-6h0m0 6h0m0 11h0m0-11h0m0 21h0m0-7h0m0-14h0m0 14h0m0-14h0m1 10h0m0-16h0m0-3h0m0 9h0m0 14h0m0-16h0m0 22h0m1 3h0m0-23h0m0 14h0m0 3h0m0-3h0m0-14h0m0 7h0m1 7h0m0-1h0m0 1h0m0-11h0m0-13h0m0 24h0m0-14h0m0 11h0m0-15h0m1 18h0m0-3h0m0-11h0m0 21h0m0-21h0m0-6h0m0 20h0m0 7h0m0-10h0m0-11h0m0 10h0m0 13h0m0-23h0m1 14h0m0-5h0m0 5h0m0 10h0m0-8h0m0-5h0m0 13h0m0-26h0m0 16h0m0 9h0m1-14h0m0-11h0m0 21h0m1-19h0m0 3h0m0 11h0m0-20h0m0 6h0m0 1h0m0 6h0m0-7h0m0 13h0m0 7h0m0-20h0m0-9h0m0 29h0m0 1h0m0-21h0m1 10h0m0-10h0m0 14h0m0-14h0m0 17h0m1-3h0m0-14h0m0 11h0m0 3h0m0-14h0m0-12h0m0 12h0m0 9h0m0-15h0m0 26h0m1-6h0m0-14h0m0-7h0m0 7h0m0 24h0m0-23h0m0 13h0m0-23h0m1 9h0m0 14h0m0-11h0m0 11h0m0-10h0m0-3h0m0 13h0m0-14h0m0 23h0m0-23h0m0 14h0m0-14h0m1 21h0m0-7h0m0-5h0m0 5h0m0-14h0m0 13h0m0-6h0m0 7h0m0-14h0m0 19h0m0-19h0m0-12h0m0 12h0m1 9h0m0 5h0m0-14h0m0 14h0m0-14h0m0 4h0m1-4h0m0-12h0m0 26h0m0-14h0m0 14h0m0-14h0m1 26h0m0-26h0m0-9h0m1 23h0m0-8h0m0-6h0m0 14h0m0 9h0m0-23h0m0 14h0m0 10h0m1-7h0m0-3h0m0-13h0m0 25h0m0-20h0m0 14h0m0-29h0m0 2h0m1 14h0m0-7h0m0-9h0m0 30h0m0-21h0m1 14h0m0-14h0m0 14h0m0-14h0m0-3h0m0 17h0m0-1h0m0 1h0m0-4h0m0 4h0m0 12h0m0-26h0m0 17h0m0-17h0m0 14h0m1-8h0m0 3h0m0-6h0m0 18h0m0-8h0m0-2h0m0-4h0m0 9h0m1-23h0m0 21h0m0 2h0m0-16h0m0 24h0m1-10h0m0-5h0m0-9h0m0 24h0m0-24h0m0-7h0m0 21h0m0-24h0m1 24h0m0-14h0m0-6h0m0 27h0m0-21h0m0 3h0m0 16h0m0-22h0m0 12h0m0 7h0m0-22h0m1 7h0m0 13h0m0-14h0m0 14h0m0-26h0m0 16h0m0-4h0m0 14h0m1-18h0m0 15h0m0-11h0m0-12h0m0 26h0m0-14h0m0 26h0m0-17h0m0 5h0m1 0h0m0-1h0m0 11h0m0-24h0m0 13h0m0-13h0m0-2h0m1 16h0m0-3h0m0-23h0m0 26h0m0-14h0m0 7h0m1 7h0m0-21h0m0-5h0m0 5h0m0 23h0m1-2h0m0-14h0m0 16h0m0-2h0m0-14h0m1 1h0m0-1h0m0 14h0m0-18h0m0 27h0m0-23h0m0 4h0m0-8h0m1 31h0m0-36h0m0 23h0m0 5h0m0-5h0m0-4h0m1-4h0m0-6h0m0-2h0m0 28h0m0-9h0m0-3h0m0-14h0m0 14h0m0-21h0m0 21h0m0-10h0m0 10h0m0-14h0m0 27h0m0-36h0m0 23h0m0-1h0m1 8h0m0-25h0m0 18h0m0-10h0m0-14h0m0 27h0m0-3h0m1-14h0m0 9h0m0 17h0m0-12h0m0-24h0m0 3h0m0 7h0m0 14h0m1-4h0m0-22h0m0 26h0m0-14h0m0 20h0m1-6h0m0-16h0m0 5h0m0 21h0m0-10h0m0-14h0m0 14h0m1 0h0m0 2h0m0-20h0m0 18h0m0-3h0m0 3h0m1-17h0m0-3h0m0 6h0m0-2h0m0 16h0m0-14h0m0 16h0m1-16h0m0 16h0m1-25h0m0 22h0m0-12h0m0 3h0m0-4h0m0 14h0m0-14h0m1 14h0m0-23h0m0 23h0m0-14h0m0 14h0m0-1h0m1-10h0m0-3h0m0 14h0m0-14h0m0 1h0m0 25h0m0-26h0m0 14h0m0 9h0m1-32h0m0 23h0m0 12h0m0-35h0m0 13h0m1-1h0m0-12h0m0 20h0m0-11h0m0 10h0m0 1h0m0-11h0m1 10h0m0-9h0m0 13h0m0-7h0m1-10h0m0 17h0m0-4h0m0 6h0m0-2h0m1-8h0m0 3h0m0-8h0m0 13h0m0-14h0m0-4h0m0 18h0m0-14h0m0 14h0m1-5h0m0-15h0m0 6h0m0 14h0m0 5h0m0-19h0m0 14h0m0 5h0m1-18h0m0-1h0m0 17h0m0-17h0m0-6h0m0 6h0m0 10h0m0 4h0m1 0h0m0 9h0m0-30h0m0 11h0m0 10h0m0-14h0m0 10h0m0-10h0m1-12h0m0 8h0m0 11h0m0-7h0m0 14h0m1-7h0m0-7h0m0-3h0m0 29h0m0-6h0m1-20h0m0-7h0m0 21h0m0 12h0m0-5h0m1-4h0m0-16h0m0 13h0m0-14h0m0-9h0m0 9h0m0 1h0m0 13h0m0-18h0m0 18h0m0-14h0m1 13h0m0-4h0m0-3h0m0 17h0m0-17h0m0 5h0m0-11h0m0 14h0m1-3h0m0 3h0m0 9h0m0-10h0m0 1h0m1-14h0m0 17h0m0-8h0m0 5h0m0-3h0m0 3h0m1 5h0m0-5h0m0-14h0m0 14h0m0-14h0m0 14h0m1-4h0m0 6h0m0-2h0m0-14h0m0 11h0m0 3h0m1 3h0m0-4h0m0 1h0m0 13h0m0-29h0m1 6h0m1 10h0m0 5h0m1-5h0m0-4h0m0-10h0m0 14h0m0 9h0m0-33h0m0 21h0m1-17h0m0-3h0m0 9h0m0 6h0m1-6h0m0 14h0m0 13h0m0-13h0m1 0h0m0-1h0m0 6h0m1-31h0m0 18h0m0 7h0m0-2h0m1 6h0m1-10h0m0-1h0m0-15h0m0 23h0m1 0h0m0-14h0m1 14h0m0-18h0m0 24h0m0-20h0m1 14h0m0 10h0m0-17h0m0 20h0m0-4h0m0-23h0m0 11h0m1-17h0m0 6h0m0 10h0m0-4h0m1-6h0m1 24h0m0-24h0m0 16h0m0-25h0m0 23h0m0 6h0m0-3h0m1-6h0m0-11h0m0 14h0m0-14h0m0-6h0m1 25h0m0 1h0m0-4h0m1-2h0m1-10h0m0-4h0m1 10h0m0 4h0m0 5h0m0 8h0m0-13h0m0 13h0m1-27h0m0 9h0m0-9h0m1 26h0m0-29h0m0-4h0m0 30h0m1-23h0m0-3h0m0 29h0m0-3h0m1-9h0m0-23h0m0 18h0m1-9h0m0-9h0m0 9h0m0 26h0m0-12h0m1-14h0m0 14h0m0 9h0m0-6h0m0-26h0m0 23h0m0-11h0m0 17h0m0-6h0m1 0h0m0-13h0m0 8h0m0-9h0m0 14h0m0-17h0m1 3h0m0 26h0m0-26h0m1 19h0m0-5h0m2 6h0m0-20h0m1-12h0m0 26h0m0-14h0m0 14h0m0-18h0m1 15h0m0 8h0m0-19h0m1 14h0m0-11h0m0 21h0m0-10h0m0-26h0m0 26h0m0-14h0m0 9h0m0-19h0m1 10h0m0 14h0m1 0h0m1 0h0m0-24h0m0 21h0m0-14h0m1 17h0m0-8h0m0 8h0m0 3h0m1-19h0m0-7h0m0 36h0m0-13h0m0-24h0m1 24h0m0-14h0m0 14h0m0-5h0m1-9h0m0 17h0m1-17h0m0 14h0m0-14h0m1 27h0m0-27h0m0-7h0m0 7h0m1 7h0m0-14h0m0 11h0m0-13h0m0 29h0m1-6h0m0-14h0m0 27h0m0-13h0m0-10h0m1-4h0m0 14h0m0 6h0m0-20h0m1 14h0m0 3h0m0-23h0m0 3h0m0 3h0m0-3h0m1-7h0m0 10h0m0 6h0m1-6h0m1 0h0m0 1h0m0 13h0m0 7h0m0 3h0m1-7h0m0-17h0m0 14h0m1 0h0m0-14h0m1 0h0m2 14h0m0-13h0m0 20h0m0-25h0m1-6h0m1 10h0m0 13h0m0 1h0m0-14h0m1 14h0m1 0h0m0-14h0m1 21h0m0-7h0m0-11h0m0 11h0m0-14h0m0 13h0m0 1h0m1 6h0m1-26h0m1 15h0m0-9h0m0 11h0m0-23h0m1 22h0m1-10h0m0 14h0m1-7h0m0-7h0m1 14h0m1-14h0m1 14h0m0-14h0m1-7h0m2 13h0m0 1h0m0-7h0m1 4h0m0 3h0m0-7h0m1 0h0m1 0h0m1 14h0m1-14h0m1 0h0m2-9h0m0 6h0m0 3h0m1-3h0m0 17h0m0-14h0m1 19h0m1-5h0m0 7h0m1-21h0m1 13h0m0-20h0m1 30h0m0-13h0m0-10h0m0 13h0m0 1h0m2 10h0m1-28h0m0 18h0m1 0h0m0-14h0m0 9h0m1 5h0m0-14h0m2 20h0m1-6h0m1 0h0m0-14h0m1 0h0m0 19h0m0-5h0m0-3h0m0-20h0m1 15h0m0-6h0m0-2h0m1 16h0m0-14h0m1 17h0m0-24h0m0 7h0m2 0h0m1 13h0m1 1h0m1 12h0m0-13h0m1-13h0m1 10h0m2 4h0m1-20h0m0 6h0m0 4h0m1-4h0m1 21h0m0-21h0m0 6h0m2-15h0m1 9h0m1 13h0m1 1h0m0-21h0m0 10h0m2 11h0m1-14h0m0-9h0m0 35h0m1-36h0m0 1h0m2 29h0m1-20h0m1 10h0m1-17h0m2 21h0m2-26h0m1 19h0m2-11h0m0 18h0m1 3h0m1-29h0m0 16h0m1-6h0m1 3h0m1-3h0m2 16h0m2 0h0m0-16h0m1 15h0m0-13h0m3 7h0m0 7h0m1-14h0m1 14h0m6-1h0m3 1h0m5 0h0m4 0h0m2-14h0m0-7h0m1-2h0m1 9h0m2 0h0m2 1h0m6 6h0m2 4h0m13 3h0m4 0h0m13-14h0m3 14h0m2-14h0m2 0h0m2-7h0m12-5h0m0 26h0m19-16h0m8 2h0m23 21h0m5-7h0m42 13h0m6-27h0m8 0h0m-641 43h0m14 0h0m5 14h0m7 0h0m0-3h0m1-11h0m1 8h0m2-8h0m0 24h0m2-10h0m3-14h0m1-10h0m3 10h0m0-14h0m4 14h0m1 14h0m5-14h0m3 7h0m1-21h0m1 0h0m1 0h0m1 1h0m0 27h0m0-8h0m1 8h0m1-28h0m0 7h0m1-3h0m1 10h0m0-14h0m1 28h0m2-14h0m1 16h0m0-2h0m0-28h0m1 28h0m1-7h0m0 7h0m1-1h0m0 1h0m0-28h0m1 5h0m0 20h0m1-11h0m0-10h0m0-4h0m1 28h0m0-28h0m1 0h0m0 14h0m1 6h0m0-20h0m1 28h0m0-28h0m0 28h0m1 0h0m0-28h0m1 0h0m1 14h0m0-3h0m0 27h0m1-10h0m0-14h0m2 0h0m0-14h0m0 37h0m0-23h0m0-14h0m1 4h0m0 10h0m0 3h0m1 5h0m0-8h0m0 14h0m0-14h0m0-6h0m1 20h0m0-11h0m0 11h0m0 10h0m1-27h0m0 1h0m0-12h0m0 1h0m0 27h0m1-14h0m0 14h0m1 0h0m0-24h0m0 13h0m0-17h0m1 17h0m0 11h0m1-28h0m0 35h0m0 2h0m0-25h0m0 2h0m1 14h0m0-27h0m0 13h0m0 14h0m1-28h0m1 28h0m0-28h0m0 28h0m0-14h0m0-10h0m1 10h0m0 14h0m0-14h0m1 14h0m0-21h0m0-3h0m0 24h0m0-14h0m1 14h0m0-14h0m1-3h0m0 3h0m0 10h0m0-24h0m0 22h0m1 8h0m0-16h0m0 17h0m0-4h0m0-27h0m0 37h0m0-9h0m0-28h0m1 28h0m0-14h0m0 11h0m0-18h0m1-7h0m0 7h0m0 8h0m0-1h0m0 17h0m0-16h0m0-1h0m1 0h0m0-4h0m0 14h0m0-10h0m0-14h0m1 0h0m0 14h0m0-7h0m0-3h0m0 27h0m0-31h0m0 22h0m0-22h0m0 14h0m0-14h0m0 28h0m1-14h0m0-14h0m0 14h0m0 8h0m0-22h0m0 28h0m1 10h0m0-31h0m1 8h0m0-15h0m0 14h0m0-14h0m1 22h0m0 6h0m0-20h0m0 20h0m0-8h0m0-6h0m0 6h0m0 11h0m0-17h0m0 14h0m0-28h0m0 28h0m1-14h0m0-14h0m0 22h0m0 12h0m0-6h0m1-21h0m0 21h0m0-7h0m0 7h0m0-28h0m0 5h0m1 9h0m0-14h0m0 28h0m0-14h0m0 14h0m0-16h0m0 16h0m0 2h0m1-16h0m0 3h0m0 11h0m0-4h0m0-19h0m0 23h0m1-28h0m0 4h0m0 24h0m0-20h0m1 6h0m0-6h0m0 6h0m0-14h0m0 28h0m0-28h0m0 28h0m0-28h0m0 1h0m0-1h0m1 0h0m0 14h0m0-14h0m0 14h0m0-14h0m0 14h0m0-12h0m0 26h0m1-11h0m0-3h0m0-14h0m0 28h0m0-14h0m0 23h0m0-23h0m0-13h0m0 27h0m0-8h0m1 8h0m0-28h0m0 1h0m0-1h0m0 28h0m0 6h0m0-3h0m0-17h0m0 14h0m0-24h0m1 13h0m0-12h0m0 20h0m0-25h0m0 14h0m0 4h0m0 10h0m0 3h0m1-20h0m0-7h0m0-4h0m0 11h0m0-9h0m0 12h0m1-13h0m0 37h0m0-38h0m0 37h0m0-37h0m0 37h0m0-37h0m0 2h0m0 12h0m0-14h0m1 14h0m0 14h0m0-14h0m0 20h0m0-34h0m0 14h0m0 14h0m0-23h0m1 6h0m0 17h0m0-21h0m0 21h0m0 10h0m0-10h0m0-28h0m0 20h0m1-6h0m0-14h0m0 14h0m0-14h0m0 14h0m0 14h0m0-28h0m0 20h0m0-6h0m1 23h0m0-9h0m0-14h0m0-4h0m0 4h0m0-14h0m0 31h0m0-31h0m1 22h0m0-8h0m0 14h0m0-23h0m0 23h0m0-28h0m0 2h0m0 12h0m0-14h0m0 5h0m1 9h0m0-14h0m0 10h0m0-10h0m0 14h0m0 14h0m0-21h0m0 7h0m0-14h0m0 15h0m0-1h0m0 17h0m0-17h0m1 0h0m0 1h0m0 20h0m0-31h0m0 10h0m0 14h0m0-27h0m1 13h0m0-14h0m0 15h0m0 13h0m0 5h0m0-5h0m0-28h0m0 28h0m1-28h0m0 37h0m0-15h0m0-22h0m0 25h0m0-11h0m0-14h0m0 28h0m0-4h0m0-20h0m0-3h0m1-1h0m0 35h0m0-15h0m0-13h0m0-7h0m0 14h0m0 7h0m0 6h0m0-25h0m0 10h0m0 18h0m0 1h0m0-3h0m1-28h0m0 28h0m0-14h0m0 7h0m0-7h0m0-9h0m0 25h0m0-16h0m0 1h0m0 13h0m0-6h0m0-22h0m0 12h0m0 16h0m1 10h0m0-38h0m0 12h0m0 16h0m0-6h0m0-8h0m0-14h0m1 0h0m0 24h0m0-7h0m0 11h0m0-14h0m0-14h0m0 1h0m0 13h0m0 4h0m0-16h0m0-2h0m1 14h0m0-10h0m0 29h0m0-5h0m0-28h0m0 14h0m0-14h0m0 14h0m0 14h0m0-14h0m0-14h0m0 28h0m0-14h0m1 19h0m0-8h0m0-25h0m0 34h0m0-34h0m0 10h0m0 1h0m0 13h0m0 4h0m0-27h0m0 30h0m0-7h0m0-10h0m0 14h0m0-14h0m0-7h0m1-3h0m0 8h0m0 16h0m0-28h0m0 31h0m0-31h0m0 24h0m0-23h0m0-1h0m0 28h0m1 6h0m0-32h0m0 12h0m0-14h0m0 28h0m0-28h0m0 15h0m0-15h0m1 0h0m0 28h0m0-7h0m0-21h0m0 33h0m0-9h0m0-19h0m0 9h0m0-4h0m0 5h0m0-1h0m0 21h0m0-35h0m0 25h0m0-24h0m1-1h0m0 28h0m0-28h0m0 1h0m0-1h0m0 28h0m0-23h0m0 23h0m1-23h0m0 13h0m0-18h0m0 28h0m0-28h0m0 28h0m1-8h0m0-20h0m0 17h0m0-3h0m0-14h0m0 14h0m0-6h0m0 20h0m0-24h0m0 10h0m0-14h0m0 33h0m0-5h0m0-8h0m1-6h0m0-4h0m0 18h0m0-28h0m0 37h0m0-6h0m0-17h0m0-14h0m0 4h0m1-4h0m0 28h0m0-28h0m0 28h0m0-23h0m0 9h0m0-2h0m0-12h0m0 5h0m0 9h0m0-14h0m1 14h0m0-13h0m0 13h0m0-7h0m0 4h0m0 3h0m0 14h0m0-14h0m0 21h0m1-21h0m0-3h0m0 6h0m0-17h0m0 8h0m0 29h0m0-9h0m0 7h0m1-7h0m0 2h0m0-30h0m0 11h0m0-9h0m0 26h0m0-14h0m0 10h0m0 4h0m0-14h0m0 19h0m1-21h0m0-11h0m0 19h0m0-6h0m0-4h0m0 8h0m0 10h0m0-21h0m1 7h0m0-4h0m0-9h0m0-1h0m0 14h0m0-4h0m0 1h0m0 26h0m0-23h0m0-14h0m0 31h0m0-17h0m0 14h0m0-28h0m0 27h0m1-27h0m0 28h0m0-28h0m0 8h0m0 6h0m0 6h0m0 14h0m1-34h0m0 7h0m0-7h0m0 14h0m0-14h0m0 14h0m0 14h0m0-28h0m0 22h0m1-20h0m0-2h0m0 14h0m0-14h0m0 8h0m0 6h0m0 23h0m0-30h0m0 21h0m0-6h0m1-22h0m0 14h0m0 1h0m0-1h0m0 19h0m0-11h0m0 6h0m0-14h0m0 14h0m0-28h0m0 7h0m0-6h0m0 27h0m0-28h0m1 0h0m0 11h0m0-11h0m0 11h0m0 3h0m0 14h0m0-8h0m0 8h0m0 7h0m0-35h0m1 0h0m0 4h0m0 24h0m0-17h0m0-11h0m0 14h0m0-12h0m0 12h0m1-14h0m0 28h0m0-3h0m0-23h0m0 12h0m0-14h0m0 28h0m0-28h0m0 17h0m0 21h0m0-31h0m0 7h0m0-9h0m0 32h0m1-9h0m0-11h0m0-7h0m0 21h0m0-23h0m0-8h0m0 14h0m0 1h0m0 2h0m0 11h0m1-27h0m0 13h0m0 4h0m0-18h0m0 28h0m0-27h0m0 17h0m0-18h0m0 28h0m0-6h0m1 9h0m0-27h0m0 10h0m0 7h0m0-21h0m1 0h0m0 14h0m0 14h0m0-14h0m0-12h0m0 2h0m0 20h0m1 4h0m0-8h0m0-6h0m0-7h0m0 15h0m0 6h0m0-7h0m0 7h0m0-1h0m0 1h0m0-28h0m0 28h0m0-28h0m0 14h0m1-12h0m0 36h0m0-10h0m0-28h0m0 14h0m0-12h0m0 12h0m0 14h0m0-6h0m0-8h0m0-2h0m0-12h0m0 12h0m0-1h0m0 9h0m0-10h0m1 0h0m0 4h0m0 11h0m0 5h0m0-30h0m0 28h0m0-14h0m0-14h0m0 2h0m0 32h0m1-20h0m0-14h0m0 1h0m0 23h0m0-7h0m0-17h0m0 2h0m0-2h0m0 2h0m0-2h0m0 21h0m1 7h0m0-28h0m0 14h0m0-14h0m0 28h0m0-28h0m0 14h0m0-14h0m0 28h0m1 0h0m0-28h0m0 28h0m0-28h0m0 12h0m0-12h0m0 21h0m0 7h0m0-14h0m0 14h0m0-21h0m0 21h0m0-20h0m0 20h0m1-14h0m0 14h0m0-17h0m0-11h0m0 14h0m0-12h0m0 26h0m0 7h0m0-28h0m0-7h0m1 10h0m0-10h0m0 14h0m0-2h0m0 16h0m0-14h0m0 14h0m0-28h0m0 14h0m1-10h0m0-2h0m0-2h0m0 12h0m0 22h0m0-34h0m0 1h0m0 6h0m0 21h0m0-28h0m0 28h0m0-21h0m0-7h0m0 14h0m0 14h0m0-14h0m1-14h0m0 28h0m0-28h0m0 17h0m0 5h0m0 6h0m0-14h0m0 1h0m0-4h0m0 17h0m0 3h0m0-3h0m0-28h0m1 22h0m0-18h0m0-3h0m0 13h0m0 16h0m0-13h0m0-3h0m0-14h0m0 28h0m0-14h0m0 14h0m0-26h0m0 8h0m1 7h0m0-15h0m0 12h0m0 20h0m0-6h0m0-28h0m0 2h0m0 26h0m0-28h0m0 2h0m0 29h0m0-31h0m0 28h0m0-23h0m0-5h0m1 4h0m0 10h0m0-7h0m0 21h0m0-14h0m0-4h0m0-2h0m0-8h0m0 34h0m0-34h0m0 17h0m1-3h0m0-6h0m0 9h0m0-3h0m0-3h0m0 3h0m0-14h0m0 4h0m1 24h0m0 3h0m0-17h0m0 19h0m0-33h0m0 4h0m0 10h0m0 14h0m0-28h0m0 14h0m0 16h0m0-16h0m0 11h0m1-25h0m0 28h0m0-28h0m0 30h0m0-25h0m0 20h0m0 3h0m0-27h0m0 7h0m0-8h0m0 11h0m0-11h0m0 8h0m0 20h0m1 0h0m0-6h0m0-8h0m0-14h0m0 28h0m0-14h0m0-10h0m0 33h0m0-9h0m0-23h0m0 7h0m0 2h0m0-4h0m0-10h0m1 10h0m0-10h0m0 14h0m0-14h0m0 28h0m0-14h0m0 3h0m0-3h0m0-3h0m0 17h0m1-28h0m0 14h0m0 4h0m0 16h0m0-30h0m0-4h0m0 14h0m0 14h0m0-28h0m0 8h0m0-8h0m0 34h0m0-4h0m0-2h0m1-28h0m0 14h0m0 14h0m0-14h0m0-14h0m0 22h0m0-12h0m0-10h0m0 25h0m0 10h0m0-35h0m0 28h0m0-28h0m0 34h0m0-4h0m0-18h0m0 2h0m1 20h0m0-20h0m0-9h0m0 23h0m0-14h0m0 14h0m0-28h0m0 22h0m0-8h0m0 21h0m0-7h0m0-14h0m0-14h0m0 12h0m1-2h0m0-5h0m0 15h0m0-6h0m0-3h0m0-4h0m0-7h0m0 21h0m0-11h0m0-3h0m0-7h0m0 30h0m0-26h0m0 10h0m1-14h0m0 7h0m0 1h0m0-8h0m0 14h0m0-14h0m0 4h0m0-4h0m0 14h0m0 10h0m1-24h0m0 14h0m0 14h0m0 3h0m0-31h0m0 14h0m0-14h0m1 17h0m0-17h0m0 14h0m0-4h0m0-8h0m0-2h0m0 37h0m0-37h0m0 33h0m0-13h0m0-9h0m0 4h0m0 6h0m0 1h0m0-8h0m1 14h0m0-28h0m0 22h0m0-22h0m0 28h0m0-7h0m0 6h0m0-23h0m0-4h0m0 25h0m0-11h0m1-14h0m0 28h0m0 6h0m0-34h0m0 33h0m0-33h0m1 21h0m0-14h0m0 21h0m0-14h0m0 7h0m0-21h0m0 14h0m0-13h0m0 16h0m0-3h0m0 14h0m0-20h0m0 27h0m1-7h0m0-11h0m0-9h0m0 6h0m0-14h0m0 14h0m0-14h0m0 7h0m0-7h0m1 37h0m0-35h0m0 13h0m0-15h0m0 14h0m0-10h0m0 29h0m0 2h0m0-7h0m0-10h0m0-4h0m0 7h0m0-21h0m1 0h0m0 28h0m0-14h0m0-13h0m0 13h0m0-3h0m0-11h0m0 28h0m0-13h0m0-1h0m0-14h0m0 7h0m0-7h0m1 14h0m0 8h0m0-22h0m0 28h0m0-14h0m0 14h0m0-26h0m0 26h0m0-14h0m0 14h0m1-18h0m0 4h0m0-10h0m0 31h0m0-1h0m0-20h0m0-14h0m1 34h0m0-26h0m0-8h0m0 21h0m0-7h0m0-14h0m0 35h0m0-35h0m0 34h0m0-20h0m0-14h0m0 8h0m0-8h0m0 14h0m1-14h0m0 28h0m0-17h0m0 3h0m0 13h0m0-15h0m0-2h0m0-10h0m0 28h0m0 6h0m0-24h0m0 25h0m0-35h0m0 28h0m1-4h0m0 4h0m0-28h0m0 10h0m0-10h0m0 14h0m0 14h0m1-21h0m0-7h0m0 28h0m0-28h0m0 28h0m0-8h0m0 8h0m0-28h0m1 28h0m0-28h0m0 12h0m0 16h0m0-23h0m0-5h0m0 4h0m0-4h0m0 28h0m0-14h0m0-3h0m1-11h0m0 30h0m0-2h0m0-14h0m0-7h0m0-5h0m0 26h0m0 3h0m1-13h0m0-4h0m0-7h0m0 15h0m0-15h0m1 21h0m0-8h0m0-3h0m0-9h0m0-7h0m0 33h0m0-6h0m0-8h0m0-5h0m0-1h0m0-14h0m1 14h0m0-10h0m0-4h0m0 14h0m0 23h0m0-26h0m0-11h0m0 38h0m1-38h0m0 8h0m0 20h0m0-18h0m0-10h0m0 17h0m0-17h0m0 28h0m0-14h0m0 14h0m0-14h0m0-4h0m0-10h0m0 24h0m0-24h0m0 14h0m0-14h0m0 33h0m1-19h0m0-14h0m0 14h0m0 14h0m0-14h0m0-14h0m0 28h0m0-14h0m0-14h0m0 17h0m0-15h0m0 26h0m1-10h0m0-4h0m0-14h0m0 28h0m0 3h0m0-23h0m0 6h0m0-14h0m0 14h0m0-14h0m0 28h0m0-14h0m0-14h0m0 12h0m1 19h0m0-6h0m0-25h0m0 21h0m0 17h0m0-30h0m0 20h0m0-28h0m1 1h0m0-1h0m0 2h0m0-2h0m0 14h0m0-14h0m0 24h0m0-10h0m0 3h0m0 20h0m0-23h0m0-10h0m0 10h0m0 4h0m0 9h0m0-13h0m0-4h0m1-10h0m0 21h0m0-21h0m0 28h0m0-20h0m0 6h0m0-12h0m0 23h0m0 12h0m1-9h0m0-28h0m0 14h0m0-14h0m0 2h0m0 26h0m0-17h0m0 17h0m0-23h0m0 6h0m0 4h0m1-1h0m0-14h0m0 28h0m0-28h0m0 14h0m0 8h0m0-8h0m0 14h0m0-14h0m0 6h0m0-13h0m0 7h0m0 14h0m0-16h0m0 2h0m0-7h0m1 8h0m0-15h0m0 28h0m0-28h0m0 14h0m0-2h0m0 10h0m0-8h0m0-14h0m0 27h0m1-13h0m0-10h0m0 10h0m0 14h0m0-26h0m0 12h0m0-7h0m1 7h0m0-9h0m0 7h0m0-4h0m0 6h0m0 16h0m0-28h0m0-2h0m0 31h0m0-27h0m0 10h0m0 14h0m0-27h0m0-1h0m0 14h0m1-14h0m0 14h0m0 14h0m0-28h0m0 8h0m0-8h0m0 14h0m1 13h0m0-27h0m0 24h0m0-10h0m0-7h0m0 10h0m1-3h0m0 14h0m0-28h0m0 17h0m0-3h0m1 0h0m0-10h0m0 16h0m0-20h0m0 14h0m0 16h0m0-30h0m0 14h0m0-9h0m0 12h0m0 11h0m1 0h0m0-28h0m0 2h0m0-2h0m0 8h0m0 6h0m0-14h0m0 14h0m0 14h0m0-28h0m0 28h0m0-14h0m0 14h0m0-28h0m0 14h0m0-14h0m0 22h0m0 5h0m1-10h0m0 16h0m0-18h0m0-1h0m0-14h0m0 21h0m0 7h0m1-1h0m0-27h0m0 14h0m0 11h0m0 13h0m0-1h0m0-9h0m0-28h0m1 30h0m0-10h0m0-20h0m0 11h0m0-11h0m0 14h0m1 6h0m0-6h0m0-14h0m0 14h0m0 1h0m0 13h0m0-28h0m0 14h0m0 14h0m0 7h0m1-35h0m0 7h0m0-7h0m0 14h0m0 14h0m0-3h0m0-25h0m0 8h0m0 19h0m0-6h0m0-7h0m0 14h0m0-28h0m0 14h0m1-14h0m0 28h0m0-14h0m0 20h0m0-6h0m0 7h0m0-21h0m0 8h0m0-22h0m0 12h0m1 2h0m0 14h0m0-28h0m0 10h0m0 18h0m0-28h0m0 7h0m0 4h0m0 9h0m0-12h0m0-8h0m0 4h0m0-4h0m0 14h0m1-14h0m0 21h0m0-7h0m0-14h0m0 14h0m1-13h0m0 13h0m0-14h0m0 10h0m0-10h0m0 4h0m0-4h0m0 28h0m0 2h0m0-30h0m1 21h0m0-21h0m0 10h0m0 10h0m0 8h0m0-13h0m0-15h0m0 14h0m0 7h0m0 7h0m1-28h0m0 14h0m0 19h0m0-25h0m0 6h0m0-14h0m0 11h0m0-11h0m1 38h0m0-24h0m0 14h0m0-27h0m0-1h0m0 14h0m0-14h0m0 28h0m0-14h0m1-14h0m0 28h0m0 7h0m0-21h0m0-14h0m0 22h0m0-22h0m0 2h0m1-2h0m0 10h0m0-10h0m0 14h0m0 10h0m0-10h0m0-10h0m0 24h0m0-28h0m1 14h0m0 14h0m0-24h0m0 24h0m0-14h0m0-14h0m1 28h0m0-18h0m0-10h0m0 7h0m0 7h0m0 13h0m0-27h0m0 17h0m0-3h0m0 11h0m0-8h0m0-3h0m0-6h0m0 25h0m1-23h0m0 18h0m0-10h0m0-16h0m0 19h0m0-21h0m0 28h0m0-26h0m0-2h0m0 14h0m1 14h0m0-14h0m0-14h0m0 28h0m0-14h0m0 14h0m0-14h0m0-14h0m0 4h0m0 24h0m0-23h0m0 26h0m1-29h0m0 26h0m0-28h0m0 24h0m0-24h0m0 14h0m0-14h0m1 0h0m0 28h0m0-28h0m0 28h0m0-28h0m0 17h0m0 3h0m0-6h0m0-14h0m0 14h0m1 0h0m0-14h0m0 24h0m0-10h0m0 14h0m0-4h0m0-24h0m1 28h0m0-28h0m0 14h0m0 21h0m0-34h0m0 27h0m1-28h0m0 33h0m0-19h0m0-13h0m1-1h0m0 4h0m0-4h0m0 28h0m0-8h0m0-20h0m0 28h0m0-23h0m0 9h0m0-14h0m0 14h0m0 14h0m1-28h0m0 28h0m0-4h0m0-24h0m0 11h0m0-11h0m0 5h0m1 5h0m0 4h0m0-3h0m0 3h0m0-2h0m1 2h0m0 1h0m0-1h0m0-12h0m0-2h0m0 28h0m0-28h0m0 5h0m0-5h0m0 14h0m0-7h0m0 23h0m1-18h0m0 2h0m0 14h0m0-14h0m0-10h0m0 29h0m1 5h0m0-10h0m0-24h0m0 10h0m0 1h0m0 5h0m0 11h0m0-11h0m1 10h0m0-16h0m0-7h0m0-7h0m0 14h0m0-10h0m0 10h0m0 8h0m0-8h0m0 13h0m0-27h0m0 33h0m1-23h0m0-8h0m0 19h0m0-21h0m0 4h0m0-3h0m0-1h0m0 27h0m0 8h0m1-35h0m0 14h0m0-14h0m0 14h0m0-9h0m0-5h0m0 14h0m0-14h0m0 22h0m0-22h0m0 5h0m0 9h0m0-4h0m0-10h0m1 4h0m0 16h0m0-10h0m0-5h0m0 23h0m0-17h0m0-11h0m0 28h0m0-14h0m1 14h0m0-28h0m0 28h0m0-14h0m0 16h0m0-30h0m0 7h0m0-5h0m0 12h0m1 14h0m0-28h0m0 14h0m0-7h0m0-6h0m0 27h0m0 3h0m1-21h0m0-2h0m0-8h0m0 14h0m0 14h0m1 0h0m0-26h0m0-2h0m0 10h0m0-2h0m0 20h0m0-18h0m0-6h0m0-4h0m0 28h0m1-28h0m0 20h0m0-6h0m0-2h0m0-12h0m1 14h0m0-14h0m0 14h0m0 17h0m0-19h0m0-2h0m0 18h0m1-10h0m0-4h0m0-13h0m0 20h0m0-21h0m0 2h0m0-2h0m1 28h0m0-28h0m0 14h0m0-14h0m0 5h0m0-5h0m1 15h0m0 13h0m0-14h0m0 13h0m1-27h0m0 14h0m0-12h0m0 12h0m0 14h0m0-7h0m0-21h0m1 0h0m1 14h0m0-9h0m0 15h0m0 4h0m0-24h0m0 2h0m0 26h0m1 0h0m0-23h0m0 30h0m0-35h0m0 12h0m0 16h0m0-28h0m1 0h0m0 34h0m0-34h0m0 5h0m0 23h0m1-28h0m0 28h0m0-28h0m0 14h0m0-12h0m0-2h0m1 5h0m0 6h0m0 3h0m0-14h0m0 7h0m0 21h0m0-4h0m0-24h0m1 2h0m0 12h0m0-3h0m0 7h0m1-4h0m0-14h0m0 14h0m0 14h0m0-14h0m0-13h0m0 7h0m1-8h0m0 14h0m0-14h0m0 14h0m0 14h0m0-28h0m0 14h0m0-13h0m0 13h0m0 14h0m1-14h0m0-9h0m0 23h0m0-14h0m0 14h0m0-14h0m0-2h0m1-12h0m0 14h0m0-14h0m0 14h0m0-14h0m0 17h0m1 11h0m0-28h0m0 14h0m0-14h0m0 18h0m0 13h0m0-31h0m1 0h0m0 10h0m0 4h0m0 4h0m0-4h0m0 23h0m0-37h0m0 14h0m1-14h0m0 34h0m0-34h0m0 25h0m0-11h0m1 0h0m0-14h0m0 33h0m0-5h0m0-14h0m0 24h0m0-30h0m1-8h0m0 28h0m0-4h0m1 9h0m0-21h0m0-12h0m0 14h0m0-14h0m1 28h0m0-11h0m0 20h0m0-37h0m0 7h0m1 13h0m0-20h0m0 14h0m0-7h0m1 17h0m0 4h0m0 9h0m0-32h0m0 2h0m1 21h0m0 9h0m0-25h0m0-12h0m1 31h0m0-3h0m0 6h0m0-34h0m0 14h0m0-14h0m0 14h0m0-10h0m0 20h0m1 4h0m0 2h0m0-30h0m0 14h0m0-7h0m0 7h0m1 14h0m0-14h0m0-14h0m0 15h0m0 13h0m1-6h0m0-22h0m0 28h0m0-7h0m1-21h0m0 38h0m0-38h0m0 1h0m0-1h0m1 30h0m0-2h0m0-4h0m0-24h0m1 0h0m0 14h0m0 7h0m0-21h0m0 20h0m0-6h0m0-13h0m0 24h0m0-11h0m0-12h0m0 6h0m0 3h0m0 17h0m0-28h0m1 0h0m0 27h0m0-23h0m0-4h0m0 2h0m0 12h0m0-13h0m1 27h0m0-28h0m0 14h0m0 4h0m0-18h0m0 8h0m1 6h0m0-4h0m1 1h0m0-11h0m0 14h0m0 14h0m1 0h0m0-21h0m0 7h0m1-14h0m0 1h0m0-1h0m0 28h0m0-28h0m1 0h0m0 28h0m1-14h0m0-7h0m0 7h0m1-2h0m0-12h0m0 28h0m1-13h0m0-1h0m0-10h0m1 24h0m0-28h0m0 14h0m0-12h0m0 12h0m0-14h0m0 28h0m0-28h0m0 12h0m1-5h0m0-7h0m0 30h0m1-16h0m0-6h0m0-8h0m0 15h0m1-1h0m0-14h0m0 31h0m0-31h0m1 4h0m0 10h0m1-14h0m0 7h0m1-7h0m0 4h0m1 24h0m0-28h0m0 28h0m0-28h0m1 0h0m1 0h0m0 14h0m0 6h0m0 1h0m0-21h0m0 2h0m0 13h0m1-7h0m1-8h0m1 12h0m0 10h0m0-22h0m1 14h0m0 1h0m0-1h0m1 14h0m1-28h0m0 27h0m0-17h0m0 18h0m0-14h0m1 19h0m0-33h0m1 28h0m0-28h0m1 0h0m0 14h0m0 14h0m2-28h0m0 28h0m0-28h0m1 0h0m0 7h0m0 3h0m0 2h0m1 15h0m0-23h0m0 29h0m0 2h0m0-18h0m2-3h0m0-14h0m0 27h0m1-7h0m0-20h0m1 1h0m1 13h0m1-14h0m1 20h0m0 5h0m0-25h0m0 28h0m2-28h0m0 14h0m1-14h0m1 0h0m1 0h0m0 28h0m0-18h0m0 11h0m0-7h0m1 0h0m1 16h0m0-12h0m0-18h0m1 31h0m0-31h0m1 37h0m1-23h0m1-14h0m1 31h0m0-23h0m1 20h0m0-28h0m0 30h0m1-16h0m0 1h0m1-15h0m0 11h0m0 3h0m1 17h0m0-17h0m1-14h0m0 5h0m1 23h0m0-28h0m1 14h0m0 14h0m0-14h0m1-14h0m0 14h0m0-14h0m2 20h0m1-6h0m0-6h0m0-8h0m1 28h0m0-1h0m0-13h0m0 14h0m0-14h0m1 10h0m0 14h0m1-38h0m1 14h0m0-4h0m0-2h0m0-4h0m0-4h0m1 0h0m2 0h0m1 14h0m0-14h0m0 27h0m0-13h0m0-14h0m1 10h0m1-10h0m1 2h0m0 26h0m2-28h0m1 1h0m1 13h0m1 20h0m0-34h0m3 28h0m0-24h0m1 10h0m0-14h0m0 14h0m0 14h0m2-24h0m0 14h0m1-4h0m1 13h0m1-23h0m0 8h0m1 16h0m0-28h0m1 28h0m3-14h0m0-14h0m1 20h0m3 15h0m1-21h0m0-7h0m0-7h0m1 28h0m1-14h0m0-14h0m1 2h0m0 26h0m1-26h0m0-2h0m3 0h0m3 21h0m1-19h0m4 5h0m2 21h0m2-14h0m1 0h0m1 7h0m1-9h0m1 2h0m0-14h0m1 0h0m0 14h0m0-7h0m0 21h0m2 0h0m0-26h0m0 12h0m2-14h0m1 14h0m1-9h0m3-5h0m0 2h0m2 19h0m2 7h0m4-10h0m1-18h0m2 0h0m1 0h0m1 0h0m2 14h0m7-14h0m2 0h0m13 0h0m1 0h0m0 24h0m3 1h0m1-5h0m10-2h0m6-18h0m2 14h0m1 14h0m12 0h0m19-14h0m2-14h0m3 4h0m6 24h0m34-14h0m0-12h0m8 26h0m22-28h0m43 4h0m-629 41h0m14-2h0m1 14h0m22 0h0m1 14h0m0-10h0m5-18h0m3 28h0m9-28h0m0 14h0m1 4h0m0 15h0m0-22h0m6 4h0m1-17h0m1 13h0m0-4h0m2 21h0m1-28h0m1 14h0m1 14h0m1-28h0m0 34h0m1-34h0m1 11h0m1 17h0m0 7h0m0-35h0m1-3h0m0 3h0m2 4h0m0-4h0m1 0h0m1 1h0m2 32h0m1-19h0m1-13h0m1 13h0m1-14h0m1-3h0m0 3h0m1 0h0m1 1h0m1-1h0m0 28h0m0-8h0m1 7h0m1-7h0m0-6h0m0-14h0m1 30h0m0-13h0m1-3h0m0-14h0m1 0h0m0-2h0m0 2h0m0 14h0m0-14h0m1 14h0m0 14h0m0-28h0m1 14h0m1 0h0m0-6h0m1-10h0m1 2h0m1 5h0m0 9h0m0-14h0m1 0h0m0 2h0m1 12h0m0 14h0m0-18h0m1-10h0m0 28h0m1-28h0m1 14h0m0 16h0m1-30h0m0 34h0m1-20h0m0 20h0m2-23h0m0 13h0m0-4h0m1 8h0m0-20h0m1 12h0m0-10h0m0-9h0m1 13h0m0-14h0m1 15h0m1-14h0m0-4h0m0 31h0m1 2h0m1 0h0m0-30h0m0 14h0m0-14h0m1 10h0m0 4h0m0-14h0m0 12h0m0 2h0m1 14h0m1-14h0m0-9h0m1-4h0m0 13h0m0 14h0m0-18h0m1 17h0m0-27h0m0 8h0m1 3h0m0 17h0m0-26h0m0 33h0m1-35h0m0-2h0m0 16h0m1-14h0m0 12h0m1-14h0m0 30h0m0-28h0m0 24h0m0-24h0m1 28h0m0-30h0m0 2h0m0 15h0m0-1h0m0 1h0m0-15h0m0 14h0m0-14h0m1 8h0m0 6h0m0-17h0m0 3h0m0 5h0m1-1h0m0-4h0m0 14h0m0-14h0m0 22h0m0-20h0m1 25h0m0-27h0m0 17h0m0-17h0m1 4h0m0 29h0m0-2h0m1-17h0m0-14h0m0 17h0m0-3h0m1-13h0m0-1h0m0 14h0m1-14h0m0 14h0m1 13h0m0-13h0m0 6h0m0-20h0m0 11h0m0-14h0m1 28h0m0-20h0m0-7h0m1 17h0m0-11h0m0-4h0m0 14h0m0-14h0m1 21h0m0-11h0m0 4h0m0-14h0m0 14h0m1 21h0m0-21h0m0-14h0m0 28h0m1-28h0m0 31h0m1-33h0m0 16h0m0 1h0m0-15h0m0 14h0m0-14h0m1 18h0m0-18h0m0 11h0m1 3h0m0 14h0m0-27h0m0-1h0m1-3h0m0 8h0m0 23h0m1 0h0m0-24h0m0-4h0m0-3h0m1 3h0m0 14h0m0 14h0m1-14h0m0 6h0m0-20h0m0 1h0m0-4h0m0 3h0m1 28h0m0-14h0m1 6h0m0-6h0m0-16h0m0 2h0m0 10h0m0 8h0m0 10h0m0-18h0m0 2h0m0-12h0m0-2h0m1 30h0m0-16h0m0-12h0m0 11h0m0-9h0m1-2h0m0 14h0m0-6h0m1 20h0m0-26h0m0 12h0m0 14h0m0-28h0m0 14h0m1 16h0m0-5h0m1 3h0m0-31h0m0 3h0m0 14h0m0-14h0m0-2h0m0 2h0m1 15h0m0-4h0m0-11h0m0 14h0m0-14h0m1 0h0m0 5h0m0-5h0m0 28h0m0-28h0m0 25h0m0-25h0m1 28h0m0-14h0m0-14h0m0 12h0m1-7h0m1 23h0m0-28h0m0 14h0m0-14h0m0 28h0m0-28h0m1 10h0m0-10h0m1 28h0m0-14h0m0-3h0m0-7h0m0 10h0m0 10h0m0-14h0m0-12h0m1 13h0m0 3h0m0-14h0m0 21h0m1-21h0m0 1h0m0 27h0m0-21h0m1-3h0m1 3h0m0-2h0m0-5h0m1 28h0m0-28h0m0 30h0m1-30h0m1 15h0m0 13h0m1-31h0m0 23h0m0 1h0m0-21h0m1 4h0m0 10h0m0-9h0m0 30h0m0-35h0m1 11h0m0 17h0m0-28h0m1 28h0m0-28h0m0 7h0m0-7h0m0 14h0m0-14h0m0 5h0m0 3h0m0 6h0m1-14h0m0 7h0m0-2h0m0 5h0m2-10h0m0 2h0m0 29h0m0-31h0m0 14h0m0-16h0m0 16h0m0-3h0m0-14h0m1 3h0m0 28h0m0-28h0m0 5h0m0 9h0m0-14h0m0 28h0m1-8h0m0-12h0m0 6h0m1-6h0m0 20h0m0-14h0m0-14h0m0 14h0m0-14h0m0-3h0m1 3h0m0 30h0m0-30h0m0 7h0m1 1h0m0 6h0m0-2h0m1 2h0m0-14h0m0 14h0m1 0h0m0-14h0m1 28h0m0-10h0m0-13h0m1 6h0m0-11h0m0-2h0m1 16h0m1-14h0m1 0h0m0 14h0m0-14h0m1 14h0m1 13h0m1-27h0m0 14h0m0-14h0m1 0h0m0 14h0m1-14h0m0 24h0m0-10h0m0-17h0m0 7h0m1 10h0m0-14h0m1 11h0m0-10h0m1-1h0m0 21h0m1-20h0m0 1h0m0 23h0m0-7h0m1 10h0m0-14h0m0-14h0m0 4h0m0 18h0m1-22h0m0 27h0m0-27h0m1 0h0m0 28h0m0-14h0m0 14h0m0-28h0m1 0h0m0 28h0m0-14h0m0 11h0m1-11h0m0-17h0m0 17h0m0-2h0m0 2h0m0-14h0m1 0h0m0 28h0m1-28h0m0 14h0m0-14h0m0 28h0m0-28h0m0 14h0m1-14h0m0 14h0m1-14h0m0 14h0m0-14h0m0-3h0m1 17h0m0-12h0m1 10h0m0-12h0m0 28h0m0-28h0m1 0h0m0 14h0m0 14h0m1-14h0m0-7h0m1 20h0m0-27h0m1 14h0m1 17h0m1-20h0m0-6h0m0-1h0m0-4h0m0 10h0m1 2h0m0-12h0m1 0h0m0 28h0m0-28h0m0 14h0m0-14h0m1 0h0m0 28h0m1-28h0m1 0h0m0 28h0m1-14h0m0-14h0m0 28h0m0-26h0m0-1h0m1 3h0m0 24h0m1-6h0m0-22h0m1-2h0m0-1h0m1 3h0m0 2h0m1-2h0m1 28h0m1 0h0m0-28h0m0 20h0m0 8h0m0-7h0m1-24h0m0 3h0m1 0h0m0 14h0m0 7h0m1-7h0m0-7h0m0-7h0m0 8h0m1 0h0m0-8h0m1 4h0m0 24h0m0-28h0m0 2h0m1 12h0m0-12h0m0 25h0m0-13h0m1 0h0m0 10h0m0 4h0m1-21h0m0 14h0m1 6h0m0-27h0m2 0h0m0 14h0m1-14h0m0 12h0m1 3h0m0-15h0m0 28h0m1-14h0m0-14h0m1 14h0m0-6h0m1-8h0m1 0h0m0 28h0m1-31h0m0 3h0m1 0h0m0 8h0m0-8h0m1 0h0m0 14h0m1 0h0m1-3h0m0-11h0m1 12h0m0-12h0m0 14h0m0-14h0m1 30h0m0-2h0m0-8h0m0-23h0m1 31h0m1-14h0m0-14h0m0 21h0m1-24h0m0 31h0m0-18h0m0 4h0m1 11h0m1 3h0m0-28h0m1 22h0m0-22h0m1 11h0m0 9h0m1-20h0m1 14h0m1 13h0m0-13h0m0 14h0m0-14h0m0-17h0m1 3h0m1 14h0m0-16h0m1 2h0m0 8h0m1-4h0m0 4h0m0 6h0m1-14h0m1 28h0m0-23h0m0 30h0m2-21h0m0-2h0m1-8h0m1-2h0m2 12h0m0-14h0m1 0h0m0 28h0m0-28h0m2 28h0m0-14h0m0 4h0m0-18h0m1 0h0m1 10h0m0-2h0m0-8h0m1 0h0m0 14h0m1 14h0m0-28h0m1 28h0m0-14h0m0-14h0m1 4h0m0-4h0m2 14h0m0-16h0m1 3h0m0 13h0m1 10h0m0-22h0m1-1h0m1 27h0m2-14h0m0-14h0m1 0h0m0 14h0m0 8h0m0-1h0m0-6h0m2-15h0m0 4h0m1 27h0m1-17h0m1-14h0m0 21h0m1-10h0m1 17h0m1-14h0m2-14h0m1 1h0m0-1h0m1 0h0m2 0h0m1 0h0m2 1h0m4-1h0m0 17h0m1-17h0m1 14h0m0-6h0m3 20h0m1-14h0m2-3h0m0 17h0m4-30h0m0 2h0m1 0h0m0 14h0m1 0h0m5 8h0m0-22h0m3 14h0m3-13h0m3 19h0m3-20h0m3 20h0m0-20h0m1 0h0m1 14h0m1-6h0m2-8h0m8 14h0m2 20h0m1-34h0m2 14h0m4-6h0m2 6h0m10-17h0m0 7h0m8-4h0m53 14h0m-396 43h0m4 0h0m14-19h0m4 5h0m19 0h0m2 28h0m2-24h0m9 10h0m1 0h0m3-14h0m1 14h0m0-14h0m2 14h0m0-14h0m3 0h0m1 15h0m1-1h0m2-14h0m1-5h0m2 33h0m0-24h0m1 13h0m3-17h0m2 0h0m1 14h0m1 8h0m0-22h0m1 14h0m1-13h0m1-1h0m0 30h0m3-2h0m2 0h0m7-14h0m0 8h0m0-8h0m0-14h0m1 10h0m0 4h0m2 0h0m0-14h0m1-2h0m0 2h0m1 20h0m1-20h0m2 0h0m0 14h0m0-9h0m1 23h0m0-30h0m0 2h0m1 0h0m1 11h0m1-11h0m1 0h0m0 14h0m1 17h0m1-31h0m2 14h0m5 0h0m1-9h0m0-5h0m1 14h0m2-12h0m1-2h0m3 28h0m6-14h0m4-7h0m1-7h0m0 32h0m1-37h0m2 5h0m1 0h0m1 0h0m1 10h0m2 18h0m0-28h0m1 0h0m1-3h0m1 3h0m1 0h0m1 28h0m1-31h0m1 3h0m1 0h0m1 32h0m1-24h0m0 2h0m4 4h0m0-14h0m0 14h0m1 0h0m2-14h0m3-3h0m0 17h0m2-14h0m2 4h0m2 24h0m3-34h0m0 6h0m10 0h0m0 14h0m2 0h0m0-10h0m1 8h0m0 2h0m2 0h0m1-14h0m1 10h0m0 14h0m4-14h0m3 20h0m1-2h0m2 0h0m1 3h0m2-31h0m2 31h0m1-33h0m0 2h0m2-6h0m6 6h0m4 28h0m0-33h0m0 5h0m2 28h0m5-14h0m7 0h0m3 0h0m3-14h0m1 0h0m9 0h0m14 0h0m4 0h0m3 32h0m11-4h0m47 0h0m11-28h0m-285 51h0m5 20h0m6-11h0m20 1h0m8-18h0m7 14h0m19-20h0m10 33h0m6-27h0m2 0h0m10 14h0m4 0h0m26 0h0m19-19h0m18 29h0m7-10h0m26-14h0m17 14h0m31 8h0m-173 13h0m35-1h0" stroke="#000" stroke-width="6.1" stroke-linecap="round" fill="none"/><polygon points="1035.1,1036.5 1058.1,1033.3 1081.0,1030.0 1104.0,1026.7 1126.9,1023.4 1149.9,1020.1 1172.8,1016.8 1195.8,1013.4 1218.7,1010.0 1241.7,1006.6 1264.6,1003.0 1287.6,999.4 1310.5,995.8 1333.5,992.0 1356.4,988.3 1379.4,984.5 1402.3,980.7 1425.3,976.9 1448.2,973.2 1471.2,969.4 1494.1,965.5 1517.1,961.7 1540.0,957.9 1563.0,954.1 1585.9,950.3 1608.9,946.5 1631.8,942.7 1654.8,938.9 1677.7,935.1 1700.7,931.2 1700.7,942.6 1677.7,945.8 1654.8,949.1 1631.8,952.3 1608.9,955.6 1585.9,958.8 1563.0,962.1 1540.0,965.3 1517.1,968.6 1494.1,971.9 1471.2,975.1 1448.2,978.4 1425.3,981.7 1402.3,985.0 1379.4,988.3 1356.4,991.6 1333.5,994.9 1310.5,998.2 1287.6,1001.6 1264.6,1005.1 1241.7,1008.6 1218.7,1012.2 1195.8,1015.9 1172.8,1019.6 1149.9,1023.3 1126.9,1027.1 1104.0,1030.9 1081.0,1034.7 1058.1,1038.5 1035.1,1042.3" fill="#999" fill-opacity="0.4"/><line x1="1035.1" y1="1039.4" x2="1700.7" y2="936.9" stroke="#3366FF" stroke-width="3.7"/><path d="M985.6 691.6V1264.1H1769.9" fill="none" stroke="#000" stroke-width="1.6"/><path d="M1079.7 1264.1v4.5M1236.2 1264.1v4.5M1393.5 1264.1v4.5M1550.4 1264.1v4.5M1707.3 1264.1v4.5M985.6 1192.5h-4.5M985.6 1049.23h-4.5M985.6 905.96h-4.5M985.6 762.6899999999999h-4.5" stroke="#000" stroke-width="1.3"/><text x="1078.3" y="1297.6" font-size="25" text-anchor="middle" font-weight="normal" >10</text><text x="1232.7" y="1297.6" font-size="25" text-anchor="middle" font-weight="normal" >15</text><text x="1398" y="1297.6" font-size="25" text-anchor="middle" font-weight="normal" >20</text><text x="1552.3" y="1297.6" font-size="25" text-anchor="middle" font-weight="normal" >25</text><text x="1707.5" y="1297.6" font-size="25" text-anchor="middle" font-weight="normal" >30</text><text x="979" y="1198.0" font-size="25" text-anchor="end" font-weight="normal" >1</text><text x="979" y="1054.7" font-size="25" text-anchor="end" font-weight="normal" >2</text><text x="979" y="911.5" font-size="25" text-anchor="end" font-weight="normal" >3</text><text x="979" y="768.2" font-size="25" text-anchor="end" font-weight="normal" >4</text><text x="886.8" y="687.1" font-size="31" text-anchor="start" font-weight="bold" >D</text><text x="1394.4" y="1321" font-size="29.3" text-anchor="middle" font-weight="normal" >baPWV, m/s</text><text transform="translate(953.1 977.1) rotate(-90)" font-size="29.1" text-anchor="middle">Peak velocity of TR, m/s</text><text x="1395" y="757.4" font-size="34.8"><tspan font-style="italic">r</tspan> = 0.322, <tspan font-style="italic">P</tspan> &lt; 0.001</text></svg>
</body></html>
